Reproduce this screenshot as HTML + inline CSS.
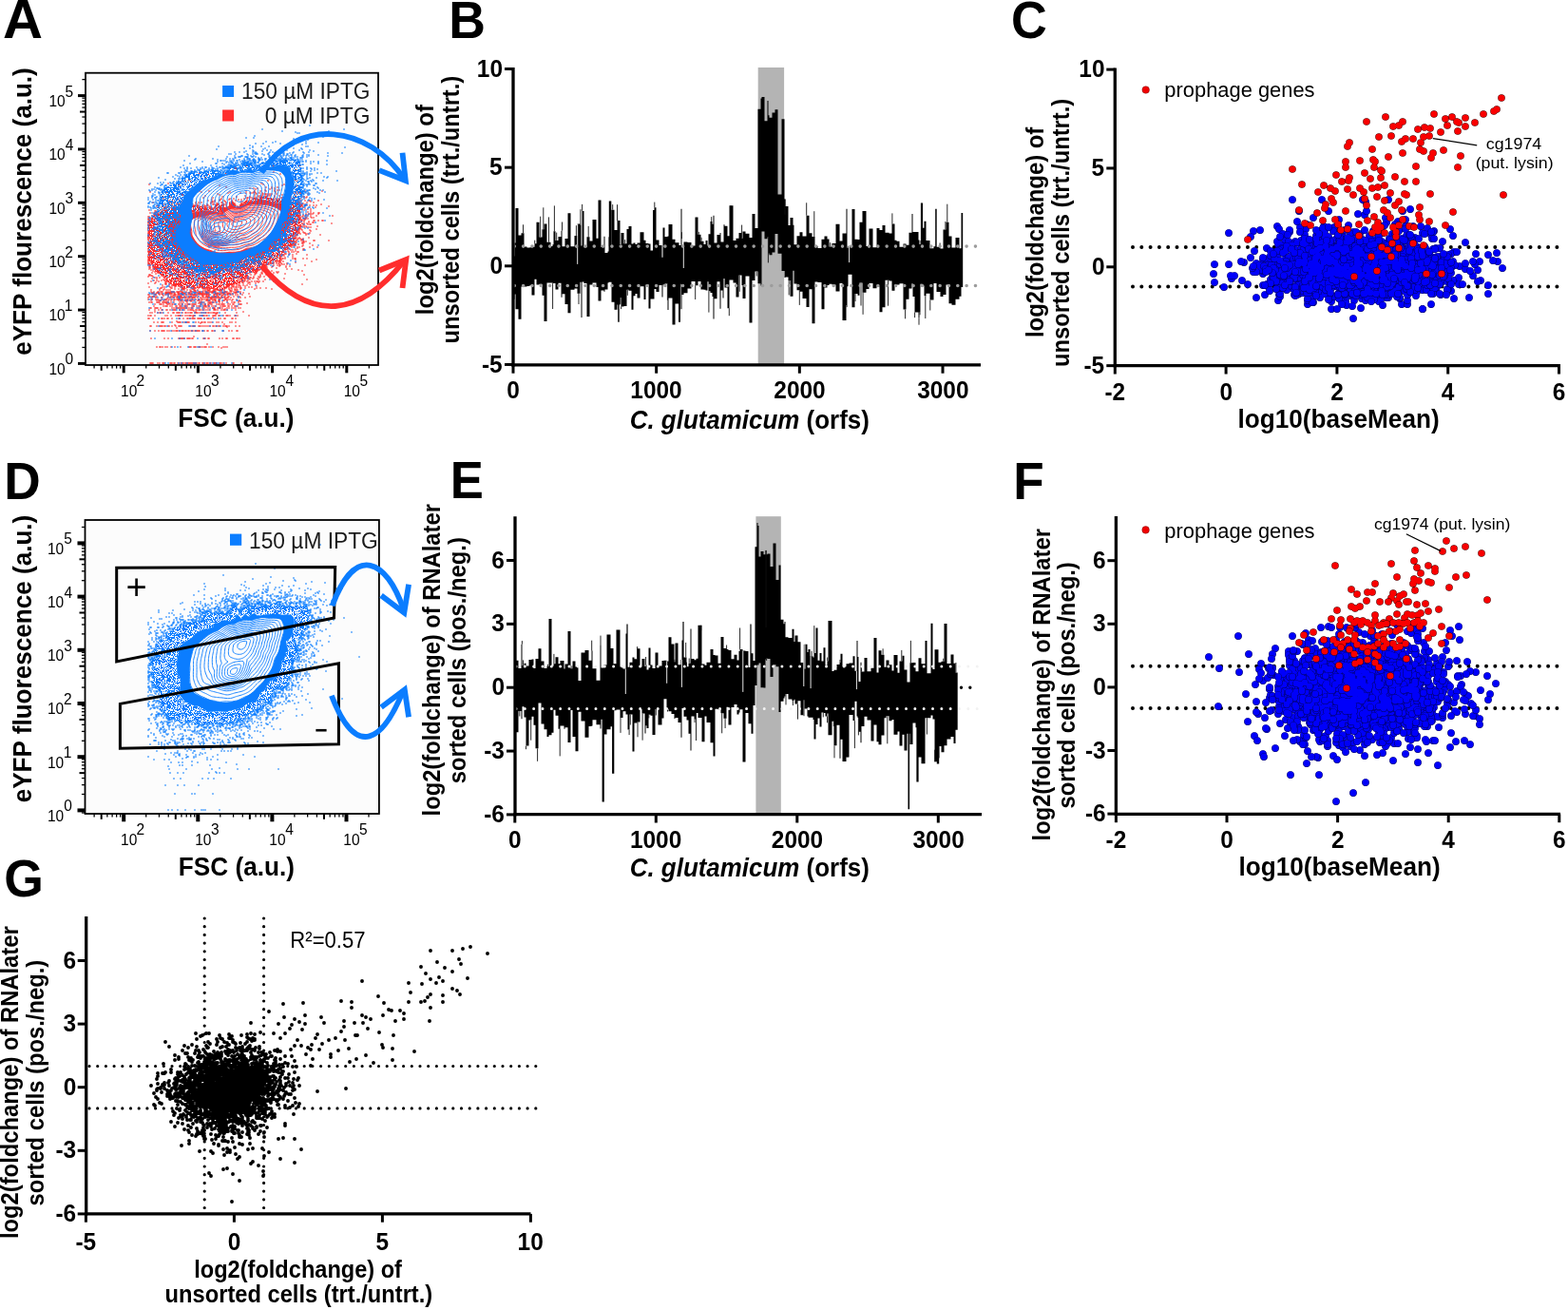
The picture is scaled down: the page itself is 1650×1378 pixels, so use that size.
<!DOCTYPE html>
<html><head><meta charset="utf-8"><style>html,body{margin:0;padding:0;background:#fff;}svg{display:block;}</style></head>
<body><svg width="1650" height="1378" viewBox="0 0 1650 1378" font-family="'Liberation Sans', Arial, sans-serif">
<rect width="1650" height="1378" fill="#fff"/>
<text transform="translate(3.11,40.37) scale(1.0230,1)" font-size="56.8" font-weight="bold" fill="#000">A</text>
<text transform="translate(472.25,39.80) scale(0.9573,1)" font-size="56" font-weight="bold" fill="#000">B</text>
<text transform="translate(1063.91,40.00) scale(0.9341,1)" font-size="56" font-weight="bold" fill="#000">C</text>
<text transform="translate(4.27,524.60) scale(0.9514,1)" font-size="56" font-weight="bold" fill="#000">D</text>
<text transform="translate(473.81,524.40) scale(0.9407,1)" font-size="56" font-weight="bold" fill="#000">E</text>
<text transform="translate(1066.28,524.60) scale(0.9500,1)" font-size="56" font-weight="bold" fill="#000">F</text>
<text transform="translate(4.16,943.30) scale(0.9559,1)" font-size="56" font-weight="bold" fill="#000">G</text>
<rect x="90" y="76.7" width="308" height="307.3" fill="#fcfcfc" stroke="#000" stroke-width="1.8"/>
<line x1="82.00" y1="382.40" x2="90.00" y2="382.40" stroke="#000" stroke-width="3.0"/>
<line x1="86.40" y1="365.43" x2="90.00" y2="365.43" stroke="#000" stroke-width="1.3"/>
<line x1="86.40" y1="355.51" x2="90.00" y2="355.51" stroke="#000" stroke-width="1.3"/>
<line x1="86.40" y1="348.47" x2="90.00" y2="348.47" stroke="#000" stroke-width="1.3"/>
<line x1="84.00" y1="343.01" x2="90.00" y2="343.01" stroke="#000" stroke-width="2.0"/>
<line x1="86.40" y1="338.54" x2="90.00" y2="338.54" stroke="#000" stroke-width="1.3"/>
<line x1="86.40" y1="334.77" x2="90.00" y2="334.77" stroke="#000" stroke-width="1.3"/>
<line x1="86.40" y1="331.50" x2="90.00" y2="331.50" stroke="#000" stroke-width="1.3"/>
<line x1="86.40" y1="328.62" x2="90.00" y2="328.62" stroke="#000" stroke-width="1.3"/>
<line x1="82.00" y1="326.04" x2="90.00" y2="326.04" stroke="#000" stroke-width="3.0"/>
<line x1="86.40" y1="309.07" x2="90.00" y2="309.07" stroke="#000" stroke-width="1.3"/>
<line x1="86.40" y1="299.15" x2="90.00" y2="299.15" stroke="#000" stroke-width="1.3"/>
<line x1="86.40" y1="292.11" x2="90.00" y2="292.11" stroke="#000" stroke-width="1.3"/>
<line x1="84.00" y1="286.65" x2="90.00" y2="286.65" stroke="#000" stroke-width="2.0"/>
<line x1="86.40" y1="282.18" x2="90.00" y2="282.18" stroke="#000" stroke-width="1.3"/>
<line x1="86.40" y1="278.41" x2="90.00" y2="278.41" stroke="#000" stroke-width="1.3"/>
<line x1="86.40" y1="275.14" x2="90.00" y2="275.14" stroke="#000" stroke-width="1.3"/>
<line x1="86.40" y1="272.26" x2="90.00" y2="272.26" stroke="#000" stroke-width="1.3"/>
<line x1="82.00" y1="269.68" x2="90.00" y2="269.68" stroke="#000" stroke-width="3.0"/>
<line x1="86.40" y1="252.71" x2="90.00" y2="252.71" stroke="#000" stroke-width="1.3"/>
<line x1="86.40" y1="242.79" x2="90.00" y2="242.79" stroke="#000" stroke-width="1.3"/>
<line x1="86.40" y1="235.75" x2="90.00" y2="235.75" stroke="#000" stroke-width="1.3"/>
<line x1="84.00" y1="230.29" x2="90.00" y2="230.29" stroke="#000" stroke-width="2.0"/>
<line x1="86.40" y1="225.82" x2="90.00" y2="225.82" stroke="#000" stroke-width="1.3"/>
<line x1="86.40" y1="222.05" x2="90.00" y2="222.05" stroke="#000" stroke-width="1.3"/>
<line x1="86.40" y1="218.78" x2="90.00" y2="218.78" stroke="#000" stroke-width="1.3"/>
<line x1="86.40" y1="215.90" x2="90.00" y2="215.90" stroke="#000" stroke-width="1.3"/>
<line x1="82.00" y1="213.32" x2="90.00" y2="213.32" stroke="#000" stroke-width="3.0"/>
<line x1="86.40" y1="196.35" x2="90.00" y2="196.35" stroke="#000" stroke-width="1.3"/>
<line x1="86.40" y1="186.43" x2="90.00" y2="186.43" stroke="#000" stroke-width="1.3"/>
<line x1="86.40" y1="179.39" x2="90.00" y2="179.39" stroke="#000" stroke-width="1.3"/>
<line x1="84.00" y1="173.93" x2="90.00" y2="173.93" stroke="#000" stroke-width="2.0"/>
<line x1="86.40" y1="169.46" x2="90.00" y2="169.46" stroke="#000" stroke-width="1.3"/>
<line x1="86.40" y1="165.69" x2="90.00" y2="165.69" stroke="#000" stroke-width="1.3"/>
<line x1="86.40" y1="162.42" x2="90.00" y2="162.42" stroke="#000" stroke-width="1.3"/>
<line x1="86.40" y1="159.54" x2="90.00" y2="159.54" stroke="#000" stroke-width="1.3"/>
<line x1="82.00" y1="156.96" x2="90.00" y2="156.96" stroke="#000" stroke-width="3.0"/>
<line x1="86.40" y1="139.99" x2="90.00" y2="139.99" stroke="#000" stroke-width="1.3"/>
<line x1="86.40" y1="130.07" x2="90.00" y2="130.07" stroke="#000" stroke-width="1.3"/>
<line x1="86.40" y1="123.03" x2="90.00" y2="123.03" stroke="#000" stroke-width="1.3"/>
<line x1="84.00" y1="117.57" x2="90.00" y2="117.57" stroke="#000" stroke-width="2.0"/>
<line x1="86.40" y1="113.10" x2="90.00" y2="113.10" stroke="#000" stroke-width="1.3"/>
<line x1="86.40" y1="109.33" x2="90.00" y2="109.33" stroke="#000" stroke-width="1.3"/>
<line x1="86.40" y1="106.06" x2="90.00" y2="106.06" stroke="#000" stroke-width="1.3"/>
<line x1="86.40" y1="103.18" x2="90.00" y2="103.18" stroke="#000" stroke-width="1.3"/>
<line x1="82.00" y1="100.60" x2="90.00" y2="100.60" stroke="#000" stroke-width="3.0"/>
<line x1="86.40" y1="83.63" x2="90.00" y2="83.63" stroke="#000" stroke-width="1.3"/>
<line x1="99.08" y1="384.00" x2="99.08" y2="387.60" stroke="#000" stroke-width="1.3"/>
<line x1="106.66" y1="384.00" x2="106.66" y2="389.80" stroke="#000" stroke-width="2.0"/>
<line x1="112.85" y1="384.00" x2="112.85" y2="387.60" stroke="#000" stroke-width="1.3"/>
<line x1="118.09" y1="384.00" x2="118.09" y2="387.60" stroke="#000" stroke-width="1.3"/>
<line x1="122.62" y1="384.00" x2="122.62" y2="387.60" stroke="#000" stroke-width="1.3"/>
<line x1="126.62" y1="384.00" x2="126.62" y2="387.60" stroke="#000" stroke-width="1.3"/>
<line x1="130.20" y1="384.00" x2="130.20" y2="392.30" stroke="#000" stroke-width="3.0"/>
<line x1="153.74" y1="384.00" x2="153.74" y2="387.60" stroke="#000" stroke-width="1.3"/>
<line x1="167.51" y1="384.00" x2="167.51" y2="387.60" stroke="#000" stroke-width="1.3"/>
<line x1="177.28" y1="384.00" x2="177.28" y2="387.60" stroke="#000" stroke-width="1.3"/>
<line x1="184.86" y1="384.00" x2="184.86" y2="389.80" stroke="#000" stroke-width="2.0"/>
<line x1="191.05" y1="384.00" x2="191.05" y2="387.60" stroke="#000" stroke-width="1.3"/>
<line x1="196.29" y1="384.00" x2="196.29" y2="387.60" stroke="#000" stroke-width="1.3"/>
<line x1="200.82" y1="384.00" x2="200.82" y2="387.60" stroke="#000" stroke-width="1.3"/>
<line x1="204.82" y1="384.00" x2="204.82" y2="387.60" stroke="#000" stroke-width="1.3"/>
<line x1="208.40" y1="384.00" x2="208.40" y2="392.30" stroke="#000" stroke-width="3.0"/>
<line x1="231.94" y1="384.00" x2="231.94" y2="387.60" stroke="#000" stroke-width="1.3"/>
<line x1="245.71" y1="384.00" x2="245.71" y2="387.60" stroke="#000" stroke-width="1.3"/>
<line x1="255.48" y1="384.00" x2="255.48" y2="387.60" stroke="#000" stroke-width="1.3"/>
<line x1="263.06" y1="384.00" x2="263.06" y2="389.80" stroke="#000" stroke-width="2.0"/>
<line x1="269.25" y1="384.00" x2="269.25" y2="387.60" stroke="#000" stroke-width="1.3"/>
<line x1="274.49" y1="384.00" x2="274.49" y2="387.60" stroke="#000" stroke-width="1.3"/>
<line x1="279.02" y1="384.00" x2="279.02" y2="387.60" stroke="#000" stroke-width="1.3"/>
<line x1="283.02" y1="384.00" x2="283.02" y2="387.60" stroke="#000" stroke-width="1.3"/>
<line x1="286.60" y1="384.00" x2="286.60" y2="392.30" stroke="#000" stroke-width="3.0"/>
<line x1="310.14" y1="384.00" x2="310.14" y2="387.60" stroke="#000" stroke-width="1.3"/>
<line x1="323.91" y1="384.00" x2="323.91" y2="387.60" stroke="#000" stroke-width="1.3"/>
<line x1="333.68" y1="384.00" x2="333.68" y2="387.60" stroke="#000" stroke-width="1.3"/>
<line x1="341.26" y1="384.00" x2="341.26" y2="389.80" stroke="#000" stroke-width="2.0"/>
<line x1="347.45" y1="384.00" x2="347.45" y2="387.60" stroke="#000" stroke-width="1.3"/>
<line x1="352.69" y1="384.00" x2="352.69" y2="387.60" stroke="#000" stroke-width="1.3"/>
<line x1="357.22" y1="384.00" x2="357.22" y2="387.60" stroke="#000" stroke-width="1.3"/>
<line x1="361.22" y1="384.00" x2="361.22" y2="387.60" stroke="#000" stroke-width="1.3"/>
<line x1="364.80" y1="384.00" x2="364.80" y2="392.30" stroke="#000" stroke-width="3.0"/>
<line x1="388.34" y1="384.00" x2="388.34" y2="387.60" stroke="#000" stroke-width="1.3"/>
<text transform="translate(51.39,393.80) scale(0.9700,1)" font-size="16" fill="#000">10</text>
<text transform="translate(68.38,383.40) scale(0.9700,1)" font-size="16" fill="#000">0</text>
<text transform="translate(51.39,337.44) scale(0.9700,1)" font-size="16" fill="#000">10</text>
<text transform="translate(67.76,327.04) scale(0.9700,1)" font-size="16" fill="#000">1</text>
<text transform="translate(51.39,281.08) scale(0.9700,1)" font-size="16" fill="#000">10</text>
<text transform="translate(68.22,270.68) scale(0.9700,1)" font-size="16" fill="#000">2</text>
<text transform="translate(51.39,224.72) scale(0.9700,1)" font-size="16" fill="#000">10</text>
<text transform="translate(68.38,214.32) scale(0.9700,1)" font-size="16" fill="#000">3</text>
<text transform="translate(51.39,168.36) scale(0.9700,1)" font-size="16" fill="#000">10</text>
<text transform="translate(68.69,157.96) scale(0.9700,1)" font-size="16" fill="#000">4</text>
<text transform="translate(51.39,112.00) scale(0.9700,1)" font-size="16" fill="#000">10</text>
<text transform="translate(68.38,101.60) scale(0.9700,1)" font-size="16" fill="#000">5</text>
<text transform="translate(127.06,417.30) scale(0.9700,1)" font-size="16" fill="#000">10</text>
<text transform="translate(143.62,406.40) scale(0.9700,1)" font-size="16" fill="#000">2</text>
<text transform="translate(205.26,417.30) scale(0.9700,1)" font-size="16" fill="#000">10</text>
<text transform="translate(221.98,406.40) scale(0.9700,1)" font-size="16" fill="#000">3</text>
<text transform="translate(283.46,417.30) scale(0.9700,1)" font-size="16" fill="#000">10</text>
<text transform="translate(300.49,406.40) scale(0.9700,1)" font-size="16" fill="#000">4</text>
<text transform="translate(361.66,417.30) scale(0.9700,1)" font-size="16" fill="#000">10</text>
<text transform="translate(378.38,406.40) scale(0.9700,1)" font-size="16" fill="#000">5</text>
<clipPath id="cA"><rect x="155.5" y="77" width="242" height="306"/></clipPath>
<pattern id="pR" width="28" height="28" patternUnits="userSpaceOnUse"><path d="M0 0h1v1h-1zM3 0h1v1h-1zM4 0h1v1h-1zM6 0h1v1h-1zM9 0h1v1h-1zM10 0h1v1h-1zM11 0h1v1h-1zM12 0h1v1h-1zM13 0h1v1h-1zM14 0h1v1h-1zM15 0h1v1h-1zM18 0h1v1h-1zM20 0h1v1h-1zM21 0h1v1h-1zM22 0h1v1h-1zM23 0h1v1h-1zM24 0h1v1h-1zM25 0h1v1h-1zM26 0h1v1h-1zM0 1h1v1h-1zM1 1h1v1h-1zM2 1h1v1h-1zM3 1h1v1h-1zM4 1h1v1h-1zM5 1h1v1h-1zM7 1h1v1h-1zM8 1h1v1h-1zM9 1h1v1h-1zM11 1h1v1h-1zM12 1h1v1h-1zM14 1h1v1h-1zM16 1h1v1h-1zM18 1h1v1h-1zM19 1h1v1h-1zM20 1h1v1h-1zM22 1h1v1h-1zM23 1h1v1h-1zM24 1h1v1h-1zM25 1h1v1h-1zM26 1h1v1h-1zM27 1h1v1h-1zM1 2h1v1h-1zM3 2h1v1h-1zM4 2h1v1h-1zM5 2h1v1h-1zM6 2h1v1h-1zM7 2h1v1h-1zM8 2h1v1h-1zM9 2h1v1h-1zM10 2h1v1h-1zM11 2h1v1h-1zM13 2h1v1h-1zM14 2h1v1h-1zM15 2h1v1h-1zM17 2h1v1h-1zM18 2h1v1h-1zM22 2h1v1h-1zM23 2h1v1h-1zM24 2h1v1h-1zM26 2h1v1h-1zM27 2h1v1h-1zM1 3h1v1h-1zM2 3h1v1h-1zM3 3h1v1h-1zM4 3h1v1h-1zM5 3h1v1h-1zM6 3h1v1h-1zM8 3h1v1h-1zM9 3h1v1h-1zM10 3h1v1h-1zM12 3h1v1h-1zM13 3h1v1h-1zM14 3h1v1h-1zM15 3h1v1h-1zM17 3h1v1h-1zM18 3h1v1h-1zM19 3h1v1h-1zM21 3h1v1h-1zM22 3h1v1h-1zM24 3h1v1h-1zM25 3h1v1h-1zM0 4h1v1h-1zM2 4h1v1h-1zM5 4h1v1h-1zM6 4h1v1h-1zM8 4h1v1h-1zM9 4h1v1h-1zM11 4h1v1h-1zM13 4h1v1h-1zM14 4h1v1h-1zM15 4h1v1h-1zM16 4h1v1h-1zM17 4h1v1h-1zM19 4h1v1h-1zM20 4h1v1h-1zM21 4h1v1h-1zM23 4h1v1h-1zM25 4h1v1h-1zM26 4h1v1h-1zM1 5h1v1h-1zM2 5h1v1h-1zM4 5h1v1h-1zM6 5h1v1h-1zM7 5h1v1h-1zM8 5h1v1h-1zM10 5h1v1h-1zM12 5h1v1h-1zM14 5h1v1h-1zM16 5h1v1h-1zM17 5h1v1h-1zM18 5h1v1h-1zM19 5h1v1h-1zM20 5h1v1h-1zM23 5h1v1h-1zM24 5h1v1h-1zM25 5h1v1h-1zM26 5h1v1h-1zM27 5h1v1h-1zM0 6h1v1h-1zM2 6h1v1h-1zM3 6h1v1h-1zM4 6h1v1h-1zM5 6h1v1h-1zM6 6h1v1h-1zM7 6h1v1h-1zM11 6h1v1h-1zM15 6h1v1h-1zM17 6h1v1h-1zM18 6h1v1h-1zM19 6h1v1h-1zM20 6h1v1h-1zM21 6h1v1h-1zM22 6h1v1h-1zM23 6h1v1h-1zM24 6h1v1h-1zM25 6h1v1h-1zM26 6h1v1h-1zM27 6h1v1h-1zM0 7h1v1h-1zM1 7h1v1h-1zM3 7h1v1h-1zM5 7h1v1h-1zM6 7h1v1h-1zM7 7h1v1h-1zM8 7h1v1h-1zM9 7h1v1h-1zM13 7h1v1h-1zM14 7h1v1h-1zM15 7h1v1h-1zM16 7h1v1h-1zM17 7h1v1h-1zM19 7h1v1h-1zM22 7h1v1h-1zM25 7h1v1h-1zM26 7h1v1h-1zM27 7h1v1h-1zM0 8h1v1h-1zM1 8h1v1h-1zM2 8h1v1h-1zM3 8h1v1h-1zM6 8h1v1h-1zM10 8h1v1h-1zM11 8h1v1h-1zM12 8h1v1h-1zM13 8h1v1h-1zM14 8h1v1h-1zM16 8h1v1h-1zM17 8h1v1h-1zM18 8h1v1h-1zM19 8h1v1h-1zM20 8h1v1h-1zM21 8h1v1h-1zM22 8h1v1h-1zM23 8h1v1h-1zM25 8h1v1h-1zM26 8h1v1h-1zM27 8h1v1h-1zM0 9h1v1h-1zM1 9h1v1h-1zM2 9h1v1h-1zM3 9h1v1h-1zM4 9h1v1h-1zM6 9h1v1h-1zM7 9h1v1h-1zM8 9h1v1h-1zM10 9h1v1h-1zM11 9h1v1h-1zM12 9h1v1h-1zM13 9h1v1h-1zM15 9h1v1h-1zM16 9h1v1h-1zM18 9h1v1h-1zM19 9h1v1h-1zM20 9h1v1h-1zM22 9h1v1h-1zM24 9h1v1h-1zM0 10h1v1h-1zM1 10h1v1h-1zM2 10h1v1h-1zM3 10h1v1h-1zM5 10h1v1h-1zM6 10h1v1h-1zM7 10h1v1h-1zM10 10h1v1h-1zM11 10h1v1h-1zM13 10h1v1h-1zM19 10h1v1h-1zM20 10h1v1h-1zM21 10h1v1h-1zM25 10h1v1h-1zM26 10h1v1h-1zM27 10h1v1h-1zM0 11h1v1h-1zM2 11h1v1h-1zM3 11h1v1h-1zM4 11h1v1h-1zM6 11h1v1h-1zM9 11h1v1h-1zM10 11h1v1h-1zM13 11h1v1h-1zM17 11h1v1h-1zM18 11h1v1h-1zM20 11h1v1h-1zM21 11h1v1h-1zM22 11h1v1h-1zM23 11h1v1h-1zM25 11h1v1h-1zM27 11h1v1h-1zM1 12h1v1h-1zM2 12h1v1h-1zM3 12h1v1h-1zM4 12h1v1h-1zM5 12h1v1h-1zM7 12h1v1h-1zM8 12h1v1h-1zM12 12h1v1h-1zM13 12h1v1h-1zM14 12h1v1h-1zM15 12h1v1h-1zM16 12h1v1h-1zM17 12h1v1h-1zM18 12h1v1h-1zM19 12h1v1h-1zM21 12h1v1h-1zM22 12h1v1h-1zM23 12h1v1h-1zM24 12h1v1h-1zM25 12h1v1h-1zM26 12h1v1h-1zM27 12h1v1h-1zM0 13h1v1h-1zM1 13h1v1h-1zM2 13h1v1h-1zM5 13h1v1h-1zM6 13h1v1h-1zM7 13h1v1h-1zM10 13h1v1h-1zM12 13h1v1h-1zM13 13h1v1h-1zM14 13h1v1h-1zM16 13h1v1h-1zM17 13h1v1h-1zM18 13h1v1h-1zM19 13h1v1h-1zM20 13h1v1h-1zM21 13h1v1h-1zM2 14h1v1h-1zM3 14h1v1h-1zM5 14h1v1h-1zM7 14h1v1h-1zM8 14h1v1h-1zM10 14h1v1h-1zM11 14h1v1h-1zM12 14h1v1h-1zM14 14h1v1h-1zM16 14h1v1h-1zM19 14h1v1h-1zM21 14h1v1h-1zM22 14h1v1h-1zM25 14h1v1h-1zM26 14h1v1h-1zM27 14h1v1h-1zM0 15h1v1h-1zM2 15h1v1h-1zM4 15h1v1h-1zM6 15h1v1h-1zM7 15h1v1h-1zM9 15h1v1h-1zM11 15h1v1h-1zM12 15h1v1h-1zM13 15h1v1h-1zM15 15h1v1h-1zM16 15h1v1h-1zM17 15h1v1h-1zM18 15h1v1h-1zM19 15h1v1h-1zM20 15h1v1h-1zM21 15h1v1h-1zM22 15h1v1h-1zM24 15h1v1h-1zM25 15h1v1h-1zM0 16h1v1h-1zM2 16h1v1h-1zM3 16h1v1h-1zM5 16h1v1h-1zM6 16h1v1h-1zM7 16h1v1h-1zM8 16h1v1h-1zM9 16h1v1h-1zM11 16h1v1h-1zM12 16h1v1h-1zM14 16h1v1h-1zM15 16h1v1h-1zM17 16h1v1h-1zM20 16h1v1h-1zM22 16h1v1h-1zM23 16h1v1h-1zM25 16h1v1h-1zM26 16h1v1h-1zM27 16h1v1h-1zM0 17h1v1h-1zM1 17h1v1h-1zM2 17h1v1h-1zM3 17h1v1h-1zM4 17h1v1h-1zM5 17h1v1h-1zM6 17h1v1h-1zM8 17h1v1h-1zM9 17h1v1h-1zM10 17h1v1h-1zM11 17h1v1h-1zM14 17h1v1h-1zM15 17h1v1h-1zM17 17h1v1h-1zM19 17h1v1h-1zM21 17h1v1h-1zM22 17h1v1h-1zM23 17h1v1h-1zM24 17h1v1h-1zM27 17h1v1h-1zM1 18h1v1h-1zM2 18h1v1h-1zM3 18h1v1h-1zM4 18h1v1h-1zM5 18h1v1h-1zM8 18h1v1h-1zM11 18h1v1h-1zM12 18h1v1h-1zM14 18h1v1h-1zM15 18h1v1h-1zM16 18h1v1h-1zM17 18h1v1h-1zM18 18h1v1h-1zM19 18h1v1h-1zM20 18h1v1h-1zM21 18h1v1h-1zM22 18h1v1h-1zM24 18h1v1h-1zM25 18h1v1h-1zM26 18h1v1h-1zM27 18h1v1h-1zM0 19h1v1h-1zM3 19h1v1h-1zM4 19h1v1h-1zM5 19h1v1h-1zM7 19h1v1h-1zM9 19h1v1h-1zM10 19h1v1h-1zM13 19h1v1h-1zM14 19h1v1h-1zM15 19h1v1h-1zM16 19h1v1h-1zM17 19h1v1h-1zM18 19h1v1h-1zM19 19h1v1h-1zM20 19h1v1h-1zM21 19h1v1h-1zM22 19h1v1h-1zM23 19h1v1h-1zM25 19h1v1h-1zM26 19h1v1h-1zM27 19h1v1h-1zM0 20h1v1h-1zM1 20h1v1h-1zM2 20h1v1h-1zM3 20h1v1h-1zM4 20h1v1h-1zM6 20h1v1h-1zM7 20h1v1h-1zM8 20h1v1h-1zM9 20h1v1h-1zM11 20h1v1h-1zM14 20h1v1h-1zM15 20h1v1h-1zM16 20h1v1h-1zM17 20h1v1h-1zM19 20h1v1h-1zM22 20h1v1h-1zM23 20h1v1h-1zM24 20h1v1h-1zM0 21h1v1h-1zM1 21h1v1h-1zM2 21h1v1h-1zM3 21h1v1h-1zM5 21h1v1h-1zM6 21h1v1h-1zM7 21h1v1h-1zM8 21h1v1h-1zM11 21h1v1h-1zM14 21h1v1h-1zM15 21h1v1h-1zM16 21h1v1h-1zM17 21h1v1h-1zM18 21h1v1h-1zM19 21h1v1h-1zM21 21h1v1h-1zM25 21h1v1h-1zM26 21h1v1h-1zM0 22h1v1h-1zM1 22h1v1h-1zM4 22h1v1h-1zM5 22h1v1h-1zM7 22h1v1h-1zM9 22h1v1h-1zM11 22h1v1h-1zM12 22h1v1h-1zM13 22h1v1h-1zM14 22h1v1h-1zM16 22h1v1h-1zM17 22h1v1h-1zM19 22h1v1h-1zM20 22h1v1h-1zM21 22h1v1h-1zM22 22h1v1h-1zM24 22h1v1h-1zM26 22h1v1h-1zM0 23h1v1h-1zM3 23h1v1h-1zM4 23h1v1h-1zM7 23h1v1h-1zM9 23h1v1h-1zM10 23h1v1h-1zM12 23h1v1h-1zM13 23h1v1h-1zM14 23h1v1h-1zM15 23h1v1h-1zM16 23h1v1h-1zM17 23h1v1h-1zM18 23h1v1h-1zM19 23h1v1h-1zM20 23h1v1h-1zM21 23h1v1h-1zM24 23h1v1h-1zM25 23h1v1h-1zM26 23h1v1h-1zM27 23h1v1h-1zM0 24h1v1h-1zM2 24h1v1h-1zM4 24h1v1h-1zM5 24h1v1h-1zM8 24h1v1h-1zM9 24h1v1h-1zM10 24h1v1h-1zM12 24h1v1h-1zM13 24h1v1h-1zM15 24h1v1h-1zM16 24h1v1h-1zM18 24h1v1h-1zM19 24h1v1h-1zM20 24h1v1h-1zM21 24h1v1h-1zM22 24h1v1h-1zM23 24h1v1h-1zM25 24h1v1h-1zM26 24h1v1h-1zM27 24h1v1h-1zM0 25h1v1h-1zM2 25h1v1h-1zM4 25h1v1h-1zM5 25h1v1h-1zM6 25h1v1h-1zM7 25h1v1h-1zM8 25h1v1h-1zM9 25h1v1h-1zM11 25h1v1h-1zM12 25h1v1h-1zM14 25h1v1h-1zM15 25h1v1h-1zM16 25h1v1h-1zM17 25h1v1h-1zM19 25h1v1h-1zM20 25h1v1h-1zM23 25h1v1h-1zM24 25h1v1h-1zM25 25h1v1h-1zM0 26h1v1h-1zM1 26h1v1h-1zM2 26h1v1h-1zM3 26h1v1h-1zM5 26h1v1h-1zM6 26h1v1h-1zM7 26h1v1h-1zM8 26h1v1h-1zM10 26h1v1h-1zM11 26h1v1h-1zM12 26h1v1h-1zM15 26h1v1h-1zM17 26h1v1h-1zM19 26h1v1h-1zM21 26h1v1h-1zM22 26h1v1h-1zM23 26h1v1h-1zM24 26h1v1h-1zM25 26h1v1h-1zM26 26h1v1h-1zM27 26h1v1h-1zM0 27h1v1h-1zM1 27h1v1h-1zM2 27h1v1h-1zM3 27h1v1h-1zM4 27h1v1h-1zM5 27h1v1h-1zM6 27h1v1h-1zM7 27h1v1h-1zM8 27h1v1h-1zM10 27h1v1h-1zM11 27h1v1h-1zM13 27h1v1h-1zM16 27h1v1h-1zM18 27h1v1h-1zM19 27h1v1h-1zM20 27h1v1h-1zM21 27h1v1h-1zM23 27h1v1h-1zM25 27h1v1h-1zM26 27h1v1h-1z" fill="#ff2d2d"/><path d="M7 0h1v1h-1zM0 2h1v1h-1zM19 2h1v1h-1zM25 2h1v1h-1zM16 3h1v1h-1zM10 4h1v1h-1zM27 4h1v1h-1zM11 5h1v1h-1zM1 6h1v1h-1zM10 6h1v1h-1zM12 6h1v1h-1zM4 8h1v1h-1zM17 10h1v1h-1zM22 10h1v1h-1zM24 11h1v1h-1zM3 15h1v1h-1zM16 16h1v1h-1zM21 16h1v1h-1zM11 19h1v1h-1zM7 24h1v1h-1zM14 24h1v1h-1z" fill="#0b7dff"/></pattern>
<pattern id="pB" width="28" height="28" patternUnits="userSpaceOnUse"><path d="M0 0h1v1h-1zM1 0h1v1h-1zM2 0h1v1h-1zM3 0h1v1h-1zM6 0h1v1h-1zM7 0h1v1h-1zM8 0h1v1h-1zM9 0h1v1h-1zM15 0h1v1h-1zM16 0h1v1h-1zM17 0h1v1h-1zM19 0h1v1h-1zM20 0h1v1h-1zM21 0h1v1h-1zM22 0h1v1h-1zM24 0h1v1h-1zM25 0h1v1h-1zM1 1h1v1h-1zM2 1h1v1h-1zM5 1h1v1h-1zM6 1h1v1h-1zM7 1h1v1h-1zM8 1h1v1h-1zM9 1h1v1h-1zM10 1h1v1h-1zM11 1h1v1h-1zM12 1h1v1h-1zM13 1h1v1h-1zM14 1h1v1h-1zM15 1h1v1h-1zM16 1h1v1h-1zM17 1h1v1h-1zM18 1h1v1h-1zM19 1h1v1h-1zM21 1h1v1h-1zM22 1h1v1h-1zM1 2h1v1h-1zM3 2h1v1h-1zM4 2h1v1h-1zM5 2h1v1h-1zM6 2h1v1h-1zM7 2h1v1h-1zM11 2h1v1h-1zM14 2h1v1h-1zM15 2h1v1h-1zM16 2h1v1h-1zM17 2h1v1h-1zM18 2h1v1h-1zM19 2h1v1h-1zM20 2h1v1h-1zM22 2h1v1h-1zM24 2h1v1h-1zM0 3h1v1h-1zM2 3h1v1h-1zM3 3h1v1h-1zM4 3h1v1h-1zM5 3h1v1h-1zM6 3h1v1h-1zM7 3h1v1h-1zM8 3h1v1h-1zM9 3h1v1h-1zM11 3h1v1h-1zM12 3h1v1h-1zM13 3h1v1h-1zM14 3h1v1h-1zM15 3h1v1h-1zM17 3h1v1h-1zM18 3h1v1h-1zM19 3h1v1h-1zM20 3h1v1h-1zM23 3h1v1h-1zM24 3h1v1h-1zM25 3h1v1h-1zM26 3h1v1h-1zM3 4h1v1h-1zM4 4h1v1h-1zM5 4h1v1h-1zM7 4h1v1h-1zM8 4h1v1h-1zM10 4h1v1h-1zM11 4h1v1h-1zM12 4h1v1h-1zM14 4h1v1h-1zM15 4h1v1h-1zM16 4h1v1h-1zM18 4h1v1h-1zM20 4h1v1h-1zM22 4h1v1h-1zM24 4h1v1h-1zM27 4h1v1h-1zM0 5h1v1h-1zM1 5h1v1h-1zM2 5h1v1h-1zM3 5h1v1h-1zM5 5h1v1h-1zM6 5h1v1h-1zM7 5h1v1h-1zM8 5h1v1h-1zM9 5h1v1h-1zM10 5h1v1h-1zM11 5h1v1h-1zM12 5h1v1h-1zM13 5h1v1h-1zM15 5h1v1h-1zM16 5h1v1h-1zM17 5h1v1h-1zM18 5h1v1h-1zM19 5h1v1h-1zM20 5h1v1h-1zM21 5h1v1h-1zM25 5h1v1h-1zM26 5h1v1h-1zM27 5h1v1h-1zM0 6h1v1h-1zM2 6h1v1h-1zM3 6h1v1h-1zM5 6h1v1h-1zM6 6h1v1h-1zM8 6h1v1h-1zM9 6h1v1h-1zM10 6h1v1h-1zM12 6h1v1h-1zM13 6h1v1h-1zM18 6h1v1h-1zM19 6h1v1h-1zM20 6h1v1h-1zM21 6h1v1h-1zM23 6h1v1h-1zM24 6h1v1h-1zM25 6h1v1h-1zM26 6h1v1h-1zM27 6h1v1h-1zM0 7h1v1h-1zM3 7h1v1h-1zM6 7h1v1h-1zM9 7h1v1h-1zM10 7h1v1h-1zM13 7h1v1h-1zM14 7h1v1h-1zM17 7h1v1h-1zM18 7h1v1h-1zM19 7h1v1h-1zM21 7h1v1h-1zM22 7h1v1h-1zM23 7h1v1h-1zM24 7h1v1h-1zM26 7h1v1h-1zM27 7h1v1h-1zM1 8h1v1h-1zM2 8h1v1h-1zM4 8h1v1h-1zM7 8h1v1h-1zM8 8h1v1h-1zM9 8h1v1h-1zM11 8h1v1h-1zM12 8h1v1h-1zM13 8h1v1h-1zM14 8h1v1h-1zM15 8h1v1h-1zM18 8h1v1h-1zM20 8h1v1h-1zM21 8h1v1h-1zM22 8h1v1h-1zM24 8h1v1h-1zM25 8h1v1h-1zM27 8h1v1h-1zM1 9h1v1h-1zM8 9h1v1h-1zM9 9h1v1h-1zM10 9h1v1h-1zM11 9h1v1h-1zM12 9h1v1h-1zM15 9h1v1h-1zM17 9h1v1h-1zM18 9h1v1h-1zM22 9h1v1h-1zM23 9h1v1h-1zM25 9h1v1h-1zM0 10h1v1h-1zM2 10h1v1h-1zM5 10h1v1h-1zM6 10h1v1h-1zM7 10h1v1h-1zM8 10h1v1h-1zM9 10h1v1h-1zM12 10h1v1h-1zM14 10h1v1h-1zM15 10h1v1h-1zM17 10h1v1h-1zM20 10h1v1h-1zM21 10h1v1h-1zM25 10h1v1h-1zM0 11h1v1h-1zM1 11h1v1h-1zM2 11h1v1h-1zM3 11h1v1h-1zM4 11h1v1h-1zM5 11h1v1h-1zM6 11h1v1h-1zM8 11h1v1h-1zM9 11h1v1h-1zM10 11h1v1h-1zM11 11h1v1h-1zM13 11h1v1h-1zM14 11h1v1h-1zM15 11h1v1h-1zM16 11h1v1h-1zM18 11h1v1h-1zM19 11h1v1h-1zM21 11h1v1h-1zM23 11h1v1h-1zM24 11h1v1h-1zM1 12h1v1h-1zM2 12h1v1h-1zM6 12h1v1h-1zM7 12h1v1h-1zM8 12h1v1h-1zM9 12h1v1h-1zM14 12h1v1h-1zM16 12h1v1h-1zM18 12h1v1h-1zM19 12h1v1h-1zM21 12h1v1h-1zM22 12h1v1h-1zM23 12h1v1h-1zM25 12h1v1h-1zM27 12h1v1h-1zM0 13h1v1h-1zM1 13h1v1h-1zM5 13h1v1h-1zM8 13h1v1h-1zM11 13h1v1h-1zM13 13h1v1h-1zM14 13h1v1h-1zM16 13h1v1h-1zM17 13h1v1h-1zM18 13h1v1h-1zM19 13h1v1h-1zM22 13h1v1h-1zM23 13h1v1h-1zM27 13h1v1h-1zM0 14h1v1h-1zM1 14h1v1h-1zM2 14h1v1h-1zM3 14h1v1h-1zM4 14h1v1h-1zM5 14h1v1h-1zM6 14h1v1h-1zM7 14h1v1h-1zM8 14h1v1h-1zM15 14h1v1h-1zM17 14h1v1h-1zM18 14h1v1h-1zM20 14h1v1h-1zM21 14h1v1h-1zM23 14h1v1h-1zM25 14h1v1h-1zM26 14h1v1h-1zM27 14h1v1h-1zM0 15h1v1h-1zM2 15h1v1h-1zM3 15h1v1h-1zM4 15h1v1h-1zM7 15h1v1h-1zM8 15h1v1h-1zM10 15h1v1h-1zM11 15h1v1h-1zM12 15h1v1h-1zM13 15h1v1h-1zM16 15h1v1h-1zM17 15h1v1h-1zM20 15h1v1h-1zM21 15h1v1h-1zM22 15h1v1h-1zM26 15h1v1h-1zM0 16h1v1h-1zM2 16h1v1h-1zM3 16h1v1h-1zM7 16h1v1h-1zM8 16h1v1h-1zM9 16h1v1h-1zM10 16h1v1h-1zM11 16h1v1h-1zM12 16h1v1h-1zM13 16h1v1h-1zM15 16h1v1h-1zM16 16h1v1h-1zM18 16h1v1h-1zM19 16h1v1h-1zM20 16h1v1h-1zM21 16h1v1h-1zM22 16h1v1h-1zM24 16h1v1h-1zM27 16h1v1h-1zM0 17h1v1h-1zM1 17h1v1h-1zM2 17h1v1h-1zM3 17h1v1h-1zM5 17h1v1h-1zM8 17h1v1h-1zM9 17h1v1h-1zM12 17h1v1h-1zM14 17h1v1h-1zM15 17h1v1h-1zM16 17h1v1h-1zM18 17h1v1h-1zM19 17h1v1h-1zM21 17h1v1h-1zM24 17h1v1h-1zM25 17h1v1h-1zM27 17h1v1h-1zM0 18h1v1h-1zM1 18h1v1h-1zM2 18h1v1h-1zM3 18h1v1h-1zM6 18h1v1h-1zM7 18h1v1h-1zM8 18h1v1h-1zM9 18h1v1h-1zM10 18h1v1h-1zM12 18h1v1h-1zM15 18h1v1h-1zM19 18h1v1h-1zM22 18h1v1h-1zM23 18h1v1h-1zM24 18h1v1h-1zM27 18h1v1h-1zM2 19h1v1h-1zM3 19h1v1h-1zM5 19h1v1h-1zM6 19h1v1h-1zM9 19h1v1h-1zM10 19h1v1h-1zM11 19h1v1h-1zM15 19h1v1h-1zM16 19h1v1h-1zM17 19h1v1h-1zM19 19h1v1h-1zM20 19h1v1h-1zM21 19h1v1h-1zM23 19h1v1h-1zM24 19h1v1h-1zM25 19h1v1h-1zM26 19h1v1h-1zM2 20h1v1h-1zM3 20h1v1h-1zM4 20h1v1h-1zM6 20h1v1h-1zM8 20h1v1h-1zM9 20h1v1h-1zM11 20h1v1h-1zM12 20h1v1h-1zM13 20h1v1h-1zM15 20h1v1h-1zM16 20h1v1h-1zM17 20h1v1h-1zM19 20h1v1h-1zM20 20h1v1h-1zM24 20h1v1h-1zM26 20h1v1h-1zM3 21h1v1h-1zM5 21h1v1h-1zM8 21h1v1h-1zM9 21h1v1h-1zM10 21h1v1h-1zM12 21h1v1h-1zM14 21h1v1h-1zM17 21h1v1h-1zM18 21h1v1h-1zM19 21h1v1h-1zM20 21h1v1h-1zM24 21h1v1h-1zM26 21h1v1h-1zM1 22h1v1h-1zM6 22h1v1h-1zM7 22h1v1h-1zM8 22h1v1h-1zM11 22h1v1h-1zM13 22h1v1h-1zM14 22h1v1h-1zM15 22h1v1h-1zM16 22h1v1h-1zM17 22h1v1h-1zM18 22h1v1h-1zM19 22h1v1h-1zM20 22h1v1h-1zM22 22h1v1h-1zM23 22h1v1h-1zM24 22h1v1h-1zM25 22h1v1h-1zM26 22h1v1h-1zM2 23h1v1h-1zM4 23h1v1h-1zM5 23h1v1h-1zM6 23h1v1h-1zM9 23h1v1h-1zM10 23h1v1h-1zM13 23h1v1h-1zM14 23h1v1h-1zM15 23h1v1h-1zM17 23h1v1h-1zM18 23h1v1h-1zM19 23h1v1h-1zM20 23h1v1h-1zM21 23h1v1h-1zM22 23h1v1h-1zM24 23h1v1h-1zM27 23h1v1h-1zM0 24h1v1h-1zM1 24h1v1h-1zM5 24h1v1h-1zM8 24h1v1h-1zM10 24h1v1h-1zM14 24h1v1h-1zM16 24h1v1h-1zM17 24h1v1h-1zM18 24h1v1h-1zM19 24h1v1h-1zM21 24h1v1h-1zM22 24h1v1h-1zM23 24h1v1h-1zM25 24h1v1h-1zM26 24h1v1h-1zM3 25h1v1h-1zM8 25h1v1h-1zM9 25h1v1h-1zM11 25h1v1h-1zM12 25h1v1h-1zM13 25h1v1h-1zM14 25h1v1h-1zM15 25h1v1h-1zM17 25h1v1h-1zM19 25h1v1h-1zM20 25h1v1h-1zM21 25h1v1h-1zM23 25h1v1h-1zM24 25h1v1h-1zM27 25h1v1h-1zM1 26h1v1h-1zM3 26h1v1h-1zM5 26h1v1h-1zM7 26h1v1h-1zM8 26h1v1h-1zM10 26h1v1h-1zM11 26h1v1h-1zM12 26h1v1h-1zM14 26h1v1h-1zM15 26h1v1h-1zM16 26h1v1h-1zM17 26h1v1h-1zM19 26h1v1h-1zM23 26h1v1h-1zM24 26h1v1h-1zM25 26h1v1h-1zM26 26h1v1h-1zM27 26h1v1h-1zM2 27h1v1h-1zM3 27h1v1h-1zM5 27h1v1h-1zM6 27h1v1h-1zM11 27h1v1h-1zM12 27h1v1h-1zM14 27h1v1h-1zM15 27h1v1h-1zM16 27h1v1h-1zM17 27h1v1h-1zM19 27h1v1h-1zM23 27h1v1h-1z" fill="#0b7dff"/><path d="M7 6h1v1h-1zM23 8h1v1h-1zM24 9h1v1h-1zM3 10h1v1h-1zM10 10h1v1h-1zM12 11h1v1h-1zM13 14h1v1h-1zM23 15h1v1h-1zM20 18h1v1h-1zM2 21h1v1h-1zM4 22h1v1h-1zM27 22h1v1h-1zM20 26h1v1h-1zM4 27h1v1h-1zM21 27h1v1h-1z" fill="#ff2d2d"/></pattern>
<path d="M156 228h0m0 2h0m0 1h0m0 3h0m0 1h0m0 2h0m0 3h0m0 6h0m0 2h0m0 1h0m0 1h0m0 1h0m0 1h0m0 5h0m0 2h0m0 3h0m0 2h0m0 1h0m0 5h0m0 4h0m0 1h0m0 1h0m0 1h0m0 1h0m0 13h0m0 7h0m0 12h0m0 3h0m0 2h0m0 17h0m0 3h0m1-141h0m0 27h0m0 7h0m0 2h0m0 3h0m0 1h0m0 15h0m0 15h0m0 1h0m0 6h0m0 2h0m0 4h0m0 1h0m0 2h0m0 1h0m0 2h0m0 6h0m0 1h0m0 12h0m0 8h0m0 2h0m0 6h0m0 8h0m0 9h0m1-133h0m0 22h0m0 9h0m0 6h0m0 12h0m0 6h0m0 3h0m0 6h0m0 3h0m0 9h0m0 1h0m0 2h0m0 1h0m0 7h0m0 23h0m0 12h0m0 5h0m0 3h0m0 11h0m0 5h0m0 34h0m1-134h0m0 27h0m0 9h0m0 6h0m0 6h0m0 9h0m0 2h0m0 8h0m0 1h0m0 2h0m0 6h0m0 8h0m0 11h0m0 13h0m0 26h0m1-155h0m0 2h0m0 1h0m0 2h0m0 45h0m0 1h0m0 9h0m0 3h0m0 3h0m0 15h0m0 1h0m0 3h0m0 1h0m0 2h0m0 3h0m0 11h0m0 53h0m1-169h0m0 53h0m0 14h0m0 1h0m0 2h0m0 2h0m0 6h0m0 17h0m0 4h0m0 23h0m0 47h0m1-158h0m0 2h0m0 1h0m0 11h0m0 15h0m0 26h0m0 3h0m0 13h0m0 12h0m0 2h0m0 3h0m0 10h0m0 17h0m1-117h0m0 2h0m0 1h0m0 1h0m0 55h0m0 2h0m0 3h0m0 6h0m0 6h0m0 12h0m0 2h0m0 8h0m0 4h0m0 2h0m0 2h0m0 4h0m0 16h0m1-126h0m0 2h0m0 2h0m0 1h0m0 56h0m0 2h0m0 3h0m0 9h0m0 12h0m0 1h0m0 3h0m0 2h0m0 9h0m1-107h0m0 6h0m0 69h0m0 1h0m0 2h0m0 13h0m0 4h0m0 4h0m0 2h0m0 6h0m0 19h0m0 22h0m1-149h0m0 71h0m0 20h0m0 1h0m0 7h0m0 3h0m0 6h0m0 5h0m0 10h0m0 43h0m1-159h0m0 73h0m0 11h0m0 1h0m0 1h0m0 7h0m0 2h0m0 8h0m0 22h0m1-62h0m0 6h0m0 12h0m0 1h0m0 4h0m0 1h0m0 6h0m0 2h0m0 2h0m0 9h0m0 14h0m0 22h0m0 17h0m1-161h0m0 67h0m0 15h0m0 4h0m0 9h0m0 4h0m0 4h0m0 5h0m0 14h0m0 22h0m1-142h0m0 1h0m0 65h0m0 1h0m0 5h0m0 8h0m0 4h0m0 2h0m0 4h0m0 2h0m0 5h0m0 6h0m0 9h0m0 4h0m0 4h0m0 5h0m1-127h0m0 3h0m0 76h0m0 2h0m0 5h0m0 2h0m0 1h0m0 3h0m0 5h0m0 8h0m0 3h0m0 6h0m0 4h0m0 4h0m0 5h0m0 17h0m0 17h0m1-173h0m0 11h0m0 4h0m0 67h0m0 3h0m0 11h0m0 6h0m0 5h0m0 2h0m0 2h0m0 2h0m0 17h0m0 9h0m0 34h0m1-167h0m0 3h0m0 74h0m0 3h0m0 7h0m0 2h0m0 12h0m0 2h0m0 17h0m0 8h0m0 5h0m0 8h0m0 26h0m1-172h0m0 8h0m0 1h0m0 72h0m0 4h0m0 2h0m0 1h0m0 1h0m0 9h0m0 1h0m0 1h0m0 5h0m0 3h0m0 4h0m0 10h0m0 11h0m0 22h0m1-148h0m0 2h0m0 2h0m0 75h0m0 2h0m0 1h0m0 6h0m0 2h0m0 1h0m0 1h0m0 6h0m0 1h0m0 2h0m0 1h0m0 3h0m0 4h0m1-105h0m0 75h0m0 12h0m0 1h0m0 5h0m0 4h0m0 2h0m0 2h0m0 4h0m0 6h0m0 3h0m0 13h0m0 17h0m1-172h0m0 21h0m0 1h0m0 81h0m0 9h0m0 2h0m0 1h0m0 1h0m0 1h0m0 1h0m0 2h0m0 3h0m0 2h0m0 2h0m0 9h0m0 6h0m0 8h0m0 13h0m1-145h0m0 3h0m0 4h0m0 81h0m0 2h0m0 7h0m0 1h0m0 6h0m0 4h0m0 24h0m0 5h0m1-135h0m0 83h0m0 6h0m0 3h0m0 2h0m0 1h0m0 1h0m0 4h0m0 7h0m0 2h0m0 4h0m0 56h0m1-166h0m0 82h0m0 5h0m0 4h0m0 2h0m0 2h0m0 1h0m0 3h0m0 1h0m0 2h0m0 14h0m0 33h0m0 17h0m1-168h0m0 1h0m0 85h0m0 1h0m0 2h0m0 4h0m0 1h0m0 1h0m0 4h0m0 7h0m0 2h0m0 2h0m0 11h0m0 4h0m0 4h0m0 5h0m0 34h0m1-179h0m0 15h0m0 89h0m0 4h0m0 1h0m0 8h0m0 6h0m0 3h0m1-116h0m0 4h0m0 82h0m0 8h0m0 1h0m0 2h0m0 3h0m0 2h0m0 1h0m0 2h0m0 6h0m0 2h0m0 3h0m0 19h0m0 34h0m1-170h0m0 1h0m0 5h0m0 84h0m0 2h0m0 4h0m0 1h0m0 1h0m0 1h0m0 1h0m0 3h0m0 5h0m0 6h0m0 16h0m0 23h0m0 17h0m1-173h0m0 92h0m0 9h0m0 12h0m0 2h0m0 2h0m0 6h0m0 11h0m0 5h0m1-134h0m0 93h0m0 5h0m0 1h0m0 2h0m0 7h0m0 2h0m0 5h0m0 9h0m0 7h0m0 3h0m1-133h0m0 92h0m0 1h0m0 2h0m0 2h0m0 1h0m0 2h0m0 9h0m0 5h0m0 3h0m0 7h0m0 9h0m0 34h0m1-172h0m0 6h0m0 85h0m0 3h0m0 3h0m0 1h0m0 1h0m0 1h0m0 2h0m0 2h0m0 1h0m0 1h0m0 4h0m0 4h0m0 5h0m0 3h0m0 3h0m0 4h0m0 4h0m0 13h0m1-58h0m0 3h0m0 6h0m0 2h0m0 1h0m0 2h0m0 1h0m0 1h0m0 1h0m0 3h0m0 2h0m0 2h0m0 2h0m0 2h0m0 3h0m0 3h0m0 3h0m0 4h0m0 4h0m0 5h0m0 8h0m0 26h0m1-167h0m0 2h0m0 82h0m0 1h0m0 2h0m0 4h0m0 5h0m0 1h0m0 1h0m0 2h0m0 1h0m0 6h0m0 2h0m0 2h0m0 6h0m0 7h0m0 4h0m0 13h0m0 9h0m1-152h0m0 87h0m0 1h0m0 1h0m0 2h0m0 3h0m0 1h0m0 1h0m0 1h0m0 2h0m0 1h0m0 2h0m0 1h0m0 2h0m0 2h0m0 2h0m0 2h0m0 19h0m0 5h0m0 8h0m0 26h0m1-80h0m0 1h0m0 1h0m0 1h0m0 2h0m0 1h0m0 1h0m0 1h0m0 3h0m0 3h0m0 4h0m0 4h0m0 2h0m0 3h0m0 3h0m0 16h0m0 8h0m0 26h0m1-79h0m0 1h0m0 4h0m0 1h0m0 4h0m0 5h0m0 6h0m0 11h0m0 4h0m0 9h0m0 8h0m0 26h0m1-79h0m0 1h0m0 1h0m0 4h0m0 2h0m0 1h0m0 10h0m0 2h0m0 2h0m0 30h0m1-147h0m0 99h0m0 1h0m0 4h0m0 2h0m0 1h0m0 4h0m0 2h0m0 2h0m0 5h0m0 3h0m0 7h0m0 9h0m0 34h0m1-75h0m0 3h0m0 2h0m0 1h0m0 3h0m0 1h0m0 5h0m0 2h0m0 5h0m0 10h0m0 9h0m0 34h0m1-77h0m0 10h0m0 1h0m0 2h0m0 2h0m0 2h0m0 2h0m0 8h0m0 3h0m0 4h0m0 17h0m0 26h0m1-169h0m0 1h0m0 94h0m0 2h0m0 3h0m0 2h0m0 1h0m0 4h0m0 6h0m0 3h0m0 6h0m0 4h0m0 9h0m0 8h0m0 26h0m1-166h0m0 1h0m0 84h0m0 1h0m0 6h0m0 1h0m0 3h0m0 1h0m0 7h0m0 4h0m0 8h0m0 7h0m0 9h0m0 8h0m0 9h0m0 17h0m1-167h0m0 90h0m0 2h0m0 2h0m0 1h0m0 2h0m0 1h0m0 2h0m0 1h0m0 4h0m0 6h0m0 3h0m0 3h0m0 3h0m0 21h0m0 9h0m0 17h0m1-169h0m0 3h0m0 90h0m0 1h0m0 2h0m0 1h0m0 2h0m0 4h0m0 1h0m0 7h0m0 2h0m0 3h0m0 3h0m0 11h0m0 5h0m0 17h0m0 17h0m1-175h0m0 96h0m0 1h0m0 3h0m0 2h0m0 1h0m0 2h0m0 1h0m0 1h0m0 2h0m0 4h0m0 2h0m0 2h0m0 2h0m0 3h0m0 6h0m0 13h0m0 8h0m0 26h0m1-167h0m0 89h0m0 6h0m0 3h0m0 2h0m0 5h0m0 2h0m0 2h0m0 2h0m0 6h0m0 1h0m0 2h0m0 8h0m0 5h0m0 8h0m0 26h0m1-81h0m0 1h0m0 1h0m0 1h0m0 1h0m0 2h0m0 3h0m0 1h0m0 1h0m0 1h0m0 3h0m0 4h0m0 2h0m0 5h0m0 5h0m0 3h0m0 8h0m0 11h0m0 11h0m0 17h0m1-166h0m0 87h0m0 2h0m0 1h0m0 2h0m0 1h0m0 1h0m0 3h0m0 7h0m0 9h0m0 3h0m0 3h0m0 8h0m0 5h0m0 17h0m0 17h0m1-169h0m0 1h0m0 89h0m0 3h0m0 1h0m0 3h0m0 2h0m0 3h0m0 3h0m0 2h0m0 6h0m0 2h0m0 1h0m0 10h0m0 9h0m0 17h0m0 17h0m1-165h0m0 91h0m0 2h0m0 12h0m0 4h0m0 3h0m0 19h0m0 34h0m1-167h0m0 1h0m0 1h0m0 88h0m0 3h0m0 2h0m0 2h0m0 1h0m0 3h0m0 8h0m0 5h0m0 6h0m0 13h0m1-135h0m0 4h0m0 84h0m0 2h0m0 4h0m0 2h0m0 6h0m0 1h0m0 3h0m0 3h0m0 4h0m0 9h0m0 4h0m0 4h0m0 5h0m0 17h0m0 17h0m1-181h0m0 101h0m0 5h0m0 1h0m0 1h0m0 1h0m0 5h0m0 1h0m0 2h0m0 4h0m0 2h0m0 2h0m0 3h0m0 6h0m0 8h0m0 5h0m0 17h0m0 17h0m1-80h0m0 5h0m0 1h0m0 1h0m0 4h0m0 5h0m0 1h0m0 1h0m0 2h0m0 4h0m0 6h0m0 3h0m0 5h0m0 3h0m0 22h0m1-163h0m0 11h0m0 96h0m0 1h0m0 4h0m0 2h0m0 2h0m0 11h0m0 6h0m0 4h0m1-123h0m0 86h0m0 1h0m0 4h0m0 1h0m0 1h0m0 1h0m0 1h0m0 1h0m0 3h0m0 3h0m0 2h0m0 6h0m0 6h0m0 7h0m0 4h0m0 5h0m0 17h0m0 17h0m1-174h0m0 95h0m0 1h0m0 2h0m0 2h0m0 2h0m0 2h0m0 1h0m0 9h0m0 2h0m0 2h0m0 3h0m0 3h0m0 24h0m0 26h0m1-166h0m0 2h0m0 84h0m0 1h0m0 6h0m0 1h0m0 5h0m0 3h0m0 2h0m0 2h0m0 2h0m0 8h0m0 3h0m0 4h0m0 4h0m0 5h0m0 8h0m0 9h0m0 17h0m1-176h0m0 11h0m0 2h0m0 85h0m0 1h0m0 1h0m0 1h0m0 2h0m0 4h0m0 7h0m0 1h0m0 1h0m0 4h0m0 3h0m0 10h0m0 17h0m0 9h0m1-148h0m0 90h0m0 1h0m0 1h0m0 1h0m0 1h0m0 1h0m0 3h0m0 1h0m0 6h0m0 1h0m0 6h0m0 3h0m0 11h0m0 22h0m0 17h0m1-167h0m0 1h0m0 86h0m0 1h0m0 1h0m0 1h0m0 2h0m0 1h0m0 1h0m0 1h0m0 2h0m0 1h0m0 2h0m0 1h0m0 10h0m0 6h0m0 3h0m0 13h0m0 14h0m0 20h0m1-171h0m0 5h0m0 86h0m0 1h0m0 2h0m0 1h0m0 2h0m0 2h0m0 2h0m0 1h0m0 2h0m0 1h0m0 2h0m0 2h0m0 1h0m0 1h0m0 2h0m0 5h0m0 6h0m0 4h0m0 4h0m0 5h0m0 8h0m0 26h0m1-181h0m0 17h0m0 84h0m0 1h0m0 2h0m0 1h0m0 2h0m0 1h0m0 1h0m0 1h0m0 1h0m0 4h0m0 2h0m0 2h0m0 2h0m0 4h0m0 3h0m0 6h0m0 21h0m0 9h0m1-148h0m0 2h0m0 84h0m0 1h0m0 1h0m0 2h0m0 6h0m0 2h0m0 1h0m0 2h0m0 1h0m0 5h0m0 15h0m0 4h0m0 39h0m1-169h0m0 1h0m0 4h0m0 1h0m0 88h0m0 6h0m0 1h0m0 4h0m0 2h0m0 9h0m0 6h0m0 47h0m1-172h0m0 2h0m0 7h0m0 1h0m0 87h0m0 1h0m0 4h0m0 1h0m0 1h0m0 1h0m0 3h0m0 2h0m0 2h0m0 17h0m0 9h0m1-140h0m0 4h0m0 1h0m0 2h0m0 5h0m0 83h0m0 3h0m0 1h0m0 1h0m0 5h0m0 3h0m0 2h0m0 6h0m0 5h0m0 3h0m0 2h0m0 9h0m0 5h0m0 17h0m1-150h0m0 4h0m0 85h0m0 1h0m0 1h0m0 1h0m0 3h0m0 1h0m0 1h0m0 1h0m0 2h0m0 3h0m0 4h0m0 2h0m0 1h0m0 1h0m0 3h0m0 3h0m0 11h0m0 39h0m1-171h0m0 1h0m0 6h0m0 1h0m0 85h0m0 2h0m0 1h0m0 2h0m0 1h0m0 2h0m0 1h0m0 2h0m0 1h0m0 8h0m0 1h0m0 1h0m0 3h0m0 3h0m0 16h0m0 34h0m1-166h0m0 2h0m0 3h0m0 83h0m0 1h0m0 2h0m0 1h0m0 1h0m0 3h0m0 1h0m0 2h0m0 1h0m0 1h0m0 1h0m0 4h0m0 4h0m0 4h0m0 2h0m0 3h0m0 8h0m0 39h0m1-168h0m0 2h0m0 88h0m0 5h0m0 1h0m0 1h0m0 2h0m0 7h0m0 9h0m0 1h0m0 9h0m0 4h0m0 39h0m1-178h0m0 10h0m0 1h0m0 88h0m0 2h0m0 3h0m0 1h0m0 2h0m0 2h0m0 11h0m0 2h0m0 3h0m1-114h0m0 94h0m0 3h0m0 1h0m0 2h0m0 1h0m0 1h0m0 3h0m0 4h0m0 8h0m0 7h0m0 4h0m0 22h0m1-170h0m0 10h0m0 6h0m0 94h0m0 4h0m0 1h0m0 3h0m0 2h0m0 1h0m0 1h0m0 1h0m0 2h0m0 4h0m0 8h0m0 11h0m0 13h0m0 26h0m1-172h0m0 95h0m0 2h0m0 2h0m0 5h0m0 8h0m0 2h0m0 11h0m0 47h0m1-173h0m0 4h0m0 3h0m0 89h0m0 2h0m0 2h0m0 2h0m0 1h0m0 1h0m0 7h0m0 6h0m0 40h0m0 16h0m1-175h0m0 6h0m0 2h0m0 1h0m0 92h0m0 3h0m0 2h0m0 5h0m0 2h0m0 2h0m0 2h0m0 15h0m0 17h0m1-141h0m0 1h0m0 92h0m0 1h0m0 1h0m0 6h0m0 4h0m0 2h0m0 4h0m0 6h0m0 11h0m0 5h0m0 17h0m0 17h0m1-171h0m0 4h0m0 89h0m0 1h0m0 1h0m0 1h0m0 1h0m0 1h0m0 3h0m0 1h0m0 3h0m0 4h0m0 2h0m0 4h0m0 9h0m0 6h0m1-129h0m0 90h0m0 5h0m0 1h0m0 2h0m0 2h0m0 2h0m0 1h0m0 7h0m0 3h0m0 1h0m0 3h0m0 6h0m0 8h0m0 22h0m1-168h0m0 16h0m0 1h0m0 1h0m0 1h0m0 86h0m0 1h0m0 4h0m0 7h0m0 1h0m0 17h0m0 11h0m0 13h0m0 26h0m1-164h0m0 84h0m0 5h0m0 1h0m0 1h0m0 1h0m0 3h0m0 3h0m0 1h0m0 7h0m0 2h0m0 6h0m0 11h0m0 1h0m0 12h0m0 9h0m1-162h0m0 98h0m0 8h0m0 1h0m0 2h0m0 1h0m0 2h0m0 4h0m0 1h0m0 2h0m0 10h0m1-122h0m0 8h0m0 84h0m0 1h0m0 1h0m0 4h0m0 1h0m0 3h0m0 10h0m0 2h0m0 19h0m0 5h0m1-146h0m0 7h0m0 96h0m0 1h0m0 3h0m0 6h0m0 5h0m0 12h0m0 7h0m1-126h0m0 1h0m0 89h0m0 3h0m0 1h0m0 2h0m0 1h0m0 3h0m1-102h0m0 3h0m0 86h0m0 2h0m0 2h0m0 2h0m0 10h0m0 2h0m0 4h0m0 2h0m0 11h0m0 4h0m0 9h0m1-47h0m0 8h0m0 1h0m0 5h0m0 5h0m0 15h0m0 21h0m0 26h0m1-173h0m0 90h0m0 2h0m0 1h0m0 5h0m0 5h0m0 6h0m0 2h0m0 4h0m0 32h0m0 26h0m1-168h0m0 1h0m0 89h0m0 1h0m0 3h0m0 10h0m0 4h0m0 10h0m1-121h0m0 5h0m0 82h0m0 4h0m0 3h0m0 2h0m0 1h0m0 2h0m0 12h0m0 2h0m0 2h0m0 6h0m0 3h0m0 4h0m0 4h0m1-136h0m0 91h0m0 1h0m0 2h0m0 2h0m0 2h0m0 2h0m0 1h0m0 7h0m0 14h0m0 19h0m0 8h0m1-139h0m0 1h0m0 87h0m0 2h0m0 3h0m0 2h0m0 10h0m0 10h0m0 16h0m0 8h0m1-146h0m0 87h0m0 3h0m0 2h0m0 5h0m0 10h0m0 1h0m0 6h0m1-27h0m0 1h0m0 2h0m0 12h0m0 4h0m0 4h0m0 23h0m0 13h0m1-153h0m0 14h0m0 84h0m0 1h0m0 1h0m0 1h0m0 3h0m0 1h0m0 1h0m0 4h0m0 4h0m0 3h0m0 4h0m1-114h0m0 2h0m0 2h0m0 1h0m0 80h0m0 1h0m0 7h0m0 17h0m0 62h0m1-167h0m0 1h0m0 78h0m0 1h0m0 2h0m0 13h0m1-97h0m0 83h0m0 2h0m0 2h0m0 8h0m0 20h0m1-119h0m0 83h0m0 2h0m0 2h0m1-90h0m0 87h0m0 2h0m0 6h0m0 2h0m0 10h0m1-112h0m0 2h0m0 89h0m1-84h0m0 1h0m0 3h0m0 77h0m0 1h0m0 1h0m0 2h0m0 3h0m0 4h0m0 19h0m1-111h0m0 83h0m0 1h0m0 1h0m0 2h0m0 3h0m1-85h0m0 80h0m0 4h0m0 5h0m0 7h0m0 23h0m1-134h0m0 5h0m0 4h0m0 1h0m0 3h0m0 76h0m0 5h0m0 2h0m0 3h0m0 2h0m0 13h0m1-109h0m0 86h0m0 3h0m1-84h0m0 88h0m0 6h0m1-99h0m0 82h0m0 1h0m0 7h0m1-95h0m0 4h0m0 7h0m0 77h0m0 5h0m0 1h0m1-91h0m0 1h0m0 3h0m0 2h0m0 2h0m0 78h0m0 2h0m0 7h0m0 8h0m1-105h0m0 4h0m0 6h0m0 77h0m0 2h0m0 10h0m1-94h0m0 4h0m0 77h0m0 2h0m0 9h0m0 5h0m0 2h0m1-105h0m0 85h0m0 1h0m0 1h0m0 8h0m0 3h0m1-90h0m0 1h0m0 76h0m0 8h0m0 3h0m0 3h0m1-94h0m0 74h0m0 7h0m0 8h0m0 4h0m1-95h0m0 5h0m0 2h0m0 69h0m0 1h0m0 11h0m0 1h0m0 1h0m0 12h0m1-110h0m0 14h0m0 71h0m0 3h0m0 6h0m1-84h0m0 2h0m0 1h0m0 73h0m0 1h0m0 5h0m0 2h0m0 1h0m1-94h0m0 10h0m0 80h0m0 12h0m1-12h0m0 7h0m1-91h0m0 4h0m0 3h0m0 71h0m0 1h0m0 1h0m0 1h0m0 1h0m0 4h0m0 8h0m1-97h0m0 4h0m0 3h0m0 1h0m0 2h0m0 73h0m0 9h0m0 14h0m1-96h0m0 70h0m0 4h0m1-91h0m0 14h0m0 1h0m0 1h0m0 3h0m1 69h0m0 8h0m1-87h0m0 5h0m0 1h0m0 1h0m0 71h0m1-67h0m0 64h0m0 2h0m0 1h0m0 12h0m1-92h0m0 1h0m0 6h0m0 6h0m0 67h0m0 4h0m0 4h0m0 4h0m0 2h0m0 13h0m1-94h0m0 1h0m0 66h0m0 3h0m0 9h0m1-108h0m0 28h0m0 67h0m0 1h0m0 2h0m0 8h0m0 9h0m1-98h0m0 2h0m0 1h0m0 5h0m0 1h0m1-5h0m0 7h0m0 65h0m0 23h0m1-93h0m0 71h0m0 1h0m0 1h0m0 5h0m0 4h0m1-89h0m0 3h0m0 9h0m0 2h0m0 68h0m0 8h0m1-76h0m0 66h0m0 9h0m1-86h0m0 6h0m0 3h0m0 59h0m0 6h0m0 1h0m0 1h0m0 2h0m0 1h0m0 1h0m1-97h0m0 86h0m0 3h0m0 3h0m0 1h0m0 3h0m1-71h0m0 62h0m0 3h0m0 1h0m0 3h0m1-82h0m0 10h0m0 3h0m0 61h0m0 3h0m0 6h0m1-15h0m0 5h0m0 4h0m0 3h0m1-81h0m0 75h0m0 9h0m0 15h0m1-83h0m0 53h0m0 4h0m0 4h0m0 1h0m0 16h0m1-80h0m0 59h0m0 13h0m0 1h0m1-74h0m0 52h0m0 3h0m0 15h0m0 1h0m0 5h0m1-99h0m0 23h0m0 1h0m0 50h0m0 3h0m0 3h0m1-2h0m0 3h0m0 1h0m0 2h0m1-59h0m0 1h0m0 49h0m0 21h0m1-74h0m0 1h0m0 1h0m0 2h0m0 1h0m0 48h0m0 4h0m1-3h0m0 5h0m0 18h0m1-87h0m0 13h0m0 46h0m0 8h0m0 5h0m0 2h0m0 2h0m1-74h0m0 11h0m0 42h0m0 2h0m0 4h0m0 1h0m0 7h0m1-62h0m0 8h0m0 1h0m0 36h0m0 2h0m0 4h0m0 2h0m0 2h0m0 14h0m1-66h0m0 40h0m0 5h0m0 3h0m0 2h0m0 2h0m0 4h0m0 2h0m0 8h0m0 1h0m0 3h0m1-74h0m0 45h0m0 1h0m0 2h0m0 3h0m0 2h0m0 12h0m1-63h0m0 6h0m0 2h0m0 3h0m0 31h0m0 1h0m0 5h0m0 8h0m0 1h0m0 4h0m1-56h0m0 3h0m0 1h0m0 1h0m0 1h0m0 5h0m0 1h0m0 6h0m0 15h0m0 2h0m0 1h0m0 6h0m0 6h0m0 8h0m0 19h0m1-72h0m0 2h0m0 6h0m0 1h0m0 1h0m0 3h0m0 3h0m0 2h0m0 11h0m0 1h0m0 2h0m0 1h0m0 5h0m0 10h0m1-60h0m0 4h0m0 5h0m0 4h0m0 2h0m0 9h0m0 3h0m0 2h0m0 8h0m0 2h0m0 1h0m0 6h0m0 5h0m1-48h0m0 8h0m0 4h0m0 1h0m0 4h0m0 11h0m0 2h0m0 5h0m0 3h0m0 11h0m0 1h0m1-38h0m0 1h0m0 1h0m0 3h0m0 8h0m0 4h0m0 3h0m0 3h0m0 4h0m0 10h0m0 3h0m0 1h0m0 3h0m0 26h0m0 14h0m1-92h0m0 7h0m0 4h0m0 8h0m0 1h0m0 3h0m0 6h0m0 8h0m0 7h0m0 1h0m0 1h0m0 1h0m0 2h0m0 2h0m0 4h0m0 1h0m0 9h0m1-65h0m0 14h0m0 9h0m0 2h0m0 1h0m0 2h0m0 2h0m0 1h0m0 1h0m0 6h0m0 9h0m0 1h0m0 7h0m0 27h0m1-88h0m0 10h0m0 4h0m0 1h0m0 3h0m0 9h0m0 2h0m0 1h0m0 14h0m0 34h0m1-71h0m0 17h0m0 1h0m0 3h0m0 1h0m0 8h0m0 8h0m0 1h0m0 7h0m1-47h0m0 6h0m0 3h0m0 12h0m0 7h0m0 4h0m0 29h0m0 4h0m0 22h0m1-90h0m0 16h0m0 3h0m0 3h0m0 4h0m0 6h0m0 10h0m1-35h0m0 14h0m0 8h0m0 1h0m0 5h0m0 11h0m1-39h0m0 5h0m0 20h0m0 6h0m0 3h0m0 11h0m0 4h0m1-48h0m0 8h0m0 2h0m0 2h0m0 1h0m0 1h0m0 2h0m0 8h0m0 3h0m0 4h0m1-14h0m0 46h0m1-50h0m0 9h0m0 24h0m1-45h0m0 3h0m0 8h0m0 5h0m0 3h0m0 2h0m0 19h0m1-21h0m0 21h0m1-35h0m1-2h0m0 11h0m0 14h0m0 32h0m1-35h0m0 22h0m1-49h0m0 13h0m0 1h0m0 7h0m1-8h0m1 23h0m1-32h0m1-14h0m0 31h0m1 0h0m6-15h0m0 36h0m3-18h0m1-8h0" stroke="#ff2d2d" stroke-width="1.3" stroke-linecap="square" fill="none"/>
<path d="M150 234.8l8.9-4.7 3.8-4.4 7.6-3.4 5.7-3.1 8.3-1.8 5.6-1.9 10.1 0.3 6.8 0 9.5 2.1 6 1.3 4 0.6-0.9-2.5 1-1.1 0.7-1.5 2.7 0.5 3.1 1.3 0.7-1.3 2.1 0.8 1.2-0.4 2.7 2.2 0.8-0.7 0.6-1.1 0-3 0.9-1.2 1.4 0.1 1.1-0.8 1.4 1.1 1.5 2.2 1.2 3.2 0.9-0.6 0.9 0.2 1.1-1.3 1.2-1 1.3-1.3 1.1 0.5 1.3-0.6 2.6-3.6 1.3 0.7 2.1-1.1 0.5 2.1 4.3-4 1.4 1 1.8 0.4 3.9-1.7 3.5-0.8 3.3-0.1 1.5 1.6 3.6 0.1 2.4 1.3 4.8 0.1 6.4-0.3 7 0.1 4.8 1.6 2.5 2.9 4 2.6-2 4.3-0.1 3.6-0.2 3.5 2.6 3.4-0.4 3.6-0.9 3.5-1.9 3.4-0.5 3.4-3.1 2.9-0.7 3.2-1.1 3.2 1 3.9-6.6 0.9-0.6 3.1-4.2 1.3 0.4 3.8-4.5 0.7 0.6 4.2-1.5 2.9-4.1 0.4-4.3-0.3-1.9 2.2-2.4 1.6-2.5 1.4-4.7-2.3 0 5.6-2.8 0.9-1.9 3-3.6-1.4-2.6 1.1-2.4 2.3-2.5 3.5-2.8 2.6-3.1 1.6-3.3 1.7-3.4 0.2-3.5 1.4-3.8 1.8-4.4 3.3-4 0.3-3.6-1.5-3.9-0.6-4-0.5-4.5 0.2-4-1.2-5.6 1.1-4.7-0.9-6.6 1.2-3.5-3-6.9 0.3-4.2-2.8-4.1-3.1-2.7-4.2-4.4-3.2-5-3-2-4.9-2.7-4.5-5.1-3.6-3.1-4.7-1.7-5.2 2.2-6.1-0.3-5.3-2.7-5.1 1.7-5.4zM177.7 234.8l4.2-3.5 3.1-3.3 5.5-2.5 8.6-1.4 6.3-1.1 4.9-0.9 5.2-0.3 3.6-0.5 5.8 1 4 0.7 4 1.1-1.7-2.5-0.4-1.8-1.1-2.7 1.7-0.3 2.6 0.9 1.6 0 1.7 0.5 0.5-1.2 2.1 1.4 1.1-0.1 1-0.2 0-2.7 0.8-0.8 0.7-1.9 1-1.1 1.4 1.1 1.4 2.2 1.2 3.7 0.9-1.1 0.9 0.5 0.9-0.7 1.1-1 1.3-1.2 1.2-0.5 1.2-0.1 1.2-0.1 1.6-0.7 1.9-1.1 1.8-0.5 2.3-1 1.1 0.9 2.8-1 3.2-1.2 3.5-1 1 1.7 3 0 3.1 0.2 2.3 1.1 2.2 1.3 4.2 0.4 6.5-0.2 4.6 1.2 3.1 2.1 2.8 2.5-2.2 3.7-1.6 3.3 0 2.9 2.5 2.8-0.4 3-1.8 2.9-1.3 2.8-2.2 2.5-2.6 2.2-2.2 2.2 0.3 2.8-0.5 2.6-3.8 1.2-2.1 1.6-2.8 1.2 0.2 2.8-2.4 1.3-0.8 2.3-2.1 1.3-2.4 0.9-1.8 1.3-1.9 1.4-1.7 1.4-2 1.1-3.2-1.1-1.7 1.3-2.4-0.2-2.1 0.3-2.1-0.1-2 0.4-1.7 1.4-1.8 1.1-1.9 2.4-2.1 0.9-2.2 0.7-2.2-1.7-2.2 1.1-2.5 1.5-3 2.6-2.7 0.6-2.4-1-2.3-1-2.7-0.1-2.6-0.5-2.9-0.2-3.6 0.6-3.3-0.2-5 1.6-1.7-2.8-4.2-0.1-1.2-3.3-4.4-0.4-2.1-2.6-4.1-1.2-2.8-2.4-3-2.4-2.4-2.8-3.4-2.6-1.6-3.4-1.8-3.4 0.4-4-1.1-3.6-1.7-3.6 0.1-3.8z" fill="url(#pR)" fill-rule="evenodd" clip-path="url(#cA)"/>
<path d="M177.7 234.8l4.2-3.5 3.1-3.3 5.5-2.5 8.6-1.4 6.3-1.1 4.9-0.9 5.2-0.3 3.6-0.5 5.8 1 4 0.7 4 1.1-1.7-2.5-0.4-1.8-1.1-2.7 1.7-0.3 2.6 0.9 1.6 0 1.7 0.5 0.5-1.2 2.1 1.4 1.1-0.1 1-0.2 0-2.7 0.8-0.8 0.7-1.9 1-1.1 1.4 1.1 1.4 2.2 1.2 3.7 0.9-1.1 0.9 0.5 0.9-0.7 1.1-1 1.3-1.2 1.2-0.5 1.2-0.1 1.2-0.1 1.6-0.7 1.9-1.1 1.8-0.5 2.3-1 1.1 0.9 2.8-1 3.2-1.2 3.5-1 1 1.7 3 0 3.1 0.2 2.3 1.1 2.2 1.3 4.2 0.4 6.5-0.2 4.6 1.2 3.1 2.1 2.8 2.5-2.2 3.7-1.6 3.3 0 2.9 2.5 2.8-0.4 3-1.8 2.9-1.3 2.8-2.2 2.5-2.6 2.2-2.2 2.2 0.3 2.8-0.5 2.6-3.8 1.2-2.1 1.6-2.8 1.2 0.2 2.8-2.4 1.3-0.8 2.3-2.1 1.3-2.4 0.9-1.8 1.3-1.9 1.4-1.7 1.4-2 1.1-3.2-1.1-1.7 1.3-2.4-0.2-2.1 0.3-2.1-0.1-2 0.4-1.7 1.4-1.8 1.1-1.9 2.4-2.1 0.9-2.2 0.7-2.2-1.7-2.2 1.1-2.5 1.5-3 2.6-2.7 0.6-2.4-1-2.3-1-2.7-0.1-2.6-0.5-2.9-0.2-3.6 0.6-3.3-0.2-5 1.6-1.7-2.8-4.2-0.1-1.2-3.3-4.4-0.4-2.1-2.6-4.1-1.2-2.8-2.4-3-2.4-2.4-2.8-3.4-2.6-1.6-3.4-1.8-3.4 0.4-4-1.1-3.6-1.7-3.6 0.1-3.8zM200.8 234.8l0.2-2.5 2.3-2.3 4.7-1.8 7.6-0.6 3.4-1 2.6-0.8 2.7-0.6 2.6-0.4 2.6-0.1 2.6 0.1 2.4 0.3 0.8-0.5 0.7-0.7 0.6-0.6 0.7-0.6 0.8-0.5 0.7-0.5 0.8-0.4 0.7-0.4 0.8-0.4 0.9-0.3 0.8-0.3 0.8-0.2 0.8-0.2 0.9-0.1 0.8-0.1 0.8-0.1 0.9 0 0.8 0.1 0.8 0.1 0.8 0.1 0.8 0.2 0.8 0.2 0.7 0.2 0.9-0.2 1.1-0.9 1.3-0.9 1.4-0.7 1.4-0.7 1.6-0.5 1.6-0.5 1.7-0.3 1.8-0.2 1.8-0.1 1.9 0.1 1.9 0.2 2.6-0.1 2.9-0.1 2.9 0.2 3 0.4 3 0.7 3 1 2.8 1.3 2.5 1.6 2.6 1.9 0.4 2.5-0.2 2.6-0.4 2.5-0.5 2.5-0.8 2.4-1 2.3-1.1 2.2-1.2 2.2-1.3 2-1.4 1.8-1.6 1.8-1.6 1.6-1.7 1.4-1.8 1.3-1.8 1.2-1.8 1-1.7 1.1-1.4 1.1-1.5 1-1.5 0.9-1.6 0.8-1.5 0.7-1.6 0.6-1.6 0.6-1.6 0.4-1.6 0.3-1.6 0.2-1.6 0.2-1.4 0.4-1.4 0.7-1.4 0.6-1.4 0.5-1.5 0.5-1.5 0.3-1.6 0.3-1.6 0.2-1.6 0.2-1.6 0-1.7 0-1.6-0.2-1.8 0.3-1.9 0.3-2 0.2-2 0-2.1 0-2.1-0.2-2.1-0.4-2.1-0.5-2.2-0.6-2.2-0.7-2.3-0.8-2.3-0.9-2.3-1.1-2.2-1.3-2.2-1.5-2-1.7-1.4-2-1.4-2.1-1.3-2.2-1.2-2.4-0.6-2.4-0.4-2.6-0.3-2.5-0.1-2.6z" fill="#ff2d2d" fill-rule="evenodd" clip-path="url(#cA)"/>
<path d="M236.1 266l1.4-0.2 1.5-0.2 1-0.2 1.5-0.2 1.5 0.1 1.5 0 1.5-0.1 1.5 0 1.5-0.1 1-0.1 1.5-0.3 1-0.2 1.4-0.5 1.1-0.4 1-0.5 1-0.6 0.9-0.5 1.1-0.5 1-0.3 1.5-0.2 1-0.1 1.5-0.2 1.3-0.2 1.2-0.3 1-0.3 1.2-0.4 1.2-0.5 1-0.5 1-0.5 0.9-0.5 0.9-0.5 0.9-0.5 0.9-0.6 1-0.6 1-0.7 1-0.6 0.9-0.5 0.9-0.5 0.7-0.5 1-0.7 1-0.8 0.6-0.5 0.9-0.7 1-0.8 0.6-0.5 0.9-0.9 0.6-0.6 0.9-1 0.5-0.6 0.6-0.9 0.7-1 0.7-1 0.5-0.9 0.5-0.8 0.5-0.9 0.5-0.9 0.5-1 0.5-1 0.5-1.1 0.5-1 0.5-1.1 0.5-1.1 0.4-1.2 0.2-1 0.2-1.5 0.1-1.5 0-1.5-0.1-1.5-0.3-1-0.5-1.3-0.8-0.7-0.7-0.5-1-0.7-1-0.7-1-0.6-1-0.5-1-0.4-1-0.4-1-0.3-1.4-0.4-1.1-0.3-1.1-0.2-1.4-0.3-1.4-0.2-1.1-0.2-1.5-0.2-1.2-0.1-1.3-0.2-1.5-0.1-1.5 0-1.5 0-1.5-0.1-1.5-0.1-1.5 0-1.5 0.1-1.5 0.1-1.5 0.2-1 0.2-1.5 0.4-1 0.3-1 0.5-1 0.5-1 0.6-0.9 0.6-0.6 0.5-1 0.8-1 0.3-1-0.3-1.5-0.3-1-0.1-1.5-0.1-1.5 0-1.4 0.2-1.1 0.2-1 0.4-1.1 0.4-1.1 0.5-1 0.5-0.8 0.5-1 0.6-1 0.7-0.8 0.7-0.7 0.6-1.5 0.3-1.5-0.2-1.5-0.1-1.5 0-1.5 0.1-1.5 0.1-1.2 0.2-1.3 0.3-1.1 0.2-1.4 0.4-1 0.3-1 0.4-1.2 0.4-1.3 0.5-1 0.2-1.5 0.1-1.5 0.1-1.5 0.1-1 0-1.5 0.2-1.5 0.2-1 0.3-1 0.4-1 0.4-1 0.5-1 1-0.5 0.6-0.6 0.9-0.2 1.5-0.2 1.5 0.1 1.5 0.2 1.5 0.3 1 0.3 1.5 0.2 1 0.2 1.5 0 1.5 0.1 1.5 0.1 1 0.5 1.3 0.5 1.1 0.5 0.9 0.5 0.8 0.6 0.9 0.7 1 0.7 0.9 0.5 0.6 0.8 1 0.7 0.7 0.9 0.8 0.6 0.6 1 0.7 1 0.6 0.9 0.6 0.9 0.5 1 0.5 1.1 0.5 1.1 0.4 1 0.3 1 0.3 1.5 0.5 1 0.3 1 0.4 1 0.3 1.1 0.5 1.3 0.5 1.1 0.4 1 0.2 1.5 0.4 1 0.1 1.5 0.1 1.5 0 1.5 0 1.5-0.2zM235.6 263.5l1.4-0.1 1.5-0.2 1.5-0.2 1-0.1 1.5-0.1 1.5 0.1 1.5 0 1.5-0.1 1.5-0.1 1.4-0.2 1.1-0.2 1.1-0.3 1.4-0.5 1-0.3 1-0.5 1-0.5 1-0.5 1-0.3 1.5-0.3 1-0.1 1.5-0.3 1.1-0.2 1.4-0.3 1-0.3 1-0.4 1.2-0.5 0.9-0.5 0.9-0.5 1-0.6 1-0.6 1-0.7 0.9-0.6 0.7-0.5 0.9-0.5 1-0.5 1-0.5 1-0.6 1-0.6 1-0.8 0.7-0.5 0.8-0.7 0.9-0.8 0.6-0.5 1-0.9 0.6-0.6 0.9-0.9 0.5-0.6 0.8-1 0.6-1 0.6-1 0.5-1 0.4-1 0.4-1 0.3-1 0.4-1.1 0.5-1.4 0.4-1 0.3-1 0.3-1.1 0.3-1.4 0.2-1.2 0.2-1.3 0.2-1.5-0.2-1.5-0.2-1.1-0.9-0.9-0.7-0.5-0.9-0.7-1-0.6-1-0.5-1-0.5-1-0.4-1-0.4-1.5-0.4-1-0.2-1.1-0.3-1.4-0.3-1.1-0.2-1.4-0.2-1.5-0.3-1-0.1-1.5-0.2-1.5 0-1.5 0.1-1.5 0.1-1.5-0.1-1.5-0.1-1.5 0-1.5 0.1-1.5 0.2-1 0.2-1.2 0.3-1.3 0.5-1 0.4-1 0.6-0.8 0.5-0.7 0.5-1 0.8-1 0.5-1.5-0.3-1-0.2-1.5-0.2-1.5 0-1.5 0.1-1.5 0.3-1 0.3-1 0.4-1 0.4-1 0.6-1 0.6-1 0.7-0.7 0.5-0.8 0.7-1 0.5-1.5-0.1-1-0.1-1.5-0.1-1.5 0.1-1 0-1.5 0.2-1.5 0.3-1 0.2-1.2 0.3-1.3 0.4-1 0.3-1 0.3-1.5 0.5-1 0.2-1.5 0.1-1.5 0.2-1 0.1-1.5 0.2-1.5 0.2-1 0.2-1 0.3-1.5 0.5-1 0.4-0.7 0.6-0.8 0.9-0.5 0.6-0.2 1.5 0 1.5 0.1 1.5 0.3 1 0.3 1.2 0.3 1.3 0.3 1 0.2 1.5 0.1 1.5 0.1 1.5 0.2 1 0.3 1 0.5 1 0.6 1 0.6 1 0.7 1 0.6 0.8 0.6 0.7 0.8 1 0.6 0.6 1 0.8 0.8 0.6 0.7 0.5 1 0.6 1 0.6 1 0.5 1 0.5 1 0.4 1 0.4 1.3 0.5 1.2 0.4 1 0.4 1 0.3 1.2 0.4 1.3 0.5 1 0.3 1 0.3 1.5 0.3 1 0.1 1.5 0.1 1.5 0 1.1-0.1zM240.6 260.5l1.4-0.2 1.5 0 1.5 0 1.5 0 1.5-0.2 1-0.1 1.5-0.3 1-0.2 1.5-0.4 1-0.4 1-0.3 1-0.4 1.1-0.5 1.4-0.3 1.3-0.2 1.2-0.2 1.2-0.3 1.3-0.3 1-0.4 1-0.3 1-0.5 1-0.5 1-0.6 1-0.7 1-0.7 0.7-0.5 0.8-0.6 1-0.6 1-0.5 1-0.5 1-0.6 1-0.6 0.9-0.6 0.7-0.5 0.9-0.8 0.8-0.7 0.7-0.7 0.7-0.8 0.8-0.9 0.5-0.6 0.8-1 0.7-1 0.5-0.8 0.5-0.8 0.5-1 0.5-1.1 0.5-1.3 0.4-1 0.3-1 0.3-1.1 0.2-1.4 0.2-1.5 0.2-1 0.2-1.5 0.2-1.5-0.2-1.5-0.8-1-0.7-0.5-0.8-0.6-1-0.6-1-0.5-1-0.5-1-0.3-1.5-0.5-1-0.3-1-0.2-1.5-0.3-1-0.2-1.5-0.3-1.2-0.2-1.3-0.1-1.5-0.1-1.5 0.1-1 0.1-1.5 0.1-1-0.1-1.5-0.1-1.5 0-1.5 0-1 0.2-1.5 0.3-1 0.3-1 0.4-1 0.5-1 0.6-1 0.7-0.7 0.6-0.8 0.5-1 0-1.5-0.4-1-0.1-1.5-0.1-1.5 0.1-1 0.1-1.4 0.4-1.1 0.4-1 0.5-1 0.6-0.8 0.5-0.7 0.5-1 0.9-0.8 0.6-1.2 0-1-0.1-1.5-0.1-1.5 0-1.5 0.1-1 0.1-1.5 0.3-1 0.2-1.5 0.5-1 0.3-1 0.3-1.5 0.4-1 0.2-1.5 0.2-1.5 0.1-1 0.1-1.5 0.2-1 0.2-1.4 0.5-1.1 0.4-1 0.3-1 0.7-0.7 0.6-0.7 1-0.1 1 0 1.2 0.2 1.3 0.3 1.4 0.3 1.1 0.3 1 0.4 1.5 0.1 1 0.1 1.5 0.2 1.5 0.4 1 0.3 1 0.4 1 0.5 1.5 0.4 1 0.5 1 0.6 0.9 0.5 0.7 0.9 0.9 0.6 0.8 0.5 0.7 1 1 0.7 0.5 0.8 0.5 1.3 0.5 1.2 0.3 1.5 0 1.1 0.2 0.9 0.6 1 0.5 1.4 0.4 1.1 0.1 1.5 0.1 1-0.2 1 0.1 1.5 0.1 1.5 0.1 1.5 0 1.5 0 1.5-0.1 1.5-0.2zM230.3 259.5l1.2-0.4 1-0.4 1.5 0 1.5-0.1 1-0.1 1.5-0.3 1.5-0.2 1-0.1 1.5-0.2 1.5-0.1 1.5 0.1 1.5-0.1 1.2-0.1 1.3-0.2 1.5-0.3 1-0.2 1-0.3 1.5-0.5 1-0.4 1-0.4 1-0.3 1.5-0.1 1.5-0.2 1-0.2 1.2-0.4 1.3-0.5 1-0.4 1-0.5 0.9-0.6 0.8-0.5 0.8-0.6 1-0.8 0.9-0.6 0.9-0.5 1-0.5 0.9-0.5 0.9-0.5 0.9-0.6 1-0.8 0.8-0.6 0.7-0.7 0.8-0.8 0.7-0.8 0.6-0.7 0.7-1 0.6-1 0.6-0.9 0.5-0.8 0.5-0.9 0.5-0.9 0.6-1 0.4-1 0.5-1.2 0.4-1.3 0.1-1 0.2-1.5 0.1-1.5 0.2-1.1 0-1.3-0.4-1.1-0.6-0.5-1-0.8-1-0.6-1-0.5-1-0.4-1-0.4-1.1-0.3-1.4-0.4-1-0.2-1.5-0.4-1-0.2-1.5-0.2-1.5-0.1-1.5 0.1-1.5 0-1.5 0.1-1.5-0.1-1.4-0.1-1.1 0-1 0.1-1.5 0.2-1 0.3-1.3 0.4-1.1 0.5-0.9 0.5-0.8 0.5-0.9 0.7-1 0.6-1.5-0.3-1-0.2-1.5-0.1-1.5 0-1.5 0.3-1 0.3-1 0.4-1 0.5-1 0.6-0.9 0.7-0.6 0.5-1 0.8-1.5 0-1.5-0.2-1.5 0-1.5 0.1-1.5 0.2-1 0.2-1.5 0.4-1 0.3-1 0.4-1.2 0.3-1.3 0.3-1.5 0.2-1 0-1.5 0.2-1.5 0.2-1 0.2-1 0.4-1.3 0.5-0.8 0.5-0.9 0.9-0.6 0.6-0.1 1.5 0.1 1.5 0.2 1 0.4 1.2 0.3 1.3 0.2 1-0.4 1-0.6 0.6-0.5 1.2-0.2 1.2 0 1.5 0.1 1.5 0.3 1 0.3 1 0.5 1.4 0.5 1 0.5 0.8 0.6 0.8 0.9 1 0.5 0.7 0.7 0.8 0.8 0.7 1 0.7 1 0.4 1 0.3 1.5 0 1.4 0.4 0.9 0.5 1.2 0.5 1 0.2 1.5 0.1 1.5-0.2zM230 258.5l1.2-0.5 1.3-0.1 1.5 0 1.5-0.2 1-0.3 1.3-0.4 1.2-0.5 1-0.4 1-0.2 1.4-0.4 1.1-0.3 1.5-0.1 1.5 0 1-0.1 1.5-0.2 1.2-0.3 1.3-0.4 1-0.3 1-0.4 1-0.4 1.4-0.5 1.1-0.1 1.5-0.1 1.4-0.3 1.1-0.3 1-0.4 1-0.4 1-0.5 1-0.7 1-0.7 0.7-0.5 0.8-0.6 1-0.6 1-0.5 1-0.6 1-0.6 0.8-0.6 0.7-0.5 1-1 0.5-0.5 0.9-1 0.6-0.9 0.5-0.7 0.6-0.9 0.6-1 0.6-1 0.5-1 0.5-1 0.4-1 0.3-1 0.3-1.5 0.1-1.5 0.1-1.3 0.1-1.2-0.1-1-0.7-1-0.8-0.6-1-0.7-1-0.5-1-0.6-1-0.4-1-0.4-1-0.3-1.5-0.4-1-0.2-1.5-0.1-1.5-0.1-1.5 0-1.5 0.1-1.5 0-1.5-0.1-1.5 0-1.5 0.2-1 0.2-1.3 0.4-1.2 0.5-0.9 0.5-0.8 0.5-0.8 0.6-1 0.5-1-0.3-1.5-0.3-1-0.1-1.2 0.1-1.3 0.2-1 0.3-1.1 0.5-0.9 0.5-1 0.7-0.9 0.8-0.6 0.5-1.5 0.2-1.5-0.2-1 0-1.1 0-1.4 0.1-1.5 0.3-1 0.3-1 0.3-1.4 0.5-1.1 0.3-1 0.2-1.5 0.1-1.5 0.1-1.5 0.2-1 0.2-1 0.4-1.3 0.5-0.7 0.7-0.7 0.8-0.2 1.5 0.1 1.5 0.1 1.5 0.2 1.5 0.1 1-0.1 1.2-1 0.4-1.1 0.4-0.9 0.8-0.5 0.7-0.4 1.5 0 1.5 0.2 1.5 0.2 1 0.5 1.5 0.4 1 0.6 1 0.5 0.7 0.8 0.8 0.7 1 0.5 0.6 1 0.8 1 0.6 1 0.3 1.5 0.2 1.1 0 0.9 0.6 1 0.5 1.5 0.3 1.5-0.1 1.5-0.3zM229.6 257.5l1.4-0.4 1.5 0 1.2-0.1 1.3-0.3 1-0.3 1-0.5 1.3-0.4 1.2-0.3 1-0.3 1-0.4 1.2-0.5 1-0.5 0.9-0.5 1.4-0.4 1.1-0.1 1.4-0.2 1.5-0.3 1-0.3 1-0.3 1-0.4 1.1-0.5 1.4-0.4 1.3-0.1 1.2-0.2 1.4-0.3 1.1-0.4 1-0.4 1-0.5 1-0.7 0.7-0.5 0.8-0.6 1-0.6 1-0.6 1-0.6 0.9-0.6 0.7-0.5 0.9-0.7 0.8-0.8 0.7-0.8 0.6-0.7 0.7-1 0.6-1 0.5-1 0.5-1 0.5-1 0.4-1 0.3-1 0.2-1.5 0.1-1.5 0-1.5-0.4-1.5-0.6-0.5-0.9-0.8-1-0.7-0.8-0.5-1-0.5-1.2-0.4-1-0.2-1.5-0.3-1-0.1-1.5-0.1-1.5 0-1.5 0.1-1 0-1-0.1-1.5 0-1.3 0.1-1.2 0.2-1 0.4-1.1 0.4-1 0.5-0.9 0.6-1 0.7-1.3-0.3-1.2-0.2-1.5 0-1.5 0.2-1 0.3-1 0.5-1 0.6-0.8 0.6-0.7 0.6-1 0.6-1.1-0.2-1.4-0.1-1.5 0-1 0.1-1.5 0.3-1 0.3-1.2 0.4-1.3 0.4-1 0.2-1.5 0.2-1.5 0.1-1.1 0.1-1.4 0.4-1 0.4-1 0.7-0.5 0.5-0.4 1.5 0 1.5 0.1 1.5 0.1 1.5 0.2 1.3 0.3 1.2-0.7 1-1 0-0.6 0-1.5 0.2-1 0.3-1 0.7-0.7 0.8-0.3 1-0.1 1.5 0.1 1 0.4 1.5 0.3 1 0.4 1 0.5 1 0.9 1 0.5 0.6 0.7 0.9 0.8 0.7 1 0.6 1 0.3 1.5 0.1 1 0.4 1 0.5 1.5 0.4 1.5-0.1 1.5-0.4zM227.5 257l1.5-0.4 1-0.3 1.5 0 1.5-0.2 1-0.3 1-0.4 1.1-0.4 1.4-0.4 1-0.3 1-0.5 1-0.4 1-0.6 1-0.6 1-0.7 0.6-0.5 0.9-0.8 1-0.3 1.5-0.1 1.5-0.2 1-0.2 1.4-0.4 1.1-0.4 1-0.5 1-0.3 1.5-0.1 1.1-0.2 1.4-0.4 1-0.4 1-0.5 1-0.6 0.8-0.6 0.7-0.6 1-0.6 1-0.6 1-0.6 0.7-0.6 0.8-0.7 0.8-0.8 0.7-0.8 0.5-0.7 0.6-1 0.5-1 0.5-1 0.4-1.1 0.4-1.4 0.2-1 0.2-1.5 0.1-1.5-0.4-1.1-1-0.8-0.8-0.6-0.9-0.5-1.3-0.5-1-0.3-1-0.2-1.5-0.2-1.5-0.1-1.5 0-1.5 0-1.5-0.1-1.5 0.1-1.5 0.2-1 0.3-1 0.4-1 0.6-1 0.7-0.7 0.1-1.3-0.3-1.5-0.1-1.5 0.2-1 0.3-1 0.5-1 0.7-0.8 0.7-0.7 0.5-1-0.1-1.5-0.1-1.5 0.1-1 0.1-1.5 0.3-1 0.4-1.1 0.3-1.4 0.3-1.5 0.1-1 0.1-1.5 0.4-1 0.4-0.9 0.7-0.6 0.9-0.1 1.1 0 1.5 0.1 1.4 0.2 1.1 0.3 1.4 0.4 1.1 0.6 1 0 0.6-1.5-0.1-1.5 0.2-1.2 0.3-1.3 0.5-1.5 0-1 0.1-1.3 0.4-0.7 0.6-0.6 0.9-0.1 1.5 0.1 1.5 0.3 1 0.3 1 0.5 1 0.7 1 0.8 0.9 0.5 0.7 1 0.8 1 0.4 1 0.2 1 0 0.8 0.5 1.2 0.4 1 0.2 1-0.1zM227.3 256l1.2-0.4 1.5-0.1 1-0.1 1.5-0.4 1-0.4 1-0.3 1-0.3 1.2-0.5 1-0.5 0.8-0.5 1-0.6 1-0.8 0.7-0.6 0.8-1 0.5-1 0.5-1 1-0.2 1.5-0.2 1.5 0 1.5-0.1 1-0.1 1.3-0.4 1.2-0.4 1-0.5 1-0.2 1.5-0.2 1-0.2 1.3-0.5 0.9-0.5 0.8-0.5 1-0.7 1-0.7 1-0.6 0.6-0.5 0.9-0.8 0.8-0.7 0.7-0.9 0.5-0.8 0.5-0.9 0.5-1.1 0.5-1.3 0.2-1 0.3-1.5 0.1-1-0.1-1.1-1-0.9-0.8-0.5-0.9-0.5-1.3-0.5-1-0.2-1.5-0.3-1-0.1-1.5 0-1.5 0-1.5 0-1 0.1-1.5 0.4-1 0.4-1 0.6-1 0.4-1.3-0.3-1.2 0-1 0.1-1 0.4-1 0.5-1 0.9-1 0.4-1.5-0.1-1.5 0.1-1.2 0.2-1.3 0.3-1 0.3-1.5 0.3-1.1 0.1-1.4 0.3-1 0.3-1 0.6-0.6 0.8 0 1.5 0 1.5 0.1 1 0.3 1.5 0.4 1 0.6 1 0.6 1 0.1 0.6-1 0.4-1.5 0.3-1 0.3-1 0.4-1.5 0.2-1.5 0-1.2 0.3-1.3 0.5-1.5 0-1 0.2-1 0.4-0.6 0.9-0.2 1.5 0.2 1.5 0.3 1 0.5 1 0.7 1 0.6 0.7 0.8 0.8 0.8 0.5 1.4 0.3 1 0.2 1.1 0.5 1.4 0.1zM250 244l1.5-0.5 1-0.4 1-0.1 1.5-0.4 1-0.4 1-0.5 0.9-0.7 0.8-0.5 0.8-0.5 1-0.8 0.7-0.7 0.8-1 0.5-0.9 0.5-1 0.4-1.1 0.2-1 0.2-1.5-0.3-1.2-1-0.7-1-0.6-1-0.4-1-0.2-1.5-0.2-1.5 0.1-1.5-0.1-1.5 0.1-1 0.3-1 0.4-1 0.7-1-0.2-1.5-0.1-1 0.3-1 0.5-0.9 0.8-1.1 0.2-1.5 0-1.5 0.2-1 0.3-1 0.3-1.5 0.2-1.5 0.2-1 0.5-0.7 0.6 0 1.5 0.1 1.5 0.2 1 0.4 1.2 0.5 0.9 0.6 0.9 0.9 1 0.8 0.5 1 0.5 1.2 0.5 1 0.3 1 0.3 1.5 0.3 1.5 0.1 1.5-0.2 1.5 0 1.5-0.2zM226.8 255l1.2-0.3 1.5-0.1 1-0.3 1-0.4 1.5-0.4 1-0.4 1-0.6 0.8-0.5 0.7-0.5 1-1 0.5-0.7 0.5-1 0.4-1.3 0.2-1-0.6-1-0.8-0.5-1.2-0.4-1-0.1-1.5-0.1-1 0.1-1.5 0.4-1 0.3-1.4 0.3-1.1 0.2-1 0.4-1.5 0.3-1.5 0.1-1 0.3-1.5 0.2-1 0.1-1 0.7-0.3 1.2 0.1 1.5 0.4 1 0.5 1 0.8 0.9 0.6 0.6 1.2 0.5 1.2 0.2 1 0.4 1.5 0zM246.7 241.5l1.3-0.1 1.5-0.1 1.1-0.3 1.4-0.5 1-0.2 1-0.4 1-0.6 1-0.6 0.9-0.7 0.6-0.5 0.8-1 0.5-1 0.4-1 0.3-1.5-0.5-1.2-1-0.6-1-0.4-1.5-0.2-1.5 0-1.5 0-1.4 0.4-1 0.5-0.6-0.1-1.4 0.1-1.1 0.5-0.6 0.5-1.4 0.1-1.5 0.2-1 0.3-1.5 0.2-1 0.2-1 0.8-0.1 1.2 0.1 1 0.5 1.5 0.5 0.8 0.5 0.7 1 0.7 1 0.5 1 0.4 1.5 0.3 1 0.1zM226.2 254l1.3-0.1 1.3-0.4 1.2-0.4 1-0.4 1-0.6 0.8-0.6 0.7-0.7 0.5-0.9 0.4-1.4 0.1-0.5-1-0.9-1-0.2-1.5-0.1-1.5 0.2-1 0.3-1 0.2-1.5 0.4-1 0.2-1.5 0.2-1 0.2-1.5 0.4-0.4 1.1 0.3 1.5 0.6 1 0.5 0.6 1 0.6 1.3 0.3 1.2 0.2zM250.3 238l1.2-0.3 1-0.5 1-0.7 0.5-0.6 0.5-0.9 0.3-1.5-0.8-0.6-1.5-0.4-1.5 0-1.4 0.5-0.6 0-1 0.4-1 0.2-1.5 0.3-1 0.2-0.7 0.9 0.2 1.3 0.5 0.8 1 0.8 1 0.3 1.5 0.2 1.5-0.1zM225.8 253l1.2-0.3 1-0.5 1-0.7 0.5-1 0-0.7-1-0.5-1.5 0-1 0.3-1.5 0.3-1 0.2-1.2 0.4 0.2 1.5 0.5 0.6 1 0.4 1.5 0z" fill="none" stroke="#ff2d2d" stroke-width="0.9"/>
<path d="M156 208h0m0 2h0m0 4h0m0 3h0m0 1h0m0 15h0m0 4h0m0 2h0m0 3h0m0 5h0m0 1h0m0 7h0m0 4h0m0 20h0m1-79h0m0 13h0m0 1h0m0 15h0m0 27h0m0 7h0m0 45h0m0 7h0m0 9h0m1-131h0m0 8h0m0 11h0m0 6h0m0 11h0m0 1h0m0 2h0m0 3h0m0 18h0m0 14h0m0 12h0m0 30h0m0 39h0m1-129h0m0 2h0m0 45h0m0 47h0m1-114h0m0 1h0m0 6h0m0 1h0m0 1h0m0 5h0m0 11h0m0 3h0m0 14h0m0 19h0m0 49h0m0 6h0m1-111h0m0 2h0m0 4h0m0 7h0m0 2h0m0 9h0m0 20h0m0 5h0m0 1h0m0 3h0m0 12h0m0 10h0m0 16h0m0 25h0m1-121h0m0 14h0m0 3h0m0 1h0m0 2h0m0 6h0m0 3h0m0 6h0m0 5h0m0 2h0m0 1h0m0 4h0m0 4h0m0 4h0m0 5h0m0 13h0m0 11h0m0 9h0m0 16h0m0 2h0m0 2h0m1-115h0m0 5h0m0 3h0m0 3h0m0 7h0m0 3h0m0 6h0m0 1h0m0 4h0m0 5h0m0 5h0m0 1h0m0 4h0m0 1h0m0 2h0m0 4h0m0 1h0m0 2h0m0 3h0m0 99h0m1-156h0m0 8h0m0 2h0m0 2h0m0 1h0m0 6h0m0 4h0m0 3h0m0 4h0m0 6h0m0 3h0m0 1h0m0 4h0m0 8h0m0 2h0m0 2h0m0 10h0m0 44h0m1-112h0m0 9h0m0 7h0m0 2h0m0 8h0m0 1h0m0 2h0m0 1h0m0 4h0m0 8h0m0 14h0m0 3h0m0 5h0m0 8h0m0 1h0m1-78h0m0 5h0m0 13h0m0 3h0m0 7h0m0 1h0m0 1h0m0 6h0m0 8h0m0 4h0m0 3h0m0 3h0m0 11h0m0 5h0m0 40h0m0 10h0m0 16h0m1-142h0m0 12h0m0 3h0m0 1h0m0 8h0m0 5h0m0 16h0m0 1h0m0 2h0m0 10h0m0 1h0m0 9h0m0 1h0m0 13h0m0 4h0m0 10h0m0 7h0m0 18h0m0 27h0m0 8h0m1-145h0m0 1h0m0 4h0m0 2h0m0 4h0m0 7h0m0 1h0m0 8h0m0 9h0m0 27h0m0 9h0m0 13h0m1-91h0m0 3h0m0 5h0m0 11h0m0 22h0m0 1h0m0 1h0m0 24h0m0 4h0m0 19h0m0 5h0m0 12h0m0 17h0m0 13h0m1-135h0m0 5h0m0 3h0m0 6h0m0 2h0m0 1h0m0 1h0m0 20h0m0 1h0m0 2h0m0 24h0m0 1h0m0 4h0m0 3h0m0 13h0m0 33h0m1-119h0m0 6h0m0 1h0m0 2h0m0 66h0m0 15h0m0 31h0m0 11h0m1-134h0m0 9h0m0 2h0m0 59h0m0 3h0m0 1h0m0 3h0m0 2h0m0 38h0m0 20h0m1-133h0m0 1h0m0 1h0m0 66h0m0 6h0m0 3h0m0 42h0m1-126h0m0 6h0m0 4h0m0 64h0m0 1h0m0 2h0m0 1h0m0 2h0m0 1h0m0 6h0m0 106h0m1-187h0m0 3h0m0 66h0m0 5h0m0 11h0m0 22h0m0 8h0m1-128h0m0 61h0m0 22h0m0 3h0m0 1h0m0 1h0m0 3h0m0 12h0m0 6h0m0 10h0m0 42h0m1-161h0m0 84h0m0 9h0m0 1h0m0 2h0m0 23h0m0 8h0m0 1h0m0 2h0m0 6h0m0 64h0m1-115h0m0 3h0m0 8h0m0 5h0m0 5h0m0 11h0m1-107h0m0 3h0m0 72h0m0 1h0m0 1h0m0 5h0m0 5h0m0 5h0m0 29h0m0 26h0m1-146h0m0 75h0m0 15h0m0 5h0m0 60h0m1-79h0m0 1h0m0 3h0m0 5h0m0 1h0m0 1h0m0 8h0m0 19h0m0 8h0m0 11h0m0 30h0m0 9h0m1-179h0m0 6h0m0 1h0m0 77h0m0 2h0m0 1h0m0 2h0m0 43h0m1-127h0m0 3h0m0 1h0m0 73h0m0 5h0m0 1h0m0 15h0m0 18h0m0 6h0m1-125h0m0 79h0m0 9h0m0 7h0m0 11h0m0 26h0m1-136h0m0 57h0m0 25h0m0 6h0m0 16h0m0 32h0m1-129h0m0 2h0m0 78h0m0 1h0m0 1h0m0 51h0m0 2h0m0 9h0m1-150h0m0 8h0m0 77h0m0 3h0m0 1h0m0 2h0m0 2h0m0 4h0m0 3h0m0 4h0m0 2h0m0 74h0m1-183h0m0 6h0m0 2h0m0 1h0m0 1h0m0 1h0m0 81h0m0 2h0m0 1h0m0 35h0m0 1h0m0 69h0m1-200h0m0 4h0m0 2h0m0 83h0m0 4h0m0 1h0m0 2h0m0 6h0m0 28h0m0 2h0m0 12h0m0 9h0m0 13h0m0 8h0m1-180h0m0 8h0m0 86h0m0 1h0m0 5h0m0 4h0m0 29h0m0 7h0m0 16h0m1-151h0m0 7h0m0 50h0m0 16h0m0 8h0m0 15h0m0 1h0m0 4h0m0 20h0m0 3h0m0 4h0m0 20h0m0 53h0m1-196h0m0 1h0m0 1h0m0 1h0m0 87h0m0 1h0m0 1h0m0 2h0m0 2h0m0 28h0m0 5h0m0 5h0m0 2h0m0 4h0m0 13h0m1-165h0m0 14h0m0 90h0m0 10h0m0 22h0m0 16h0m1-157h0m0 8h0m0 4h0m0 3h0m0 3h0m0 120h0m0 6h0m0 3h0m0 40h0m1-177h0m0 3h0m0 2h0m0 2h0m0 2h0m0 80h0m0 8h0m0 1h0m0 3h0m0 2h0m0 40h0m0 17h0m1-159h0m0 4h0m0 92h0m0 3h0m0 6h0m0 7h0m0 3h0m0 13h0m0 2h0m0 14h0m0 15h0m1-163h0m0 1h0m0 1h0m0 2h0m0 4h0m0 91h0m0 2h0m0 3h0m0 4h0m0 5h0m0 5h0m0 6h0m0 16h0m0 66h0m1-103h0m0 1h0m0 3h0m0 3h0m0 26h0m0 53h0m1-201h0m0 17h0m0 74h0m0 23h0m0 1h0m0 1h0m0 2h0m0 4h0m0 3h0m0 13h0m0 6h0m0 12h0m0 23h0m1-171h0m0 10h0m0 73h0m0 15h0m0 13h0m0 3h0m0 2h0m0 5h0m0 7h0m0 16h0m0 19h0m0 8h0m1-166h0m0 3h0m0 1h0m0 1h0m0 99h0m0 1h0m0 1h0m0 6h0m0 14h0m0 9h0m1-132h0m0 1h0m0 72h0m0 21h0m0 1h0m0 34h0m0 6h0m0 9h0m0 24h0m1-167h0m0 85h0m0 15h0m0 1h0m0 4h0m0 2h0m0 5h0m0 10h0m0 4h0m0 11h0m0 21h0m0 4h0m1-162h0m0 91h0m0 3h0m0 2h0m0 6h0m0 25h0m0 14h0m0 17h0m0 43h0m1-214h0m0 11h0m0 1h0m0 1h0m0 91h0m0 5h0m0 7h0m0 1h0m0 2h0m0 2h0m0 1h0m0 2h0m0 16h0m0 7h0m0 1h0m0 2h0m0 11h0m0 3h0m0 11h0m1-176h0m0 14h0m0 103h0m0 1h0m0 9h0m0 1h0m0 13h0m0 3h0m0 37h0m0 34h0m1-206h0m0 4h0m0 88h0m0 16h0m0 2h0m0 7h0m0 5h0m0 1h0m0 1h0m0 24h0m1-146h0m0 91h0m0 14h0m0 2h0m0 1h0m0 4h0m0 1h0m0 4h0m0 11h0m0 50h0m0 9h0m1-186h0m0 105h0m0 3h0m0 2h0m0 9h0m0 11h0m0 3h0m0 3h0m0 9h0m1-145h0m0 1h0m0 2h0m0 90h0m0 12h0m0 1h0m0 3h0m0 2h0m0 1h0m0 41h0m0 33h0m1-188h0m0 1h0m0 3h0m0 1h0m0 99h0m0 1h0m0 3h0m0 1h0m0 1h0m0 7h0m0 26h0m0 2h0m1-141h0m0 119h0m0 7h0m0 11h0m0 2h0m0 9h0m0 3h0m1-162h0m0 6h0m0 1h0m0 72h0m0 19h0m0 17h0m0 3h0m0 34h0m0 2h0m0 8h0m0 16h0m1-70h0m0 4h0m0 12h0m0 3h0m0 21h0m0 8h0m0 3h0m0 19h0m1-170h0m0 2h0m0 1h0m0 1h0m0 87h0m0 17h0m0 1h0m0 15h0m0 33h0m0 21h0m0 26h0m1-206h0m0 4h0m0 1h0m0 109h0m0 30h0m0 9h0m1-153h0m0 4h0m0 1h0m0 94h0m0 12h0m0 1h0m0 4h0m0 7h0m0 8h0m0 1h0m1-129h0m0 89h0m0 24h0m1-9h0m0 1h0m0 24h0m1-131h0m0 1h0m0 1h0m0 81h0m0 7h0m0 13h0m0 4h0m0 1h0m0 4h0m0 1h0m0 1h0m0 22h0m0 3h0m0 6h0m0 10h0m1-50h0m0 3h0m0 2h0m0 2h0m0 1h0m0 20h0m0 16h0m0 17h0m0 39h0m1-208h0m0 5h0m0 79h0m0 11h0m0 19h0m0 77h0m1-189h0m0 2h0m0 1h0m0 1h0m0 107h0m1-120h0m0 10h0m0 2h0m0 1h0m0 85h0m0 19h0m0 2h0m0 1h0m0 2h0m0 23h0m0 6h0m0 6h0m0 15h0m0 43h0m1-205h0m0 3h0m0 93h0m0 15h0m0 4h0m0 6h0m0 1h0m0 9h0m0 27h0m1-71h0m0 1h0m0 16h0m0 5h0m0 1h0m0 3h0m0 17h0m0 41h0m1-176h0m0 6h0m0 131h0m0 3h0m0 10h0m1-165h0m0 15h0m0 3h0m0 5h0m0 105h0m0 6h0m0 8h0m0 19h0m0 25h0m0 39h0m1-214h0m0 2h0m0 7h0m0 1h0m0 1h0m0 1h0m0 106h0m0 3h0m1-135h0m0 26h0m0 83h0m0 8h0m0 64h0m0 47h0m1-206h0m0 5h0m0 103h0m0 4h0m0 1h0m0 3h0m0 15h0m0 3h0m0 5h0m0 9h0m0 5h0m1-160h0m0 7h0m0 3h0m0 2h0m0 100h0m0 2h0m0 8h0m0 3h0m0 38h0m0 11h0m1-174h0m0 10h0m0 111h0m0 3h0m1-121h0m0 3h0m0 2h0m0 3h0m0 2h0m0 93h0m0 1h0m0 12h0m0 4h0m0 13h0m0 2h0m0 6h0m0 3h0m0 16h0m0 16h0m1-179h0m0 7h0m0 2h0m0 3h0m0 1h0m0 1h0m0 97h0m0 4h0m0 2h0m0 22h0m0 40h0m1-175h0m0 4h0m0 3h0m0 105h0m0 1h0m0 12h0m0 84h0m1-213h0m0 7h0m0 1h0m0 2h0m0 1h0m0 2h0m0 98h0m0 2h0m0 25h0m0 3h0m1-143h0m0 4h0m0 4h0m0 1h0m0 6h0m0 98h0m1-115h0m0 5h0m0 6h0m0 1h0m0 2h0m0 1h0m0 1h0m0 1h0m0 99h0m0 1h0m0 1h0m0 2h0m0 6h0m0 27h0m0 8h0m1-152h0m0 1h0m0 1h0m0 1h0m0 3h0m0 1h0m0 91h0m0 10h0m0 3h0m1-123h0m0 9h0m0 2h0m0 3h0m0 1h0m0 1h0m0 1h0m0 1h0m0 98h0m0 3h0m1-114h0m0 2h0m0 5h0m0 1h0m0 2h0m0 3h0m0 73h0m0 27h0m0 1h0m0 3h0m0 1h0m0 25h0m1-148h0m0 8h0m0 1h0m0 2h0m0 1h0m0 1h0m0 1h0m0 104h0m0 7h0m1-118h0m0 2h0m0 3h0m0 1h0m0 1h0m0 105h0m0 1h0m0 44h0m0 56h0m1-215h0m0 4h0m0 1h0m0 3h0m0 106h0m0 2h0m0 2h0m0 1h0m0 1h0m0 2h0m0 20h0m1-141h0m0 1h0m0 4h0m0 1h0m0 1h0m0 1h0m0 1h0m0 103h0m0 4h0m0 9h0m1-133h0m0 4h0m0 2h0m0 7h0m0 2h0m0 1h0m0 105h0m0 2h0m0 5h0m1-126h0m0 4h0m0 5h0m0 1h0m0 2h0m0 1h0m0 1h0m0 105h0m0 3h0m0 48h0m1-163h0m0 3h0m0 2h0m0 3h0m0 2h0m0 112h0m0 25h0m0 6h0m1-153h0m0 2h0m0 3h0m0 3h0m0 1h0m0 1h0m0 102h0m0 1h0m0 2h0m0 1h0m0 22h0m0 9h0m1-151h0m0 8h0m0 4h0m0 104h0m0 10h0m0 16h0m0 5h0m0 1h0m0 7h0m1-160h0m0 5h0m0 3h0m0 6h0m0 2h0m0 1h0m0 102h0m0 2h0m0 1h0m0 2h0m1-119h0m0 5h0m0 5h0m0 1h0m0 2h0m0 1h0m0 130h0m1-145h0m0 8h0m0 1h0m0 3h0m0 1h0m0 102h0m0 1h0m0 4h0m0 2h0m0 6h0m1-128h0m0 5h0m0 1h0m0 2h0m0 5h0m0 103h0m1-110h0m0 1h0m0 2h0m0 105h0m0 2h0m0 6h0m1-130h0m0 4h0m0 7h0m0 1h0m0 1h0m0 2h0m0 1h0m0 1h0m0 1h0m0 104h0m0 1h0m0 1h0m0 1h0m0 24h0m1-140h0m0 4h0m0 1h0m0 1h0m0 1h0m0 2h0m1-29h0m0 14h0m0 6h0m0 6h0m0 1h0m0 108h0m0 8h0m1-126h0m0 3h0m0 1h0m0 2h0m0 2h0m0 1h0m0 1h0m0 1h0m0 100h0m0 2h0m0 5h0m0 3h0m0 4h0m1-124h0m0 2h0m0 2h0m0 3h0m0 1h0m0 2h0m0 100h0m0 2h0m0 3h0m0 13h0m0 2h0m1-126h0m0 2h0m0 1h0m0 2h0m0 1h0m0 100h0m0 1h0m0 2h0m0 5h0m1-128h0m0 3h0m0 11h0m0 1h0m0 4h0m0 106h0m1-114h0m0 5h0m0 1h0m0 1h0m0 1h0m0 1h0m0 100h0m0 1h0m0 3h0m0 6h0m1-118h0m0 7h0m0 102h0m0 8h0m1-128h0m0 1h0m0 3h0m0 2h0m0 2h0m0 3h0m0 3h0m0 1h0m0 1h0m0 4h0m0 99h0m0 1h0m0 1h0m0 1h0m0 1h0m1-132h0m0 14h0m0 5h0m0 3h0m0 1h0m0 1h0m0 1h0m0 2h0m0 103h0m1-132h0m0 18h0m0 7h0m0 2h0m0 1h0m0 1h0m0 2h0m0 1h0m0 4h0m0 96h0m0 2h0m0 1h0m1-127h0m0 9h0m0 2h0m0 3h0m0 4h0m0 1h0m0 1h0m0 1h0m0 2h0m0 2h0m0 2h0m0 122h0m1-139h0m0 1h0m0 12h0m0 2h0m1-14h0m0 9h0m0 3h0m0 1h0m0 1h0m0 98h0m0 2h0m1-110h0m0 1h0m0 1h0m0 2h0m0 1h0m0 3h0m0 1h0m0 1h0m0 101h0m0 3h0m1-113h0m0 1h0m0 1h0m0 4h0m0 2h0m0 98h0m0 5h0m0 1h0m1-111h0m0 5h0m0 102h0m0 1h0m0 1h0m0 6h0m1-129h0m0 12h0m0 6h0m0 101h0m0 5h0m1-142h0m0 23h0m0 3h0m0 6h0m0 3h0m0 1h0m0 100h0m0 1h0m1-122h0m0 6h0m0 14h0m0 1h0m0 98h0m1-107h0m0 109h0m1-116h0m0 11h0m0 1h0m0 114h0m1-133h0m0 18h0m0 3h0m0 1h0m0 102h0m1-115h0m0 114h0m0 6h0m1-116h0m0 8h0m0 97h0m0 2h0m0 1h0m0 3h0m0 3h0m1-122h0m0 7h0m0 2h0m0 2h0m0 4h0m0 98h0m0 3h0m1-110h0m0 4h0m0 2h0m0 1h0m0 98h0m0 2h0m0 27h0m1-136h0m0 8h0m0 1h0m0 2h0m0 1h0m0 95h0m0 2h0m0 2h0m0 1h0m0 9h0m1-112h0m0 2h0m0 1h0m0 2h0m0 97h0m0 21h0m1-140h0m0 10h0m0 4h0m0 1h0m0 1h0m0 2h0m0 96h0m0 7h0m0 4h0m0 2h0m0 3h0m1-114h0m0 3h0m0 94h0m0 1h0m1-103h0m0 3h0m0 2h0m0 3h0m0 100h0m0 4h0m1-124h0m0 20h0m0 1h0m1-4h0m0 2h0m0 2h0m0 93h0m1-99h0m0 3h0m0 97h0m1-102h0m0 6h0m0 97h0m0 4h0m1-107h0m0 4h0m0 1h0m0 1h0m0 96h0m0 1h0m0 2h0m1-116h0m0 8h0m0 1h0m0 1h0m0 3h0m0 4h0m0 1h0m0 89h0m0 1h0m0 1h0m0 1h0m1-97h0m0 1h0m0 1h0m0 1h0m0 1h0m0 93h0m0 8h0m1-131h0m0 21h0m0 7h0m0 89h0m0 3h0m0 3h0m0 7h0m1-107h0m0 1h0m0 2h0m0 3h0m0 1h0m0 87h0m0 9h0m1-103h0m0 2h0m0 5h0m0 1h0m0 85h0m0 1h0m0 6h0m1-94h0m0 2h0m0 80h0m0 5h0m0 11h0m1-101h0m0 2h0m0 1h0m0 1h0m0 2h0m0 70h0m0 7h0m0 13h0m0 5h0m1-107h0m0 4h0m0 1h0m0 74h0m0 1h0m0 1h0m0 12h0m0 4h0m1-93h0m0 5h0m0 70h0m0 5h0m0 6h0m0 8h0m0 3h0m0 11h0m0 7h0m1-113h0m0 4h0m0 66h0m0 1h0m0 1h0m0 6h0m0 2h0m0 3h0m0 5h0m0 9h0m0 7h0m1-107h0m0 5h0m0 68h0m0 3h0m0 2h0m0 1h0m0 1h0m0 2h0m0 1h0m0 2h0m0 6h0m0 10h0m0 5h0m0 11h0m1-115h0m0 3h0m0 1h0m0 2h0m0 64h0m0 18h0m0 23h0m1-111h0m0 2h0m0 1h0m0 1h0m0 1h0m0 62h0m0 3h0m0 1h0m0 1h0m0 11h0m0 1h0m0 4h0m0 4h0m1-102h0m0 8h0m0 7h0m0 59h0m0 1h0m0 3h0m0 3h0m0 8h0m0 7h0m1-103h0m0 10h0m0 4h0m0 6h0m0 2h0m0 62h0m0 1h0m0 8h0m0 13h0m0 3h0m0 5h0m1-96h0m0 61h0m0 2h0m0 6h0m0 8h0m0 7h0m0 12h0m1-121h0m0 24h0m0 2h0m0 3h0m0 43h0m0 1h0m0 1h0m0 15h0m0 17h0m0 1h0m0 11h0m0 18h0m1-105h0m0 42h0m0 5h0m0 1h0m0 1h0m0 1h0m0 5h0m0 8h0m0 2h0m1-95h0m0 25h0m0 2h0m0 1h0m0 45h0m0 6h0m0 5h0m0 1h0m0 4h0m0 2h0m0 2h0m0 7h0m0 1h0m0 1h0m0 5h0m1-79h0m0 1h0m0 12h0m0 2h0m0 24h0m0 1h0m0 1h0m0 2h0m0 1h0m0 3h0m0 2h0m0 1h0m0 2h0m0 4h0m0 7h0m0 8h0m0 15h0m1-114h0m0 18h0m0 12h0m0 13h0m0 13h0m0 13h0m0 1h0m0 3h0m0 1h0m0 2h0m0 1h0m0 2h0m1-53h0m0 2h0m0 2h0m0 4h0m0 3h0m0 3h0m0 8h0m0 1h0m0 22h0m0 5h0m0 3h0m0 1h0m0 6h0m1-70h0m0 10h0m0 11h0m0 3h0m0 2h0m0 3h0m0 4h0m0 4h0m0 1h0m0 5h0m0 1h0m0 1h0m0 5h0m0 2h0m0 4h0m0 2h0m0 6h0m0 3h0m0 10h0m1-81h0m0 5h0m0 7h0m0 2h0m0 2h0m0 2h0m0 3h0m0 10h0m0 2h0m0 2h0m0 1h0m0 2h0m0 1h0m0 1h0m0 2h0m0 3h0m0 10h0m0 3h0m0 4h0m0 5h0m0 2h0m0 18h0m1-79h0m0 3h0m0 2h0m0 5h0m0 3h0m0 4h0m0 3h0m0 1h0m0 1h0m0 3h0m0 3h0m0 3h0m0 3h0m0 1h0m0 1h0m0 1h0m0 1h0m0 4h0m0 1h0m0 1h0m0 1h0m0 18h0m0 2h0m0 4h0m0 23h0m1-91h0m0 22h0m0 1h0m0 5h0m0 4h0m0 2h0m0 5h0m0 1h0m0 3h0m0 3h0m0 1h0m0 1h0m0 7h0m0 2h0m0 12h0m0 6h0m0 27h0m1-81h0m0 1h0m0 16h0m0 3h0m0 14h0m0 1h0m0 10h0m0 13h0m0 23h0m1-114h0m0 2h0m0 3h0m0 15h0m0 1h0m0 20h0m0 4h0m0 8h0m0 1h0m0 12h0m0 1h0m0 5h0m0 2h0m0 3h0m0 1h0m0 2h0m1-66h0m0 2h0m0 11h0m0 1h0m0 1h0m0 3h0m0 1h0m0 1h0m0 1h0m0 2h0m0 2h0m0 7h0m0 1h0m0 4h0m0 1h0m0 14h0m1-68h0m0 7h0m0 34h0m0 3h0m0 3h0m0 7h0m0 2h0m0 2h0m0 6h0m0 8h0m0 8h0m0 13h0m1-80h0m0 3h0m0 1h0m0 27h0m0 1h0m0 1h0m0 7h0m0 3h0m0 2h0m0 5h0m0 8h0m0 7h0m0 21h0m1-114h0m0 26h0m0 25h0m0 1h0m0 3h0m0 7h0m0 6h0m0 4h0m0 4h0m0 10h0m1-73h0m0 25h0m0 2h0m0 5h0m0 3h0m0 10h0m1-12h0m0 5h0m0 8h0m0 18h0m0 2h0m1-22h0m0 29h0m1-59h0m0 11h0m0 20h0m0 5h0m0 3h0m0 21h0m0 43h0m1-85h0m0 2h0m0 16h0m0 14h0m1-16h0m0 6h0m0 35h0m1-47h0m0 6h0m1-15h0m0 4h0m0 15h0m0 5h0m1-52h0m0 13h0m0 7h0m0 1h0m0 1h0m0 26h0m0 60h0m1-55h0m1-3h0m1-18h0m2-38h0m0 46h0m0 10h0m0 24h0m1-38h0m0 24h0m1-8h0m0 30h0m2-63h0m0 4h0m0 14h0m0 32h0m1-58h0m0 3h0m0 22h0m1-48h0m1 89h0m7-47h0m1 10h0m5-29h0m2-25h0m1 19h0" stroke="#0b7dff" stroke-width="1.3" stroke-linecap="square" fill="none"/>
<path d="M167 205.8l3.5-4.4 2.9-4.1 8-3 5.1-2.9 4-2.7 2.9-2.6 2.5-2.7 3.9-1.8 4.9-1 5.6-0.1 5.2 0.2 2.8-1 3.4-0.3 1.8-1.2 4 0.9 3.5 0.9 3.6 1.6 1.6-0.6 1.7-0.3 0.9-1.6 1.5-0.5 0.7-2.6 1.4-0.9 1.3-1.7 2.3 1.8 1.6-0.4 2 1.8 1.5 0 1.6 0.1 1.5-1.7 1.8-3.7 1.7 1.3 2-1.5 1.8 0.4 2-0.5 2.2-0.6 1 2.9 1.7 0.7 0.6 2.8 3-1.8 5-4.3 3.5-1.1 3.9-1.1 2.1 1.4 4.6-1 4.9-0.7 5-0.3 4.5 0.6 6.7-0.4 3.5 2.2 0.9 3.7 0.8 3.6-1.5 4.5 2.8 2.7-1 4 0.4 3.4-0.7 3.6 1.2 3.2 2.1 3.3-3 3.5-2.3 3.2-2.7 2.9 2.6 3.6-2 2.9 0.2 3.3-1.8 2.8-2 2.6-0.9 3-2.4 2.3-2.3 2.2-0.7 3.1-1.5 2.8 1.5 5.1-1.5 3.1 0.6 5.4-3.6 1.3-1.6 3.6-2.8 2.2-2.1 3.4-4 0.5-3.1 1.7-2.8 2.5-3.7 0.5-2.9 2.7-3.3 1.8-3.7 0.6-3.8-0.4-3.7-0.4-3.3 5.2-3.9 1.5-4 2.1-4-1.3-3.8-1.1-4.4 1.3-5 3.3-5.1 1.8-5.1 0.7-4.2-1.9-5.5 0.7-5-0.8-4.5-1.8-4-2.9-3.6-3.3-5.6-1-4.6-2.4-4.6-2.6-3.2-4.1-4.3-3.2-4.5-3.3-3.4-4.2-3.6-4.1 4.1-7.7-2.7-4.4 4.9-6.9-4.2-3.8 1.6-5.3-1.4-4.6 1.7-5 2.4-4.7zM193.5 205.8l2.9-3 3.4-2.7 3.2-2.4 1.9-2.4 2.2-2.1 3.2-1.7 2.6-1.6 3.2-1 3.4-0.8 2.3-1 2.8-0.5 1.4-1.3 2.1-0.6 1-1.5 2-0.5 2.3 0 3.2 1.3 1.2-0.8 1.4-0.5 0.8-1.4 1.5-0.5 1-1.2 1.4-0.6 1.5-0.4 1.7 0.5 1.5 0.3 1.5 0.4 1.4 0.7 1.4-0.1 1.3-1.5 1.4-0.6 1.3 1.5 1.5-0.3 1.5-0.5 2.2-2.7 1.5 0.5 1.4 0.9 0.9 1.8 1.7 0 1.8 0 4.2-3.5 2.7-0.6 4-1.8 0.8 2.3 3.4-0.4 4.1-0.7 6-1.7 3.5 0.8 4.6 0.4 1.9 2.4 1.2 2.8 1.6 2.6 0.2 3.2 2.2 2.4-0.4 3.3 0.4 3-1 3.2 0 2.9-0.9 2.9-1.1 2.8-0.5 2.7-0.5 2.7 2.2 3.1-2.8 2.3-0.3 2.8-2.1 2.2-0.1 2.8 0.5 3.2-1 2.6-1.9 2.2-1.7 2.2-2.3 1.8 0.2 3.7-1.5 2.4 1.3 5.4-2.2 2.2-2.1 2.4-3.7 0.2-2.2 2.3-1.9 2.8-1.6 3.8-2 3.5-4-0.9-2.9 1.6-3.2 0.9-2.7 2.9-3.5-0.2-3.5-0.7-3.2 2.8-3.4 1.6-3.7 3.3-3.7-0.5-3.7-0.2-3.9 0.8-4.4 1.6-4.3 0.8-4.1-0.8-4.2-0.4-5.2 1.1-4.7-0.5-3.9-1.9-2.8-3.6-4.1-1.9-3.7-2.5-3.7-2.5-2.9-3.4-2.3-3.8-2.7-3.5-1.7-4.1-0.2-4.9 1.2-5.4 4.8-6.5-1.6-3.3 1.7-4.5-3.4-2.7 1.2-4 0.4-3.6 2.6-3.8 1.4-3.4z" fill="url(#pB)" fill-rule="evenodd" clip-path="url(#cA)"/>
<path d="M193.5 205.8l2.9-3 3.4-2.7 3.2-2.4 1.9-2.4 2.2-2.1 3.2-1.7 2.6-1.6 3.2-1 3.4-0.8 2.3-1 2.8-0.5 1.4-1.3 2.1-0.6 1-1.5 2-0.5 2.3 0 3.2 1.3 1.2-0.8 1.4-0.5 0.8-1.4 1.5-0.5 1-1.2 1.4-0.6 1.5-0.4 1.7 0.5 1.5 0.3 1.5 0.4 1.4 0.7 1.4-0.1 1.3-1.5 1.4-0.6 1.3 1.5 1.5-0.3 1.5-0.5 2.2-2.7 1.5 0.5 1.4 0.9 0.9 1.8 1.7 0 1.8 0 4.2-3.5 2.7-0.6 4-1.8 0.8 2.3 3.4-0.4 4.1-0.7 6-1.7 3.5 0.8 4.6 0.4 1.9 2.4 1.2 2.8 1.6 2.6 0.2 3.2 2.2 2.4-0.4 3.3 0.4 3-1 3.2 0 2.9-0.9 2.9-1.1 2.8-0.5 2.7-0.5 2.7 2.2 3.1-2.8 2.3-0.3 2.8-2.1 2.2-0.1 2.8 0.5 3.2-1 2.6-1.9 2.2-1.7 2.2-2.3 1.8 0.2 3.7-1.5 2.4 1.3 5.4-2.2 2.2-2.1 2.4-3.7 0.2-2.2 2.3-1.9 2.8-1.6 3.8-2 3.5-4-0.9-2.9 1.6-3.2 0.9-2.7 2.9-3.5-0.2-3.5-0.7-3.2 2.8-3.4 1.6-3.7 3.3-3.7-0.5-3.7-0.2-3.9 0.8-4.4 1.6-4.3 0.8-4.1-0.8-4.2-0.4-5.2 1.1-4.7-0.5-3.9-1.9-2.8-3.6-4.1-1.9-3.7-2.5-3.7-2.5-2.9-3.4-2.3-3.8-2.7-3.5-1.7-4.1-0.2-4.9 1.2-5.4 4.8-6.5-1.6-3.3 1.7-4.5-3.4-2.7 1.2-4 0.4-3.6 2.6-3.8 1.4-3.4zM205.2 205.8l2.2-2.5 2.3-2.2 2.4-2 2.1-1.8 1.9-1.7 1.9-1.6 2-1.3 2-1.2 2.1-1 2.1-0.9 2.1-0.7 1.5-0.8 1.5-0.9 1.4-0.8 1.5-0.6 1.5-0.6 1.4-0.5 1.5-0.3 1.5-0.3 1.4-0.2 1.5-0.1 1.4 0 1.4 0.1 1.3 0 1.1-0.5 1.1-0.5 1.2-0.4 1.2-0.4 1.2-0.3 1.3-0.3 1.3-0.2 1.3-0.1 1.3-0.1 1.3 0.1 1.4 0.1 1.3 0.1 1.4 0.3 1.3 0.3 1.8-0.6 2.2-0.8 2.2-0.7 2.4-0.6 2.5-0.3 2.6-0.1 2.6 0 2.8 0.2 3.3 0 3.4 0.3 3.4 0.6 2.5 1.4 1.6 2 1.6 2.1 0.8 2.5 0.2 2.7 0 2.6-0.1 2.6-0.3 2.6-0.4 2.5-0.6 2.4-0.7 2.4-0.8 2.3-1 2.2-0.1 2.2 0 2.3-0.2 2.3-0.3 2.3-0.5 2.3-0.5 2.3-0.7 2.3-0.8 2.3-0.9 2.3-1 2.2-1.2 2.2-1.3 2.1-1.2 2.3-1.3 2.3-1.5 2.2-1.7 2.1-1.7 2.1-1.9 2-2.1 2-2.1 1.9-2.3 1.7-2.4 1.7-2.6 1.6-2.6 1.4-2.8 1.3-2.9 1.1-2.9 1-3.1 0.8-3.1 0.7-3.2 0.5-3.3 0.3-3.3 0.2-3.4 0-3.4-0.2-3.5-0.1-3.6-0.4-3.6-0.5-3.6-0.8-3.4-1.1-3.3-1.7-3.1-1.9-3.1-2.1-2.6-2.5-2-3.1-1.9-3.2-1.1-3.6 0.3-4.4 0.5-4.2 1-4.1 1.4-4.1-0.4-3-0.9-2.7-0.6-2.8 1.1-3.2 0.3-2.9 0.3-2.8 0.5-2.7z" fill="#0b7dff" fill-rule="evenodd" clip-path="url(#cA)"/>
<path d="M245.7 266.5l1.3-0.3 1-0.2 1.5-0.4 1-0.1 1.5-0.2 1.5-0.3 1-0.1 1.5-0.4 1-0.3 1-0.3 1-0.4 1-0.5 1-0.5 1-0.6 1-0.4 1-0.5 1.3-0.5 1.2-0.4 1-0.4 1-0.4 1-0.4 1-0.5 1-0.6 1-0.7 0.7-0.6 0.8-0.7 0.9-0.8 0.6-0.6 1-0.8 0.7-0.6 0.8-0.7 1-0.8 0.5-0.5 1-0.9 0.5-0.6 1-1 0.5-0.5 0.9-1 0.6-0.7 0.6-0.8 0.8-1 0.6-0.9 0.5-0.8 0.5-0.8 0.6-1 0.6-1 0.6-1 0.5-1 0.6-1 0.6-1 0.5-1 0.4-1 0.4-1 0.4-1 0.3-1 0.5-1.3 0.4-1.2 0.4-1 0.4-1 0.5-1 0.4-1 0.4-1 0.4-1.5 0.3-1 0.2-1.5 0.1-1 0.1-1.5-0.1-1.5 0-1.5 0-1 0-1.5 0-1.1 0.4-1.4 0.3-1 0.4-1 0.4-1.2 0.5-1.3 0.3-1 0.3-1 0.4-1.5 0.2-1 0.3-1.5 0.2-1 0.2-1.5 0.1-1 0.1-1.5 0.1-1.5-0.1-1.5 0-1.5-0.1-1.3-0.3-1.2-0.3-1-0.6-1-0.8-0.9-0.5-0.6-0.9-1-0.6-0.6-1-0.6-1-0.5-1-0.4-1.5-0.3-1-0.2-1.5-0.2-1.5-0.1-1.5 0-1.5 0-1.5-0.1-1-0.1-1.5-0.1-1.5-0.1-1.5 0.1-1.5 0.1-1 0.1-1.5 0.2-1.5 0.3-1 0.2-1.2 0.3-1.3 0.4-1 0.4-1 0.5-1 0.3-1.2 0.4-0.8-0.1-1.5-0.3-1.1-0.1-1.4-0.1-1.5-0.1-1.5 0-1.5 0.1-1.1 0.1-1.4 0.3-1 0.2-1.5 0.5-1 0.3-1 0.5-1 0.4-1.5 0.2-1.5-0.1-1.5 0-1.5 0-1.5 0.2-1 0.2-1.3 0.3-1.2 0.4-1 0.4-1 0.4-1 0.5-1 0.5-1 0.5-1 0.6-1 0.6-1 0.5-1 0.3-1.2 0.3-1.3 0.4-1 0.5-1 0.4-1 0.6-1 0.5-1 0.6-0.8 0.5-0.8 0.5-0.9 0.7-1 0.7-0.7 0.6-0.8 0.7-0.9 0.8-0.6 0.5-1 0.9-0.6 0.6-0.9 0.8-0.9 0.7-0.6 0.5-1 0.9-0.7 0.6-0.8 0.8-0.8 0.7-0.7 0.8-0.6 0.7-0.7 1-0.6 1-0.6 1-0.1 1-0.1 1.5-0.1 1.5-0.1 1.5-0.1 1.2-0.1 1.3-0.4 1.2-0.5 1.2-0.4 1.1 0.1 1.5 0.3 1.5 0.2 1 0.3 1 0.3 1.5 0.2 1.5 0 1-0.3 1-0.3 1-0.4 1.5-0.2 1-0.3 1.1-0.3 1.4-0.2 1.4-0.1 1.1-0.1 1.5-0.1 1.5-0.1 1.5-0.1 1.5 0.2 1.5 0.3 1.5 0.2 1 0.4 1 0.6 1 0.7 1 0.6 0.7 0.6 0.8 0.7 1 0.7 1 0.5 0.5 0.9 1 0.6 0.7 0.8 0.8 0.7 0.6 1 0.8 0.7 0.6 0.8 0.6 1 0.8 1 0.6 0.9 0.5 1 0.5 1.1 0.5 1 0.3 1 0.3 1 0.4 1.5 0.5 1 0.2 1 0.3 1.5 0.3 1.1 0.2 1.4 0.2 1.5 0.1 1.5 0.1 1.5-0.1 1.5-0.1 1.5-0.1 1.5 0 1.5 0.1 1.5 0.2 1.1 0.1 1.4 0.2 1.5 0.1 1.5 0 1.5-0.3zM247.4 262l1.1-0.2 1.5-0.3 1-0.2 1.5-0.3 1-0.2 1-0.4 1.1-0.4 1.2-0.5 1.2-0.5 1-0.4 1-0.4 1-0.3 1.5-0.4 1-0.3 1-0.3 1-0.4 1-0.5 1-0.5 1-0.6 1-0.7 0.9-0.7 0.7-0.5 0.9-0.7 1-0.8 0.6-0.5 0.9-0.7 1-0.8 0.6-0.5 0.9-0.9 0.7-0.6 0.8-0.8 0.8-0.7 0.7-0.7 0.7-0.8 0.8-0.9 0.5-0.6 0.7-1 0.7-1 0.6-0.9 0.5-0.8 0.5-0.9 0.5-0.9 0.6-1 0.4-1 0.5-1 0.5-1 0.5-1 0.5-1 0.5-1 0.5-1 0.5-1 0.5-1.2 0.5-1.2 0.4-1.1 0.4-1 0.3-1 0.4-1.3 0.2-1.2 0.3-1.5 0.1-1 0.1-1.5 0.2-1.5 0.1-1.5 0.1-1 0.1-1.5 0.2-1.5 0.4-1 0.2-1 0.4-1.5 0.3-1 0.3-1.3 0.3-1.2 0.2-1 0.4-1.5 0.2-1 0.3-1.5 0.1-1 0.2-1.5 0-1.5-0.1-1.5-0.1-1-0.2-1.5-0.3-1.3-0.4-1.2-0.6-0.9-0.5-0.7-0.7-0.9-0.8-1-0.6-0.5-0.9-0.5-1-0.6-1.5-0.3-1-0.2-1.5-0.1-1.5-0.2-1.5-0.1-1.5 0-1 0-1.5-0.1-1.5 0-1.5 0-1.5 0.1-1 0.1-1.5 0.1-1.5 0.3-1 0.1-1.4 0.4-1.1 0.4-1 0.3-1 0.4-1 0.4-1.5 0.3-1.5-0.3-1-0.1-1.5-0.2-1.5 0-1.5 0-1.5 0.1-1.4 0.2-1.1 0.2-1 0.3-1.5 0.5-1 0.4-1 0.5-1 0.2-1-0.1-1.5 0-1.5 0-1 0.1-1.5 0.2-1.2 0.2-1.3 0.4-1 0.3-1 0.4-1 0.5-1 0.6-1 0.6-1 0.6-1 0.5-1 0.5-1 0.3-1 0.3-1.4 0.5-1.1 0.5-1 0.5-1 0.5-0.9 0.5-0.8 0.5-0.8 0.6-1 0.7-0.9 0.7-0.6 0.5-1 0.8-0.7 0.7-0.8 0.6-1 0.9-0.6 0.5-0.9 0.7-0.9 0.8-0.6 0.5-1 1-0.5 0.5-0.9 1-0.6 0.6-0.7 0.9-0.7 1-0.6 0.9-0.3 1.1-0.1 1.5-0.1 1.5 0 1-0.1 1.5-0.1 1.5-0.5 1-0.4 1-0.3 1.5 0.1 1.5 0.2 1.5 0.2 1 0.3 1.5 0.1 1 0.1 1.5-0.4 1-0.3 1-0.4 1.5-0.1 1-0.2 1.5-0.2 1.5-0.1 1-0.2 1.5-0.2 1.5-0.1 1-0.1 1.5 0 1.5 0.3 1 0.4 1.4 0.5 0.9 0.5 0.7 0.8 1 0.7 0.8 0.5 0.7 0.7 1 0.7 1 0.6 0.8 0.6 0.7 0.9 0.9 0.9 0.6 1 0.5 0.9 0.5 1 0.5 1 0.5 0.9 0.5 0.9 0.5 0.9 0.5 1 0.6 1 0.4 1.4 0.5 1.1 0.4 1 0.2 1.5 0.4 1 0.2 1.5 0.3 1 0.2 1.5 0.2 1 0.1 1.5 0.2 1.5 0.1 1.5 0 1.5 0.2 1 0 1.5 0.2 1.5 0.2 1.5 0.1 1.5-0.1 1.5-0.2 1.4-0.2zM239.4 258l1.1-0.2 1-0.3 1.5 0 1.5-0.1 1.5-0.1 1.5-0.2 1-0.1 1.5-0.1 1.5-0.2 1.3-0.2 1.2-0.3 1-0.2 1.5-0.5 1-0.3 1-0.3 1.4-0.4 1.1-0.3 1-0.3 1-0.4 1-0.5 1-0.6 1-0.8 0.8-0.6 0.7-0.6 1-0.8 0.8-0.6 0.8-0.5 0.9-0.6 1-0.7 0.9-0.7 0.6-0.5 1-0.9 0.7-0.6 0.8-0.8 0.8-0.7 0.7-0.8 0.7-0.7 0.8-1 0.5-0.6 0.6-0.9 0.8-1 0.6-1 0.5-0.7 0.5-0.8 0.5-1 0.5-1 0.5-1.1 0.5-0.9 0.5-1 0.5-1 0.5-1 0.5-1.1 0.5-1 0.5-1.2 0.5-1.2 0.3-1 0.4-1 0.3-1.1 0.4-1.4 0.2-1 0.2-1.5 0.2-1.5 0.1-1 0.2-1.5 0.2-1.5 0.1-1 0.4-1.4 0.5-1.1 0.3-1 0.2-1 0.3-1.5 0.2-1.1 0.2-1.4 0.3-1.5 0.2-1 0.2-1.5 0.1-1.4 0-1.1 0-1.1-0.1-1.4-0.2-1.5-0.2-1-0.4-1.5-0.5-1-0.6-1-0.5-0.8-0.5-0.8-1-0.8-0.9-0.6-1.1-0.4-1-0.1-1.5-0.2-1.5-0.2-1.5-0.1-1.5 0-1.5 0.1-1.5 0-1.5 0-1.5 0-1.5 0-1.5 0.2-1.5 0.2-1 0.2-1.3 0.3-1.2 0.4-1 0.4-1 0.4-1 0.3-1.3 0-1.2-0.2-1.5-0.2-1.5 0-1.5 0-1.5 0.1-1.5 0.2-1 0.2-1.4 0.4-1.1 0.4-1 0.4-1 0.4-1.5 0-1.5-0.1-1.5 0.1-1.5 0.2-1 0.2-1.5 0.3-1 0.4-1 0.4-1 0.5-1 0.6-1 0.6-1 0.6-0.9 0.5-1.1 0.4-1 0.3-1 0.4-1 0.4-1.1 0.5-1 0.5-0.9 0.5-1 0.6-1 0.7-1 0.7-0.6 0.5-0.9 0.8-0.8 0.7-0.7 0.6-1 0.8-0.7 0.6-0.8 0.6-1 0.9-0.6 0.5-0.9 0.9-0.6 0.6-0.9 0.9-0.5 0.6-0.7 1-0.7 1-0.4 1-0.2 1.5 0 1-0.1 1.5-0.1 1.5-0.2 1.5-0.4 1-0.4 1 0 1.5 0.2 1 0.4 1.5 0.4 1 0.1 1.5 0.2 1-0.4 1-0.4 1-0.4 1-0.4 1.3-0.3 1.2-0.2 1.2-0.1 1.3-0.1 1.5-0.1 1.5-0.2 1.5-0.1 1 0 1.5 0.2 1 0.4 1.5 0.5 0.9 0.3 1.1 0.2 1 0.5 1.2 0.5 1 0.5 0.9 0.6 0.9 0.7 1 0.7 0.8 0.7 0.7 0.8 0.8 0.9 0.7 0.7 0.5 0.9 0.5 1 0.6 1 0.4 1.4 0.5 1.1 0.5 1 0.4 1 0.4 1 0.3 1.5 0.3 1 0.1 1.5 0.1 1.2-0.1 1.3-0.2 1.5 0.2 1 0.2 1.5 0.2 1.5 0 1.5-0.2 1.4-0.2zM235.4 257l1.1-0.1 1.5-0.2 1-0.2 1.5-0.5 1-0.3 1-0.2 1.5-0.3 1-0.3 1-0.4 1.3-0.5 1.1-0.5 1-0.5 1.1-0.5 1-0.1 1.5-0.3 1-0.2 1.3-0.4 1.2-0.4 1-0.3 1-0.3 1.2-0.5 1.1-0.5 0.8-0.5 0.9-0.5 1-0.7 1-0.6 1-0.7 0.9-0.5 0.8-0.5 0.9-0.5 0.9-0.6 1-0.6 1-0.8 0.6-0.5 0.9-0.9 0.6-0.6 0.9-0.9 0.6-0.6 0.9-1 0.5-0.6 0.8-0.9 0.7-0.8 0.5-0.7 0.8-1 0.7-0.9 0.5-0.8 0.5-0.8 0.5-1 0.5-1 0.5-1 0.5-1.1 0.5-1.2 0.5-1.2 0.4-1 0.4-1 0.3-1 0.4-1 0.5-1.4 0.4-1.1 0.3-1 0.3-1.5 0.2-1 0.1-1.5 0.2-1.5 0.1-1 0.2-1.5 0.3-1 0.5-1 0.5-1 0.4-1.5 0.2-1 0.2-1.5 0.1-1 0.2-1.5 0.1-1.5 0-1.5-0.1-1.5-0.1-1.5-0.1-1.5 0-1-0.3-1.5-0.5-1-0.5-1-0.6-1-0.6-0.7-1-0.6-1-0.5-1-0.2-1.5-0.2-1.5-0.1-1.5 0-1.5 0-1.5 0.1-1.5-0.1-1.5-0.1-1.5 0-1.5 0.1-1.5 0.1-1 0.2-1.5 0.4-1 0.4-1 0.4-1 0.4-1.5 0.3-1.5-0.2-1.5-0.2-1-0.1-1.5 0-1.2 0.1-1.3 0.2-1.5 0.3-1 0.2-1 0.4-1 0.4-1.5 0.4-1.5-0.1-1.5 0.1-1.3 0.1-1.2 0.2-1.4 0.3-1.1 0.4-1 0.4-1 0.5-1 0.5-1 0.7-0.8 0.5-1 0.5-1.2 0.4-1 0.3-1 0.4-1 0.5-1 0.5-1 0.5-1 0.6-1 0.7-0.7 0.6-0.8 0.6-1 0.9-0.5 0.5-1 0.9-0.8 0.6-0.7 0.6-1 0.9-0.6 0.5-0.9 0.9-0.6 0.6-0.9 1-0.5 0.6-0.6 0.9-0.6 1-0.3 1.5-0.1 1-0.1 1.5 0 1.5-0.3 1.5-0.4 1-0.2 1 0.3 1 0.3 1.3 0.4 1.2 0.1 0.9-0.5 0.6-0.8 1-0.3 1-0.3 1.5-0.2 1-0.1 1.5-0.3 1.2-0.3 1.3 0.3 1.1 0.2 1.4-0.1 1.5-0.1 1.5-0.2 1-0.3 1.5-0.3 1-0.2 1-0.2 1.5 0 1.5 0.1 1.5 0.3 1 0.5 1 0.6 1 0.6 1 0.6 0.8 0.6 0.7 0.9 0.9 0.7 0.6 0.8 0.7 1 0.6 1 0.6 1 0.5 1 0.3 1 0.4 1 0.5 1.1 0.4 1.4 0.4 1 0.2 1.5 0.1 1.5 0 1.5-0.2 0.7 0 1.3 0.3 1.5 0.2 1 0zM235.8 255.5l1.2-0.2 1.2-0.3 1.3-0.4 1-0.3 1.4-0.3 1.1-0.3 1-0.3 1-0.4 1-0.5 1-0.5 1-0.6 1-0.5 1-0.7 1-0.7 0.6-0.5 0.9-0.8 0.8-0.7 1.2-0.5 1-0.2 1-0.3 1.1-0.5 1.1-0.5 1-0.5 0.9-0.5 1-0.5 1-0.5 1-0.5 1-0.5 0.9-0.5 1-0.6 1-0.7 0.9-0.7 0.6-0.5 1-1 0.6-0.5 0.9-1 0.5-0.5 1-1 0.5-0.5 0.9-1 0.6-0.7 0.7-0.8 0.8-1 0.5-0.7 0.6-0.8 0.5-1 0.6-1 0.5-1 0.5-1 0.4-1 0.4-1.1 0.5-1.3 0.4-1.1 0.4-1 0.4-1 0.3-1 0.5-1.5 0.3-1 0.2-1.4 0.1-1.1 0.1-1.5 0.1-1.5 0.2-1.5 0.5-1 0.5-1 0.4-1 0.3-1 0.3-1.5 0.1-1 0.2-1.5 0-1.5 0-1.5-0.1-1.5-0.1-1.5 0-1.5-0.2-1-0.4-1.1-0.6-0.9-0.7-1-0.7-0.8-1-0.5-1-0.4-1.5-0.2-1.4-0.1-1.1-0.1-1.5 0-1.5-0.1-1.5-0.2-1.5-0.1-1.5 0-1.5 0.2-1.5 0.2-1 0.3-1 0.3-1.2 0.5-1.3 0.5-1 0.3-1.5-0.3-1-0.1-1.5-0.1-1.5 0-1.5 0.1-1 0.2-1.5 0.4-1 0.3-1 0.5-1 0.3-1.5-0.1-1.5 0.1-1.5 0.1-1.4 0.3-1.1 0.3-1 0.4-1 0.4-1 0.5-1 0.6-1 0.6-1 0.5-1 0.3-1 0.4-1.1 0.5-1.1 0.5-0.9 0.5-0.9 0.5-1 0.7-1 0.7-0.7 0.6-0.8 0.8-0.8 0.7-0.7 0.6-1 0.8-0.6 0.6-0.9 0.8-0.7 0.7-0.8 0.8-0.6 0.7-0.8 1-0.6 0.8-0.4 1.2-0.2 1-0.2 1.5 0 1.5-0.2 1.5-0.2 1 0.1 1.5 0.3 1 0.3 1 0.3 1.5-0.3 1-1 0.8-0.8 0.7-0.7 0.7-0.7 0.8-0.8 1-0.3 1-0.3 1-0.2 1.5-0.2 1.5-0.3 1 0.2 1.5 0.3 1 0.3 1.1 0 1-0.5 1.3-0.3 1.1-0.3 1-0.4 1.5-0.1 1-0.1 1.5 0.1 1.5 0.2 1 0.5 1 0.5 1 0.7 1 0.7 0.9 0.5 0.6 1 0.9 0.7 0.6 0.8 0.6 1 0.6 1 0.5 1 0.4 1.2 0.4 1 0.5 1.3 0.4 1 0.3 1.5 0.1 1.5 0 1.5-0.1 1.5 0.1 1.1 0.2 1.4 0.1 1.5-0.1zM235.4 254l1.1-0.2 1-0.3 1.5-0.5 1-0.2 1.1-0.3 1.4-0.5 1-0.4 1-0.6 0.9-0.5 0.9-0.5 0.8-0.5 0.9-0.6 1-0.9 0.6-0.5 0.9-0.9 0.6-0.6 0.9-1 0.5-0.6 0.7-0.9 0.7-1 1.1-0.3 1-0.4 1-0.4 1-0.4 1.2-0.5 1.2-0.5 1.1-0.5 1-0.5 0.9-0.5 0.7-0.5 0.9-0.6 1-0.7 0.8-0.7 0.7-0.5 1-0.9 0.6-0.6 0.9-0.9 0.6-0.6 0.9-0.9 0.5-0.6 0.9-1 0.6-0.8 0.5-0.7 0.7-1 0.6-1 0.5-1 0.6-1 0.5-1 0.4-1 0.5-1 0.4-1 0.3-1 0.5-1.3 0.4-1.2 0.3-1 0.3-1.5 0.1-1 0.2-1.5 0-1.5 0.1-1.5 0.2-1 0.5-1 0.4-1 0.5-1.5 0.2-1 0.3-1.5 0.1-1 0.1-1.5 0-1.5-0.1-1.5-0.1-1.5-0.2-1-0.5-1-0.8-1-0.5-0.6-1-0.9-1-0.5-1-0.2-1.5-0.3-1-0.1-1.5-0.1-1.5-0.1-1.5-0.2-1 0-1 0-1.5 0.2-1.3 0.3-1.2 0.3-1 0.4-1 0.3-1.2 0.5-1.3 0-1-0.2-1.5-0.2-1.5 0-1.5 0.1-1.3 0.3-1.2 0.4-1 0.4-1 0.5-1.5 0-1.5 0-1.5 0.1-1 0.2-1.3 0.4-1.2 0.4-1 0.5-1 0.6-0.9 0.5-1 0.5-1.1 0.4-1 0.4-1 0.5-1 0.5-1 0.6-0.9 0.6-0.7 0.5-0.9 0.7-0.9 0.8-0.6 0.5-1 0.8-0.8 0.7-0.7 0.6-0.9 0.9-0.6 0.6-0.7 0.9-0.8 0.9-0.5 0.7-0.5 1.4-0.2 1-0.1 1.5 0 1.5-0.3 1-0.1 1.5 0.4 1 0.3 1 0.4 1.5 0 1.5-0.5 1-0.9 0.7-1 0.7-0.7 0.6-0.8 0.6-1 0.9-0.5 0.5-0.9 1-0.6 0.7-0.5 1.1-0.2 1.2-0.2 1.5-0.1 1-0.4 1.5 0.4 1.4 0.3 1.1-0.2 1.5-0.3 1-0.3 1.1-0.4 1.4-0.2 1-0.1 1.5 0.1 1.5 0.3 1 0.5 1 0.6 1 0.7 1 0.5 0.5 1 1 0.6 0.5 0.9 0.7 1 0.5 1 0.5 1 0.3 1.1 0.5 1.2 0.5 1.2 0.3 1.5 0.2 1.5-0.1 1.5-0.2 1.3 0.3 1.2 0.1 1.5 0.1 1.4-0.2zM234.6 252.5l1.4-0.4 1-0.3 1.5-0.3 1-0.3 1-0.4 1-0.4 1-0.6 1-0.6 1-0.6 0.8-0.6 0.7-0.6 1-0.9 0.5-0.6 0.8-0.9 0.7-0.9 0.5-0.7 0.6-0.9 0.6-1 0.6-1 0.5-1 0.5-1 0.7-0.9 1-0.3 1.1-0.3 1.4-0.4 1-0.4 1-0.3 1-0.4 1-0.5 1-0.5 1-0.6 1-0.7 1-0.7 0.7-0.5 0.8-0.6 1-0.8 0.7-0.6 0.8-0.7 0.8-0.8 0.7-0.8 0.6-0.7 0.7-1 0.6-1 0.5-1 0.5-1 0.6-1 0.5-0.9 0.5-1.1 0.4-1 0.4-1 0.4-1 0.3-1.1 0.3-1.4 0.3-1 0.2-1.5 0.1-1.5 0.1-1.5 0.1-1 0.4-1 0.5-1.3 0.4-1.2 0.2-1 0.3-1.5 0.2-1 0.1-1.5-0.1-1.5-0.1-1.5-0.3-1-0.5-1-0.7-0.9-0.5-0.6-1-0.8-1-0.4-1.5-0.3-1-0.2-1.5-0.1-1.5-0.1-1.5 0-1.5 0.1-1.5 0.3-1 0.2-1.1 0.3-1.4 0.5-1 0.3-1.5 0-1.5-0.2-1.5-0.1-1.5 0.1-1.5 0.4-1 0.3-1 0.5-1 0.3-1.5-0.1-1.5 0.1-1.5 0.3-1 0.3-1 0.4-1 0.4-1 0.6-1 0.5-1 0.4-1.3 0.5-1 0.5-0.9 0.5-0.8 0.5-1 0.7-1 0.8-0.5 0.5-1 0.9-0.8 0.6-0.7 0.6-1 0.9-0.6 0.5-0.9 1-0.5 0.7-0.5 0.8-0.4 1.5-0.1 1-0.1 1.5-0.3 1.5-0.3 1 0.2 1 0.5 1.5 0.2 1 0 1.5-0.3 1-0.4 1.3-0.3 1.2-0.7 0.5-1 0.5-1 0.6-1 0.7-0.8 0.7-0.7 0.5-1 0.9-0.6 0.6-0.9 0.9-0.5 0.6-0.6 1-0.3 1.5-0.1 1.5-0.2 1 0 1.5 0.3 1 0 1.5-0.3 1-0.3 1.1-0.4 1.4-0.1 1-0.1 1.5 0.1 1.1 0.5 1.3 0.5 0.8 0.5 0.8 0.9 1 0.6 0.6 1 0.8 1 0.6 1 0.4 1 0.4 1 0.4 1 0.4 1.5 0.4 1 0.1 1.4-0.1 1.1-0.1 1 0.2 1.5 0.1 1.5 0 1.1-0.2zM233.5 251l1.5-0.4 1-0.2 1.4-0.4 1.1-0.4 1-0.5 1-0.6 0.8-0.5 0.8-0.5 0.9-0.8 0.8-0.7 0.7-0.8 0.6-0.7 0.7-1 0.7-1 0.5-0.9 0.5-0.9 0.5-1 0.5-1 0.5-1.2 0.3-1 0.2-1.2 0.1-1.3 0.9-0.8 1-0.2 1.5-0.4 1-0.2 1.5-0.4 1-0.3 1-0.3 1.1-0.4 1.1-0.5 0.9-0.5 0.9-0.6 1-0.6 1-0.8 0.7-0.5 0.8-0.6 1-0.9 0.5-0.5 1-1 0.5-0.6 0.6-0.9 0.6-1 0.6-1 0.5-1 0.6-1 0.5-1 0.4-1 0.4-1 0.4-1 0.4-1.4 0.3-1.1 0.2-1.5 0.1-1 0-1.5 0.3-1.5 0.4-1 0.3-1 0.4-1.5 0.2-1 0.2-1.5 0-1.5-0.1-1.5-0.3-1.2-0.5-0.8-0.7-1-0.8-0.7-1-0.5-1.4-0.3-1.1-0.1-1.5 0-1.5 0-1.5 0-1 0.2-1.5 0.2-1 0.3-1.2 0.4-1.3 0.4-1.5-0.3-1.5-0.1-1.5 0.1-1.5 0.4-1 0.4-1 0.5-1.5-0.1-1.5 0.1-1 0.2-1.4 0.4-1.1 0.5-1 0.5-0.9 0.5-1.1 0.4-1 0.4-1 0.5-1 0.6-0.9 0.6-0.6 0.5-1 0.9-0.7 0.6-0.8 0.7-1 0.8-0.5 0.5-0.9 1-0.6 0.7-0.6 0.8-0.2 1.5-0.2 1.5-0.1 1-0.4 1.3 0.1 0.7 0.4 1.5 0.2 1-0.1 1.5-0.2 1-0.3 1.5-0.2 1-0.2 1.5-0.2 1.5-0.6 0.5-1.4 0.5-1 0.4-1 0.4-1 0.5-1 0.6-0.8 0.6-0.7 0.6-1 0.9-0.6 0.5-0.9 0.9-0.5 0.6-0.7 1-0.3 1.5-0.1 1-0.3 1.5 0.4 1.5 0.2 1-0.4 1-0.3 1.2-0.3 1.3-0.2 1.3 0 0.9 0.3 1.3 0.5 1 0.7 1 0.5 0.5 1 1 0.7 0.5 0.9 0.5 1.3 0.5 1.1 0.5 1 0.3 1 0.2 1.5 0.1 1-0.1 1 0 1.5 0.2 1.5 0 1-0.2zM232.3 249.5l1.2-0.4 1-0.2 1.3-0.4 1.1-0.5 0.9-0.5 0.8-0.5 0.9-0.6 1-0.9 0.5-0.5 0.8-1 0.7-0.9 0.5-0.8 0.5-0.9 0.5-1 0.5-1.1 0.5-1.3 0.2-1 0.2-1.5 0.1-1.2 0.4-1.3 0.3-1 0.3-1.5 0.1-1 0.4-1.1 1.5 0 1.5-0.2 1.5-0.1 1-0.2 1.5-0.3 1-0.2 1.2-0.4 1.3-0.5 1-0.4 1-0.6 0.8-0.5 0.7-0.5 1-0.7 1-0.8 0.5-0.5 1-0.9 0.5-0.6 0.8-1 0.7-1 0.5-0.9 0.5-0.9 0.5-0.9 0.5-1 0.5-1.2 0.4-1.1 0.2-1 0.3-1.5 0.1-1.5 0-1.5 0.4-1 0.3-1 0.3-1.2 0.3-1.3 0.1-1.5 0.1-1 0-1-0.4-1.5-0.6-0.9-0.5-0.6-1-0.6-1.5-0.2-1.5 0-1.5 0-1.5 0-1.5 0.2-1 0.2-1.2 0.4-1.3 0.3-1.5-0.2-1.5 0-1.5 0.3-1 0.3-1 0.5-1.5-0.1-1.5 0.2-1 0.3-1.1 0.4-0.9 0.5-1 0.5-1.3 0.5-1 0.5-0.9 0.5-0.8 0.6-1 0.8-0.6 0.6-0.9 0.8-0.8 0.7-0.7 0.7-0.7 0.8-0.6 1-0.2 1.4-0.1 1.1-0.4 1.3 0 1 0.3 1.2 0.2 1.5-0.5 1.5-0.2 1-0.1 1.5-0.1 1.5 0.3 1.5 0.5 1 0.6 1 0.5 0.7 0.7 0.8 0.8 0.8-0.5 0.4-1.5 0.1-1.5 0.1-1 0.1-1.5 0.3-1.5 0.1-1 0.2-1.2 0.4-1.2 0.5-1.1 0.5-0.9 0.5-0.7 0.5-0.9 0.7-0.9 0.8-0.6 0.5-1 1-0.5 0.6-0.5 1.4-0.1 1-0.2 1.5 0.3 1.2 0 1.1-0.4 1.2-0.3 1-0.2 1.5 0.2 1.5 0.5 1 0.7 0.9 0.6 0.6 0.9 0.8 1 0.6 1 0.3 1 0.4 1.2 0.4 1.3 0.1 1.3-0.1 0.7 0.1 1.5 0.1 1.5-0.1zM252 223l1-0.2 1.5-0.3 1-0.3 1-0.3 1-0.5 1-0.5 1-0.6 1-0.7 0.7-0.6 0.8-0.7 0.7-0.8 0.7-1 0.6-0.9 0.5-0.9 0.5-0.9 0.5-1.1 0.4-1.2 0.3-1 0.2-1.5 0-1.5 0.3-1 0.3-1.1 0.3-1.4 0.2-1.5 0-1 0-1-0.5-1.1-0.8-0.9-1.2-0.4-1.5-0.1-1.5 0-0.6 0-1.4 0.1-1.5 0.4-1 0.4-1.5-0.2-1.5 0.1-1.1 0.2-1.4 0.5-0.5 0-1 0-1.5 0.4-1 0.4-1 0.5-1 0.4-1 0.5-1 0.6-0.9 0.7-0.6 0.5-1 0.9-0.6 0.6-0.9 1-0.5 1-0.1 1-0.3 1.5-0.1 0.5 0.4 1.5-0.1 1.5-0.3 1-0.3 1.5-0.1 1.5 0.4 1.2 0.5 0.9 0.7 0.9 0.8 0.8 1 0.7 0.9 0.5 1.1 0.5 1 0.3 1.5 0.2 1 0.1 1.5 0 1.5 0 1.5-0.1zM230.9 248l1.1-0.3 1-0.3 1.1-0.4 0.9-0.5 1-0.7 1-0.8 0.5-0.5 0.9-1 0.6-0.9 0.5-0.8 0.5-1 0.5-1.2 0.3-1.1 0.2-1.3 0.2-1.2 0.3-1.2 0.3-1.3 0.1-1.5-0.3-1.5-0.6-0.8-1-0.2-1.5-0.1-1.5 0.1-1 0.1-1.5 0.4-1 0-1.5 0.1-1.5 0.2-1.1 0.2-1.4 0.3-1 0.4-1 0.4-1 0.6-1 0.7-0.7 0.6-0.8 0.6-0.8 0.9-0.6 1-0.2 1-0.1 1.5 0.3 1-0.2 1-0.4 1.3-0.2 1.2 0.2 1.2 0.5 0.9 0.7 0.9 0.8 0.7 1 0.5 1 0.4 1.3 0.4 1.2 0.1 1.5 0 1.5 0.1zM254.6 217.5l1.4-0.5 1-0.5 0.8-0.5 0.7-0.5 1-0.9 0.5-0.6 0.7-1 0.6-1 0.6-1 0.4-1 0.2-1 0.2-1.5 0.3-1.5 0.3-1 0.2-1.5-0.1-1.5-0.7-1-1.2-0.5-1-0.1-1.5 0-1 0.1-1.5 0.5-1.5-0.1-1 0.1-1.5 0.4-1.3 0.1-1.2 0.4-1 0.5-1 0.4-1 0.6-0.7 0.6-0.8 0.7-0.9 0.8-0.6 0.9-0.2 1.1-0.2 1.5 0.3 1.5-0.4 1.5-0.1 1 0.1 1 0.5 1 0.8 1 0.7 0.5 1 0.6 1 0.4 1.5 0.3 1.5 0.2 1.5 0 1.5-0.2 1.1-0.3zM229.2 246.5l1.3-0.3 1-0.4 1-0.6 1-0.7 0.5-0.5 0.8-1 0.6-1 0.5-1 0.4-1 0.2-1.5 0.2-1 0.3-1 0.1-1.5-0.5-1-1.1-0.4-1-0.1-1 0.1-1.5 0.3-1.5 0.1-1 0.1-1.5 0.3-1 0.3-1 0.5-1 0.5-1 0.8-0.6 0.5-0.7 1-0.2 1 0 1.3 0 0.8-0.4 1.4 0.2 1.5 0.7 1 0.5 0.5 1 0.5 1.5 0.5 0.9 0 0.7 0 1.4 0zM254.6 212l1.1-0.5 0.8-0.5 0.9-1 0.6-0.9 0.5-1.1 0.2-1 0.3-1.4 0.2-1.1-0.2-1-1-0.5-1.5-0.1-1 0.3-1.5 0-1.4 0.3-1.1 0.5-1 0.4-0.7 0.6-0.8 0.8-0.4 1.2 0 1.5-0.2 1 0.1 1 0.9 1 0.9 0.5 1.2 0.3 1.5 0 1.5-0.3zM228.9 244.5l0.9-0.5 0.7-0.7 0.5-0.8 0.5-1.3 0.2-1.2 0.1-1.5-0.8-0.5-1.1 0-1.4 0.2-1.5 0.3-1 0.3-1 0.7-0.6 0.5-0.3 1.5-0.1 1 0 1 1 1 1 0.4 1.5 0 1.4-0.4z" fill="none" stroke="#0b7dff" stroke-width="0.9"/>
<path d="M275.2 181.5C314.3 121.4 388.3 132.0 425.5 188.5" fill="none" stroke="#0b7dff" stroke-width="5.8"/>
<path d="M423.5 160.7L426.8 190.0L399 179.1" fill="none" stroke="#0b7dff" stroke-width="5.8" stroke-linejoin="miter" stroke-miterlimit="10"/>
<path d="M275.2 279.7C328.1 341.3 379.2 332.8 425.5 274.0" fill="none" stroke="#ff2d2d" stroke-width="5.8"/>
<path d="M423.5 303L427.3 273.0L399 284.5" fill="none" stroke="#ff2d2d" stroke-width="5.8" stroke-linejoin="miter" stroke-miterlimit="10"/>
<text transform="translate(187.37,449.30) scale(0.9510,1)" font-size="27.5" font-weight="bold" fill="#000">FSC (a.u.)</text>
<text transform="translate(33.10,373.84) rotate(-90) scale(0.9497,1)" font-size="27.5" font-weight="bold" fill="#000">eYFP flourescence (a.u.)</text>
<rect x="234.1" y="90" width="12" height="12" fill="#0b7dff"/>
<rect x="234.1" y="115.5" width="12" height="12" fill="#ff2d2d"/>
<text transform="translate(254.08,103.90) scale(0.9661,1)" font-size="23.5" fill="#1a1a1a">150 µM IPTG</text>
<text transform="translate(278.69,130.00) scale(0.9714,1)" font-size="23.5" fill="#1a1a1a">0 µM IPTG</text>
<rect x="89.5" y="547" width="309.4" height="309" fill="#fcfcfc" stroke="#000" stroke-width="1.8"/>
<line x1="85.90" y1="854.97" x2="89.50" y2="854.97" stroke="#000" stroke-width="1.3"/>
<line x1="81.50" y1="852.40" x2="89.50" y2="852.40" stroke="#000" stroke-width="4"/>
<line x1="85.90" y1="835.48" x2="89.50" y2="835.48" stroke="#000" stroke-width="1.3"/>
<line x1="85.90" y1="825.59" x2="89.50" y2="825.59" stroke="#000" stroke-width="1.3"/>
<line x1="85.90" y1="818.56" x2="89.50" y2="818.56" stroke="#000" stroke-width="1.3"/>
<line x1="83.50" y1="813.12" x2="89.50" y2="813.12" stroke="#000" stroke-width="2.0"/>
<line x1="85.90" y1="808.67" x2="89.50" y2="808.67" stroke="#000" stroke-width="1.3"/>
<line x1="85.90" y1="804.91" x2="89.50" y2="804.91" stroke="#000" stroke-width="1.3"/>
<line x1="85.90" y1="801.65" x2="89.50" y2="801.65" stroke="#000" stroke-width="1.3"/>
<line x1="85.90" y1="798.77" x2="89.50" y2="798.77" stroke="#000" stroke-width="1.3"/>
<line x1="81.50" y1="796.20" x2="89.50" y2="796.20" stroke="#000" stroke-width="4"/>
<line x1="85.90" y1="779.28" x2="89.50" y2="779.28" stroke="#000" stroke-width="1.3"/>
<line x1="85.90" y1="769.39" x2="89.50" y2="769.39" stroke="#000" stroke-width="1.3"/>
<line x1="85.90" y1="762.36" x2="89.50" y2="762.36" stroke="#000" stroke-width="1.3"/>
<line x1="83.50" y1="756.92" x2="89.50" y2="756.92" stroke="#000" stroke-width="2.0"/>
<line x1="85.90" y1="752.47" x2="89.50" y2="752.47" stroke="#000" stroke-width="1.3"/>
<line x1="85.90" y1="748.71" x2="89.50" y2="748.71" stroke="#000" stroke-width="1.3"/>
<line x1="85.90" y1="745.45" x2="89.50" y2="745.45" stroke="#000" stroke-width="1.3"/>
<line x1="85.90" y1="742.57" x2="89.50" y2="742.57" stroke="#000" stroke-width="1.3"/>
<line x1="81.50" y1="740.00" x2="89.50" y2="740.00" stroke="#000" stroke-width="4"/>
<line x1="85.90" y1="723.08" x2="89.50" y2="723.08" stroke="#000" stroke-width="1.3"/>
<line x1="85.90" y1="713.19" x2="89.50" y2="713.19" stroke="#000" stroke-width="1.3"/>
<line x1="85.90" y1="706.16" x2="89.50" y2="706.16" stroke="#000" stroke-width="1.3"/>
<line x1="83.50" y1="700.72" x2="89.50" y2="700.72" stroke="#000" stroke-width="2.0"/>
<line x1="85.90" y1="696.27" x2="89.50" y2="696.27" stroke="#000" stroke-width="1.3"/>
<line x1="85.90" y1="692.51" x2="89.50" y2="692.51" stroke="#000" stroke-width="1.3"/>
<line x1="85.90" y1="689.25" x2="89.50" y2="689.25" stroke="#000" stroke-width="1.3"/>
<line x1="85.90" y1="686.37" x2="89.50" y2="686.37" stroke="#000" stroke-width="1.3"/>
<line x1="81.50" y1="683.80" x2="89.50" y2="683.80" stroke="#000" stroke-width="4"/>
<line x1="85.90" y1="666.88" x2="89.50" y2="666.88" stroke="#000" stroke-width="1.3"/>
<line x1="85.90" y1="656.99" x2="89.50" y2="656.99" stroke="#000" stroke-width="1.3"/>
<line x1="85.90" y1="649.96" x2="89.50" y2="649.96" stroke="#000" stroke-width="1.3"/>
<line x1="83.50" y1="644.52" x2="89.50" y2="644.52" stroke="#000" stroke-width="2.0"/>
<line x1="85.90" y1="640.07" x2="89.50" y2="640.07" stroke="#000" stroke-width="1.3"/>
<line x1="85.90" y1="636.31" x2="89.50" y2="636.31" stroke="#000" stroke-width="1.3"/>
<line x1="85.90" y1="633.05" x2="89.50" y2="633.05" stroke="#000" stroke-width="1.3"/>
<line x1="85.90" y1="630.17" x2="89.50" y2="630.17" stroke="#000" stroke-width="1.3"/>
<line x1="81.50" y1="627.60" x2="89.50" y2="627.60" stroke="#000" stroke-width="4"/>
<line x1="85.90" y1="610.68" x2="89.50" y2="610.68" stroke="#000" stroke-width="1.3"/>
<line x1="85.90" y1="600.79" x2="89.50" y2="600.79" stroke="#000" stroke-width="1.3"/>
<line x1="85.90" y1="593.76" x2="89.50" y2="593.76" stroke="#000" stroke-width="1.3"/>
<line x1="83.50" y1="588.32" x2="89.50" y2="588.32" stroke="#000" stroke-width="2.0"/>
<line x1="85.90" y1="583.87" x2="89.50" y2="583.87" stroke="#000" stroke-width="1.3"/>
<line x1="85.90" y1="580.11" x2="89.50" y2="580.11" stroke="#000" stroke-width="1.3"/>
<line x1="85.90" y1="576.85" x2="89.50" y2="576.85" stroke="#000" stroke-width="1.3"/>
<line x1="85.90" y1="573.97" x2="89.50" y2="573.97" stroke="#000" stroke-width="1.3"/>
<line x1="81.50" y1="571.40" x2="89.50" y2="571.40" stroke="#000" stroke-width="4"/>
<line x1="85.90" y1="554.48" x2="89.50" y2="554.48" stroke="#000" stroke-width="1.3"/>
<line x1="99.12" y1="856.00" x2="99.12" y2="859.60" stroke="#000" stroke-width="1.3"/>
<line x1="106.69" y1="856.00" x2="106.69" y2="861.80" stroke="#000" stroke-width="2.0"/>
<line x1="112.87" y1="856.00" x2="112.87" y2="859.60" stroke="#000" stroke-width="1.3"/>
<line x1="118.10" y1="856.00" x2="118.10" y2="859.60" stroke="#000" stroke-width="1.3"/>
<line x1="122.63" y1="856.00" x2="122.63" y2="859.60" stroke="#000" stroke-width="1.3"/>
<line x1="126.63" y1="856.00" x2="126.63" y2="859.60" stroke="#000" stroke-width="1.3"/>
<line x1="130.20" y1="856.00" x2="130.20" y2="864.30" stroke="#000" stroke-width="4"/>
<line x1="153.71" y1="856.00" x2="153.71" y2="859.60" stroke="#000" stroke-width="1.3"/>
<line x1="167.46" y1="856.00" x2="167.46" y2="859.60" stroke="#000" stroke-width="1.3"/>
<line x1="177.22" y1="856.00" x2="177.22" y2="859.60" stroke="#000" stroke-width="1.3"/>
<line x1="184.79" y1="856.00" x2="184.79" y2="861.80" stroke="#000" stroke-width="2.0"/>
<line x1="190.97" y1="856.00" x2="190.97" y2="859.60" stroke="#000" stroke-width="1.3"/>
<line x1="196.20" y1="856.00" x2="196.20" y2="859.60" stroke="#000" stroke-width="1.3"/>
<line x1="200.73" y1="856.00" x2="200.73" y2="859.60" stroke="#000" stroke-width="1.3"/>
<line x1="204.73" y1="856.00" x2="204.73" y2="859.60" stroke="#000" stroke-width="1.3"/>
<line x1="208.30" y1="856.00" x2="208.30" y2="864.30" stroke="#000" stroke-width="4"/>
<line x1="231.81" y1="856.00" x2="231.81" y2="859.60" stroke="#000" stroke-width="1.3"/>
<line x1="245.56" y1="856.00" x2="245.56" y2="859.60" stroke="#000" stroke-width="1.3"/>
<line x1="255.32" y1="856.00" x2="255.32" y2="859.60" stroke="#000" stroke-width="1.3"/>
<line x1="262.89" y1="856.00" x2="262.89" y2="861.80" stroke="#000" stroke-width="2.0"/>
<line x1="269.07" y1="856.00" x2="269.07" y2="859.60" stroke="#000" stroke-width="1.3"/>
<line x1="274.30" y1="856.00" x2="274.30" y2="859.60" stroke="#000" stroke-width="1.3"/>
<line x1="278.83" y1="856.00" x2="278.83" y2="859.60" stroke="#000" stroke-width="1.3"/>
<line x1="282.83" y1="856.00" x2="282.83" y2="859.60" stroke="#000" stroke-width="1.3"/>
<line x1="286.40" y1="856.00" x2="286.40" y2="864.30" stroke="#000" stroke-width="4"/>
<line x1="309.91" y1="856.00" x2="309.91" y2="859.60" stroke="#000" stroke-width="1.3"/>
<line x1="323.66" y1="856.00" x2="323.66" y2="859.60" stroke="#000" stroke-width="1.3"/>
<line x1="333.42" y1="856.00" x2="333.42" y2="859.60" stroke="#000" stroke-width="1.3"/>
<line x1="340.99" y1="856.00" x2="340.99" y2="861.80" stroke="#000" stroke-width="2.0"/>
<line x1="347.17" y1="856.00" x2="347.17" y2="859.60" stroke="#000" stroke-width="1.3"/>
<line x1="352.40" y1="856.00" x2="352.40" y2="859.60" stroke="#000" stroke-width="1.3"/>
<line x1="356.93" y1="856.00" x2="356.93" y2="859.60" stroke="#000" stroke-width="1.3"/>
<line x1="360.93" y1="856.00" x2="360.93" y2="859.60" stroke="#000" stroke-width="1.3"/>
<line x1="364.50" y1="856.00" x2="364.50" y2="864.30" stroke="#000" stroke-width="4"/>
<line x1="388.01" y1="856.00" x2="388.01" y2="859.60" stroke="#000" stroke-width="1.3"/>
<text transform="translate(49.99,863.80) scale(0.9700,1)" font-size="16" fill="#000">10</text>
<text transform="translate(67.28,853.30) scale(0.9700,1)" font-size="16" fill="#000">0</text>
<text transform="translate(49.99,807.60) scale(0.9700,1)" font-size="16" fill="#000">10</text>
<text transform="translate(66.66,797.10) scale(0.9700,1)" font-size="16" fill="#000">1</text>
<text transform="translate(49.99,751.40) scale(0.9700,1)" font-size="16" fill="#000">10</text>
<text transform="translate(67.12,740.90) scale(0.9700,1)" font-size="16" fill="#000">2</text>
<text transform="translate(49.99,695.20) scale(0.9700,1)" font-size="16" fill="#000">10</text>
<text transform="translate(67.28,684.70) scale(0.9700,1)" font-size="16" fill="#000">3</text>
<text transform="translate(49.99,639.00) scale(0.9700,1)" font-size="16" fill="#000">10</text>
<text transform="translate(67.59,628.50) scale(0.9700,1)" font-size="16" fill="#000">4</text>
<text transform="translate(49.99,582.80) scale(0.9700,1)" font-size="16" fill="#000">10</text>
<text transform="translate(67.28,572.30) scale(0.9700,1)" font-size="16" fill="#000">5</text>
<text transform="translate(127.06,888.70) scale(0.9700,1)" font-size="16" fill="#000">10</text>
<text transform="translate(143.62,878.10) scale(0.9700,1)" font-size="16" fill="#000">2</text>
<text transform="translate(205.16,888.70) scale(0.9700,1)" font-size="16" fill="#000">10</text>
<text transform="translate(221.88,878.10) scale(0.9700,1)" font-size="16" fill="#000">3</text>
<text transform="translate(283.26,888.70) scale(0.9700,1)" font-size="16" fill="#000">10</text>
<text transform="translate(300.29,878.10) scale(0.9700,1)" font-size="16" fill="#000">4</text>
<text transform="translate(361.36,888.70) scale(0.9700,1)" font-size="16" fill="#000">10</text>
<text transform="translate(378.08,878.10) scale(0.9700,1)" font-size="16" fill="#000">5</text>
<clipPath id="cD"><rect x="155.5" y="548" width="242" height="307"/></clipPath>
<pattern id="pB2" width="28" height="28" patternUnits="userSpaceOnUse"><path d="M1 0h1v1h-1zM8 0h1v1h-1zM9 0h1v1h-1zM10 0h1v1h-1zM11 0h1v1h-1zM12 0h1v1h-1zM16 0h1v1h-1zM18 0h1v1h-1zM20 0h1v1h-1zM1 1h1v1h-1zM2 1h1v1h-1zM4 1h1v1h-1zM6 1h1v1h-1zM7 1h1v1h-1zM8 1h1v1h-1zM10 1h1v1h-1zM11 1h1v1h-1zM12 1h1v1h-1zM15 1h1v1h-1zM18 1h1v1h-1zM19 1h1v1h-1zM22 1h1v1h-1zM23 1h1v1h-1zM27 1h1v1h-1zM1 2h1v1h-1zM2 2h1v1h-1zM3 2h1v1h-1zM5 2h1v1h-1zM9 2h1v1h-1zM11 2h1v1h-1zM12 2h1v1h-1zM13 2h1v1h-1zM14 2h1v1h-1zM22 2h1v1h-1zM25 2h1v1h-1zM27 2h1v1h-1zM1 3h1v1h-1zM4 3h1v1h-1zM7 3h1v1h-1zM10 3h1v1h-1zM11 3h1v1h-1zM14 3h1v1h-1zM15 3h1v1h-1zM17 3h1v1h-1zM18 3h1v1h-1zM19 3h1v1h-1zM20 3h1v1h-1zM23 3h1v1h-1zM24 3h1v1h-1zM25 3h1v1h-1zM26 3h1v1h-1zM4 4h1v1h-1zM6 4h1v1h-1zM8 4h1v1h-1zM9 4h1v1h-1zM13 4h1v1h-1zM16 4h1v1h-1zM18 4h1v1h-1zM19 4h1v1h-1zM20 4h1v1h-1zM22 4h1v1h-1zM23 4h1v1h-1zM24 4h1v1h-1zM26 4h1v1h-1zM27 4h1v1h-1zM0 5h1v1h-1zM2 5h1v1h-1zM3 5h1v1h-1zM4 5h1v1h-1zM6 5h1v1h-1zM7 5h1v1h-1zM8 5h1v1h-1zM9 5h1v1h-1zM11 5h1v1h-1zM12 5h1v1h-1zM14 5h1v1h-1zM16 5h1v1h-1zM18 5h1v1h-1zM19 5h1v1h-1zM21 5h1v1h-1zM24 5h1v1h-1zM25 5h1v1h-1zM0 6h1v1h-1zM2 6h1v1h-1zM3 6h1v1h-1zM4 6h1v1h-1zM6 6h1v1h-1zM7 6h1v1h-1zM10 6h1v1h-1zM11 6h1v1h-1zM12 6h1v1h-1zM15 6h1v1h-1zM17 6h1v1h-1zM18 6h1v1h-1zM22 6h1v1h-1zM26 6h1v1h-1zM0 7h1v1h-1zM1 7h1v1h-1zM2 7h1v1h-1zM5 7h1v1h-1zM7 7h1v1h-1zM9 7h1v1h-1zM10 7h1v1h-1zM15 7h1v1h-1zM16 7h1v1h-1zM18 7h1v1h-1zM20 7h1v1h-1zM21 7h1v1h-1zM22 7h1v1h-1zM23 7h1v1h-1zM24 7h1v1h-1zM25 7h1v1h-1zM26 7h1v1h-1zM1 8h1v1h-1zM2 8h1v1h-1zM4 8h1v1h-1zM7 8h1v1h-1zM9 8h1v1h-1zM12 8h1v1h-1zM14 8h1v1h-1zM15 8h1v1h-1zM17 8h1v1h-1zM19 8h1v1h-1zM21 8h1v1h-1zM23 8h1v1h-1zM25 8h1v1h-1zM26 8h1v1h-1zM27 8h1v1h-1zM2 9h1v1h-1zM3 9h1v1h-1zM5 9h1v1h-1zM6 9h1v1h-1zM8 9h1v1h-1zM9 9h1v1h-1zM11 9h1v1h-1zM12 9h1v1h-1zM15 9h1v1h-1zM16 9h1v1h-1zM17 9h1v1h-1zM18 9h1v1h-1zM19 9h1v1h-1zM20 9h1v1h-1zM21 9h1v1h-1zM22 9h1v1h-1zM24 9h1v1h-1zM27 9h1v1h-1zM0 10h1v1h-1zM1 10h1v1h-1zM2 10h1v1h-1zM3 10h1v1h-1zM4 10h1v1h-1zM7 10h1v1h-1zM8 10h1v1h-1zM9 10h1v1h-1zM10 10h1v1h-1zM13 10h1v1h-1zM15 10h1v1h-1zM16 10h1v1h-1zM19 10h1v1h-1zM21 10h1v1h-1zM25 10h1v1h-1zM26 10h1v1h-1zM27 10h1v1h-1zM2 11h1v1h-1zM3 11h1v1h-1zM4 11h1v1h-1zM5 11h1v1h-1zM7 11h1v1h-1zM8 11h1v1h-1zM10 11h1v1h-1zM11 11h1v1h-1zM13 11h1v1h-1zM14 11h1v1h-1zM18 11h1v1h-1zM19 11h1v1h-1zM21 11h1v1h-1zM22 11h1v1h-1zM24 11h1v1h-1zM1 12h1v1h-1zM2 12h1v1h-1zM3 12h1v1h-1zM4 12h1v1h-1zM5 12h1v1h-1zM6 12h1v1h-1zM7 12h1v1h-1zM8 12h1v1h-1zM10 12h1v1h-1zM11 12h1v1h-1zM12 12h1v1h-1zM14 12h1v1h-1zM15 12h1v1h-1zM19 12h1v1h-1zM20 12h1v1h-1zM23 12h1v1h-1zM25 12h1v1h-1zM0 13h1v1h-1zM3 13h1v1h-1zM4 13h1v1h-1zM8 13h1v1h-1zM9 13h1v1h-1zM10 13h1v1h-1zM12 13h1v1h-1zM14 13h1v1h-1zM15 13h1v1h-1zM16 13h1v1h-1zM18 13h1v1h-1zM19 13h1v1h-1zM20 13h1v1h-1zM21 13h1v1h-1zM22 13h1v1h-1zM24 13h1v1h-1zM27 13h1v1h-1zM0 14h1v1h-1zM2 14h1v1h-1zM3 14h1v1h-1zM4 14h1v1h-1zM8 14h1v1h-1zM9 14h1v1h-1zM10 14h1v1h-1zM11 14h1v1h-1zM13 14h1v1h-1zM14 14h1v1h-1zM16 14h1v1h-1zM18 14h1v1h-1zM22 14h1v1h-1zM24 14h1v1h-1zM25 14h1v1h-1zM26 14h1v1h-1zM27 14h1v1h-1zM0 15h1v1h-1zM1 15h1v1h-1zM2 15h1v1h-1zM5 15h1v1h-1zM7 15h1v1h-1zM8 15h1v1h-1zM9 15h1v1h-1zM10 15h1v1h-1zM11 15h1v1h-1zM14 15h1v1h-1zM15 15h1v1h-1zM19 15h1v1h-1zM21 15h1v1h-1zM22 15h1v1h-1zM24 15h1v1h-1zM25 15h1v1h-1zM27 15h1v1h-1zM1 16h1v1h-1zM2 16h1v1h-1zM5 16h1v1h-1zM7 16h1v1h-1zM8 16h1v1h-1zM9 16h1v1h-1zM10 16h1v1h-1zM11 16h1v1h-1zM13 16h1v1h-1zM15 16h1v1h-1zM16 16h1v1h-1zM18 16h1v1h-1zM22 16h1v1h-1zM24 16h1v1h-1zM25 16h1v1h-1zM26 16h1v1h-1zM0 17h1v1h-1zM3 17h1v1h-1zM5 17h1v1h-1zM7 17h1v1h-1zM10 17h1v1h-1zM12 17h1v1h-1zM13 17h1v1h-1zM15 17h1v1h-1zM18 17h1v1h-1zM20 17h1v1h-1zM21 17h1v1h-1zM23 17h1v1h-1zM24 17h1v1h-1zM25 17h1v1h-1zM26 17h1v1h-1zM27 17h1v1h-1zM0 18h1v1h-1zM1 18h1v1h-1zM3 18h1v1h-1zM5 18h1v1h-1zM7 18h1v1h-1zM8 18h1v1h-1zM14 18h1v1h-1zM16 18h1v1h-1zM17 18h1v1h-1zM18 18h1v1h-1zM19 18h1v1h-1zM20 18h1v1h-1zM21 18h1v1h-1zM24 18h1v1h-1zM25 18h1v1h-1zM26 18h1v1h-1zM27 18h1v1h-1zM2 19h1v1h-1zM4 19h1v1h-1zM5 19h1v1h-1zM6 19h1v1h-1zM9 19h1v1h-1zM10 19h1v1h-1zM14 19h1v1h-1zM18 19h1v1h-1zM19 19h1v1h-1zM22 19h1v1h-1zM24 19h1v1h-1zM25 19h1v1h-1zM27 19h1v1h-1zM1 20h1v1h-1zM2 20h1v1h-1zM4 20h1v1h-1zM9 20h1v1h-1zM11 20h1v1h-1zM12 20h1v1h-1zM13 20h1v1h-1zM14 20h1v1h-1zM15 20h1v1h-1zM21 20h1v1h-1zM22 20h1v1h-1zM26 20h1v1h-1zM27 20h1v1h-1zM2 21h1v1h-1zM3 21h1v1h-1zM4 21h1v1h-1zM5 21h1v1h-1zM8 21h1v1h-1zM11 21h1v1h-1zM13 21h1v1h-1zM16 21h1v1h-1zM17 21h1v1h-1zM19 21h1v1h-1zM23 21h1v1h-1zM25 21h1v1h-1zM26 21h1v1h-1zM0 22h1v1h-1zM3 22h1v1h-1zM4 22h1v1h-1zM6 22h1v1h-1zM8 22h1v1h-1zM9 22h1v1h-1zM10 22h1v1h-1zM11 22h1v1h-1zM12 22h1v1h-1zM13 22h1v1h-1zM14 22h1v1h-1zM15 22h1v1h-1zM16 22h1v1h-1zM18 22h1v1h-1zM20 22h1v1h-1zM21 22h1v1h-1zM22 22h1v1h-1zM23 22h1v1h-1zM24 22h1v1h-1zM25 22h1v1h-1zM26 22h1v1h-1zM27 22h1v1h-1zM0 23h1v1h-1zM1 23h1v1h-1zM2 23h1v1h-1zM4 23h1v1h-1zM5 23h1v1h-1zM6 23h1v1h-1zM7 23h1v1h-1zM9 23h1v1h-1zM11 23h1v1h-1zM12 23h1v1h-1zM15 23h1v1h-1zM17 23h1v1h-1zM18 23h1v1h-1zM19 23h1v1h-1zM20 23h1v1h-1zM21 23h1v1h-1zM22 23h1v1h-1zM24 23h1v1h-1zM26 23h1v1h-1zM27 23h1v1h-1zM0 24h1v1h-1zM2 24h1v1h-1zM3 24h1v1h-1zM4 24h1v1h-1zM5 24h1v1h-1zM7 24h1v1h-1zM10 24h1v1h-1zM11 24h1v1h-1zM13 24h1v1h-1zM14 24h1v1h-1zM15 24h1v1h-1zM16 24h1v1h-1zM17 24h1v1h-1zM18 24h1v1h-1zM19 24h1v1h-1zM20 24h1v1h-1zM23 24h1v1h-1zM24 24h1v1h-1zM25 24h1v1h-1zM27 24h1v1h-1zM0 25h1v1h-1zM3 25h1v1h-1zM8 25h1v1h-1zM9 25h1v1h-1zM15 25h1v1h-1zM19 25h1v1h-1zM20 25h1v1h-1zM21 25h1v1h-1zM23 25h1v1h-1zM24 25h1v1h-1zM26 25h1v1h-1zM27 25h1v1h-1zM0 26h1v1h-1zM6 26h1v1h-1zM7 26h1v1h-1zM9 26h1v1h-1zM10 26h1v1h-1zM11 26h1v1h-1zM12 26h1v1h-1zM13 26h1v1h-1zM14 26h1v1h-1zM15 26h1v1h-1zM17 26h1v1h-1zM18 26h1v1h-1zM20 26h1v1h-1zM21 26h1v1h-1zM24 26h1v1h-1zM27 26h1v1h-1zM1 27h1v1h-1zM2 27h1v1h-1zM4 27h1v1h-1zM6 27h1v1h-1zM8 27h1v1h-1zM9 27h1v1h-1zM10 27h1v1h-1zM12 27h1v1h-1zM13 27h1v1h-1zM14 27h1v1h-1zM15 27h1v1h-1zM18 27h1v1h-1zM19 27h1v1h-1zM23 27h1v1h-1zM24 27h1v1h-1zM27 27h1v1h-1z" fill="#0b7dff"/></pattern>
<path d="M156 655h0m0 2h0m0 18h0m0 4h0m0 4h0m0 4h0m0 4h0m0 1h0m0 8h0m0 2h0m0 4h0m0 1h0m0 1h0m0 3h0m0 1h0m0 1h0m0 2h0m0 4h0m0 3h0m0 1h0m0 5h0m0 4h0m0 8h0m0 1h0m0 2h0m0 13h0m0 12h0m0 6h0m0 1h0m0 21h0m1-134h0m0 5h0m0 10h0m0 1h0m0 5h0m0 3h0m0 3h0m0 2h0m0 2h0m0 5h0m0 2h0m0 3h0m0 1h0m0 3h0m0 3h0m0 2h0m0 1h0m0 2h0m0 2h0m0 5h0m0 2h0m0 2h0m0 12h0m0 4h0m0 14h0m0 2h0m0 9h0m1-107h0m0 5h0m0 15h0m0 7h0m0 2h0m0 5h0m0 1h0m0 3h0m0 2h0m0 7h0m0 3h0m0 1h0m0 13h0m0 2h0m0 5h0m0 15h0m0 37h0m1-133h0m0 10h0m0 6h0m0 14h0m0 2h0m0 7h0m0 2h0m0 2h0m0 1h0m0 4h0m0 10h0m0 1h0m0 8h0m0 10h0m0 1h0m0 17h0m0 7h0m0 9h0m0 10h0m1-100h0m0 2h0m0 9h0m0 4h0m0 1h0m0 5h0m0 1h0m0 10h0m0 4h0m0 1h0m0 1h0m0 1h0m0 2h0m0 5h0m0 1h0m0 2h0m0 1h0m0 2h0m0 2h0m0 6h0m0 11h0m0 9h0m1-66h0m0 6h0m0 2h0m0 1h0m0 5h0m0 1h0m0 2h0m0 10h0m0 1h0m0 5h0m0 3h0m0 2h0m0 11h0m0 4h0m0 4h0m0 2h0m1-90h0m0 21h0m0 7h0m0 2h0m0 9h0m0 9h0m0 2h0m0 8h0m0 8h0m0 1h0m0 2h0m0 4h0m0 5h0m0 3h0m0 2h0m0 4h0m0 1h0m0 3h0m0 10h0m0 17h0m0 1h0m0 6h0m0 20h0m1-135h0m0 19h0m0 6h0m0 1h0m0 1h0m0 1h0m0 12h0m0 17h0m0 2h0m0 6h0m0 8h0m0 7h0m0 1h0m0 12h0m0 22h0m0 7h0m1-120h0m0 2h0m0 3h0m0 2h0m0 5h0m0 1h0m0 2h0m0 2h0m0 1h0m0 37h0m0 2h0m0 1h0m0 3h0m0 3h0m0 3h0m0 6h0m0 13h0m0 2h0m0 2h0m0 4h0m0 16h0m0 3h0m1-116h0m0 3h0m0 3h0m0 3h0m0 3h0m0 4h0m0 14h0m0 27h0m0 3h0m0 4h0m0 1h0m0 9h0m0 1h0m0 5h0m0 1h0m0 5h0m0 3h0m0 1h0m0 1h0m0 8h0m0 4h0m0 24h0m1-134h0m0 4h0m0 6h0m0 61h0m0 7h0m0 3h0m0 8h0m0 6h0m0 10h0m0 2h0m0 1h0m1-122h0m0 2h0m0 16h0m0 10h0m0 1h0m0 1h0m0 53h0m0 5h0m0 8h0m0 2h0m0 3h0m0 7h0m0 1h0m0 1h0m0 1h0m0 28h0m0 2h0m1-132h0m0 20h0m0 3h0m0 51h0m0 1h0m0 2h0m0 5h0m0 5h0m0 8h0m0 5h0m0 17h0m0 1h0m0 17h0m1-123h0m0 7h0m0 3h0m0 2h0m0 50h0m0 2h0m0 12h0m0 7h0m0 1h0m0 4h0m0 9h0m0 6h0m0 1h0m0 4h0m1-120h0m0 14h0m0 4h0m0 2h0m0 58h0m0 13h0m0 6h0m0 4h0m0 1h0m0 6h0m0 8h0m0 14h0m0 1h0m0 2h0m1-127h0m0 3h0m0 5h0m0 8h0m0 67h0m0 7h0m0 4h0m0 9h0m0 2h0m0 3h0m0 9h0m1-115h0m0 7h0m0 1h0m0 2h0m0 80h0m0 1h0m0 1h0m0 4h0m0 6h0m0 3h0m0 1h0m0 3h0m0 2h0m0 17h0m1-131h0m0 8h0m0 5h0m0 80h0m0 4h0m0 6h0m0 8h0m0 3h0m0 5h0m0 8h0m0 2h0m0 3h0m0 11h0m1-136h0m0 3h0m0 85h0m0 1h0m0 17h0m0 1h0m0 9h0m0 14h0m0 33h0m1-177h0m0 17h0m0 1h0m0 1h0m0 1h0m0 1h0m0 1h0m0 82h0m0 2h0m0 4h0m0 9h0m0 4h0m1-114h0m0 7h0m0 4h0m0 1h0m0 81h0m0 2h0m0 1h0m0 1h0m0 1h0m0 4h0m0 2h0m0 11h0m0 9h0m0 4h0m1-127h0m0 3h0m0 90h0m0 5h0m0 1h0m0 2h0m0 1h0m0 2h0m0 9h0m0 11h0m0 23h0m0 46h0m1-207h0m0 4h0m0 5h0m0 5h0m0 2h0m0 95h0m0 1h0m0 3h0m0 4h0m0 1h0m0 2h0m0 14h0m0 18h0m0 10h0m1-148h0m0 1h0m0 2h0m0 92h0m0 1h0m0 1h0m0 2h0m0 3h0m0 18h0m0 32h0m1-155h0m0 120h0m0 14h0m0 10h0m1-157h0m0 12h0m0 1h0m0 3h0m0 2h0m0 94h0m0 2h0m0 8h0m0 8h0m0 77h0m1-210h0m0 13h0m0 1h0m0 6h0m0 94h0m0 7h0m0 5h0m0 3h0m0 8h0m1-132h0m0 5h0m0 2h0m0 1h0m0 6h0m0 95h0m0 5h0m0 6h0m0 6h0m0 21h0m0 25h0m1-159h0m0 96h0m0 3h0m0 20h0m0 1h0m0 1h0m0 1h0m0 10h0m0 43h0m1-185h0m0 8h0m0 100h0m0 6h0m0 1h0m0 16h0m0 2h0m0 13h0m1-146h0m0 2h0m0 5h0m0 101h0m0 25h0m0 2h0m0 7h0m1-138h0m0 1h0m0 5h0m0 103h0m0 14h0m0 4h0m0 1h0m0 3h0m0 5h0m0 2h0m0 21h0m0 13h0m0 26h0m1-197h0m0 103h0m0 15h0m0 13h0m0 8h0m0 8h0m1-151h0m0 7h0m0 2h0m0 96h0m0 2h0m0 1h0m0 4h0m0 2h0m0 16h0m0 12h0m0 1h0m0 1h0m0 10h0m1-170h0m0 11h0m0 3h0m0 3h0m0 2h0m0 3h0m0 1h0m0 102h0m0 7h0m0 5h0m0 6h0m0 41h0m1-167h0m0 4h0m0 1h0m0 103h0m0 1h0m0 3h0m0 13h0m0 8h0m1-151h0m0 14h0m0 1h0m0 3h0m0 108h0m0 3h0m0 2h0m0 7h0m0 3h0m0 2h0m0 1h0m0 2h0m0 18h0m0 4h0m0 3h0m1-153h0m0 2h0m0 1h0m0 1h0m0 2h0m0 104h0m0 12h0m0 3h0m0 6h0m0 30h0m1-172h0m0 13h0m0 2h0m0 1h0m0 105h0m0 6h0m0 58h0m1-173h0m0 1h0m0 1h0m0 102h0m0 2h0m0 2h0m0 7h0m0 1h0m0 19h0m0 64h0m1-196h0m0 103h0m0 1h0m0 14h0m0 20h0m0 3h0m0 12h0m1-154h0m0 1h0m0 103h0m0 1h0m0 5h0m0 12h0m0 8h0m0 5h0m0 6h0m1-148h0m0 4h0m0 109h0m0 1h0m0 6h0m0 14h0m0 14h0m1-144h0m0 107h0m0 1h0m0 3h0m0 1h0m0 12h0m0 1h0m0 1h0m0 10h0m1-144h0m0 3h0m0 111h0m0 1h0m0 6h0m0 3h0m0 10h0m1-129h0m0 3h0m0 121h0m0 4h0m0 1h0m0 4h0m0 7h0m1-150h0m0 13h0m0 1h0m0 106h0m0 2h0m0 1h0m0 7h0m0 4h0m0 10h0m0 18h0m0 4h0m0 30h0m1-195h0m0 2h0m0 9h0m0 2h0m0 1h0m0 1h0m0 115h0m0 10h0m0 1h0m0 11h0m1-166h0m0 26h0m0 3h0m0 114h0m0 8h0m0 13h0m0 6h0m0 1h0m1-164h0m0 3h0m0 8h0m0 5h0m0 4h0m0 2h0m0 106h0m0 1h0m0 3h0m0 2h0m0 1h0m0 1h0m0 2h0m0 19h0m0 45h0m0 17h0m1-210h0m0 7h0m0 3h0m0 2h0m0 108h0m0 23h0m0 9h0m0 2h0m1-157h0m0 5h0m0 4h0m0 2h0m0 1h0m0 2h0m0 108h0m0 4h0m0 5h0m0 2h0m1-139h0m0 12h0m0 3h0m0 112h0m0 1h0m0 3h0m0 1h0m0 4h0m0 33h0m1-180h0m0 18h0m0 10h0m0 3h0m0 1h0m0 106h0m0 2h0m0 1h0m0 1h0m0 7h0m0 4h0m0 5h0m0 6h0m0 40h0m1-186h0m0 1h0m0 1h0m0 1h0m0 2h0m0 4h0m0 2h0m0 1h0m0 2h0m0 108h0m0 1h0m0 6h0m0 3h0m0 10h0m0 12h0m1-161h0m0 2h0m0 7h0m0 1h0m0 3h0m0 2h0m0 1h0m0 5h0m0 114h0m0 4h0m0 11h0m0 3h0m0 6h0m1-148h0m0 3h0m0 3h0m0 2h0m0 1h0m0 110h0m0 1h0m0 3h0m0 5h0m0 3h0m0 6h0m0 71h0m1-215h0m0 4h0m0 3h0m0 1h0m0 1h0m0 5h0m0 2h0m0 110h0m0 5h0m0 6h0m0 3h0m0 11h0m0 5h0m0 26h0m1-180h0m0 2h0m0 3h0m0 1h0m0 5h0m0 2h0m0 1h0m0 1h0m0 108h0m0 1h0m0 2h0m0 3h0m0 2h0m0 4h0m0 4h0m0 2h0m0 1h0m0 2h0m0 69h0m1-238h0m0 6h0m0 6h0m0 4h0m0 12h0m0 2h0m0 6h0m0 3h0m0 109h0m0 3h0m0 1h0m0 2h0m0 5h0m0 2h0m0 7h0m0 4h0m0 2h0m1-171h0m0 18h0m0 1h0m0 2h0m0 5h0m0 2h0m0 1h0m0 7h0m0 112h0m0 8h0m0 19h0m0 60h0m1-215h0m0 6h0m0 1h0m0 3h0m0 115h0m0 3h0m0 1h0m0 11h0m0 1h0m1-136h0m0 1h0m0 1h0m0 1h0m0 115h0m0 1h0m0 1h0m0 2h0m0 5h0m0 10h0m0 18h0m0 2h0m1-163h0m0 3h0m0 1h0m0 3h0m0 120h0m0 5h0m0 51h0m1-177h0m0 1h0m0 119h0m0 3h0m0 1h0m0 3h0m0 7h0m0 37h0m1-176h0m0 4h0m0 3h0m0 121h0m0 1h0m0 5h0m0 6h0m0 28h0m1-176h0m0 13h0m0 1h0m0 1h0m0 1h0m0 120h0m0 3h0m0 2h0m0 1h0m0 2h0m0 1h0m0 14h0m0 11h0m1-169h0m0 4h0m0 1h0m0 5h0m0 5h0m0 1h0m0 116h0m0 7h0m0 17h0m0 23h0m1-48h0m0 2h0m0 1h0m0 6h0m0 1h0m0 10h0m0 15h0m0 39h0m1-195h0m0 5h0m0 118h0m0 3h0m0 11h0m0 5h0m0 37h0m1-179h0m0 1h0m0 2h0m0 3h0m0 114h0m0 7h0m0 6h0m0 9h0m1-155h0m0 5h0m0 3h0m0 4h0m0 1h0m0 4h0m0 1h0m0 116h0m0 8h0m0 43h0m1-174h0m0 5h0m0 1h0m0 116h0m0 4h0m0 21h0m0 28h0m1-177h0m0 2h0m0 3h0m0 4h0m0 116h0m0 1h0m0 2h0m0 1h0m0 2h0m0 1h0m0 2h0m0 3h0m0 5h0m0 3h0m0 13h0m0 5h0m1-173h0m0 13h0m0 1h0m0 2h0m0 2h0m0 1h0m0 1h0m0 1h0m1-13h0m0 5h0m0 2h0m0 2h0m0 3h0m0 116h0m0 1h0m0 1h0m0 5h0m0 9h0m0 30h0m0 5h0m0 39h0m1-217h0m0 2h0m0 5h0m0 2h0m0 1h0m0 116h0m0 3h0m0 1h0m0 3h0m0 13h0m0 2h0m0 3h0m1-153h0m0 7h0m0 4h0m0 1h0m0 117h0m0 1h0m0 6h0m0 21h0m1-160h0m0 1h0m0 1h0m0 11h0m0 2h0m0 1h0m0 115h0m0 1h0m0 1h0m0 8h0m0 8h0m0 1h0m0 8h0m1-183h0m0 24h0m0 11h0m0 4h0m0 118h0m0 2h0m0 17h0m1-149h0m0 3h0m0 4h0m0 134h0m0 10h0m0 7h0m0 23h0m1-194h0m0 2h0m0 4h0m0 6h0m0 2h0m0 1h0m0 3h0m0 1h0m0 1h0m0 1h0m0 2h0m0 4h0m0 120h0m1-138h0m0 2h0m0 3h0m0 12h0m0 1h0m0 2h0m0 113h0m0 4h0m0 1h0m0 2h0m0 6h0m0 10h0m0 1h0m0 17h0m1-175h0m0 3h0m0 3h0m0 2h0m0 1h0m0 2h0m0 2h0m0 1h0m0 2h0m0 1h0m0 1h0m0 1h0m0 1h0m0 115h0m0 1h0m0 22h0m1-162h0m0 1h0m0 7h0m0 1h0m0 6h0m0 2h0m0 3h0m0 1h0m0 117h0m0 5h0m0 7h0m0 5h0m0 3h0m0 9h0m1-160h0m0 2h0m0 5h0m0 5h0m0 1h0m0 2h0m0 1h0m0 115h0m0 5h0m0 13h0m0 2h0m1-153h0m0 4h0m0 8h0m0 2h0m0 1h0m0 2h0m0 1h0m0 113h0m0 1h0m0 2h0m0 1h0m0 3h0m0 1h0m0 9h0m0 5h0m1-155h0m0 6h0m0 1h0m0 4h0m0 3h0m0 1h0m0 4h0m0 113h0m0 2h0m0 9h0m0 21h0m0 29h0m1-190h0m0 5h0m0 2h0m0 1h0m0 1h0m0 3h0m0 1h0m0 119h0m0 4h0m0 23h0m1-161h0m0 2h0m0 3h0m0 3h0m0 2h0m0 122h0m0 1h0m0 2h0m0 2h0m0 1h0m0 3h0m0 8h0m0 1h0m1-151h0m0 8h0m0 2h0m0 1h0m0 1h0m0 122h0m0 1h0m0 1h0m1-127h0m0 1h0m0 1h0m0 120h0m0 7h0m0 5h0m0 9h0m1-151h0m0 7h0m0 1h0m0 2h0m0 1h0m0 119h0m0 3h0m0 2h0m0 1h0m0 4h0m0 6h0m0 6h0m1-154h0m0 4h0m0 1h0m0 5h0m0 2h0m0 2h0m0 1h0m0 119h0m0 1h0m0 2h0m0 9h0m0 3h0m0 1h0m0 29h0m1-179h0m0 11h0m0 5h0m0 115h0m0 1h0m0 1h0m0 1h0m0 1h0m0 3h0m0 5h0m0 7h0m0 12h0m0 1h0m0 21h0m1-182h0m0 1h0m0 7h0m0 6h0m0 1h0m0 115h0m0 1h0m1-131h0m0 14h0m0 2h0m0 1h0m0 1h0m0 112h0m0 2h0m0 4h0m0 1h0m0 1h0m0 1h0m0 6h0m0 1h0m0 2h0m1-154h0m0 6h0m0 6h0m0 6h0m0 2h0m0 1h0m0 1h0m0 1h0m0 112h0m0 1h0m0 2h0m0 1h0m0 2h0m0 1h0m0 12h0m1-160h0m0 15h0m0 6h0m0 2h0m0 2h0m0 2h0m0 1h0m0 1h0m0 118h0m0 3h0m0 3h0m0 9h0m1-142h0m0 5h0m0 1h0m0 1h0m0 116h0m0 1h0m0 2h0m0 1h0m1-137h0m0 4h0m0 1h0m0 2h0m0 2h0m0 3h0m0 2h0m0 2h0m0 115h0m0 1h0m0 2h0m0 5h0m0 8h0m0 5h0m0 17h0m1-178h0m0 16h0m0 2h0m0 3h0m0 2h0m0 117h0m0 4h0m0 1h0m0 10h0m0 2h0m0 8h0m1-169h0m0 9h0m0 6h0m0 1h0m0 2h0m0 1h0m0 2h0m0 1h0m0 3h0m0 2h0m0 115h0m0 2h0m0 2h0m0 4h0m0 2h0m0 18h0m0 2h0m1-166h0m0 8h0m0 3h0m0 1h0m0 3h0m0 1h0m0 1h0m0 4h0m0 113h0m0 1h0m0 3h0m0 8h0m1-134h0m0 1h0m0 1h0m0 3h0m0 1h0m0 1h0m0 1h0m0 114h0m0 7h0m0 1h0m0 4h0m0 1h0m1-137h0m0 4h0m0 2h0m0 3h0m0 1h0m0 2h0m0 112h0m0 2h0m0 1h0m0 1h0m0 2h0m0 1h0m0 7h0m0 3h0m0 13h0m1-163h0m0 6h0m0 2h0m0 2h0m0 4h0m0 1h0m0 1h0m0 1h0m0 1h0m0 2h0m0 1h0m0 1h0m0 114h0m0 1h0m0 6h0m0 2h0m0 9h0m0 3h0m0 33h0m1-183h0m0 3h0m0 7h0m0 1h0m0 5h0m0 107h0m0 7h0m0 2h0m0 6h0m0 1h0m0 2h0m0 7h0m1-147h0m0 5h0m0 2h0m0 4h0m0 3h0m0 110h0m0 3h0m1-127h0m0 4h0m0 4h0m0 1h0m0 1h0m0 1h0m0 1h0m0 1h0m0 109h0m0 3h0m0 1h0m0 3h0m0 1h0m0 2h0m0 17h0m1-167h0m0 26h0m0 3h0m0 2h0m0 107h0m0 5h0m0 9h0m1-136h0m0 2h0m0 6h0m0 5h0m0 1h0m0 108h0m0 1h0m0 3h0m0 1h0m1-128h0m0 4h0m0 4h0m0 3h0m0 1h0m0 1h0m0 112h0m0 1h0m0 1h0m0 1h0m0 7h0m0 10h0m0 27h0m1-203h0m0 35h0m0 8h0m0 1h0m0 110h0m0 4h0m0 1h0m1-129h0m0 4h0m0 1h0m0 5h0m0 2h0m0 112h0m0 1h0m0 1h0m0 3h0m0 1h0m0 2h0m0 10h0m1-134h0m0 3h0m0 1h0m0 113h0m0 1h0m0 1h0m0 10h0m0 9h0m0 11h0m1-159h0m0 5h0m0 1h0m0 4h0m0 2h0m0 2h0m0 1h0m0 109h0m0 1h0m0 2h0m0 1h0m0 4h0m0 3h0m0 7h0m1-130h0m0 1h0m0 1h0m0 110h0m0 1h0m1-117h0m0 4h0m0 1h0m0 112h0m0 2h0m0 3h0m0 1h0m0 3h0m0 2h0m0 13h0m1-141h0m0 6h0m0 2h0m0 2h0m0 107h0m0 1h0m0 13h0m0 3h0m1-140h0m0 1h0m0 3h0m0 2h0m0 2h0m0 1h0m0 1h0m0 2h0m0 1h0m0 2h0m0 105h0m0 1h0m0 1h0m0 2h0m0 3h0m0 2h0m1-136h0m0 4h0m0 4h0m0 8h0m0 4h0m0 2h0m0 105h0m0 2h0m0 3h0m0 26h0m0 7h0m1-144h0m0 1h0m0 104h0m0 8h0m0 16h0m1-144h0m0 11h0m0 2h0m0 1h0m0 1h0m0 1h0m0 1h0m0 101h0m1-126h0m0 6h0m0 3h0m0 10h0m0 3h0m0 1h0m0 1h0m0 102h0m0 4h0m0 1h0m0 3h0m0 7h0m0 2h0m0 4h0m1-140h0m0 2h0m0 3h0m0 4h0m0 2h0m0 5h0m0 2h0m0 107h0m0 1h0m0 2h0m0 1h0m0 1h0m0 4h0m0 1h0m0 6h0m1-145h0m0 2h0m0 2h0m0 5h0m0 7h0m0 1h0m0 4h0m0 102h0m0 3h0m0 3h0m0 1h0m0 3h0m0 2h0m0 2h0m0 8h0m1-128h0m0 113h0m0 3h0m0 1h0m1-138h0m0 14h0m0 5h0m0 1h0m0 2h0m0 105h0m0 1h0m0 4h0m0 6h0m0 1h0m0 8h0m1-153h0m0 19h0m0 1h0m0 2h0m0 5h0m0 3h0m0 98h0m0 1h0m0 1h0m0 1h0m0 1h0m0 1h0m0 2h0m0 7h0m1-119h0m0 6h0m0 91h0m0 3h0m0 2h0m0 1h0m0 1h0m0 2h0m0 2h0m0 2h0m0 2h0m0 10h0m0 12h0m1-139h0m0 7h0m0 94h0m0 5h0m0 1h0m0 5h0m0 6h0m0 1h0m0 4h0m0 1h0m0 7h0m0 1h0m1-126h0m0 94h0m0 2h0m0 2h0m0 4h0m0 1h0m0 14h0m0 7h0m0 12h0m1-169h0m0 22h0m0 7h0m0 4h0m0 4h0m0 90h0m0 3h0m0 2h0m0 1h0m0 2h0m0 3h0m0 7h0m0 5h0m1-130h0m0 14h0m0 3h0m0 94h0m0 1h0m0 1h0m0 1h0m0 1h0m0 7h0m0 1h0m0 1h0m1-115h0m0 1h0m0 6h0m0 1h0m0 88h0m0 1h0m0 1h0m0 2h0m0 2h0m0 3h0m0 20h0m0 4h0m1-129h0m0 6h0m0 1h0m0 1h0m0 89h0m0 10h0m0 5h0m0 1h0m0 15h0m1-128h0m0 3h0m0 3h0m0 90h0m0 1h0m0 1h0m0 3h0m0 1h0m0 3h0m0 2h0m0 75h0m1-191h0m0 5h0m0 6h0m0 4h0m0 1h0m0 1h0m0 1h0m0 86h0m0 6h0m0 12h0m1-117h0m0 7h0m0 3h0m0 1h0m0 2h0m0 1h0m0 87h0m0 1h0m0 3h0m0 1h0m0 10h0m0 11h0m0 17h0m1-146h0m0 3h0m0 3h0m0 1h0m0 1h0m0 4h0m0 92h0m0 1h0m0 6h0m0 1h0m1-117h0m0 19h0m0 2h0m0 87h0m0 2h0m0 4h0m0 2h0m0 9h0m1-130h0m0 18h0m0 6h0m0 2h0m0 86h0m0 2h0m0 1h0m0 1h0m0 2h0m0 4h0m0 15h0m1-120h0m0 3h0m0 6h0m0 1h0m0 1h0m0 84h0m0 15h0m1-115h0m0 1h0m0 2h0m0 3h0m0 2h0m0 3h0m0 4h0m0 81h0m0 3h0m0 8h0m1-104h0m0 2h0m0 5h0m0 1h0m0 1h0m0 87h0m0 2h0m0 1h0m0 7h0m0 2h0m0 1h0m0 1h0m0 4h0m1-115h0m0 3h0m0 4h0m0 4h0m0 1h0m0 1h0m0 81h0m0 1h0m0 1h0m0 1h0m0 2h0m0 2h0m0 8h0m1-108h0m0 1h0m0 92h0m0 2h0m0 17h0m1-121h0m0 6h0m0 11h0m0 3h0m0 75h0m0 1h0m0 1h0m0 1h0m0 3h0m0 1h0m0 1h0m0 3h0m0 3h0m0 4h0m0 2h0m0 5h0m1-112h0m0 2h0m0 4h0m0 4h0m0 1h0m0 1h0m0 76h0m0 12h0m0 7h0m0 6h0m1-118h0m0 2h0m0 8h0m0 3h0m0 1h0m0 1h0m0 66h0m0 5h0m0 1h0m0 7h0m0 2h0m1-95h0m0 6h0m0 7h0m0 61h0m0 2h0m0 1h0m0 1h0m0 2h0m0 1h0m0 1h0m0 4h0m0 3h0m0 1h0m0 7h0m0 3h0m0 2h0m0 2h0m0 1h0m0 4h0m1-104h0m0 8h0m0 39h0m0 20h0m0 1h0m0 1h0m0 1h0m0 3h0m0 2h0m0 1h0m0 2h0m0 2h0m0 2h0m0 2h0m0 1h0m0 1h0m0 7h0m0 1h0m0 1h0m0 16h0m1-129h0m0 8h0m0 19h0m0 38h0m0 1h0m0 1h0m0 19h0m0 2h0m0 7h0m0 2h0m0 11h0m0 5h0m1-111h0m0 23h0m0 6h0m0 38h0m0 18h0m0 7h0m0 3h0m0 4h0m0 22h0m0 9h0m1-129h0m0 15h0m0 9h0m0 40h0m0 1h0m0 1h0m0 3h0m0 25h0m0 2h0m0 3h0m0 1h0m0 10h0m0 1h0m1-93h0m0 1h0m0 4h0m0 1h0m0 1h0m0 2h0m0 42h0m0 1h0m0 13h0m0 2h0m0 10h0m0 3h0m0 3h0m0 1h0m0 1h0m0 1h0m0 18h0m0 13h0m0 7h0m1-126h0m0 1h0m0 2h0m0 4h0m0 45h0m0 1h0m0 1h0m0 4h0m0 3h0m0 1h0m0 3h0m0 2h0m0 6h0m0 1h0m0 5h0m0 4h0m0 1h0m0 7h0m1-121h0m0 76h0m0 3h0m0 2h0m0 1h0m0 3h0m0 5h0m0 3h0m0 1h0m0 4h0m0 1h0m0 6h0m0 3h0m0 4h0m0 9h0m0 5h0m0 2h0m0 14h0m1-120h0m0 13h0m0 1h0m0 1h0m0 1h0m0 37h0m0 3h0m0 1h0m0 3h0m0 4h0m0 1h0m0 1h0m0 3h0m0 3h0m0 1h0m0 1h0m0 1h0m0 5h0m0 4h0m0 2h0m0 7h0m0 9h0m1-94h0m0 3h0m0 2h0m0 1h0m0 3h0m0 2h0m0 32h0m0 1h0m0 3h0m0 3h0m0 6h0m0 1h0m0 4h0m0 8h0m0 12h0m0 2h0m1-77h0m0 1h0m0 5h0m0 27h0m0 2h0m0 1h0m0 1h0m0 2h0m0 8h0m0 2h0m0 2h0m0 3h0m0 1h0m0 3h0m0 5h0m0 19h0m0 12h0m1-99h0m0 37h0m0 1h0m0 2h0m0 3h0m0 1h0m0 1h0m0 6h0m0 15h0m0 6h0m0 3h0m0 11h0m0 9h0m0 9h0m0 20h0m1-119h0m0 2h0m0 32h0m0 1h0m0 3h0m0 4h0m0 3h0m0 3h0m0 1h0m0 4h0m0 3h0m0 22h0m1-77h0m0 2h0m0 1h0m0 25h0m0 6h0m0 1h0m0 3h0m0 7h0m0 2h0m0 4h0m0 2h0m0 2h0m0 5h0m0 2h0m1-75h0m0 3h0m0 4h0m0 4h0m0 2h0m0 2h0m0 26h0m0 1h0m0 5h0m0 5h0m0 35h0m0 1h0m1-95h0m0 16h0m0 1h0m0 5h0m0 1h0m0 1h0m0 1h0m0 27h0m0 11h0m0 7h0m0 1h0m0 3h0m0 7h0m0 4h0m0 1h0m0 2h0m0 9h0m0 25h0m1-107h0m0 7h0m0 1h0m0 22h0m0 2h0m0 1h0m0 5h0m0 2h0m0 7h0m0 3h0m0 6h0m0 6h0m0 16h0m0 2h0m1-90h0m0 12h0m0 1h0m0 10h0m0 1h0m0 1h0m0 5h0m0 2h0m0 5h0m0 1h0m0 2h0m0 1h0m0 5h0m0 4h0m0 1h0m0 2h0m0 6h0m0 36h0m0 16h0m1-101h0m0 5h0m0 2h0m0 1h0m0 5h0m0 3h0m0 3h0m0 6h0m0 1h0m0 4h0m0 1h0m0 4h0m0 2h0m0 2h0m0 1h0m0 2h0m0 4h0m0 8h0m0 10h0m0 3h0m0 13h0m0 7h0m1-86h0m0 3h0m0 9h0m0 1h0m0 2h0m0 2h0m0 6h0m0 2h0m0 10h0m0 10h0m0 6h0m0 16h0m0 14h0m0 28h0m1-119h0m0 8h0m0 8h0m0 5h0m0 1h0m0 2h0m0 3h0m0 5h0m0 2h0m0 15h0m0 9h0m0 14h0m0 9h0m1-89h0m0 18h0m0 3h0m0 15h0m0 1h0m0 2h0m0 2h0m0 3h0m0 3h0m0 20h0m0 9h0m0 2h0m0 55h0m1-108h0m0 10h0m0 1h0m0 2h0m0 4h0m0 6h0m0 8h0m0 12h0m0 6h0m0 13h0m1-73h0m0 9h0m0 15h0m0 8h0m0 1h0m0 11h0m0 17h0m0 3h0m1-58h0m0 4h0m0 4h0m0 11h0m0 8h0m0 2h0m0 3h0m0 3h0m0 15h0m0 7h0m0 1h0m0 6h0m0 1h0m1-73h0m0 3h0m0 6h0m0 2h0m0 10h0m0 12h0m1-25h0m0 2h0m0 2h0m0 4h0m0 12h0m0 4h0m0 2h0m0 18h0m0 1h0m0 1h0m0 5h0m0 14h0m0 7h0m1-81h0m0 16h0m0 12h0m0 23h0m0 29h0m1-79h0m0 15h0m0 10h0m0 9h0m0 1h0m0 1h0m0 25h0m1-63h0m0 8h0m0 20h0m0 1h0m0 1h0m0 4h0m1-83h0m0 58h0m0 10h0m0 2h0m0 2h0m0 18h0m0 11h0m1-42h0m0 12h0m0 6h0m0 2h0m1 0h0m0 12h0m0 15h0m0 22h0m1-65h0m0 58h0m0 31h0m1-100h0m0 8h0m0 16h0m0 1h0m1-37h0m1 18h0m0 31h0m0 44h0m1-69h0m0 59h0m1-53h0m1 10h0m0 22h0m1-39h0m0 33h0m1-25h0m0 12h0m1-24h0m2 20h0m1-24h0m0 13h0m2-22h0m2 91h0m4-91h0m0 116h0m2-85h0m8 15h0m8 26h0" stroke="#0b7dff" stroke-width="1.3" stroke-linecap="square" fill="none"/>
<path d="M164.1 677l5.3-4.5 5-4 4-3.7 3.8-3.4 5.4-2.6 4.4-2.4 4.6-2 6.9-0.5 5.9-0.4 4.1-0.8-0.2-3.1 0-3.3 2.4-1.5 2-1.8 4.7 0.9 3.3 0.1 4 1.1 2-0.8 2.6 0 3.1 1.4 1.4-1.4 2.1-0.2 1.7-0.7 1-3.1 1.2-3.1 2.1-0.6 2.7 3.1 2.3 3.1 1.8-1 1.8-1.6 2-2.3 2.1 0.4 2 0.1 1.7 2 2.5-1.9 2.8-1.7 3.4-2.8 2.4 0.5 1.1 3.3 2.8-0.3 3.1-0.3 4.8-2.5 4.3-0.9 3.1 0.9 2.9 1.3 3 1.4 4.9 0 6.6-0.7 6.5 0 6 1.1 0.7 4.2 1.6 3.7-0.1 4.3-0.5 4.3-3.2 4.9 0.1 3.6-3.8 4.2-1.5 3.6-6.5 3.5 1.5 2.9 1 3 2 3.2-0.1 3.2-1.7 2.8 0.4 3.3-3.8 2.1-0.2 3.1-2.1 2.4 0.8 3.7-0.8 3.1 0.3 4-3.1 1.7-0.2 3.9-2.7 2-0.2 4.4-3 1.8-4.3 0-3.4 0.7-2.6 1.7-1.2 4.3-1.6 4.2-1.7 4.5-3.2 1.7-3 2.5-3.4 1.6-3.3 2.5-3.9-0.1-3.5 2.5-3.8 2.9-4 4.2-4.3 0.2-4.3 1.1-4.6 1.2-4.8 1.4-4.8 0.4-4.6-0.7-5.2 0.4-5.4 0.4-5.8 0.6-4.8-1.6-5.3-1.3-5.7-1-6.1-0.9-6.9-0.4-6.4-1.7-2.8-5.3-5.2-3.2-0.2-7.1-1.4-5.9 1.2-7.1-4.2-3.7-3.9-4.2 0.7-6.1-2-4.9 2.1-6.1-3.9-4.4 5.5-6.3-1.7-4.7 2.4-5.2zM192.3 677l4.6-3.1 4.3-2.6 2.4-2.5 2.1-2.4 3.4-1.8 3-1.7 3.5-1.2 4.5-0.4 2.8-0.9 1.9-1.1-0.7-2.7 2.1-0.9 2.7-0.2 1.5-1.1 2-0.5 0.9-1.5 2.4 0.2 1.9-0.2 2.4 0.7 2.2 0.8 0.7-1.6 1.3-0.7 1.8 0.6 1-1.4 1-1.8 0.8-3.4 2.1 2.2 1.7 1.5 1.5 1.6 1.4-2.6 1.6-1 1.6-1.2 1.5 1.4 1.3 1.3 1.7-0.7 2.4-2.3 2.2-0.9 1.5 1 1.1 1.8 2.2-0.3 2.2-0.1 2.7-0.6 2.9-0.4 2.8 0 3.5-0.5 3.2 0.2 3.9 0 3.4 0.7 5.5-0.4 4.3 1 2.1 2.4 0.7 3.1-0.1 3.4-0.7 3.4-0.8 3.3 0.3 2.8-2 3.2-1.1 2.9-4.4 2.8 0.5 2.4 0.4 2.4 0.8 2.6 0.6 2.6-2.8 2 1.2 2.8-2.7 1.7 0.4 2.7-2.8 1.5 0.2 2.7-1 2.3 0.4 3.1-1.5 2.1-0.8 2.6-2.3 1.4-1.1 2.5-2 1.7-1.6 2.1-2.8 0.6-1.5 2.3-1.8 2.2-1.2 3.3-1.9 2.7-2.6 1.1-2 3.1-1.9 4.4-2.5 3.8-3.4-0.6-3.3 0.5-3.1 1.7-3.4 3.4-3.6 0.7-3.7 1.2-3.8 0.9-4 1-4.1 0.5-4.1 0-4.1-0.3-4.5 0.3-4.9 0.5-3.3-2.6-3.6-2.1-3.9-1.9-4.9-0.6-4.2-2-4.2-2-2.8-3.5-2.9-3.5 0.3-5.7 0.5-5.5 0.2-4.8-1.5-3.7-2.2-3.3 0.2-4.4-1.1-3.7 1-4.3 0.2-3.8 1.4-4-0.1-3.6 0.8-3.6z" fill="url(#pB2)" fill-rule="evenodd" clip-path="url(#cD)"/>
<path d="M192.3 677l4.6-3.1 4.3-2.6 2.4-2.5 2.1-2.4 3.4-1.8 3-1.7 3.5-1.2 4.5-0.4 2.8-0.9 1.9-1.1-0.7-2.7 2.1-0.9 2.7-0.2 1.5-1.1 2-0.5 0.9-1.5 2.4 0.2 1.9-0.2 2.4 0.7 2.2 0.8 0.7-1.6 1.3-0.7 1.8 0.6 1-1.4 1-1.8 0.8-3.4 2.1 2.2 1.7 1.5 1.5 1.6 1.4-2.6 1.6-1 1.6-1.2 1.5 1.4 1.3 1.3 1.7-0.7 2.4-2.3 2.2-0.9 1.5 1 1.1 1.8 2.2-0.3 2.2-0.1 2.7-0.6 2.9-0.4 2.8 0 3.5-0.5 3.2 0.2 3.9 0 3.4 0.7 5.5-0.4 4.3 1 2.1 2.4 0.7 3.1-0.1 3.4-0.7 3.4-0.8 3.3 0.3 2.8-2 3.2-1.1 2.9-4.4 2.8 0.5 2.4 0.4 2.4 0.8 2.6 0.6 2.6-2.8 2 1.2 2.8-2.7 1.7 0.4 2.7-2.8 1.5 0.2 2.7-1 2.3 0.4 3.1-1.5 2.1-0.8 2.6-2.3 1.4-1.1 2.5-2 1.7-1.6 2.1-2.8 0.6-1.5 2.3-1.8 2.2-1.2 3.3-1.9 2.7-2.6 1.1-2 3.1-1.9 4.4-2.5 3.8-3.4-0.6-3.3 0.5-3.1 1.7-3.4 3.4-3.6 0.7-3.7 1.2-3.8 0.9-4 1-4.1 0.5-4.1 0-4.1-0.3-4.5 0.3-4.9 0.5-3.3-2.6-3.6-2.1-3.9-1.9-4.9-0.6-4.2-2-4.2-2-2.8-3.5-2.9-3.5 0.3-5.7 0.5-5.5 0.2-4.8-1.5-3.7-2.2-3.3 0.2-4.4-1.1-3.7 1-4.3 0.2-3.8 1.4-4-0.1-3.6 0.8-3.6zM208.6 677l2.6-2.3 2.5-2.1 2-1.9 2.1-1.7 2.2-1.5 2.2-1.3 2.3-1.1 2.3-0.9 2.1-0.7 1.3-1.1 1.2-1 1.3-0.9 1.4-0.9 1.3-0.7 1.4-0.6 1.4-0.6 1.3-0.4 1.4-0.4 1.4-0.2 1.4-0.2 1.3-0.1 1.3 0 1.2-0.3 1-0.7 1.1-0.6 1.1-0.5 1.1-0.5 1.2-0.4 1.2-0.4 1.3-0.3 1.3-0.2 1.3-0.1 1.3-0.1 1.4-0.1 1.3 0.1 1.4 0.1 1.4 0.2 1.7-0.5 2-0.8 2.1-0.6 2.2-0.4 2.2-0.3 2.4-0.1 2.4 0 2.4 0.3 2.9 0 3.2 0.1 3.3 0.4 3.3 0.7 1.5 1.9 1.2 2.2 1 2.3 0.3 2.5-0.2 2.6-0.4 2.6-0.6 2.5-0.7 2.4-0.8 2.3-0.8 2.2-0.3 2.1-0.3 2.1-0.5 2-0.5 2-0.7 1.9-0.7 1.9-0.8 1.8-1 1.8-1 1.7-0.6 1.9-0.5 2-0.6 2-0.7 2-0.8 2-1 1.9-1.1 1.9-1.2 1.9-1.3 1.8-1.3 1.9-1.3 2.1-1.4 2.1-1.6 2.1-1.8 2-1.8 1.9-2.1 1.9-2 2.1-2.3 2-2.5 1.9-2.6 1.8-2.8 1.7-2.9 1.4-3.1 1.3-3.2 1.1-3.3 0.9-3.4 0.5-3.5 0.4-3.6 0.1-3.5-0.3-3.5-0.5-3.6-0.8-3.5-0.9-3.6-1.2-3.5-1.2-3.5-1.6-3.5-1.7-3.1-2.2-1.9-3.4-1.6-3.5-1.1-3.8-0.2-4.2 0-4.1 0.3-3.9 0.1-3.7 0.3-3.5 0.5-3.4 0.6-3.3 0.6-3.2 0.8-3 1.2-3 2.4-2.8z" fill="#0b7dff" fill-rule="evenodd" clip-path="url(#cD)"/>
<path d="M243.3 738l1.2-0.1 1.5-0.3 1-0.2 1.5-0.3 1-0.3 1-0.3 1.3-0.5 1-0.5 1-0.5 0.9-0.5 1-0.5 1-0.5 1.2-0.5 1.1-0.4 1-0.4 1-0.4 1-0.5 1-0.5 1-0.6 0.9-0.7 0.6-0.5 1-1 0.5-0.5 0.9-1 0.6-0.6 0.8-0.9 0.7-0.9 0.5-0.6 0.9-1 0.6-0.6 1-0.9 0.6-0.5 0.9-0.8 0.8-0.7 0.7-0.7 0.8-0.8 0.7-0.8 0.6-0.7 0.7-1 0.6-1 0.5-1 0.6-1 0.5-0.9 0.5-0.8 0.5-0.8 0.7-1 0.7-1 0.6-0.8 0.5-0.7 0.6-1 0.6-1 0.5-1 0.4-1 0.4-1.2 0.3-1.3 0.3-1 0.4-1.5 0.3-1 0.3-1 0.4-1.5 0.3-1 0.6-1 0.6-1 0.5-0.7 0.5-0.8 0.6-1 0.5-1 0.5-1 0.4-1.3 0.3-1.2 0.3-1 0.3-1.5 0.2-1 0.3-1.5 0.2-1 0.2-1.5 0.2-1.3 0.4-1.2 0.2-1 0.4-1.2 0.4-1.3 0.3-1 0.3-1 0.5-1.5 0.3-1 0.3-1 0.2-1.5 0.1-1.5-0.1-1.5-0.2-1.5-0.2-1-0.4-1.4-0.3-1.1-0.3-1-0.4-1-0.6-1-0.7-1-1.2-0.3-1.2-0.2-1.3-0.1-1.5-0.1-1.5-0.1-1.5 0-1.5 0-1.5 0.1-1.5 0-1.5-0.1-1.5-0.2-1-0.2-1.5-0.1-1.5-0.1-1.5 0.1-1.4 0.3-1.1 0.3-1 0.2-1.5 0.4-1 0.3-1 0.4-1 0.4-1.4 0.5-1.1 0.1-1.5-0.1-1.5 0.1-1.5 0.1-1.5 0.1-1.5 0.2-1 0.1-1.5 0.2-1 0.3-1.5 0.4-1 0.4-1 0.5-1 0.5-0.9 0.6-1.1 0.3-1.5-0.1-1.5 0.1-1.5 0.2-1 0.2-1 0.3-1.4 0.5-1.1 0.5-1 0.5-1 0.5-0.9 0.5-0.8 0.5-0.8 0.5-1 0.7-1 0.7-0.8 0.6-0.7 0.6-1 0.6-1 0.3-1.3 0.5-1.2 0.5-1 0.4-1 0.6-1 0.5-0.8 0.5-0.9 0.5-0.8 0.5-1 0.7-1 0.8-0.7 0.5-0.8 0.7-1 0.8-0.5 0.5-1 0.8-1 0.7-0.6 0.5-0.9 0.7-0.9 0.8-0.6 0.6-0.9 0.9-0.6 0.6-0.9 0.9-0.6 0.6-0.9 0.9-0.6 0.7-0.6 0.8-0.8 1-0.4 1-0.3 1-0.4 1.1-0.3 1.4-0.2 1-0.4 1.5-0.2 1-0.4 1.3-0.4 1.2-0.3 1-0.3 1.4-0.2 1.1-0.2 1.5 0.1 1.5 0.1 1.5 0.1 1.5 0 1.5-0.1 1.5-0.2 1.5-0.1 1.5 0 1.5 0.1 1.5 0 1.5 0.1 1.5 0.1 1.5 0.1 1.5 0.3 1 0.3 1.5 0.2 1 0.4 1 0.5 1 0.6 1 0.6 1 0.7 1 0.5 0.7 0.5 0.8 1 0.8 1 0.7 0.6 0.5 0.9 0.6 1 0.7 1 0.6 1 0.6 1 0.5 1 0.4 1 0.4 1 0.4 1 0.5 1 0.5 1 0.5 1 0.5 1 0.4 1.3 0.4 1.2 0.2 1.5 0.3 1 0.1 1.5 0.3 1 0.3 1.1 0.3 1.4 0.3 1.5 0.1 1.5-0.1 1.5-0.2 1.5-0.1 1-0.1 1.5 0 1.5 0 1.2 0.1 1.3 0zM242.7 734.5l1.3-0.3 1-0.3 1.1-0.4 1.4-0.5 1-0.3 1-0.3 1.3-0.4 1.2-0.3 1-0.3 1.3-0.4 1.2-0.4 1-0.4 1-0.4 1-0.4 1-0.5 1-0.5 1-0.6 1-0.7 0.8-0.6 0.7-0.6 1-0.9 0.5-0.5 1-1 0.5-0.6 0.8-0.9 0.7-0.8 0.6-0.7 0.9-0.9 0.6-0.6 0.9-0.8 0.9-0.7 0.6-0.5 1-0.9 0.7-0.6 0.8-0.9 0.5-0.7 0.6-0.9 0.6-1 0.5-1 0.6-1 0.5-1 0.7-1 0.5-0.8 0.5-0.7 0.8-1 0.6-1 0.6-1 0.5-0.9 0.5-1 0.5-1.1 0.3-1 0.4-1 0.3-1 0.5-1.3 0.4-1.2 0.3-1 0.3-1.3 0.3-1.2 0.5-1 0.5-1 0.6-1 0.6-1 0.5-1 0.5-1 0.4-1 0.3-1 0.3-1.1 0.3-1.4 0.3-1 0.4-1.5 0.2-1 0.3-1.2 0.2-1.3 0.5-1 0.3-1.1 0.4-1.4 0.3-1 0.3-1.4 0.3-1.1 0.3-1 0.3-1.5 0.2-1 0.2-1.5 0.1-1.5-0.2-1.5-0.2-1.1-0.5-1.4-0.4-1-0.4-1-0.5-1-0.7-1-0.5-0.6-1.5-0.3-1-0.1-1.5-0.2-1.5 0-1.5-0.1-1.5 0-1.5 0-1.5-0.1-1.2-0.1-1.3-0.2-1.5-0.3-1 0-1.5 0-1 0.1-1.5 0.2-1 0.2-1.5 0.4-1 0.3-1 0.3-1.2 0.5-1.3 0.5-1 0.4-1.5-0.1-1.5 0-1.5 0.1-1.3 0.1-1.2 0.1-1.5 0.2-1.5 0.2-1 0.2-1 0.3-1.1 0.5-1.1 0.5-0.8 0.5-1 0.6-1.5 0.2-1.5-0.1-1.5 0.1-1 0.2-1.5 0.4-1 0.3-1 0.5-1 0.5-1 0.5-1 0.6-1 0.7-0.8 0.5-0.7 0.5-1 0.7-1 0.8-0.6 0.5-1.4 0.4-1 0.4-1 0.4-1 0.4-1 0.5-1 0.6-1 0.6-1 0.6-0.9 0.6-0.8 0.5-0.8 0.6-1 0.7-0.8 0.7-0.7 0.6-1 0.9-0.6 0.5-0.9 0.7-1 0.8-0.7 0.5-0.8 0.7-0.9 0.8-0.6 0.5-0.9 1-0.6 0.6-0.8 0.9-0.7 0.8-0.6 0.7-0.6 1-0.4 1-0.4 1.1-0.3 1.4-0.3 1-0.3 1.5-0.3 1-0.3 1.3-0.3 1.2-0.3 1-0.3 1.5-0.1 1.1 0 1.4 0 1.5 0 1 0.1 1.5 0 1.5-0.1 1.5 0 1-0.1 1.5 0 1.5 0 1.5 0 1.5 0.1 1.5 0 1 0.3 1.5 0.3 1 0.4 1.3 0.4 1.2 0.4 1 0.4 1 0.5 1 0.5 1 0.7 1 0.6 1 0.7 0.5 0.8 0.6 1 0.8 0.9 0.6 0.8 0.5 1 0.5 1 0.5 1.1 0.5 1.1 0.5 1.1 0.5 0.9 0.5 1 0.5 0.9 0.5 1 0.5 1.2 0.5 1 0.3 1.1 0.2 1.4 0.2 1.5 0.2 1 0.2 1.5 0.1 1.5 0.1 1.5 0.1 1 0.1 1.5 0.2 1.5 0.2 1 0.1 1.5 0.2 1.5 0 1.5-0.2zM242.2 730.5l1.3-0.5 1-0.3 1-0.3 1.3-0.4 1.2-0.3 1-0.2 1.5-0.3 1-0.3 1.5-0.3 1-0.3 1.1-0.3 1.3-0.5 1.1-0.5 0.9-0.5 0.8-0.5 0.8-0.6 1-0.9 0.6-0.5 0.9-0.7 1-0.8 0.6-0.5 0.9-0.8 0.7-0.7 0.8-0.8 0.7-0.7 0.8-0.8 0.7-0.7 0.8-0.7 1-0.8 0.6-0.5 0.9-0.8 0.7-0.7 0.8-0.9 0.5-0.7 0.6-0.9 0.7-1 0.6-1 0.6-1 0.5-0.9 0.5-0.6 0.7-1 0.7-1 0.6-0.9 0.5-0.9 0.5-1 0.5-1.1 0.5-1.1 0.4-1 0.4-1 0.4-1 0.4-1 0.4-1.1 0.4-1.4 0.3-1 0.3-1.1 0.5-1.1 0.5-0.9 0.5-0.9 0.5-1.1 0.5-1.2 0.4-1.2 0.4-1 0.3-1 0.4-1.5 0.3-1 0.2-1 0.5-1.5 0.2-1 0.3-1 0.5-1 0.5-1.3 0.4-1.2 0.2-1 0.3-1.5 0.2-1 0.4-1.5 0.1-1 0.3-1.5 0.1-1.4 0-0.6-0.2-1.5-0.4-1-0.4-1-0.5-1-0.5-1-0.8-1-0.7-0.6-1.5-0.3-1-0.1-1.5-0.2-1.5-0.1-1.5-0.1-1.5-0.1-1 0-1.5-0.2-1.5-0.2-1-0.2-1.5 0-1.5 0-1 0.1-1.5 0.3-1.1 0.2-1.4 0.4-1 0.3-1 0.4-1 0.4-1.3 0.5-1.2 0-1.5 0-1.5 0.1-1.5 0.1-1.5 0.1-1.5 0.1-1 0.2-1.4 0.4-1.1 0.4-1 0.5-1 0.6-0.8 0.5-1.2 0.3-1.5 0-1.5 0-1.3 0.2-1.2 0.3-1 0.3-1 0.5-1 0.5-1 0.6-1 0.6-1 0.7-0.6 0.5-0.9 0.6-1 0.8-0.7 0.6-1.3 0.4-1 0.3-1 0.4-1 0.5-1 0.5-1 0.5-1 0.7-1 0.7-0.8 0.5-0.7 0.5-1 0.7-1 0.8-0.7 0.5-0.8 0.7-1 0.8-0.6 0.5-0.9 0.8-0.8 0.7-0.7 0.6-1 0.8-0.6 0.6-0.9 0.8-0.7 0.7-0.8 0.9-0.5 0.6-0.7 1-0.4 1-0.4 1.5-0.1 1-0.2 1.5-0.2 1-0.4 1.5-0.2 1-0.4 1.2-0.3 1.3-0.2 1-0.3 1.5-0.1 1.5-0.1 1.5 0 1.5 0.1 1.5 0 1.5 0 1.5 0 1.5 0 1.5-0.1 1.5 0 1.5 0 1.5 0.3 1.5 0.3 1 0.4 1.3 0.5 1.2 0.5 1 0.5 1 0.5 0.9 0.5 0.8 0.6 0.8 0.9 0.6 1 0.6 1 0.6 1 0.4 1 0.4 1 0.4 1.2 0.5 1 0.5 1 0.5 1.1 0.5 1.2 0.5 1 0.2 1 0.3 1.5 0.3 1 0.3 1.5 0.4 1 0.2 1 0.3 1.5 0.4 1 0.3 1.3 0.3 1.2 0.3 1 0.3 1.5 0.3 1.5 0 1.5-0.1 1.2-0.3zM242.1 726.5l1.4-0.3 1.1-0.2 1.4-0.4 1-0.2 1.5-0.4 1-0.3 1-0.4 1-0.4 1-0.5 1.4-0.4 1.1-0.4 1-0.4 1-0.6 1-0.6 0.7-0.5 0.8-0.6 1-0.6 1-0.7 0.9-0.6 0.7-0.5 0.9-0.7 0.9-0.8 0.6-0.6 0.9-0.9 0.6-0.6 1-0.9 0.6-0.5 0.9-0.7 0.9-0.8 0.6-0.7 0.7-0.8 0.8-1 0.5-0.7 0.5-0.8 0.7-1 0.6-1 0.6-1 0.6-0.9 0.5-0.7 0.6-0.9 0.7-1 0.5-1 0.5-1 0.5-1 0.4-1 0.5-1 0.3-1 0.5-1.3 0.4-1.2 0.3-1 0.3-1 0.5-1.3 0.5-0.8 0.5-0.9 0.5-1 0.5-1.1 0.5-1.4 0.3-1 0.2-1 0.4-1.5 0.2-1 0.4-1.5 0.2-1 0.3-1.1 0.5-1 0.5-1.1 0.5-1.2 0.3-1.1 0.3-1 0.3-1.5 0.1-1 0.2-1.5 0.2-1.5 0-1.5-0.2-1.5-0.5-1-0.5-1-0.6-1-0.6-0.8-0.6-0.7-1.4-0.4-1-0.2-1.5-0.2-1.4-0.2-1.1-0.1-1.5-0.1-1.5-0.1-1.5-0.2-1-0.1-1.5-0.1-1.5 0.1-1.3 0.1-1.2 0.2-1.5 0.3-1 0.2-1 0.4-1.1 0.4-1.2 0.5-1.2 0.3-1.5-0.1-1.5 0-1.5 0.1-1.5 0.1-1 0.1-1.5 0.3-1 0.3-1.2 0.4-1 0.5-0.8 0.5-1 0.6-1.5 0.2-1.5 0-1.5 0.2-1 0.1-1.3 0.4-1.2 0.5-1 0.5-0.9 0.5-0.7 0.5-0.9 0.6-1 0.8-0.7 0.6-0.8 0.7-1 0.5-1 0.3-1.3 0.5-1.1 0.5-1 0.5-0.9 0.5-0.7 0.5-1 0.7-1 0.7-0.7 0.6-0.8 0.6-1 0.8-0.8 0.6-0.7 0.5-1 0.8-0.9 0.7-0.6 0.5-1 1-0.5 0.5-1 1-0.5 0.5-0.9 1-0.6 0.7-0.6 0.8-0.5 1-0.4 1.3-0.2 1.2-0.3 1.5-0.2 1-0.3 1.5-0.2 1-0.3 1.1-0.3 1.4-0.2 1-0.3 1.5-0.1 1.5-0.1 1-0.1 1.5-0.1 1.5 0 1.5 0.1 1.5 0.1 1 0.2 1.5 0.1 1.5 0.1 1.5 0.3 1 0.3 1.5 0.2 1 0.3 1.1 0.5 1.4 0.4 1 0.5 1 0.6 1 0.9 0.5 1 0.5 1.1 0.5 1 0.3 1 0.3 1 0.4 1 0.5 1 0.6 1 0.5 1 0.5 1 0.5 1.2 0.4 1.3 0.4 1 0.3 1 0.4 1 0.4 1.3 0.5 1.2 0.4 1 0.3 1.5 0.3 1 0.2 1.5 0.1 1.5-0.1 1.5-0.1zM243.5 724.5l1.5-0.3 1-0.3 1.5-0.4 1-0.2 1-0.4 1.1-0.4 1-0.5 0.9-0.5 1-0.5 1-0.5 1-0.6 1-0.7 0.8-0.7 0.7-0.6 0.8-0.9 0.7-0.8 0.9-0.7 0.7-0.5 0.9-0.6 1-0.8 0.6-0.6 0.9-0.8 0.7-0.7 0.8-0.8 0.8-0.7 0.7-0.7 0.9-0.8 0.6-0.6 0.8-0.9 0.7-0.9 0.5-0.6 0.7-1 0.6-1 0.6-1 0.6-1 0.5-0.6 0.6-0.9 0.8-1 0.6-0.9 0.5-0.8 0.5-0.9 0.5-1.1 0.5-1.2 0.4-1.1 0.4-1 0.3-1 0.3-1.5 0.3-1 0.4-1 0.7-1 0.6-1 0.5-1 0.5-1 0.3-1 0.3-1 0.3-1.5 0.2-1.1 0.2-1.4 0.3-1.5 0.3-1 0.5-1 0.4-1 0.5-1 0.3-1.1 0.3-1.4 0.2-1 0.2-1.5 0.1-1.5-0.1-1.5-0.2-1.1-0.5-1.1-0.5-1-0.5-0.8-0.8-1-0.8-0.5-1.4-0.3-1.1-0.2-1.4-0.2-1.5-0.1-1.5-0.1-1.5 0-1-0.1-1.5-0.1-1.5 0-1.5 0.1-1 0.1-1.5 0.3-1 0.2-1.1 0.4-1.2 0.5-1.2 0.5-1 0-1 0-1.5 0-1.5 0-1 0.1-1.5 0.2-1.1 0.2-1.4 0.5-1 0.4-1 0.6-0.9 0.5-1.1 0.2-1.5 0.1-1.5 0.2-1 0.1-1.3 0.4-1.2 0.4-1 0.5-0.9 0.6-0.8 0.5-0.8 0.6-1 0.9-0.6 0.5-0.9 0.5-1.3 0.5-1.2 0.5-1 0.5-1 0.5-0.8 0.5-0.7 0.5-1 0.7-1 0.8-0.5 0.5-1 0.9-0.8 0.6-0.7 0.5-1 0.8-1 0.7-0.6 0.5-0.9 0.9-0.6 0.6-0.8 1-0.6 0.7-0.6 0.8-0.6 1-0.4 1-0.4 1.3-0.3 1.2-0.3 1-0.3 1.5-0.2 1-0.3 1.5-0.2 1-0.3 1.5-0.1 1-0.2 1.5-0.1 1.5-0.1 1.5-0.1 1.5 0 1 0 1 0.2 1.5 0.2 1.5 0.2 1 0.4 1.5 0.3 1 0.3 1 0.5 1 0.4 1 0.5 1.2 0.5 1 0.6 0.8 0.9 0.6 1 0.7 0.5 0.8 0.5 1.2 0.5 0.9 0.5 0.8 1 0.9 0.9 0.6 0.9 0.5 1 0.5 1.2 0.5 1 0.3 1 0.3 1.1 0.4 1.2 0.5 1.2 0.4 1 0.3 1 0.3 1.5 0.3 1.5 0.1 1.5-0.1 1.5 0 1.5-0.2zM240.6 723l1.4-0.1 1.5-0.1 1.4-0.3 1.1-0.3 1-0.2 1.5-0.5 1-0.3 1-0.5 1-0.5 1-0.6 1-0.4 1-0.6 0.9-0.6 0.6-0.5 1-0.9 0.6-0.6 0.8-1 0.6-0.5 1-0.8 0.7-0.7 0.8-0.9 0.5-0.7 0.6-0.9 0.5-1 0.8-1 0.6-0.7 0.8-0.8 0.7-0.8 0.7-0.7 0.8-0.8 0.6-0.7 0.8-1 0.6-0.8 0.5-0.7 0.7-1 0.6-1 0.7-1 0.5-0.7 0.7-0.8 0.7-1 0.6-0.9 0.5-0.8 0.5-1 0.5-1.2 0.4-1.1 0.3-1 0.3-1.5 0.2-1 0.3-1 0.6-1 0.6-1 0.5-1 0.5-1 0.4-1 0.4-1.3 0.3-1.2 0.2-1.5 0.1-1 0.4-1.5 0.4-1 0.4-1 0.4-1 0.3-1 0.3-1.5 0.2-1.2 0.1-1.3 0-1.5-0.1-1-0.5-1.2-0.5-1.1-0.5-0.8-0.7-0.9-1.3-0.4-1-0.2-1.5-0.2-1.5-0.1-1.5-0.1-1.5 0-1-0.1-1.5 0-1.5 0-1.1 0.1-1.4 0.2-1.3 0.3-1.2 0.4-1 0.4-1 0.4-1.5 0.1-1.5-0.1-1.5 0-1.5 0.1-1.1 0.2-1.4 0.4-1 0.4-1 0.4-1 0.6-1 0.4-1.5 0-1.5 0.2-1 0.2-1.3 0.4-1.2 0.5-1 0.5-0.9 0.5-0.7 0.5-0.9 0.7-0.9 0.8-1 0.5-1.1 0.4-1 0.5-1 0.5-1 0.5-0.9 0.6-0.7 0.5-0.9 0.7-0.9 0.8-0.6 0.6-1 0.9-0.7 0.5-0.8 0.7-1 0.8-0.6 0.5-0.9 0.8-0.7 0.7-0.8 1-0.5 0.6-0.5 1-0.5 1.4-0.2 1-0.3 1.1-0.3 1.4-0.2 1-0.4 1.5-0.2 1-0.2 1.5-0.2 1.5-0.1 1 0 1.5-0.1 1.5-0.1 1.5 0 1.5 0 1.5 0.1 1.5 0.2 1.3 0.4 1.2 0.4 1 0.5 1 0.6 1 0.6 1 0.5 0.9 0.4 1.1 0.1 1 0.3 1.5 0.3 1 0.4 1 0.5 1.1 0.5 1 0.8 0.9 0.8 0.5 0.9 0.5 1 0.5 1.3 0.5 1.2 0.4 1 0.3 1 0.4 1 0.4 1.4 0.5 1.1 0.3 1.5 0.2 1 0 1.5 0zM243.8 721l1.2-0.2 1.1-0.3 1.4-0.4 1-0.3 1-0.4 1-0.4 1-0.6 1-0.5 1-0.6 1-0.7 0.8-0.6 0.7-0.7 0.7-0.8 0.8-0.8 0.8-0.7 0.7-0.6 0.8-0.9 0.7-1 0.5-0.8 0.5-0.9 0.5-0.8 0.7-1 0.6-1 0.4-1 0.4-1 0.5-1 0.9-0.9 0.5-0.6 0.9-1 0.6-0.8 0.5-0.7 0.7-1 0.7-1 0.6-0.9 0.5-0.6 0.8-1 0.7-1 0.5-0.7 0.5-0.9 0.5-1 0.5-1.2 0.3-1.2 0.2-1 0.3-1.5 0.5-1 0.5-1 0.6-1 0.4-1 0.5-1 0.3-1 0.4-1.4 0.2-1.1 0.2-1.5 0.3-1 0.4-1 0.4-1.2 0.4-1.3 0.2-1 0.3-1.5 0.1-1 0-1-0.3-1.5-0.4-1-0.5-1-0.7-1-1.1-0.5-1-0.2-1.5-0.2-1.5-0.1-1.5 0-1.4 0-1.1-0.1-1.5 0-1.4 0.1-1.1 0.2-1.5 0.3-1 0.3-1 0.4-1 0.4-1.5-0.1-1 0-1.5 0-1 0.1-1.5 0.3-1 0.3-1 0.4-1 0.5-1 0.5-1.5 0.1-1.5 0.2-1 0.3-1.2 0.3-1.2 0.5-1 0.5-0.8 0.5-0.8 0.6-1 0.8-1 0.5-1 0.4-1 0.5-1 0.5-1 0.6-0.9 0.6-0.7 0.5-0.9 0.8-0.8 0.7-0.7 0.7-1 0.8-0.6 0.5-0.9 0.8-0.8 0.7-0.7 0.7-0.7 0.8-0.8 0.9-0.5 1-0.4 1.1-0.2 1-0.2 1.5-0.2 1.1-0.3 1.4-0.2 1.1-0.3 1.4-0.2 1.3-0.1 1.2-0.1 1.5 0 1.5 0 1.5 0.1 1.5 0.1 1.5 0.1 1 0.4 1.5 0.4 1 0.5 1 0.6 1 0.2 1-0.1 1.5-0.1 1.1 0 1.4 0 1 0.1 1.5 0.4 1.1 0.5 1.2 0.5 1.1 0.5 0.7 1 0.9 1 0.5 1 0.5 1 0.4 1 0.3 1 0.3 1 0.5 1.2 0.5 1.3 0.4 1 0.2 1.5 0.1 1.5 0 1.5-0.1 1.3-0.1zM245.2 719l1.3-0.3 1-0.3 1.2-0.4 1.1-0.5 0.9-0.5 1-0.5 0.9-0.5 0.9-0.7 1-0.8 0.5-0.6 0.9-0.9 0.6-0.5 1-1 0.5-0.6 0.7-0.9 0.6-1 0.6-1 0.6-0.8 0.5-0.8 0.5-1 0.5-1.3 0.3-1.1 0.2-1 0.5-1.3 0.5-1.2 0.5-0.5 0.9-1 0.6-0.7 0.7-0.8 0.7-1 0.6-0.8 0.5-0.8 0.7-0.9 0.8-1 0.5-0.8 0.5-0.8 0.5-1 0.5-1.2 0.4-1.2 0.2-1 0.4-1.5 0.5-0.9 0.5-0.9 0.5-1 0.5-1.2 0.4-1 0.2-1 0.4-1.5 0.1-1 0.4-1.2 0.5-1.3 0.2-1 0.3-1.2 0.2-1.3 0.2-1.5-0.3-1.5-0.4-1-0.5-1-0.7-0.8-1-0.4-1.5-0.2-1.5-0.1-1.5 0-1.5 0-1 0-1.5 0-1 0.1-1.5 0.3-1 0.2-1 0.4-1.5 0.5-1.5-0.2-1.5 0-1.5 0.2-1 0.2-1 0.3-1 0.5-1 0.6-1.5 0.2-1.5 0.1-1 0.3-1 0.3-1.2 0.5-0.9 0.5-0.9 0.6-1 0.8-1 0.5-1 0.4-1 0.5-1 0.5-1 0.6-0.8 0.6-0.7 0.6-1 0.9-0.5 0.5-1 0.8-0.7 0.7-0.8 0.7-0.8 0.8-0.7 0.8-0.6 0.7-0.5 1-0.4 1.1-0.3 1.4-0.2 1.3-0.2 1.2-0.2 1.5-0.2 1-0.2 1.5-0.2 1.5-0.1 1 0 1.5 0.1 1.5 0.1 1 0.1 1.5 0.3 1.1 0.5 1.4 0.2 1-0.2 1.5-0.1 1-0.1 1.5 0 1.5-0.1 1.5-0.1 1.5 0 1.5 0.3 1.5 0.4 1 0.5 1 0.7 0.9 0.8 0.6 0.9 0.5 1.1 0.5 1.2 0.5 1 0.3 1 0.5 1 0.5 1 0.3 1.5 0.2 1.5 0.1 1.5-0.1 1.5-0.1 1.2-0.2zM246.1 717l1.4-0.4 1-0.3 1-0.5 1-0.6 1-0.5 1-0.7 0.6-0.5 0.9-1 0.5-0.5 1-0.9 0.5-0.6 0.8-1 0.6-1 0.6-0.9 0.5-0.7 0.5-0.9 0.5-1 0.5-1.5 0.2-1 0.4-1 0.4-1 0.5-1.5 0.2-1 0.3-1.5 0.5-0.7 0.8-0.8 0.7-0.7 0.7-0.8 0.8-1 0.5-0.8 0.5-0.7 0.8-1 0.6-1 0.6-1 0.4-1 0.4-1 0.3-1 0.4-1.5 0.5-0.9 0.5-1 0.5-1.1 0.3-1 0.3-1 0.3-1.5 0.2-1 0.4-1.1 0.5-1.4 0.2-1 0.3-1.5 0.1-1-0.1-1-0.5-1.3-0.5-0.9-0.7-0.8-1.3-0.2-1.5-0.2-1.5 0-1.5 0-1.5-0.1-1.5 0.2-1.5 0.3-1 0.3-1 0.3-1.5 0.1-1.5-0.1-1.5 0.2-1 0.2-1.2 0.5-0.9 0.5-1.4 0.3-1.5 0.2-1 0.2-1 0.4-1 0.5-1 0.6-1 0.8-1 0.5-1 0.4-1 0.5-1 0.5-0.8 0.6-0.7 0.5-1 0.9-0.6 0.6-0.9 0.8-0.8 0.7-0.7 0.7-0.7 0.8-0.7 1-0.4 1-0.2 1-0.3 1.5-0.2 1.4-0.2 1.1-0.1 1.5-0.1 1.5-0.1 1-0.1 1.5 0 1.5 0.1 1 0.4 1.5 0.3 1 0.5 1-0.2 1.4-0.6 0.6-0.5 1-0.4 1.5-0.2 1-0.2 1.5-0.1 1.5 0 1.1-0.1 1.4-0.1 1.5 0.1 1.5 0.4 1 0.5 1 0.6 1 0.6 0.5 1 0.6 1 0.5 1.1 0.4 1.2 0.5 1.1 0.5 1.1 0.3 1.5 0.2 1.5 0 1.5-0.1 1.5-0.2zM244.2 715.5l1.3-0.2 1.3-0.3 1.2-0.4 1-0.5 1-0.5 1-0.6 0.6-0.5 0.9-0.9 0.6-0.6 0.9-0.9 0.5-0.6 0.7-1 0.6-1 0.7-1 0.5-1 0.4-1 0.2-1 0.4-1 0.5-1.2 0.4-1.3 0.1-1 0.4-1.5 0.2-1 0.3-1.5 0.1-1.3 0.7-0.7 0.8-0.8 0.7-0.7 0.8-0.9 0.5-0.6 0.7-1 0.7-1 0.6-0.8 0.5-0.9 0.5-1.1 0.4-1.2 0.3-1 0.4-1 0.6-1 0.4-1 0.4-1.2 0.3-1.3 0.2-1.4 0.4-1.1 0.3-1 0.3-1.4 0.2-1.1-0.2-1.4-0.5-1.1-0.5-0.7-1-0.4-1.5-0.2-1.5 0-1.5 0-1.5 0-1.5 0.2-1 0.3-1 0.3-1.2 0-1.3 0-1 0.1-1.3 0.4-1 0.5-1.2 0.4-1.2 0.1-1.3 0.3-1 0.5-1 0.6-0.8 0.6-0.9 0.5-1.3 0.5-0.9 0.5-0.8 0.5-0.8 0.6-1 0.9-0.6 0.5-0.9 0.8-0.7 0.7-0.8 0.9-0.5 0.8-0.4 1.3-0.2 1-0.2 1.5-0.2 1.2-0.1 1.3-0.1 1.5-0.2 1.5 0 1.5 0.3 1.5 0.3 1 0.5 1 0.5 1 0.8 0.6 1 0.6 0.5 0.3-1 0.8-1 0.7-0.6 0.5-0.9 0.8-0.8 0.7-0.7 0.8-0.5 1-0.3 1.2-0.2 1-0.2 1.5-0.1 1.5-0.1 1.5 0 1.5 0.4 1.5 0.5 1 0.5 0.8 1 0.7 0.9 0.5 1.1 0.4 1 0.4 1 0.4 1.5 0.3 1 0 1.5 0zM253.3 693l1.2-0.4 1-0.4 1-0.5 1-0.7 0.7-0.5 0.8-0.7 0.9-0.8 0.6-0.6 0.8-0.9 0.7-1 0.5-0.8 0.5-0.7 0.6-1 0.5-1 0.4-1.3 0.5-1.1 0.5-1 0.4-1.1 0.2-1 0.3-1.5 0.3-1 0.3-1.2 0.1-1.3-0.2-1-0.6-1-1.2-0.5-1.1-0.1-1.5 0-1.5-0.1-1.3 0.2-1.2 0.3-0.6 0.2-1.4-0.1-1 0.1-1.4 0.5-1.1 0.5-1 0.1-1.5 0.4-0.9 0.5-0.7 0.5-0.9 0.5-1.1 0.5-0.9 0.5-1 0.8-0.8 0.7-0.7 0.6-1 0.9-0.5 0.6-0.5 0.9-0.4 1.5-0.2 1-0.3 1.5-0.1 1.5-0.1 1 0 1.5 0.1 1.2 0.5 1.3 0.5 0.9 0.6 0.6 1 0.5 1.2 0.5 1.2 0.4 1 0.4 1 0.2 1.5 0.3 1.5 0.1 1.5-0.1 1.3-0.3zM245.1 713.5l1.4-0.3 1-0.3 1-0.5 1-0.5 1-0.8 0.6-0.6 0.9-0.9 0.6-0.6 0.6-1 0.7-1 0.5-1 0.4-1 0.2-1 0.5-1 0.5-1.5 0.2-1 0.3-1.1 0.3-1.4-0.3-1.5-0.5-0.8-1.2-0.2-1.3-0.1-1.5 0.1-1 0.1-1.5 0.3-1.1 0.1-1.4 0.3-1 0.4-1.2 0.3-1.2 0.5-0.9 0.5-1.1 0.5-0.9 0.5-0.7 0.5-1 0.8-0.8 0.7-0.7 0.7-0.5 1.1-0.3 1.2-0.2 1.2-0.1 1.3-0.1 1.5 0.2 1.5 0.4 1 0.6 1 0.7 0.5 1 0.5 1.3 0.5 1 0.3 1 0.2 1.5 0.1 1.1-0.1zM254.2 688l1.3-0.5 1-0.5 0.7-0.5 0.8-0.7 0.8-0.8 0.7-0.8 0.5-0.7 0.7-1 0.6-1 0.3-1 0.4-1 0.5-1.1 0.3-1.4 0.3-1 0.4-1.5 0-0.8-0.5-1.1-1-0.5-1.5 0-1-0.1-1 0.1-1.5 0.3-1.5 0.1-1 0.3-1 0.4-1.4 0.3-0.9 0.5-0.7 0.5-1.2 0.5-0.8 0.5-1 0.9-0.7 0.6-0.8 0.9-0.4 1.1-0.2 1-0.3 1.5-0.1 1.5 0 1 0.1 1 0.4 1 1 1 1 0.5 1 0.3 1 0.3 1.5 0.2 1.5 0 1.5-0.2zM245.5 711.5l1-0.2 1-0.4 1-0.6 0.9-0.8 0.6-0.5 0.8-1 0.7-1 0.5-1 0.3-1 0.4-1 0.3-1 0.4-1.5 0.2-1-0.3-1-0.8-0.5-1.5-0.1-1.2 0.1-1.3 0.2-1.5 0.3-1 0.3-1 0.3-1 0.4-1 0.5-1 0.6-1 0.8-0.7 0.6-0.6 1-0.2 1-0.2 1.5 0 1.5 0.2 1.1 0.5 1 1 0.6 1 0.3 1.5 0.5 1 0zM254.6 683l1.2-0.5 0.8-0.5 0.9-0.9 0.5-0.7 0.5-0.9 0.5-1.3 0.4-1.2 0.3-1-0.2-1.4-1-0.2-1.5 0-1 0.1-1.5 0.4-1 0.3-1 0.6-1 0.6-0.7 0.6-0.6 1-0.2 1-0.1 1.5 0.2 1 0.9 1 1 0.4 1 0.2 1.5-0.1zM246.9 709l0.8-0.5 0.8-0.9 0.5-0.8 0.5-1.2 0.3-1.1 0.3-1-0.6-0.8-1.5 0-1.5 0.2-1 0.3-1 0.5-1 0.7-0.7 0.6-0.3 1-0.1 1.5 0.3 1 0.8 0.5 1.5 0.4 1.5-0.2z" fill="none" stroke="#0b7dff" stroke-width="0.9"/>
<path d="M122.7 597.3L352.7 596.4L351.5 650L122.7 696Z" fill="none" stroke="#000" stroke-width="3" stroke-linejoin="miter"/>
<path d="M126.4 740.4L356.4 697.8L356.4 782.7L126.4 787.3Z" fill="none" stroke="#000" stroke-width="3" stroke-linejoin="miter"/>
<path d="M134.4 617.6h18.4M143.6 608.5v18.4" stroke="#000" stroke-width="2.6"/>
<path d="M332.4 768.2h11.2" stroke="#000" stroke-width="2.6"/>
<path d="M349.6 637.3C373.8 571.2 407.0 588.8 424.5 641.0" fill="none" stroke="#0b7dff" stroke-width="5.8"/>
<path d="M430.1 614.8L425.3 644.5L401.1 626.4" fill="none" stroke="#0b7dff" stroke-width="5.8" stroke-linejoin="miter" stroke-miterlimit="10"/>
<path d="M348.9 731.7C375.6 800.9 403.5 778.2 424.5 726.0" fill="none" stroke="#0b7dff" stroke-width="5.8"/>
<path d="M430.1 754.2L425.8 725.5L401.1 744" fill="none" stroke="#0b7dff" stroke-width="5.8" stroke-linejoin="miter" stroke-miterlimit="10"/>
<text transform="translate(187.87,920.80) scale(0.9510,1)" font-size="27.5" font-weight="bold" fill="#000">FSC (a.u.)</text>
<text transform="translate(33.10,844.34) rotate(-90) scale(0.9497,1)" font-size="27.5" font-weight="bold" fill="#000">eYFP fluorescence (a.u.)</text>
<rect x="242" y="561.6" width="12.2" height="12.2" fill="#0b7dff"/>
<text transform="translate(261.98,576.60) scale(0.9697,1)" font-size="23.5" fill="#1a1a1a">150 µM IPTG</text>
<rect x="797.70" y="71.00" width="27.40" height="312.90" fill="#b4b4b4"/>
<path d="M540.5 269.5h1.0V314.8h-1.0zM541.5 255.6h1.0V309.6h-1.0zM542.5 219.0h3.0V325.3h-3.0zM545.5 247.6h3.0V335.7h-3.0zM548.5 245.2h3.0V301.4h-3.0zM551.5 259.6h3.0V301.4h-3.0zM554.5 260.4h3.0V301.1h-3.0zM557.5 260.3h2.0V299.9h-2.0zM559.5 259.7h3.0V310.5h-3.0zM562.5 256.3h2.0V293.7h-2.0zM564.5 233.7h3.0V299.6h-3.0zM567.5 249.5h3.0V298.7h-3.0zM570.5 241.3h2.0V310.7h-2.0zM572.5 235.5h3.0V337.9h-3.0zM575.5 254.8h4.0V297.5h-4.0zM579.5 259.1h2.0V297.6h-2.0zM581.5 257.3h1.0V298.1h-1.0zM582.5 243.3h2.0V298.0h-2.0zM584.5 253.1h3.0V304.5h-3.0zM587.5 249.0h3.0V297.8h-3.0zM590.5 242.7h1.0V312.7h-1.0zM591.5 259.3h3.0V309.3h-3.0zM594.5 251.0h3.0V320.0h-3.0zM597.5 224.3h3.0V329.3h-3.0zM600.5 259.2h4.0V304.8h-4.0zM604.5 248.1h3.0V303.4h-3.0zM607.5 235.6h3.0V308.7h-3.0zM610.5 236.4h1.0V296.7h-1.0zM611.5 258.6h1.0V334.0h-1.0zM612.5 221.9h2.0V296.6h-2.0zM614.5 260.2h3.0V298.0h-3.0zM617.5 249.3h3.0V332.9h-3.0zM620.5 253.6h3.0V299.6h-3.0zM623.5 231.1h4.0V297.5h-4.0zM627.5 250.8h2.0V302.1h-2.0zM629.5 210.4h3.0V316.5h-3.0zM632.5 260.1h3.0V305.5h-3.0zM635.5 248.8h1.0V306.7h-1.0zM636.5 266.0h3.0V304.5h-3.0zM639.5 264.6h1.0V297.5h-1.0zM640.5 259.7h3.0V296.8h-3.0zM643.5 220.7h3.0V317.7h-3.0zM646.5 242.1h3.0V325.7h-3.0zM649.5 232.1h3.0V320.6h-3.0zM652.5 257.1h1.0V312.9h-1.0zM653.5 245.1h3.0V322.4h-3.0zM656.5 256.3h3.0V322.1h-3.0zM659.5 241.1h2.0V304.7h-2.0zM661.5 238.1h3.0V305.7h-3.0zM664.5 256.6h2.0V325.7h-2.0zM666.5 255.4h2.0V311.3h-2.0zM668.5 257.1h2.0V309.1h-2.0zM670.5 255.5h3.0V313.4h-3.0zM673.5 244.3h4.0V301.2h-4.0zM677.5 252.8h2.0V314.9h-2.0zM679.5 256.0h3.0V299.4h-3.0zM682.5 256.5h2.0V324.4h-2.0zM684.5 263.6h4.0V314.6h-4.0zM688.5 218.3h2.0V303.9h-2.0zM690.5 252.4h3.0V307.0h-3.0zM693.5 258.0h3.0V300.0h-3.0zM696.5 270.7h1.0V312.5h-1.0zM697.5 239.5h2.0V299.4h-2.0zM699.5 249.0h3.0V298.4h-3.0zM702.5 248.5h1.0V326.1h-1.0zM703.5 236.1h4.0V313.6h-4.0zM707.5 251.7h3.0V341.6h-3.0zM710.5 255.2h4.0V319.5h-4.0zM714.5 258.0h2.0V298.7h-2.0zM716.5 251.1h1.0V325.2h-1.0zM717.5 259.2h2.0V309.9h-2.0zM719.5 254.4h4.0V308.3h-4.0zM723.5 255.1h4.0V303.6h-4.0zM727.5 258.5h4.0V296.0h-4.0zM731.5 228.4h3.0V300.2h-3.0zM734.5 246.8h3.0V296.1h-3.0zM737.5 253.7h3.0V304.6h-3.0zM740.5 256.9h2.0V304.8h-2.0zM742.5 252.9h2.0V305.6h-2.0zM744.5 258.5h1.0V296.2h-1.0zM745.5 246.2h2.0V306.3h-2.0zM747.5 233.0h2.0V307.9h-2.0zM749.5 235.7h1.0V312.1h-1.0zM750.5 226.8h1.0V335.5h-1.0zM751.5 255.4h3.0V314.3h-3.0zM754.5 247.0h3.0V296.2h-3.0zM757.5 245.1h1.0V324.7h-1.0zM758.5 254.6h2.0V305.6h-2.0zM760.5 254.6h1.0V313.6h-1.0zM761.5 236.2h1.0V293.0h-1.0zM762.5 237.8h3.0V302.4h-3.0zM765.5 248.2h2.0V324.2h-2.0zM767.5 216.2h4.0V294.6h-4.0zM771.5 252.9h3.0V297.6h-3.0zM774.5 250.8h3.0V312.6h-3.0zM777.5 244.9h3.0V289.4h-3.0zM780.5 250.7h1.0V299.9h-1.0zM781.5 243.4h3.0V314.0h-3.0zM784.5 245.8h4.0V290.6h-4.0zM788.5 249.9h3.0V339.4h-3.0zM791.5 224.9h3.0V295.0h-3.0zM794.5 239.9h3.0V285.6h-3.0zM797.5 114.7h3.0V298.3h-3.0zM800.5 103.4h1.0V300.6h-1.0zM801.5 101.9h3.0V243.5h-3.0zM804.5 127.3h3.0V251.2h-3.0zM807.5 106.1h1.0V249.5h-1.0zM808.5 121.3h1.0V266.4h-1.0zM809.5 123.8h3.0V268.3h-3.0zM812.5 118.5h3.0V265.6h-3.0zM815.5 115.3h3.0V246.1h-3.0zM818.5 204.5h4.0V266.7h-4.0zM822.5 125.2h3.0V284.9h-3.0zM825.5 209.5h1.0V292.0h-1.0zM826.5 216.9h3.0V291.5h-3.0zM829.5 236.9h2.0V294.9h-2.0zM831.5 229.0h3.0V311.7h-3.0zM834.5 236.8h1.0V284.7h-1.0zM835.5 257.3h3.0V298.5h-3.0zM838.5 248.3h3.0V305.2h-3.0zM841.5 244.3h3.0V306.7h-3.0zM844.5 248.5h4.0V314.1h-4.0zM848.5 226.7h3.0V322.9h-3.0zM851.5 245.3h3.0V304.2h-3.0zM854.5 249.1h3.0V340.2h-3.0zM857.5 258.8h3.0V296.5h-3.0zM860.5 261.1h4.0V297.0h-4.0zM864.5 251.7h3.0V325.2h-3.0zM867.5 248.5h3.0V302.4h-3.0zM870.5 251.5h2.0V300.0h-2.0zM872.5 259.6h3.0V298.8h-3.0zM875.5 256.1h4.0V299.5h-4.0zM879.5 235.8h4.0V306.5h-4.0zM883.5 253.5h3.0V298.1h-3.0zM886.5 245.6h4.0V336.9h-4.0zM890.5 219.7h1.0V321.0h-1.0zM891.5 260.7h1.0V301.3h-1.0zM892.5 258.8h4.0V288.8h-4.0zM896.5 219.9h3.0V323.3h-3.0zM899.5 251.7h3.0V308.9h-3.0zM902.5 252.1h2.0V310.7h-2.0zM904.5 233.7h3.0V297.6h-3.0zM907.5 221.9h4.0V307.7h-4.0zM911.5 259.0h3.0V304.0h-3.0zM914.5 240.5h4.0V298.1h-4.0zM918.5 260.2h4.0V303.2h-4.0zM922.5 240.0h3.0V301.5h-3.0zM925.5 242.0h3.0V328.3h-3.0zM928.5 237.0h3.0V323.2h-3.0zM931.5 244.8h4.0V294.8h-4.0zM935.5 245.5h3.0V295.6h-3.0zM938.5 235.6h3.0V305.7h-3.0zM941.5 252.8h2.0V301.7h-2.0zM943.5 253.8h3.0V299.5h-3.0zM946.5 259.7h4.0V298.3h-4.0zM950.5 256.5h3.0V325.6h-3.0zM953.5 257.7h3.0V314.7h-3.0zM956.5 244.8h3.0V303.4h-3.0zM959.5 225.0h1.0V298.2h-1.0zM960.5 244.0h2.0V312.1h-2.0zM962.5 244.0h4.0V328.5h-4.0zM966.5 252.4h1.0V334.6h-1.0zM967.5 257.0h1.0V328.5h-1.0zM968.5 253.1h2.0V298.7h-2.0zM970.5 239.7h2.0V300.5h-2.0zM972.5 232.8h2.0V311.3h-2.0zM974.5 253.1h4.0V308.8h-4.0zM978.5 261.2h4.0V315.6h-4.0zM982.5 259.3h3.0V298.0h-3.0zM985.5 259.7h4.0V306.9h-4.0zM989.5 261.4h3.0V312.0h-3.0zM992.5 241.5h3.0V310.0h-3.0zM995.5 233.7h3.0V299.4h-3.0zM998.5 248.4h3.0V319.3h-3.0zM1001.5 260.4h4.0V320.8h-4.0zM1005.5 250.1h4.0V314.8h-4.0zM1009.5 261.3h2.0V311.7h-2.0zM1011.5 224.0h1.7V301.9h-1.7zM640.8 211.4h2.5V279.8h-2.5zM687.0 221.1h2.0V279.8h-2.0zM650.2 279.8h1.5V338.7h-1.5zM714.0 279.8h2.0V338.7h-2.0zM716.5 219.7h1.0V279.8h-1.0zM968.9 213.5h2.2V279.8h-2.2zM984.2 219.7h1.5V279.8h-1.5z" fill="#000"/>
<path d="M540.6 314.8V330.0M550.5 245.2V236.3M562.7 256.3V252.7M568.7 249.5V227.7M571.8 241.3V218.3M577.5 254.8V228.4M581.6 298.1V325.0M583.4 243.3V216.4M585.7 253.1V244.6M591.5 242.7V233.5M606.4 248.1V237.2M609.0 308.7V320.0M610.9 236.4V220.2M612.6 221.9V214.9M619.2 249.3V237.9M640.9 259.7V249.3M644.7 220.7V215.1M649.5 232.1V215.2M652.7 312.9V319.8M653.6 322.4V325.1M657.7 256.3V252.1M660.3 304.7V310.8M688.8 218.3V212.6M702.4 298.4V315.8M717.4 251.1V244.2M731.7 300.2V315.0M735.3 246.8V243.9M738.1 253.7V249.8M745.9 306.3V328.6M748.7 233.0V228.1M767.3 324.2V332.2M769.0 216.2V222.5M778.2 289.4V306.8M780.6 250.7V236.6M796.2 285.6V290.5M808.4 249.5V276.4M826.0 209.5V225.8M830.2 294.9V310.4M841.3 305.2V320.9M848.7 226.7V213.3M856.8 249.1V222.2M873.7 259.6V255.2M891.1 321.0V323.1M900.0 308.9V317.0M906.0 297.6V321.5M908.1 307.7V330.8M934.5 294.8V321.7M938.9 235.6V224.4M952.6 325.6V335.3M962.6 328.5V334.1M967.0 334.6V341.7M968.0 328.5V331.3M973.8 311.3V335.0M978.8 315.6V326.5M989.1 259.7V255.5M994.9 241.5V233.0M996.8 233.7V214.7" stroke="#111" stroke-width="0.9" fill="none"/>
<path d="M607.7 235.6V277.9M719.3 259.2V282.0M893.6 258.8V276.1" stroke="#fff" stroke-width="0.9" fill="none"/>
<path d="M541.3 259.1h485.46" stroke="#9c9c9c" stroke-width="3.6" stroke-linecap="round" stroke-dasharray="0 9.33" fill="none"/>
<path d="M541.3 300.5h485.46" stroke="#9c9c9c" stroke-width="3.6" stroke-linecap="round" stroke-dasharray="0 9.33" fill="none"/>
<line x1="540.00" y1="71.10" x2="540.00" y2="385.50" stroke="#000" stroke-width="3.3"/>
<line x1="538.40" y1="383.90" x2="1032.00" y2="383.90" stroke="#000" stroke-width="3.3"/>
<line x1="531.00" y1="72.50" x2="540.00" y2="72.50" stroke="#000" stroke-width="3"/>
<text transform="translate(501.85,80.60) scale(0.9400,1)" font-size="26" font-weight="bold" fill="#000">10</text>
<line x1="531.00" y1="176.15" x2="540.00" y2="176.15" stroke="#000" stroke-width="3"/>
<text transform="translate(515.05,184.25) scale(0.9400,1)" font-size="26" font-weight="bold" fill="#000">5</text>
<line x1="531.00" y1="279.80" x2="540.00" y2="279.80" stroke="#000" stroke-width="3"/>
<text transform="translate(515.54,287.90) scale(0.9400,1)" font-size="26" font-weight="bold" fill="#000">0</text>
<line x1="531.00" y1="383.45" x2="540.00" y2="383.45" stroke="#000" stroke-width="3"/>
<text transform="translate(506.98,391.55) scale(0.9400,1)" font-size="26" font-weight="bold" fill="#000">-5</text>
<line x1="540.00" y1="383.90" x2="540.00" y2="392.70" stroke="#000" stroke-width="3"/>
<text transform="translate(533.28,419.40) scale(0.9400,1)" font-size="26" font-weight="bold" fill="#000">0</text>
<line x1="690.67" y1="383.90" x2="690.67" y2="392.70" stroke="#000" stroke-width="3"/>
<text transform="translate(663.30,419.40) scale(0.9400,1)" font-size="26" font-weight="bold" fill="#000">1000</text>
<line x1="841.34" y1="383.90" x2="841.34" y2="392.70" stroke="#000" stroke-width="3"/>
<text transform="translate(814.33,419.40) scale(0.9400,1)" font-size="26" font-weight="bold" fill="#000">2000</text>
<line x1="992.01" y1="383.90" x2="992.01" y2="392.70" stroke="#000" stroke-width="3"/>
<text transform="translate(965.13,419.40) scale(0.9400,1)" font-size="26" font-weight="bold" fill="#000">3000</text>
<text transform="translate(662.70,450.80) scale(0.9435,1)" font-size="27.5" font-weight="bold" fill="#000"><tspan font-style="italic">C. glutamicum</tspan> (orfs)</text>
<text transform="translate(455.80,331.17) rotate(-90) scale(0.9346,1)" font-size="25.5" font-weight="bold" fill="#000">log2(foldchange) of</text>
<text transform="translate(482.70,361.42) rotate(-90) scale(0.9291,1)" font-size="25.5" font-weight="bold" fill="#000">unsorted cells (trt./untrt.)</text>
<path d="M1192.0 260.0h446.70" stroke="#000" stroke-width="4.0" stroke-linecap="round" stroke-dasharray="0 9.3" fill="none"/>
<path d="M1192.0 301.6h446.70" stroke="#000" stroke-width="4.0" stroke-linecap="round" stroke-dasharray="0 9.3" fill="none"/>
<path d="M1410 288h0m-11-13h0m-59 14h0m135 31h0m7-67h0m11 48h0m23 9h0m-125-25h0m-15-7h0m26-1h0m28 8h0m-39 21h0m49-11h0m-90-3h0m-28 21h0m116-45h0m-12 8h0m-61-1h0m42-25h0m99 20h0m-78 7h0m54-14h0m-114 25h0m29 18h0m23-48h0m4 11h0m36 40h0m-22-24h0m18-8h0m25 22h0m6-8h0m-34 13h0m-2-67h0m51 41h0m0-7h0m-71-11h0m11-8h0m-26 27h0m-11 7h0m67 16h0m-40-24h0m14-7h0m-104-6h0m137-34h0m-70 48h0m-1 30h0m48-31h0m-20 9h0m-5-1h0m80 21h0m-164-32h0m83 3h0m28-1h0m-35-10h0m-1 9h0m-7 21h0m24-15h0m-65 9h0m92-2h0m-70-16h0m-2 5h0m61 10h0m-83 1h0m72 0h0m-61-15h0m172 10h0m-49-37h0m-85 14h0m-6 26h0m48 16h0m-36-23h0m-23 7h0m47-8h0m27 0h0m-27 10h0m-31-28h0m7 2h0m11 15h0m0-4h0m25 1h0m-35 14h0m-35-7h0m173-14h0m-126 13h0m-57-27h0m132 16h0m-48 25h0m-46-25h0m18 25h0m-95-31h0m67 30h0m10-9h0m58-23h0m-83-2h0m30 24h0m29-15h0m6 5h0m-2-18h0m69 21h0m-109 14h0m66-6h0m-37-3h0m11-1h0m-31 3h0m14 15h0m44-22h0m-85 20h0m-70 13h0m75-39h0m-15 1h0m69-3h0m10 17h0m-17 1h0m-51-4h0m56 8h0m-42-15h0m-13-4h0m-18-4h0m11-2h0m14 31h0m5-25h0m32 14h0m33 10h0m-59 15h0m14-5h0m-36-13h0m41 0h0m-20 1h0m49-17h0m-25 28h0m30-23h0m-52 17h0m-47-11h0m45-18h0m59 10h0m-85-9h0m49 1h0m-13-20h0m12 36h0m116 7h0m-83-28h0m24 4h0m-60 2h0m-16 2h0m34-7h0m18-17h0m-39 35h0m-42 14h0m102-17h0m-60-5h0m-32 3h0m83 14h0m-31-28h0m-62 10h0m91-2h0m-49-15h0m-42 29h0m79 0h0m-13-12h0m-60 0h0m43 4h0m14 12h0m-44-44h0m10 27h0m-46-9h0m81 17h0m-12 0h0m21 18h0m-22-31h0m91 9h0m-157 38h0m79-35h0m-16-4h0m18 9h0m8-8h0m-22-13h0m-49 19h0m22 13h0m-59 3h0m15-66h0m37 54h0m10 2h0m-20 8h0m29-54h0m30 14h0m-152 16h0m79 20h0m38 5h0m38-9h0m-80-13h0m68 9h0m-38-12h0m-85 12h0m52 7h0m71-14h0m19-5h0m-29 12h0m-56 10h0m-12-21h0m73-18h0m-25 52h0m0-24h0m49-10h0m-62-8h0m52 29h0m-108 2h0m108 13h0m-61-42h0m72-20h0m-26 53h0m63-61h0m-19 34h0m-92-1h0m84-15h0m-3-23h0" stroke="#000060" stroke-width="7.75" stroke-linecap="round" fill="none"/>
<path d="M1410 288h0m-11-13h0m-59 14h0m135 31h0m7-67h0m11 48h0m23 9h0m-125-25h0m-15-7h0m26-1h0m28 8h0m-39 21h0m49-11h0m-90-3h0m-28 21h0m116-45h0m-12 8h0m-61-1h0m42-25h0m99 20h0m-78 7h0m54-14h0m-114 25h0m29 18h0m23-48h0m4 11h0m36 40h0m-22-24h0m18-8h0m25 22h0m6-8h0m-34 13h0m-2-67h0m51 41h0m0-7h0m-71-11h0m11-8h0m-26 27h0m-11 7h0m67 16h0m-40-24h0m14-7h0m-104-6h0m137-34h0m-70 48h0m-1 30h0m48-31h0m-20 9h0m-5-1h0m80 21h0m-164-32h0m83 3h0m28-1h0m-35-10h0m-1 9h0m-7 21h0m24-15h0m-65 9h0m92-2h0m-70-16h0m-2 5h0m61 10h0m-83 1h0m72 0h0m-61-15h0m172 10h0m-49-37h0m-85 14h0m-6 26h0m48 16h0m-36-23h0m-23 7h0m47-8h0m27 0h0m-27 10h0m-31-28h0m7 2h0m11 15h0m0-4h0m25 1h0m-35 14h0m-35-7h0m173-14h0m-126 13h0m-57-27h0m132 16h0m-48 25h0m-46-25h0m18 25h0m-95-31h0m67 30h0m10-9h0m58-23h0m-83-2h0m30 24h0m29-15h0m6 5h0m-2-18h0m69 21h0m-109 14h0m66-6h0m-37-3h0m11-1h0m-31 3h0m14 15h0m44-22h0m-85 20h0m-70 13h0m75-39h0m-15 1h0m69-3h0m10 17h0m-17 1h0m-51-4h0m56 8h0m-42-15h0m-13-4h0m-18-4h0m11-2h0m14 31h0m5-25h0m32 14h0m33 10h0m-59 15h0m14-5h0m-36-13h0m41 0h0m-20 1h0m49-17h0m-25 28h0m30-23h0m-52 17h0m-47-11h0m45-18h0m59 10h0m-85-9h0m49 1h0m-13-20h0m12 36h0m116 7h0m-83-28h0m24 4h0m-60 2h0m-16 2h0m34-7h0m18-17h0m-39 35h0m-42 14h0m102-17h0m-60-5h0m-32 3h0m83 14h0m-31-28h0m-62 10h0m91-2h0m-49-15h0m-42 29h0m79 0h0m-13-12h0m-60 0h0m43 4h0m14 12h0m-44-44h0m10 27h0m-46-9h0m81 17h0m-12 0h0m21 18h0m-22-31h0m91 9h0m-157 38h0m79-35h0m-16-4h0m18 9h0m8-8h0m-22-13h0m-49 19h0m22 13h0m-59 3h0m15-66h0m37 54h0m10 2h0m-20 8h0m29-54h0m30 14h0m-152 16h0m79 20h0m38 5h0m38-9h0m-80-13h0m68 9h0m-38-12h0m-85 12h0m52 7h0m71-14h0m19-5h0m-29 12h0m-56 10h0m-12-21h0m73-18h0m-25 52h0m0-24h0m49-10h0m-62-8h0m52 29h0m-108 2h0m108 13h0m-61-42h0m72-20h0m-26 53h0m63-61h0m-19 34h0m-92-1h0m84-15h0m-3-23h0" stroke="#0000fa" stroke-width="6.85" stroke-linecap="round" fill="none"/>
<path d="M1484 286h0m-64 15h0m23-14h0m-32-5h0m5 34h0m49-40h0m1 9h0m-113-13h0m88 21h0m32-3h0m-43 4h0m12-28h0m69-5h0m-14 1h0m-116 8h0m31 15h0m71-32h0m-66 11h0m29 30h0m-13 20h0m42-20h0m-47 2h0m23 4h0m-71 0h0m44-1h0m4-27h0m23 24h0m-14-84h0m47 78h0m-14-12h0m-10 18h0m-82-9h0m188 22h0m-69-4h0m-60-24h0m9 26h0m-72-22h0m24-5h0m120-6h0m-91-25h0m-22 28h0m137 6h0m-144 6h0m-17 12h0m8-24h0m16 12h0m6-26h0m-27 2h0m59 14h0m-108-3h0m61 7h0m-54-4h0m78-2h0m-30 28h0m64-21h0m-50-6h0m-50 3h0m12 9h0m75-7h0m-50 13h0m8-31h0m-70 20h0m50-14h0m96 16h0m-93-20h0m38 17h0m104-5h0m-89-9h0m-25 5h0m-21-6h0m40 36h0m-25-38h0m15 17h0m65-13h0m-65 14h0m-7 8h0m-54-10h0m66 22h0m23-34h0m-47 15h0m-27 1h0m75 4h0m-72 29h0m-7-18h0m104-8h0m-65-19h0m29 21h0m-20-12h0m10 5h0m34 11h0m-45-14h0m-52-6h0m102-8h0m-46 26h0m-22-10h0m28-19h0m-20 11h0m-5 37h0m-48-34h0m43 9h0m27-17h0m19 27h0m-5-17h0m-22-6h0m-57-19h0m51 10h0m9 13h0m-20 17h0m20-15h0m1-15h0m-21 25h0m30-34h0m37-9h0m25 48h0m-104-11h0m44-26h0m-94 9h0m84-6h0m-69 27h0m31-1h0m54 8h0m0-19h0m13 12h0m35-15h0m-162-1h0m96-1h0m8-7h0m-50 5h0m45-8h0m19 18h0m-45-10h0m57 14h0m-13-33h0m-10-30h0m42 53h0m-23 25h0m-18-11h0m-101-19h0m90 5h0m49 4h0m-32 10h0m-27-5h0m-52-43h0m72 66h0m-3-30h0m-51 7h0m40 6h0m70-25h0m-63-12h0m-4 39h0m65-20h0m-83 23h0m15-41h0m-1 39h0m29-31h0m-47 4h0m-18 24h0m19-4h0m89-2h0m-63 4h0m39-27h0m14 6h0m-33 3h0m-69 3h0m20 7h0m-25-8h0m29-9h0m73 20h0m-87-19h0m87 3h0m-3 3h0m-13 11h0m-37-23h0m28 31h0m-33-17h0m26 10h0m57 5h0m-24-10h0m13 3h0m44-8h0m-155 28h0m-11-25h0m73 29h0m18-20h0m-18 18h0m-78-4h0m21-40h0m34 28h0m39 9h0m25-19h0m-35-5h0m-10 50h0m28-45h0m4 19h0m-43-19h0m9-6h0m-19 22h0m-58-3h0m94-18h0m18 13h0m-94-35h0m22 18h0m44 5h0m69 14h0m-100 1h0m169-24h0m-63 36h0m-83 5h0m-25-41h0m-21 5h0m101 27h0m-19-16h0m-37-1h0m129-6h0m-124 21h0" stroke="#000060" stroke-width="7.75" stroke-linecap="round" fill="none"/>
<path d="M1484 286h0m-64 15h0m23-14h0m-32-5h0m5 34h0m49-40h0m1 9h0m-113-13h0m88 21h0m32-3h0m-43 4h0m12-28h0m69-5h0m-14 1h0m-116 8h0m31 15h0m71-32h0m-66 11h0m29 30h0m-13 20h0m42-20h0m-47 2h0m23 4h0m-71 0h0m44-1h0m4-27h0m23 24h0m-14-84h0m47 78h0m-14-12h0m-10 18h0m-82-9h0m188 22h0m-69-4h0m-60-24h0m9 26h0m-72-22h0m24-5h0m120-6h0m-91-25h0m-22 28h0m137 6h0m-144 6h0m-17 12h0m8-24h0m16 12h0m6-26h0m-27 2h0m59 14h0m-108-3h0m61 7h0m-54-4h0m78-2h0m-30 28h0m64-21h0m-50-6h0m-50 3h0m12 9h0m75-7h0m-50 13h0m8-31h0m-70 20h0m50-14h0m96 16h0m-93-20h0m38 17h0m104-5h0m-89-9h0m-25 5h0m-21-6h0m40 36h0m-25-38h0m15 17h0m65-13h0m-65 14h0m-7 8h0m-54-10h0m66 22h0m23-34h0m-47 15h0m-27 1h0m75 4h0m-72 29h0m-7-18h0m104-8h0m-65-19h0m29 21h0m-20-12h0m10 5h0m34 11h0m-45-14h0m-52-6h0m102-8h0m-46 26h0m-22-10h0m28-19h0m-20 11h0m-5 37h0m-48-34h0m43 9h0m27-17h0m19 27h0m-5-17h0m-22-6h0m-57-19h0m51 10h0m9 13h0m-20 17h0m20-15h0m1-15h0m-21 25h0m30-34h0m37-9h0m25 48h0m-104-11h0m44-26h0m-94 9h0m84-6h0m-69 27h0m31-1h0m54 8h0m0-19h0m13 12h0m35-15h0m-162-1h0m96-1h0m8-7h0m-50 5h0m45-8h0m19 18h0m-45-10h0m57 14h0m-13-33h0m-10-30h0m42 53h0m-23 25h0m-18-11h0m-101-19h0m90 5h0m49 4h0m-32 10h0m-27-5h0m-52-43h0m72 66h0m-3-30h0m-51 7h0m40 6h0m70-25h0m-63-12h0m-4 39h0m65-20h0m-83 23h0m15-41h0m-1 39h0m29-31h0m-47 4h0m-18 24h0m19-4h0m89-2h0m-63 4h0m39-27h0m14 6h0m-33 3h0m-69 3h0m20 7h0m-25-8h0m29-9h0m73 20h0m-87-19h0m87 3h0m-3 3h0m-13 11h0m-37-23h0m28 31h0m-33-17h0m26 10h0m57 5h0m-24-10h0m13 3h0m44-8h0m-155 28h0m-11-25h0m73 29h0m18-20h0m-18 18h0m-78-4h0m21-40h0m34 28h0m39 9h0m25-19h0m-35-5h0m-10 50h0m28-45h0m4 19h0m-43-19h0m9-6h0m-19 22h0m-58-3h0m94-18h0m18 13h0m-94-35h0m22 18h0m44 5h0m69 14h0m-100 1h0m169-24h0m-63 36h0m-83 5h0m-25-41h0m-21 5h0m101 27h0m-19-16h0m-37-1h0m129-6h0m-124 21h0" stroke="#0000fa" stroke-width="6.85" stroke-linecap="round" fill="none"/>
<path d="M1406 286h0m73-5h0m-51-3h0m-60-4h0m68 23h0m-17-24h0m-23 14h0m-23 6h0m81-15h0m16 18h0m-2-31h0m50 31h0m-74-10h0m7 6h0m-55-13h0m61 11h0m74 5h0m-104-4h0m-17 10h0m-22 4h0m68-35h0m-111 20h0m107-15h0m-18-2h0m28 26h0m-52-20h0m31 4h0m65-7h0m-84-4h0m-24-2h0m-18 14h0m54-8h0m-31-17h0m114 19h0m-15 13h0m-69 5h0m1-10h0m8 12h0m15-31h0m-64 42h0m-66-25h0m106-1h0m45 15h0m-63 12h0m-35-27h0m39-46h0m24 50h0m-8 3h0m-15-5h0m-18-17h0m45-7h0m4 25h0m-70 15h0m44-24h0m50-19h0m-8 32h0m46-12h0m-53 1h0m11 0h0m-29 8h0m-9-6h0m47 0h0m-134 29h0m90-42h0m84 17h0m-42-12h0m18-1h0m13 20h0m-33-6h0m-31-18h0m38 3h0m-22 17h0m63-1h0m-60 8h0m-60-27h0m-22 32h0m84-13h0m-86 0h0m48-18h0m-44 34h0m88-15h0m-49-28h0m-98 19h0m100 3h0m-9 6h0m-77-3h0m110-2h0m-28-6h0m-8-8h0m84 11h0m-9-23h0m-88 10h0m40 34h0m-74-6h0m58-51h0m-20 20h0m69 11h0m-54 11h0m2 1h0m98-5h0m-37 27h0m-94-40h0m58 10h0m26-5h0m-95 42h0m-14-62h0m95 25h0m-51 3h0m-30-22h0m-6 22h0m31 16h0m66 1h0m-81-15h0m25-17h0m-46 10h0m137 25h0m-4-3h0m-81-29h0m37 3h0m-36 6h0m39 10h0m-62-4h0m54-5h0m-22-11h0m-10 13h0m50-10h0m-53 15h0m23-6h0m-1-14h0m-48 15h0m-34-4h0m117 11h0m-19 14h0m-3-29h0m-15 19h0m58-15h0m-81 12h0m72-3h0m-55-23h0m-21 3h0m-28 15h0m8-39h0m48 44h0m-8-7h0m-6-28h0m17 48h0m-40-4h0m60 17h0m-26-26h0m-30-7h0m87 15h0m-46-20h0m-22-18h0m-1 18h0m-28 16h0m28-14h0m-19 2h0m-36-24h0m49 43h0m53-28h0m28 26h0m-142-6h0m56-12h0m-49 3h0m80-2h0m-45-14h0m98 22h0m-53 5h0m-43-12h0m62-8h0m-72-2h0m-9 16h0m-25-6h0m0 1h0m20 22h0m17-93h0m27 54h0m10 37h0m-83 15h0m56-41h0m81-2h0m-57 43h0m-63-25h0m48-16h0m-73 6h0m81-2h0m66-6h0m-44 16h0m-5-1h0m-65-32h0m-26 18h0m93 27h0m26-35h0m-39 18h0m-27 4h0m27-9h0m13 24h0m-37-12h0m96-26h0m-77 15h0m4-15h0m2 20h0m-57-4h0m68-39h0m-52 49h0m60 0h0m-34-11h0m-10 9h0m-60-6h0m-2-14h0m162 13h0m-54 1h0m-72-6h0m35 22h0m14-12h0" stroke="#000060" stroke-width="7.75" stroke-linecap="round" fill="none"/>
<path d="M1406 286h0m73-5h0m-51-3h0m-60-4h0m68 23h0m-17-24h0m-23 14h0m-23 6h0m81-15h0m16 18h0m-2-31h0m50 31h0m-74-10h0m7 6h0m-55-13h0m61 11h0m74 5h0m-104-4h0m-17 10h0m-22 4h0m68-35h0m-111 20h0m107-15h0m-18-2h0m28 26h0m-52-20h0m31 4h0m65-7h0m-84-4h0m-24-2h0m-18 14h0m54-8h0m-31-17h0m114 19h0m-15 13h0m-69 5h0m1-10h0m8 12h0m15-31h0m-64 42h0m-66-25h0m106-1h0m45 15h0m-63 12h0m-35-27h0m39-46h0m24 50h0m-8 3h0m-15-5h0m-18-17h0m45-7h0m4 25h0m-70 15h0m44-24h0m50-19h0m-8 32h0m46-12h0m-53 1h0m11 0h0m-29 8h0m-9-6h0m47 0h0m-134 29h0m90-42h0m84 17h0m-42-12h0m18-1h0m13 20h0m-33-6h0m-31-18h0m38 3h0m-22 17h0m63-1h0m-60 8h0m-60-27h0m-22 32h0m84-13h0m-86 0h0m48-18h0m-44 34h0m88-15h0m-49-28h0m-98 19h0m100 3h0m-9 6h0m-77-3h0m110-2h0m-28-6h0m-8-8h0m84 11h0m-9-23h0m-88 10h0m40 34h0m-74-6h0m58-51h0m-20 20h0m69 11h0m-54 11h0m2 1h0m98-5h0m-37 27h0m-94-40h0m58 10h0m26-5h0m-95 42h0m-14-62h0m95 25h0m-51 3h0m-30-22h0m-6 22h0m31 16h0m66 1h0m-81-15h0m25-17h0m-46 10h0m137 25h0m-4-3h0m-81-29h0m37 3h0m-36 6h0m39 10h0m-62-4h0m54-5h0m-22-11h0m-10 13h0m50-10h0m-53 15h0m23-6h0m-1-14h0m-48 15h0m-34-4h0m117 11h0m-19 14h0m-3-29h0m-15 19h0m58-15h0m-81 12h0m72-3h0m-55-23h0m-21 3h0m-28 15h0m8-39h0m48 44h0m-8-7h0m-6-28h0m17 48h0m-40-4h0m60 17h0m-26-26h0m-30-7h0m87 15h0m-46-20h0m-22-18h0m-1 18h0m-28 16h0m28-14h0m-19 2h0m-36-24h0m49 43h0m53-28h0m28 26h0m-142-6h0m56-12h0m-49 3h0m80-2h0m-45-14h0m98 22h0m-53 5h0m-43-12h0m62-8h0m-72-2h0m-9 16h0m-25-6h0m0 1h0m20 22h0m17-93h0m27 54h0m10 37h0m-83 15h0m56-41h0m81-2h0m-57 43h0m-63-25h0m48-16h0m-73 6h0m81-2h0m66-6h0m-44 16h0m-5-1h0m-65-32h0m-26 18h0m93 27h0m26-35h0m-39 18h0m-27 4h0m27-9h0m13 24h0m-37-12h0m96-26h0m-77 15h0m4-15h0m2 20h0m-57-4h0m68-39h0m-52 49h0m60 0h0m-34-11h0m-10 9h0m-60-6h0m-2-14h0m162 13h0m-54 1h0m-72-6h0m35 22h0m14-12h0" stroke="#0000fa" stroke-width="6.85" stroke-linecap="round" fill="none"/>
<path d="M1390 263h0m55 6h0m-42 21h0m-18-11h0m40-8h0m106 8h0m-130-17h0m99 13h0m-117 11h0m57-7h0m19-6h0m-71 31h0m43-18h0m38 10h0m-70 2h0m24-34h0m-8 15h0m-74-9h0m41 19h0m46-27h0m73 43h0m15-26h0m-95 16h0m55-30h0m-27 36h0m-47-21h0m50-7h0m29 47h0m-60-23h0m22 2h0m1-12h0m-58 6h0m4 13h0m48-32h0m32 28h0m-38-24h0m-5-18h0m-48 32h0m11-38h0m20 18h0m28 28h0m4-40h0m73 49h0m-165-52h0m77 16h0m-18 23h0m11-26h0m-63 17h0m104-4h0m-29-5h0m46 2h0m-99 3h0m58-11h0m-17 18h0m28-2h0m-34-7h0m-69-24h0m48 34h0m57 7h0m-64-36h0m34 28h0m-25 2h0m35-8h0m-7-2h0m-58 18h0m83-22h0m-85 13h0m79-13h0m-66 9h0m56-14h0m29 34h0m8-31h0m-22-7h0m-21 16h0m-22 27h0m11-27h0m14-9h0m-30 3h0m-21-10h0m57 10h0m-24-16h0m72 25h0m-34-1h0m2 2h0m19-17h0m-9 23h0m-35 14h0m-40-49h0m72-31h0m44 61h0m-70 11h0m70-29h0m-94 15h0m-69-1h0m74 7h0m72-36h0m-197 45h0m186-25h0m-75 5h0m51-12h0m24-4h0m-127 46h0m99-14h0m16-5h0m-24-9h0m-25-1h0m-120-38h0m184 31h0m-88-9h0m55-10h0m-38 15h0m58-18h0m-78 8h0m19 21h0m44-4h0m-18 8h0m-101-7h0m95 3h0m23-14h0m28 11h0m17-2h0m-80-5h0m95-11h0m-164-8h0m99 18h0m-106 22h0m56-17h0m14 2h0m17-16h0m20 27h0m27 13h0m14-8h0m-48-2h0m52-43h0m-66 43h0m-60-12h0m53 4h0m57-19h0m-46 41h0m38-13h0m-105-6h0m102-6h0m-79 10h0m37-16h0m-8 41h0m38-39h0m5-9h0m-21-17h0m-46 36h0m-48 5h0m63 2h0m53 2h0m-77-19h0m116 9h0m-26-14h0m-107-2h0m28-18h0m107-8h0m-107 28h0m16 27h0m113-21h0m-110-48h0m62 64h0m-55 0h0m-52-2h0m94-31h0m-16 21h0m-46 0h0m63-1h0m-95 10h0m59 0h0m-13-27h0m-35 23h0m117 0h0m-5 1h0m-82-4h0m7-9h0m-27-8h0m8 15h0m53-25h0m43 28h0m-28 20h0m33-16h0m-152-15h0m107 9h0m-9-6h0m42 11h0m-77-21h0m1-7h0m54 28h0m-18-1h0m-8-78h0m37 23h0m-29 68h0m-56-6h0m87 19h0m-47-44h0m-59-48h0m43 76h0m27-18h0m12-13h0m-31 11h0m-46-5h0m82-4h0m-54 8h0m29 12h0m-38-11h0m-65-36h0m79 29h0m73 28h0m8-35h0m-37 20h0m-26-21h0m-1 29h0m40 7h0" stroke="#000060" stroke-width="7.75" stroke-linecap="round" fill="none"/>
<path d="M1390 263h0m55 6h0m-42 21h0m-18-11h0m40-8h0m106 8h0m-130-17h0m99 13h0m-117 11h0m57-7h0m19-6h0m-71 31h0m43-18h0m38 10h0m-70 2h0m24-34h0m-8 15h0m-74-9h0m41 19h0m46-27h0m73 43h0m15-26h0m-95 16h0m55-30h0m-27 36h0m-47-21h0m50-7h0m29 47h0m-60-23h0m22 2h0m1-12h0m-58 6h0m4 13h0m48-32h0m32 28h0m-38-24h0m-5-18h0m-48 32h0m11-38h0m20 18h0m28 28h0m4-40h0m73 49h0m-165-52h0m77 16h0m-18 23h0m11-26h0m-63 17h0m104-4h0m-29-5h0m46 2h0m-99 3h0m58-11h0m-17 18h0m28-2h0m-34-7h0m-69-24h0m48 34h0m57 7h0m-64-36h0m34 28h0m-25 2h0m35-8h0m-7-2h0m-58 18h0m83-22h0m-85 13h0m79-13h0m-66 9h0m56-14h0m29 34h0m8-31h0m-22-7h0m-21 16h0m-22 27h0m11-27h0m14-9h0m-30 3h0m-21-10h0m57 10h0m-24-16h0m72 25h0m-34-1h0m2 2h0m19-17h0m-9 23h0m-35 14h0m-40-49h0m72-31h0m44 61h0m-70 11h0m70-29h0m-94 15h0m-69-1h0m74 7h0m72-36h0m-197 45h0m186-25h0m-75 5h0m51-12h0m24-4h0m-127 46h0m99-14h0m16-5h0m-24-9h0m-25-1h0m-120-38h0m184 31h0m-88-9h0m55-10h0m-38 15h0m58-18h0m-78 8h0m19 21h0m44-4h0m-18 8h0m-101-7h0m95 3h0m23-14h0m28 11h0m17-2h0m-80-5h0m95-11h0m-164-8h0m99 18h0m-106 22h0m56-17h0m14 2h0m17-16h0m20 27h0m27 13h0m14-8h0m-48-2h0m52-43h0m-66 43h0m-60-12h0m53 4h0m57-19h0m-46 41h0m38-13h0m-105-6h0m102-6h0m-79 10h0m37-16h0m-8 41h0m38-39h0m5-9h0m-21-17h0m-46 36h0m-48 5h0m63 2h0m53 2h0m-77-19h0m116 9h0m-26-14h0m-107-2h0m28-18h0m107-8h0m-107 28h0m16 27h0m113-21h0m-110-48h0m62 64h0m-55 0h0m-52-2h0m94-31h0m-16 21h0m-46 0h0m63-1h0m-95 10h0m59 0h0m-13-27h0m-35 23h0m117 0h0m-5 1h0m-82-4h0m7-9h0m-27-8h0m8 15h0m53-25h0m43 28h0m-28 20h0m33-16h0m-152-15h0m107 9h0m-9-6h0m42 11h0m-77-21h0m1-7h0m54 28h0m-18-1h0m-8-78h0m37 23h0m-29 68h0m-56-6h0m87 19h0m-47-44h0m-59-48h0m43 76h0m27-18h0m12-13h0m-31 11h0m-46-5h0m82-4h0m-54 8h0m29 12h0m-38-11h0m-65-36h0m79 29h0m73 28h0m8-35h0m-37 20h0m-26-21h0m-1 29h0m40 7h0" stroke="#0000fa" stroke-width="6.85" stroke-linecap="round" fill="none"/>
<path d="M1445 314h0m-16-49h0m27 22h0m-63 9h0m35-17h0m10 7h0m-25 0h0m-17-10h0m53-4h0m34 19h0m0-41h0m-187 43h0m77-3h0m39-11h0m33-13h0m-20 32h0m48-18h0m-66 19h0m33-8h0m15-26h0m-116 22h0m154 12h0m-54-17h0m-38-10h0m-27 18h0m54 7h0m-23-20h0m-40 7h0m149 7h0m-120-11h0m36 9h0m-32-19h0m-46 15h0m120 7h0m-65-26h0m6 15h0m-8 2h0m38 9h0m-13 7h0m-36 7h0m11-21h0m81-3h0m-40 7h0m-16 0h0m-1-5h0m29 7h0m-3-15h0m16 11h0m-44-9h0m28-1h0m-43-13h0m37 13h0m-13-7h0m2 6h0m-26 22h0m-30-8h0m-7-5h0m44 4h0m13-8h0m-55-21h0m122 8h0m-56-4h0m-2 27h0m-56-34h0m81 45h0m-80-36h0m46 25h0m7-29h0m-5 16h0m12 10h0m-19-19h0m-65 8h0m30 25h0m32-8h0m12-22h0m78 21h0m-73-8h0m-53 16h0m5-63h0m38 65h0m-87-65h0m23 60h0m46-24h0m20 10h0m33-11h0m-50-15h0m64-20h0m-90 48h0m130-16h0m-107 28h0m6 9h0m19-23h0m9 4h0m12-32h0m-7 29h0m4 23h0m-18-29h0m7 33h0m-60-36h0m50 15h0m69-11h0m-104 22h0m-32-25h0m114 13h0m-7-15h0m-48 16h0m56-35h0m-48 20h0m-67-13h0m184 15h0m-96-13h0m-34 16h0m-46 35h0m89-45h0m-83 27h0m-19-29h0m29 22h0m-49-15h0m79 9h0m71-2h0m-93 5h0m0-33h0m69 9h0m49 12h0m-77 26h0m35-2h0m-56-35h0m-28 24h0m61-5h0m44 41h0m-4-29h0m-90-9h0m54-13h0m19 4h0m-27 23h0m-21-36h0m71 15h0m-87-17h0m32 28h0m-69-5h0m5 9h0m71 1h0m4-6h0m-54 4h0m35-22h0m59 3h0m-125 12h0m97 12h0m38-22h0m-30 14h0m-56-23h0m34-7h0m-78 34h0m33-58h0m-69 54h0m117 15h0m-7-30h0m-37 11h0m25 18h0m43-21h0m-84 8h0m63-23h0m-7 12h0m35 4h0m-106 13h0m81-30h0m-62-13h0m100 11h0m-47 15h0m20 32h0m-93-51h0m16 17h0m-35 5h0m129-18h0m-88 6h0m-20 33h0m94-16h0m-57 12h0m30 7h0m16-50h0m-20 14h0m12-13h0m-96-3h0m-6 25h0m80-2h0m-6-4h0m82 6h0m-107-5h0m59 30h0m-119-22h0m99-8h0m-26 6h0m-39 7h0m82 10h0m26 3h0m-69-9h0m46-9h0m-53-3h0m-11-14h0m24-8h0m-42 9h0m43 19h0m0 48h0m-27-54h0m-13 20h0m35-2h0m29-2h0m64-5h0m-143-25h0m66 14h0m10-4h0m9 8h0m-47 11h0m-16-17h0m62 15h0" stroke="#000060" stroke-width="7.75" stroke-linecap="round" fill="none"/>
<path d="M1445 314h0m-16-49h0m27 22h0m-63 9h0m35-17h0m10 7h0m-25 0h0m-17-10h0m53-4h0m34 19h0m0-41h0m-187 43h0m77-3h0m39-11h0m33-13h0m-20 32h0m48-18h0m-66 19h0m33-8h0m15-26h0m-116 22h0m154 12h0m-54-17h0m-38-10h0m-27 18h0m54 7h0m-23-20h0m-40 7h0m149 7h0m-120-11h0m36 9h0m-32-19h0m-46 15h0m120 7h0m-65-26h0m6 15h0m-8 2h0m38 9h0m-13 7h0m-36 7h0m11-21h0m81-3h0m-40 7h0m-16 0h0m-1-5h0m29 7h0m-3-15h0m16 11h0m-44-9h0m28-1h0m-43-13h0m37 13h0m-13-7h0m2 6h0m-26 22h0m-30-8h0m-7-5h0m44 4h0m13-8h0m-55-21h0m122 8h0m-56-4h0m-2 27h0m-56-34h0m81 45h0m-80-36h0m46 25h0m7-29h0m-5 16h0m12 10h0m-19-19h0m-65 8h0m30 25h0m32-8h0m12-22h0m78 21h0m-73-8h0m-53 16h0m5-63h0m38 65h0m-87-65h0m23 60h0m46-24h0m20 10h0m33-11h0m-50-15h0m64-20h0m-90 48h0m130-16h0m-107 28h0m6 9h0m19-23h0m9 4h0m12-32h0m-7 29h0m4 23h0m-18-29h0m7 33h0m-60-36h0m50 15h0m69-11h0m-104 22h0m-32-25h0m114 13h0m-7-15h0m-48 16h0m56-35h0m-48 20h0m-67-13h0m184 15h0m-96-13h0m-34 16h0m-46 35h0m89-45h0m-83 27h0m-19-29h0m29 22h0m-49-15h0m79 9h0m71-2h0m-93 5h0m0-33h0m69 9h0m49 12h0m-77 26h0m35-2h0m-56-35h0m-28 24h0m61-5h0m44 41h0m-4-29h0m-90-9h0m54-13h0m19 4h0m-27 23h0m-21-36h0m71 15h0m-87-17h0m32 28h0m-69-5h0m5 9h0m71 1h0m4-6h0m-54 4h0m35-22h0m59 3h0m-125 12h0m97 12h0m38-22h0m-30 14h0m-56-23h0m34-7h0m-78 34h0m33-58h0m-69 54h0m117 15h0m-7-30h0m-37 11h0m25 18h0m43-21h0m-84 8h0m63-23h0m-7 12h0m35 4h0m-106 13h0m81-30h0m-62-13h0m100 11h0m-47 15h0m20 32h0m-93-51h0m16 17h0m-35 5h0m129-18h0m-88 6h0m-20 33h0m94-16h0m-57 12h0m30 7h0m16-50h0m-20 14h0m12-13h0m-96-3h0m-6 25h0m80-2h0m-6-4h0m82 6h0m-107-5h0m59 30h0m-119-22h0m99-8h0m-26 6h0m-39 7h0m82 10h0m26 3h0m-69-9h0m46-9h0m-53-3h0m-11-14h0m24-8h0m-42 9h0m43 19h0m0 48h0m-27-54h0m-13 20h0m35-2h0m29-2h0m64-5h0m-143-25h0m66 14h0m10-4h0m9 8h0m-47 11h0m-16-17h0m62 15h0" stroke="#0000fa" stroke-width="6.85" stroke-linecap="round" fill="none"/>
<path d="M1406 291h0m27-19h0m27 16h0m-22-22h0m67 11h0m-84 17h0m13-24h0m-73 5h0m59 0h0m15 2h0m4-16h0m-19 19h0m45-2h0m-7 14h0m27-4h0m-80-24h0m1 3h0m144 23h0m-99-21h0m-173 28h0m193 2h0m-90-16h0m-19 10h0m29 4h0m56 6h0m-92-47h0m58 36h0m-24-32h0m138 46h0m-85-22h0m-2 15h0m-11-6h0m-22 3h0m-2-12h0m75-12h0m-33 34h0m32-21h0m-99 3h0m68-18h0m-36 8h0m-3-7h0m76 27h0m-56-2h0m21-12h0m-93 6h0m15-31h0m129 32h0m-64-14h0m-43-7h0m43-6h0m-88-3h0m34 29h0m32-25h0m-19 23h0m12-8h0m61 24h0m-117-52h0m95 38h0m22 19h0m-56-5h0m22-20h0m-6-18h0m-19 15h0m41 11h0m-20-23h0m-27 30h0m88-10h0m-136-18h0m67 39h0m39-7h0m-72-47h0m-22 18h0m139 19h0m7-18h0m-40-3h0m-38 4h0m-47-1h0m79 1h0m-8 4h0m-15 29h0m-38-20h0m0-15h0m1 10h0m80 4h0m-101-24h0m63 4h0m-21-6h0m55 2h0m-20-9h0m-93 45h0m29-22h0m-41-9h0m94 12h0m-39-31h0m66-2h0m-56 47h0m-5-10h0m29-4h0m59-30h0m-117 2h0m0 30h0m78-47h0m-47 52h0m18-18h0m-61 23h0m12 14h0m29-31h0m23-2h0m-60 28h0m68-1h0m85-9h0m-63-49h0m-20 58h0m-12-24h0m-10-13h0m20 9h0m-5 4h0m-30 25h0m-48 7h0m26-34h0m11 8h0m68-6h0m-54 5h0m-24 0h0m70-24h0m-8 39h0m-82-32h0m-4 8h0m85 16h0m-3-16h0m-14 18h0m-63 7h0m57 12h0m-13-19h0m-77-9h0m28 9h0m118-27h0m47 35h0m-134 26h0m18-39h0m60-45h0m-10 36h0m-17-15h0m36-1h0m-23 30h0m-41-12h0m3 8h0m58 20h0m-84-4h0m-28-23h0m-30 17h0m97 2h0m22 0h0m-82-1h0m23-13h0m11 0h0m67-18h0m-101 22h0m4-10h0m18 1h0m19-34h0m65 28h0m-50 13h0m-55 1h0m-15-18h0m123 30h0m-53-5h0m-17-7h0m-59 15h0m111-61h0m52 54h0m-141-19h0m24 13h0m81-3h0m-26 23h0m-61-20h0m31-2h0m-33-66h0m-7 60h0m-37 23h0m135-37h0m40-20h0m-73 54h0m-45-18h0m4 4h0m-13-5h0m6 27h0m37-28h0m-81-6h0m43 10h0m60-1h0m-70-6h0m22-17h0m7 16h0m64-2h0m-32 15h0m-1 4h0m-10-15h0m9 19h0m29-30h0m-38 6h0m19-3h0m-72 0h0m54 10h0m20-9h0m-92 3h0m44 6h0m82-42h0m-76 70h0m-2-21h0m1-1h0m42-9h0m-31-53h0m14 40h0m-22 19h0" stroke="#000060" stroke-width="7.75" stroke-linecap="round" fill="none"/>
<path d="M1406 291h0m27-19h0m27 16h0m-22-22h0m67 11h0m-84 17h0m13-24h0m-73 5h0m59 0h0m15 2h0m4-16h0m-19 19h0m45-2h0m-7 14h0m27-4h0m-80-24h0m1 3h0m144 23h0m-99-21h0m-173 28h0m193 2h0m-90-16h0m-19 10h0m29 4h0m56 6h0m-92-47h0m58 36h0m-24-32h0m138 46h0m-85-22h0m-2 15h0m-11-6h0m-22 3h0m-2-12h0m75-12h0m-33 34h0m32-21h0m-99 3h0m68-18h0m-36 8h0m-3-7h0m76 27h0m-56-2h0m21-12h0m-93 6h0m15-31h0m129 32h0m-64-14h0m-43-7h0m43-6h0m-88-3h0m34 29h0m32-25h0m-19 23h0m12-8h0m61 24h0m-117-52h0m95 38h0m22 19h0m-56-5h0m22-20h0m-6-18h0m-19 15h0m41 11h0m-20-23h0m-27 30h0m88-10h0m-136-18h0m67 39h0m39-7h0m-72-47h0m-22 18h0m139 19h0m7-18h0m-40-3h0m-38 4h0m-47-1h0m79 1h0m-8 4h0m-15 29h0m-38-20h0m0-15h0m1 10h0m80 4h0m-101-24h0m63 4h0m-21-6h0m55 2h0m-20-9h0m-93 45h0m29-22h0m-41-9h0m94 12h0m-39-31h0m66-2h0m-56 47h0m-5-10h0m29-4h0m59-30h0m-117 2h0m0 30h0m78-47h0m-47 52h0m18-18h0m-61 23h0m12 14h0m29-31h0m23-2h0m-60 28h0m68-1h0m85-9h0m-63-49h0m-20 58h0m-12-24h0m-10-13h0m20 9h0m-5 4h0m-30 25h0m-48 7h0m26-34h0m11 8h0m68-6h0m-54 5h0m-24 0h0m70-24h0m-8 39h0m-82-32h0m-4 8h0m85 16h0m-3-16h0m-14 18h0m-63 7h0m57 12h0m-13-19h0m-77-9h0m28 9h0m118-27h0m47 35h0m-134 26h0m18-39h0m60-45h0m-10 36h0m-17-15h0m36-1h0m-23 30h0m-41-12h0m3 8h0m58 20h0m-84-4h0m-28-23h0m-30 17h0m97 2h0m22 0h0m-82-1h0m23-13h0m11 0h0m67-18h0m-101 22h0m4-10h0m18 1h0m19-34h0m65 28h0m-50 13h0m-55 1h0m-15-18h0m123 30h0m-53-5h0m-17-7h0m-59 15h0m111-61h0m52 54h0m-141-19h0m24 13h0m81-3h0m-26 23h0m-61-20h0m31-2h0m-33-66h0m-7 60h0m-37 23h0m135-37h0m40-20h0m-73 54h0m-45-18h0m4 4h0m-13-5h0m6 27h0m37-28h0m-81-6h0m43 10h0m60-1h0m-70-6h0m22-17h0m7 16h0m64-2h0m-32 15h0m-1 4h0m-10-15h0m9 19h0m29-30h0m-38 6h0m19-3h0m-72 0h0m54 10h0m20-9h0m-92 3h0m44 6h0m82-42h0m-76 70h0m-2-21h0m1-1h0m42-9h0m-31-53h0m14 40h0m-22 19h0" stroke="#0000fa" stroke-width="6.85" stroke-linecap="round" fill="none"/>
<path d="M1401 274h0m-32 17h0m133-1h0m-140-8h0m100-14h0m-24 44h0m43 4h0m-52-27h0m-58-16h0m137 24h0m-78-18h0m3-12h0m14 24h0m-34-12h0m-24 7h0m83 13h0m-11-24h0m-68-3h0m53 16h0m-2-18h0m39-10h0m-17 14h0m-106 10h0m-13 25h0m98-49h0m-15 10h0m-17 29h0m-1-33h0m-27 9h0m13 10h0m26-20h0m33 20h0m32 21h0m-83-23h0m32 2h0m25-15h0m-70 29h0m-2-8h0m99 20h0m-59-9h0m-6-13h0m18-7h0m-59 4h0m39-6h0m68 27h0m-68-8h0m2-5h0m36-15h0m10-15h0m-60 26h0m14-4h0m65 2h0m-78-16h0m30-5h0m9 23h0m-21-3h0m-44 0h0m-21-11h0m29-33h0m39 46h0m-1 4h0m-17-1h0m47-8h0m-46-23h0m-29-2h0m0 4h0m62 35h0m-36-17h0m61 4h0m-31 22h0m-28-33h0m6 29h0m-67-23h0m62 11h0m5-19h0m3 4h0m-4 20h0m9-3h0m23-18h0m18 0h0m22-15h0m-65 31h0m48-24h0m-55 23h0m52-23h0m-25 4h0m0 9h0m-48 30h0m37-28h0m-23-8h0m9 8h0m0-15h0m-30 4h0m19 2h0m-19-33h0m62 44h0m-106-22h0m110 25h0m-120-9h0m69-20h0m-21 29h0m66-8h0m-11-16h0m-24 21h0m35-18h0m-9-4h0m-124-19h0m178 44h0m-100 0h0m16-14h0m-21 23h0m42-27h0m-75 32h0m44-14h0m81-16h0m-67 23h0m12 12h0m32-23h0m-25-2h0m7-21h0m-29 21h0m62 12h0m-33 4h0m-42-12h0m76-14h0m3 16h0m-65-15h0m44-4h0m-84 10h0m102-13h0m-15-14h0m-10 46h0m-52-28h0m44 7h0m-122 10h0m184 34h0m-92-43h0m6-2h0m88 34h0m-11-33h0m-94-9h0m17 6h0m34-19h0m-92 56h0m32-57h0m3 24h0m-4 15h0m-9-22h0m14-21h0m-19 29h0m11 6h0m81 16h0m-29-19h0m-38-5h0m-50-1h0m76 19h0m-7-15h0m-6-9h0m-6 32h0m23-20h0m92-41h0m-138 28h0m48 36h0m14 9h0m-8-41h0m-25 25h0m43-19h0m-14 19h0m-54-10h0m71-31h0m49 13h0m-151 7h0m22 35h0m41-21h0m-32-18h0m2-24h0m-51 38h0m128-6h0m-63-17h0m76 19h0m-72 20h0m-24-2h0m178-1h0m-144-3h0m27-9h0m-28 16h0m-18-38h0m27-14h0m-38 15h0m-11 18h0m57-63h0m-6 44h0m0 18h0m-70-23h0m-15 17h0m36 20h0m70 17h0m15-41h0m14 9h0m-113-21h0m108 31h0m-158-7h0m88-7h0m63 0h0m-16 11h0m-70-18h0m66 5h0m1 40h0m-20-36h0m7-6h0m-21 18h0m62 0h0m-5-35h0m-68 43h0m-11-20h0" stroke="#000060" stroke-width="7.75" stroke-linecap="round" fill="none"/>
<path d="M1401 274h0m-32 17h0m133-1h0m-140-8h0m100-14h0m-24 44h0m43 4h0m-52-27h0m-58-16h0m137 24h0m-78-18h0m3-12h0m14 24h0m-34-12h0m-24 7h0m83 13h0m-11-24h0m-68-3h0m53 16h0m-2-18h0m39-10h0m-17 14h0m-106 10h0m-13 25h0m98-49h0m-15 10h0m-17 29h0m-1-33h0m-27 9h0m13 10h0m26-20h0m33 20h0m32 21h0m-83-23h0m32 2h0m25-15h0m-70 29h0m-2-8h0m99 20h0m-59-9h0m-6-13h0m18-7h0m-59 4h0m39-6h0m68 27h0m-68-8h0m2-5h0m36-15h0m10-15h0m-60 26h0m14-4h0m65 2h0m-78-16h0m30-5h0m9 23h0m-21-3h0m-44 0h0m-21-11h0m29-33h0m39 46h0m-1 4h0m-17-1h0m47-8h0m-46-23h0m-29-2h0m0 4h0m62 35h0m-36-17h0m61 4h0m-31 22h0m-28-33h0m6 29h0m-67-23h0m62 11h0m5-19h0m3 4h0m-4 20h0m9-3h0m23-18h0m18 0h0m22-15h0m-65 31h0m48-24h0m-55 23h0m52-23h0m-25 4h0m0 9h0m-48 30h0m37-28h0m-23-8h0m9 8h0m0-15h0m-30 4h0m19 2h0m-19-33h0m62 44h0m-106-22h0m110 25h0m-120-9h0m69-20h0m-21 29h0m66-8h0m-11-16h0m-24 21h0m35-18h0m-9-4h0m-124-19h0m178 44h0m-100 0h0m16-14h0m-21 23h0m42-27h0m-75 32h0m44-14h0m81-16h0m-67 23h0m12 12h0m32-23h0m-25-2h0m7-21h0m-29 21h0m62 12h0m-33 4h0m-42-12h0m76-14h0m3 16h0m-65-15h0m44-4h0m-84 10h0m102-13h0m-15-14h0m-10 46h0m-52-28h0m44 7h0m-122 10h0m184 34h0m-92-43h0m6-2h0m88 34h0m-11-33h0m-94-9h0m17 6h0m34-19h0m-92 56h0m32-57h0m3 24h0m-4 15h0m-9-22h0m14-21h0m-19 29h0m11 6h0m81 16h0m-29-19h0m-38-5h0m-50-1h0m76 19h0m-7-15h0m-6-9h0m-6 32h0m23-20h0m92-41h0m-138 28h0m48 36h0m14 9h0m-8-41h0m-25 25h0m43-19h0m-14 19h0m-54-10h0m71-31h0m49 13h0m-151 7h0m22 35h0m41-21h0m-32-18h0m2-24h0m-51 38h0m128-6h0m-63-17h0m76 19h0m-72 20h0m-24-2h0m178-1h0m-144-3h0m27-9h0m-28 16h0m-18-38h0m27-14h0m-38 15h0m-11 18h0m57-63h0m-6 44h0m0 18h0m-70-23h0m-15 17h0m36 20h0m70 17h0m15-41h0m14 9h0m-113-21h0m108 31h0m-158-7h0m88-7h0m63 0h0m-16 11h0m-70-18h0m66 5h0m1 40h0m-20-36h0m7-6h0m-21 18h0m62 0h0m-5-35h0m-68 43h0m-11-20h0" stroke="#0000fa" stroke-width="6.85" stroke-linecap="round" fill="none"/>
<path d="M1342 265h0m28 22h0m48-7h0m37-8h0m48 4h0m-55 23h0m-36-21h0m19 1h0m-28 20h0m106-48h0m-88 46h0m23 13h0m18-44h0m-95 26h0m-2-10h0m16-6h0m16 27h0m46-11h0m-13-38h0m16 35h0m-100-48h0m144 49h0m-132 3h0m92-17h0m-77 16h0m36-25h0m-78 5h0m127-7h0m39 23h0m-59 25h0m-1-25h0m11-6h0m-44-12h0m46 7h0m25 18h0m-73 1h0m65-2h0m-58 20h0m27-38h0m-40 3h0m80-57h0m-40 57h0m-16 19h0m-33-38h0m-13-19h0m88 34h0m-35 7h0m-42-7h0m70 19h0m-3-32h0m20 15h0m-13-43h0m-4 24h0m-66 35h0m78-10h0m-33-10h0m-11 14h0m103 12h0m-114-11h0m82-8h0m3-16h0m-81 25h0m-14 3h0m14-29h0m81 12h0m32 20h0m-25-19h0m-114 16h0m-10 6h0m126-28h0m-107 4h0m77-4h0m-32 13h0m26-25h0m41 33h0m-121-2h0m133 15h0m-24-58h0m-76 20h0m-56 18h0m116 12h0m-64-24h0m73 22h0m-51-35h0m-71 16h0m68 24h0m64-20h0m-40-14h0m-118 4h0m64 18h0m-48-7h0m101-21h0m-44 40h0m20-23h0m-22 0h0m43 23h0m-80-27h0m39 8h0m-71 15h0m127-35h0m-94 19h0m74 26h0m-37-25h0m32-2h0m-63-30h0m20 38h0m65-2h0m-66-11h0m98 3h0m-89-2h0m89-9h0m-98 25h0m58-2h0m-39-17h0m-128 19h0m165 6h0m-78 22h0m74-35h0m-16-5h0m-68 8h0m-11-4h0m99-11h0m-6 9h0m-14-12h0m13-11h0m-7 25h0m25 13h0m-41-10h0m-25-25h0m9 27h0m-15-2h0m17-16h0m-19 11h0m6 17h0m-34-44h0m65 5h0m-31 39h0m-15-5h0m142-27h0m-91 2h0m-38 20h0m6 7h0m-47-12h0m92 26h0m4-35h0m-10-19h0m-31 19h0m-66 24h0m116-8h0m-6-4h0m18 3h0m-2-15h0m-40 28h0m-13-33h0m-25-8h0m-24 21h0m117 10h0m-89-15h0m-15 24h0m35-16h0m-26 7h0m39-19h0m21-1h0m-84 32h0m-12-18h0m113-10h0m-18 11h0m-16 10h0m-20-17h0m-66 4h0m125-5h0m-69-1h0m-90 5h0m89 3h0m-30-4h0m86 15h0m-38-45h0m-34 48h0m-35-45h0m97 17h0m-33 5h0m-121 14h0m149-2h0m-41-16h0m-70 0h0m178 11h0m-82 23h0m-18-64h0m55 53h0m-51-27h0m105 36h0m-69-22h0m-41 20h0m52-12h0m-29-12h0m-37 10h0m43 1h0m-41-25h0m72 12h0m-69 16h0m-36-13h0m80 6h0m-17 9h0m-44-15h0m-82-4h0m70 15h0m22-8h0m25-5h0m12 3h0m-18 0h0m11 13h0m10-7h0m-73 7h0m42 0h0m-10-13h0" stroke="#000060" stroke-width="7.75" stroke-linecap="round" fill="none"/>
<path d="M1342 265h0m28 22h0m48-7h0m37-8h0m48 4h0m-55 23h0m-36-21h0m19 1h0m-28 20h0m106-48h0m-88 46h0m23 13h0m18-44h0m-95 26h0m-2-10h0m16-6h0m16 27h0m46-11h0m-13-38h0m16 35h0m-100-48h0m144 49h0m-132 3h0m92-17h0m-77 16h0m36-25h0m-78 5h0m127-7h0m39 23h0m-59 25h0m-1-25h0m11-6h0m-44-12h0m46 7h0m25 18h0m-73 1h0m65-2h0m-58 20h0m27-38h0m-40 3h0m80-57h0m-40 57h0m-16 19h0m-33-38h0m-13-19h0m88 34h0m-35 7h0m-42-7h0m70 19h0m-3-32h0m20 15h0m-13-43h0m-4 24h0m-66 35h0m78-10h0m-33-10h0m-11 14h0m103 12h0m-114-11h0m82-8h0m3-16h0m-81 25h0m-14 3h0m14-29h0m81 12h0m32 20h0m-25-19h0m-114 16h0m-10 6h0m126-28h0m-107 4h0m77-4h0m-32 13h0m26-25h0m41 33h0m-121-2h0m133 15h0m-24-58h0m-76 20h0m-56 18h0m116 12h0m-64-24h0m73 22h0m-51-35h0m-71 16h0m68 24h0m64-20h0m-40-14h0m-118 4h0m64 18h0m-48-7h0m101-21h0m-44 40h0m20-23h0m-22 0h0m43 23h0m-80-27h0m39 8h0m-71 15h0m127-35h0m-94 19h0m74 26h0m-37-25h0m32-2h0m-63-30h0m20 38h0m65-2h0m-66-11h0m98 3h0m-89-2h0m89-9h0m-98 25h0m58-2h0m-39-17h0m-128 19h0m165 6h0m-78 22h0m74-35h0m-16-5h0m-68 8h0m-11-4h0m99-11h0m-6 9h0m-14-12h0m13-11h0m-7 25h0m25 13h0m-41-10h0m-25-25h0m9 27h0m-15-2h0m17-16h0m-19 11h0m6 17h0m-34-44h0m65 5h0m-31 39h0m-15-5h0m142-27h0m-91 2h0m-38 20h0m6 7h0m-47-12h0m92 26h0m4-35h0m-10-19h0m-31 19h0m-66 24h0m116-8h0m-6-4h0m18 3h0m-2-15h0m-40 28h0m-13-33h0m-25-8h0m-24 21h0m117 10h0m-89-15h0m-15 24h0m35-16h0m-26 7h0m39-19h0m21-1h0m-84 32h0m-12-18h0m113-10h0m-18 11h0m-16 10h0m-20-17h0m-66 4h0m125-5h0m-69-1h0m-90 5h0m89 3h0m-30-4h0m86 15h0m-38-45h0m-34 48h0m-35-45h0m97 17h0m-33 5h0m-121 14h0m149-2h0m-41-16h0m-70 0h0m178 11h0m-82 23h0m-18-64h0m55 53h0m-51-27h0m105 36h0m-69-22h0m-41 20h0m52-12h0m-29-12h0m-37 10h0m43 1h0m-41-25h0m72 12h0m-69 16h0m-36-13h0m80 6h0m-17 9h0m-44-15h0m-82-4h0m70 15h0m22-8h0m25-5h0m12 3h0m-18 0h0m11 13h0m10-7h0m-73 7h0m42 0h0m-10-13h0" stroke="#0000fa" stroke-width="6.85" stroke-linecap="round" fill="none"/>
<path d="M1416 283h0m-45 25h0m89-17h0m-96 15h0m38-53h0m59 38h0m-73-13h0m84 7h0m-66-7h0m96 5h0m-120-13h0m72 30h0m-66-54h0m28 38h0m38-9h0m17-1h0m-76 12h0m51-42h0m-6 43h0m-22-10h0m33-8h0m-38 17h0m84 0h0m1-14h0m20 5h0m-40-4h0m14 3h0m-50 26h0m-50-9h0m15-21h0m63 8h0m-38 17h0m29-39h0m-20 32h0m51-5h0m-61 7h0m51 8h0m-22-6h0m-23 1h0m-69-29h0m87 22h0m-53-9h0m-8 30h0m109-24h0m-158 7h0m47 10h0m73-56h0m-50 47h0m64-1h0m-28-18h0m-173 4h0m205-31h0m-81 30h0m51 22h0m-6-21h0m-6 3h0m86 1h0m-66 8h0m56-14h0m-42-1h0m-6 33h0m35-28h0m-51 14h0m-18-2h0m-4-2h0m22 1h0m15-9h0m-121 21h0m55-38h0m26-7h0m-43 5h0m18 8h0m45 21h0m-54 11h0m124-23h0m-159-22h0m107 45h0m-115-18h0m53-20h0m69-7h0m-14 50h0m-20-30h0m-15 0h0m-28 11h0m20-22h0m55 13h0m-51 1h0m-18 11h0m-16-18h0m14-7h0m-46 21h0m81-7h0m45 20h0m26-17h0m-109-17h0m45 6h0m26 9h0m-90-1h0m37-5h0m72 3h0m-76 6h0m-44 7h0m87-53h0m26 41h0m-10 15h0m-86-12h0m58-4h0m9 11h0m23 16h0m-51-13h0m50-11h0m-123-36h0m151 38h0m-68 20h0m52-13h0m10-9h0m-31 10h0m-41-29h0m2 11h0m27 16h0m29 7h0m-88-19h0m-30 33h0m130-24h0m-48 21h0m-45-11h0m-35 13h0m34-40h0m29 0h0m51 28h0m-19-18h0m-28 7h0m-43 26h0m50-34h0m-63-15h0m5 36h0m68-6h0m-54-6h0m58-25h0m-85-24h0m22 44h0m-11 4h0m148 0h0m-56 5h0m-67-50h0m32 44h0m-28-8h0m43 12h0m-23-10h0m-67-7h0m41 13h0m7-4h0m49-25h0m-77 14h0m38 22h0m-35-7h0m57-38h0m21 42h0m-11-15h0m15-11h0m28 20h0m-53 0h0m-89-20h0m128 13h0m-74 9h0m-44 19h0m69-3h0m55-51h0m-10 22h0m-111-18h0m94 45h0m-13-12h0m54-6h0m-40-9h0m20 6h0m44 14h0m-119-18h0m77 2h0m-49 20h0m52-7h0m-192-12h0m211 0h0m-109 17h0m86-8h0m-6-2h0m-67 25h0m46-10h0m-81-53h0m82-2h0m-20 39h0m-158 4h0m195-15h0m-2 16h0m-97-14h0m9-9h0m-5 19h0m68-42h0m-12 37h0m14 9h0m-65-12h0m36 2h0m81-1h0m-84 31h0m-8-28h0m-7 14h0m-18-20h0m-53-4h0m61-9h0m47 54h0m-67-41h0m1 2h0m-38-16h0m67 38h0m90-30h0m-83 9h0" stroke="#000060" stroke-width="7.75" stroke-linecap="round" fill="none"/>
<path d="M1416 283h0m-45 25h0m89-17h0m-96 15h0m38-53h0m59 38h0m-73-13h0m84 7h0m-66-7h0m96 5h0m-120-13h0m72 30h0m-66-54h0m28 38h0m38-9h0m17-1h0m-76 12h0m51-42h0m-6 43h0m-22-10h0m33-8h0m-38 17h0m84 0h0m1-14h0m20 5h0m-40-4h0m14 3h0m-50 26h0m-50-9h0m15-21h0m63 8h0m-38 17h0m29-39h0m-20 32h0m51-5h0m-61 7h0m51 8h0m-22-6h0m-23 1h0m-69-29h0m87 22h0m-53-9h0m-8 30h0m109-24h0m-158 7h0m47 10h0m73-56h0m-50 47h0m64-1h0m-28-18h0m-173 4h0m205-31h0m-81 30h0m51 22h0m-6-21h0m-6 3h0m86 1h0m-66 8h0m56-14h0m-42-1h0m-6 33h0m35-28h0m-51 14h0m-18-2h0m-4-2h0m22 1h0m15-9h0m-121 21h0m55-38h0m26-7h0m-43 5h0m18 8h0m45 21h0m-54 11h0m124-23h0m-159-22h0m107 45h0m-115-18h0m53-20h0m69-7h0m-14 50h0m-20-30h0m-15 0h0m-28 11h0m20-22h0m55 13h0m-51 1h0m-18 11h0m-16-18h0m14-7h0m-46 21h0m81-7h0m45 20h0m26-17h0m-109-17h0m45 6h0m26 9h0m-90-1h0m37-5h0m72 3h0m-76 6h0m-44 7h0m87-53h0m26 41h0m-10 15h0m-86-12h0m58-4h0m9 11h0m23 16h0m-51-13h0m50-11h0m-123-36h0m151 38h0m-68 20h0m52-13h0m10-9h0m-31 10h0m-41-29h0m2 11h0m27 16h0m29 7h0m-88-19h0m-30 33h0m130-24h0m-48 21h0m-45-11h0m-35 13h0m34-40h0m29 0h0m51 28h0m-19-18h0m-28 7h0m-43 26h0m50-34h0m-63-15h0m5 36h0m68-6h0m-54-6h0m58-25h0m-85-24h0m22 44h0m-11 4h0m148 0h0m-56 5h0m-67-50h0m32 44h0m-28-8h0m43 12h0m-23-10h0m-67-7h0m41 13h0m7-4h0m49-25h0m-77 14h0m38 22h0m-35-7h0m57-38h0m21 42h0m-11-15h0m15-11h0m28 20h0m-53 0h0m-89-20h0m128 13h0m-74 9h0m-44 19h0m69-3h0m55-51h0m-10 22h0m-111-18h0m94 45h0m-13-12h0m54-6h0m-40-9h0m20 6h0m44 14h0m-119-18h0m77 2h0m-49 20h0m52-7h0m-192-12h0m211 0h0m-109 17h0m86-8h0m-6-2h0m-67 25h0m46-10h0m-81-53h0m82-2h0m-20 39h0m-158 4h0m195-15h0m-2 16h0m-97-14h0m9-9h0m-5 19h0m68-42h0m-12 37h0m14 9h0m-65-12h0m36 2h0m81-1h0m-84 31h0m-8-28h0m-7 14h0m-18-20h0m-53-4h0m61-9h0m47 54h0m-67-41h0m1 2h0m-38-16h0m67 38h0m90-30h0m-83 9h0" stroke="#0000fa" stroke-width="6.85" stroke-linecap="round" fill="none"/>
<path d="M1478 285h0m-94 21h0m97-32h0m-15 0h0m-66-18h0m-35 17h0m31 7h0m-24-18h0m98 25h0m-53-3h0m-23-16h0m33 29h0m10-5h0m-54-16h0m4 21h0m-23-27h0m53-5h0m16 19h0m-21-22h0m-32 22h0m-12 1h0m55-6h0m26 17h0m-42-8h0m16-3h0m-59 3h0m111 5h0m-96-6h0m144-8h0m-117 2h0m136-26h0m-19 20h0m-111 10h0m-99 14h0m128 2h0m-21-17h0m69-14h0m38-3h0m-81-3h0m-7 24h0m-14-17h0m85 0h0m-46 7h0m-15 12h0m15-23h0m22 26h0m-5 17h0m-113-37h0m-22-10h0m123 27h0m-22-8h0m-93 11h0m92-12h0m-63-7h0m86-3h0m2 6h0m-28-16h0m103 52h0m-128-18h0m13-3h0m-8 1h0m55 13h0m-2-54h0m-70 39h0m7-39h0m26 20h0m-58 46h0m10-39h0m70-2h0m-21-8h0m35 7h0m-85 1h0m-12 21h0m61-16h0m-56-1h0m39-8h0m10 1h0m13-20h0m-102 42h0m-7 10h0m68-67h0m105 37h0m-85-4h0m55 12h0m-55-2h0m5-19h0m12-4h0m-106 43h0m59-45h0m84 45h0m-46-8h0m-7-27h0m-7 12h0m-7 2h0m-69 4h0m64 14h0m80 1h0m-37-33h0m28 22h0m-58-7h0m-71 4h0m109 15h0m17-13h0m-92-3h0m30-17h0m77-3h0m66 31h0m-163 0h0m86-43h0m-70 49h0m46-16h0m-68-8h0m73-7h0m-47 9h0m79-9h0m-65 35h0m-3-15h0m47-1h0m-48-15h0m67 30h0m-89-18h0m-28 18h0m-43-5h0m136-33h0m-125 15h0m51-8h0m-30 18h0m30 3h0m-29-2h0m70-21h0m-99 27h0m40-21h0m21 20h0m32-2h0m3-32h0m38 13h0m4 2h0m-53 19h0m17-15h0m-57-25h0m10 30h0m90-10h0m-68 15h0m117-26h0m-82 1h0m-77-24h0m27 61h0m33-16h0m-57 17h0m-55-57h0m86 49h0m71-26h0m-24 8h0m13 8h0m-12-15h0m-3-21h0m33 37h0m-85-24h0m12 13h0m-34 16h0m-2-5h0m71-15h0m53-2h0m-69 0h0m-33 7h0m61 18h0m13-29h0m-24 34h0m-27-28h0m25-2h0m-32-15h0m-56 18h0m63 22h0m-10-15h0m29-8h0m31-3h0m-2 22h0m-27-31h0m-38 25h0m35-15h0m20-7h0m-12 6h0m10 12h0m28-10h0m-5 12h0m-28 2h0m-3-10h0m-18 5h0m32-19h0m-77 21h0m46 17h0m12-35h0m58 20h0m-133-15h0m93 39h0m22-22h0m-52-22h0m-87 26h0m87-3h0m17-16h0m-67 21h0m6-23h0m78 7h0m16 1h0m-92 16h0m-4-21h0m108 5h0m-125 2h0m88 3h0m-16 0h0m50-16h0m-113 12h0m56 2h0m41-18h0m-2 7h0" stroke="#000060" stroke-width="7.75" stroke-linecap="round" fill="none"/>
<path d="M1478 285h0m-94 21h0m97-32h0m-15 0h0m-66-18h0m-35 17h0m31 7h0m-24-18h0m98 25h0m-53-3h0m-23-16h0m33 29h0m10-5h0m-54-16h0m4 21h0m-23-27h0m53-5h0m16 19h0m-21-22h0m-32 22h0m-12 1h0m55-6h0m26 17h0m-42-8h0m16-3h0m-59 3h0m111 5h0m-96-6h0m144-8h0m-117 2h0m136-26h0m-19 20h0m-111 10h0m-99 14h0m128 2h0m-21-17h0m69-14h0m38-3h0m-81-3h0m-7 24h0m-14-17h0m85 0h0m-46 7h0m-15 12h0m15-23h0m22 26h0m-5 17h0m-113-37h0m-22-10h0m123 27h0m-22-8h0m-93 11h0m92-12h0m-63-7h0m86-3h0m2 6h0m-28-16h0m103 52h0m-128-18h0m13-3h0m-8 1h0m55 13h0m-2-54h0m-70 39h0m7-39h0m26 20h0m-58 46h0m10-39h0m70-2h0m-21-8h0m35 7h0m-85 1h0m-12 21h0m61-16h0m-56-1h0m39-8h0m10 1h0m13-20h0m-102 42h0m-7 10h0m68-67h0m105 37h0m-85-4h0m55 12h0m-55-2h0m5-19h0m12-4h0m-106 43h0m59-45h0m84 45h0m-46-8h0m-7-27h0m-7 12h0m-7 2h0m-69 4h0m64 14h0m80 1h0m-37-33h0m28 22h0m-58-7h0m-71 4h0m109 15h0m17-13h0m-92-3h0m30-17h0m77-3h0m66 31h0m-163 0h0m86-43h0m-70 49h0m46-16h0m-68-8h0m73-7h0m-47 9h0m79-9h0m-65 35h0m-3-15h0m47-1h0m-48-15h0m67 30h0m-89-18h0m-28 18h0m-43-5h0m136-33h0m-125 15h0m51-8h0m-30 18h0m30 3h0m-29-2h0m70-21h0m-99 27h0m40-21h0m21 20h0m32-2h0m3-32h0m38 13h0m4 2h0m-53 19h0m17-15h0m-57-25h0m10 30h0m90-10h0m-68 15h0m117-26h0m-82 1h0m-77-24h0m27 61h0m33-16h0m-57 17h0m-55-57h0m86 49h0m71-26h0m-24 8h0m13 8h0m-12-15h0m-3-21h0m33 37h0m-85-24h0m12 13h0m-34 16h0m-2-5h0m71-15h0m53-2h0m-69 0h0m-33 7h0m61 18h0m13-29h0m-24 34h0m-27-28h0m25-2h0m-32-15h0m-56 18h0m63 22h0m-10-15h0m29-8h0m31-3h0m-2 22h0m-27-31h0m-38 25h0m35-15h0m20-7h0m-12 6h0m10 12h0m28-10h0m-5 12h0m-28 2h0m-3-10h0m-18 5h0m32-19h0m-77 21h0m46 17h0m12-35h0m58 20h0m-133-15h0m93 39h0m22-22h0m-52-22h0m-87 26h0m87-3h0m17-16h0m-67 21h0m6-23h0m78 7h0m16 1h0m-92 16h0m-4-21h0m108 5h0m-125 2h0m88 3h0m-16 0h0m50-16h0m-113 12h0m56 2h0m41-18h0m-2 7h0" stroke="#0000fa" stroke-width="6.85" stroke-linecap="round" fill="none"/>
<path d="M1413 269h0m-25-8h0m86 26h0m-69-5h0m71 5h0m21 38h0m-23-64h0m-89 25h0m23 3h0m59-14h0m-56-15h0m11 28h0m-16 3h0m-14-36h0m61 13h0m11 28h0m-12-36h0m-87-27h0m74 66h0m16-40h0m48 16h0m-89-6h0m43-4h0m-1 16h0m-36-9h0m40 3h0m-6-2h0m-30 3h0m-26-8h0m12 34h0m-34-50h0m40 22h0m13 14h0m56-39h0m-66 36h0m65-1h0m-100-19h0m15 35h0m58 2h0m1-28h0m-82 40h0m69-42h0m63 31h0m-47-18h0m-34 12h0m72-16h0m-123-12h0m96 33h0m-51-8h0m44-28h0m-48 55h0m2-33h0m-28 2h0m46-1h0m-6-14h0m21 25h0m-39-25h0m55 17h0m-25-13h0m-1 14h0m27-30h0m40 9h0m-117 6h0m14-13h0m36 14h0m85-3h0m-116 13h0m25-3h0m15-6h0m-13 10h0m-59 6h0m68-42h0m5 43h0m-44-13h0m56 25h0m-52-43h0m-1 15h0m122-16h0m-73 17h0m1 10h0m-20-22h0m-25-3h0m15 18h0m-28 8h0m38-36h0m-60 8h0m-19 20h0m70 5h0m-49 18h0m170-41h0m-89 21h0m-22 11h0m40-7h0m-24-17h0m-55 16h0m108-8h0m-135-24h0m27-16h0m1 27h0m47 13h0m-19-6h0m4 16h0m-71 15h0m96-31h0m-31-7h0m-20 9h0m19-1h0m-5-3h0m-28 11h0m32-20h0m-5-3h0m24 12h0m51-14h0m-31 45h0m32-47h0m-61 7h0m34 22h0m-59-27h0m-20 15h0m117 27h0m-15-20h0m-77-5h0m57 11h0m21-26h0m-14 38h0m-27 20h0m34-43h0m-95 10h0m86 16h0m-98-75h0m48 79h0m51-17h0m2-15h0m-121 6h0m114 5h0m-36 20h0m62-7h0m-186-29h0m100 48h0m51-33h0m-40-27h0m24-11h0m0 43h0m13-13h0m-71-11h0m31 13h0m17-12h0m-17-2h0m4-6h0m14 10h0m-42-16h0m42 37h0m-41-10h0m48 29h0m-7-24h0m-5-2h0m4-6h0m-32-2h0m78 10h0m43 28h0m-28-48h0m-123 4h0m18 22h0m49 7h0m29-14h0m-87-8h0m-1-5h0m36 27h0m57 0h0m-100-16h0m135-22h0m-79 21h0m20 17h0m-42-15h0m75-26h0m-75-3h0m36 54h0m11-15h0m-56-20h0m23 10h0m-36-3h0m100 7h0m-135-46h0m23 44h0m34-11h0m-3 12h0m2-12h0m2-12h0m48-11h0m10 32h0m-39-2h0m30 19h0m-11-12h0m-65-19h0m-25 32h0m64 6h0m-54-25h0m60 16h0m12-12h0m-92-9h0m74-6h0m-79 18h0m72 7h0m17-5h0m19-29h0m-88 7h0m94 1h0m-115-22h0m32 40h0m61 13h0m54-11h0m-24 21h0m-98-40h0m120-2h0m18 16h0" stroke="#000060" stroke-width="7.75" stroke-linecap="round" fill="none"/>
<path d="M1413 269h0m-25-8h0m86 26h0m-69-5h0m71 5h0m21 38h0m-23-64h0m-89 25h0m23 3h0m59-14h0m-56-15h0m11 28h0m-16 3h0m-14-36h0m61 13h0m11 28h0m-12-36h0m-87-27h0m74 66h0m16-40h0m48 16h0m-89-6h0m43-4h0m-1 16h0m-36-9h0m40 3h0m-6-2h0m-30 3h0m-26-8h0m12 34h0m-34-50h0m40 22h0m13 14h0m56-39h0m-66 36h0m65-1h0m-100-19h0m15 35h0m58 2h0m1-28h0m-82 40h0m69-42h0m63 31h0m-47-18h0m-34 12h0m72-16h0m-123-12h0m96 33h0m-51-8h0m44-28h0m-48 55h0m2-33h0m-28 2h0m46-1h0m-6-14h0m21 25h0m-39-25h0m55 17h0m-25-13h0m-1 14h0m27-30h0m40 9h0m-117 6h0m14-13h0m36 14h0m85-3h0m-116 13h0m25-3h0m15-6h0m-13 10h0m-59 6h0m68-42h0m5 43h0m-44-13h0m56 25h0m-52-43h0m-1 15h0m122-16h0m-73 17h0m1 10h0m-20-22h0m-25-3h0m15 18h0m-28 8h0m38-36h0m-60 8h0m-19 20h0m70 5h0m-49 18h0m170-41h0m-89 21h0m-22 11h0m40-7h0m-24-17h0m-55 16h0m108-8h0m-135-24h0m27-16h0m1 27h0m47 13h0m-19-6h0m4 16h0m-71 15h0m96-31h0m-31-7h0m-20 9h0m19-1h0m-5-3h0m-28 11h0m32-20h0m-5-3h0m24 12h0m51-14h0m-31 45h0m32-47h0m-61 7h0m34 22h0m-59-27h0m-20 15h0m117 27h0m-15-20h0m-77-5h0m57 11h0m21-26h0m-14 38h0m-27 20h0m34-43h0m-95 10h0m86 16h0m-98-75h0m48 79h0m51-17h0m2-15h0m-121 6h0m114 5h0m-36 20h0m62-7h0m-186-29h0m100 48h0m51-33h0m-40-27h0m24-11h0m0 43h0m13-13h0m-71-11h0m31 13h0m17-12h0m-17-2h0m4-6h0m14 10h0m-42-16h0m42 37h0m-41-10h0m48 29h0m-7-24h0m-5-2h0m4-6h0m-32-2h0m78 10h0m43 28h0m-28-48h0m-123 4h0m18 22h0m49 7h0m29-14h0m-87-8h0m-1-5h0m36 27h0m57 0h0m-100-16h0m135-22h0m-79 21h0m20 17h0m-42-15h0m75-26h0m-75-3h0m36 54h0m11-15h0m-56-20h0m23 10h0m-36-3h0m100 7h0m-135-46h0m23 44h0m34-11h0m-3 12h0m2-12h0m2-12h0m48-11h0m10 32h0m-39-2h0m30 19h0m-11-12h0m-65-19h0m-25 32h0m64 6h0m-54-25h0m60 16h0m12-12h0m-92-9h0m74-6h0m-79 18h0m72 7h0m17-5h0m19-29h0m-88 7h0m94 1h0m-115-22h0m32 40h0m61 13h0m54-11h0m-24 21h0m-98-40h0m120-2h0m18 16h0" stroke="#0000fa" stroke-width="6.85" stroke-linecap="round" fill="none"/>
<path d="M1424 268h0m-34 3h0m109 5h0m-80 11h0m-27-5h0m68-13h0m6 20h0m-93-38h0m120 19h0m-89 17h0m-85-7h0m187-1h0m-40 1h0m-65 18h0m3-15h0m-67-19h0m61 23h0m21-3h0m-39 6h0m-3 18h0m-28-23h0m65-5h0m54 15h0m-55-16h0m24 1h0m-27 9h0m18-3h0m-66-7h0m-15 10h0m63-39h0m-35 23h0m133 7h0m-164-16h0m237 18h0m-187 5h0m46-2h0m-22-10h0m-9 15h0m133-13h0m-109-2h0m26 17h0m28 3h0m21-7h0m-58-24h0m-50 8h0m27 20h0m27 2h0m-17-32h0m-4 8h0m-45-8h0m28 33h0m34-24h0m-34 12h0m-37-10h0m-8-17h0m44 31h0m-13 8h0m29-16h0m61 6h0m-149 19h0m96 9h0m-72-27h0m43 5h0m90-6h0m-163-16h0m91-2h0m-25 33h0m-28 8h0m-12-26h0m144-8h0m-46 3h0m-51 10h0m107-5h0m-57-5h0m-44-9h0m-13 7h0m-52 15h0m30-17h0m22 0h0m86 9h0m-65-9h0m36 24h0m-11-30h0m2 9h0m24 21h0m-43-15h0m43 6h0m-24-2h0m-51-3h0m40-3h0m-7 12h0m-113-28h0m78 20h0m-48 19h0m47-20h0m23 17h0m-13-1h0m-6-22h0m20 10h0m103-19h0m-144 12h0m42 20h0m73-62h0m-64 35h0m-11-8h0m35 13h0m-27-16h0m111 37h0m-71-53h0m-40 46h0m12-18h0m-15 7h0m-47-2h0m46 14h0m25 3h0m-16-8h0m-9-14h0m-27 11h0m55-6h0m-11 35h0m-64-34h0m69-2h0m11 3h0m-59 34h0m36-13h0m66-7h0m-145-8h0m144-16h0m-115 35h0m56-5h0m-60-15h0m111-24h0m-68 6h0m-23 17h0m-3 1h0m-37-8h0m80 2h0m24 0h0m-26 15h0m-27-10h0m7-9h0m11-7h0m-19 18h0m55 7h0m-71-8h0m33-21h0m20 32h0m12-14h0m1-25h0m-96 50h0m58-21h0m37 16h0m-1-19h0m26 0h0m-133 7h0m61 29h0m48-22h0m-101-14h0m19-10h0m45 35h0m-33-18h0m103 3h0m-64-38h0m-18 21h0m-53 19h0m96-15h0m-6-7h0m-66-9h0m51 11h0m13 39h0m12-27h0m5-11h0m-23-9h0m-76 10h0m58 0h0m0 12h0m17-10h0m-49-13h0m186 8h0m-77 15h0m-56-18h0m-32 14h0m32-32h0m6 28h0m10 0h0m-42-15h0m-19 12h0m49-12h0m-8 38h0m55-34h0m-59 29h0m35-32h0m-59 1h0m109 21h0m-98 6h0m-18-16h0m102 18h0m-30-9h0m-49 22h0m73-28h0m-77 39h0m-32-48h0m56-15h0m-41 8h0m-40 5h0m77-3h0m40 24h0m-105-5h0m30-10h0m45 2h0m-2-2h0m-48-1h0m-29-20h0m17 31h0m74-5h0" stroke="#000060" stroke-width="7.75" stroke-linecap="round" fill="none"/>
<path d="M1424 268h0m-34 3h0m109 5h0m-80 11h0m-27-5h0m68-13h0m6 20h0m-93-38h0m120 19h0m-89 17h0m-85-7h0m187-1h0m-40 1h0m-65 18h0m3-15h0m-67-19h0m61 23h0m21-3h0m-39 6h0m-3 18h0m-28-23h0m65-5h0m54 15h0m-55-16h0m24 1h0m-27 9h0m18-3h0m-66-7h0m-15 10h0m63-39h0m-35 23h0m133 7h0m-164-16h0m237 18h0m-187 5h0m46-2h0m-22-10h0m-9 15h0m133-13h0m-109-2h0m26 17h0m28 3h0m21-7h0m-58-24h0m-50 8h0m27 20h0m27 2h0m-17-32h0m-4 8h0m-45-8h0m28 33h0m34-24h0m-34 12h0m-37-10h0m-8-17h0m44 31h0m-13 8h0m29-16h0m61 6h0m-149 19h0m96 9h0m-72-27h0m43 5h0m90-6h0m-163-16h0m91-2h0m-25 33h0m-28 8h0m-12-26h0m144-8h0m-46 3h0m-51 10h0m107-5h0m-57-5h0m-44-9h0m-13 7h0m-52 15h0m30-17h0m22 0h0m86 9h0m-65-9h0m36 24h0m-11-30h0m2 9h0m24 21h0m-43-15h0m43 6h0m-24-2h0m-51-3h0m40-3h0m-7 12h0m-113-28h0m78 20h0m-48 19h0m47-20h0m23 17h0m-13-1h0m-6-22h0m20 10h0m103-19h0m-144 12h0m42 20h0m73-62h0m-64 35h0m-11-8h0m35 13h0m-27-16h0m111 37h0m-71-53h0m-40 46h0m12-18h0m-15 7h0m-47-2h0m46 14h0m25 3h0m-16-8h0m-9-14h0m-27 11h0m55-6h0m-11 35h0m-64-34h0m69-2h0m11 3h0m-59 34h0m36-13h0m66-7h0m-145-8h0m144-16h0m-115 35h0m56-5h0m-60-15h0m111-24h0m-68 6h0m-23 17h0m-3 1h0m-37-8h0m80 2h0m24 0h0m-26 15h0m-27-10h0m7-9h0m11-7h0m-19 18h0m55 7h0m-71-8h0m33-21h0m20 32h0m12-14h0m1-25h0m-96 50h0m58-21h0m37 16h0m-1-19h0m26 0h0m-133 7h0m61 29h0m48-22h0m-101-14h0m19-10h0m45 35h0m-33-18h0m103 3h0m-64-38h0m-18 21h0m-53 19h0m96-15h0m-6-7h0m-66-9h0m51 11h0m13 39h0m12-27h0m5-11h0m-23-9h0m-76 10h0m58 0h0m0 12h0m17-10h0m-49-13h0m186 8h0m-77 15h0m-56-18h0m-32 14h0m32-32h0m6 28h0m10 0h0m-42-15h0m-19 12h0m49-12h0m-8 38h0m55-34h0m-59 29h0m35-32h0m-59 1h0m109 21h0m-98 6h0m-18-16h0m102 18h0m-30-9h0m-49 22h0m73-28h0m-77 39h0m-32-48h0m56-15h0m-41 8h0m-40 5h0m77-3h0m40 24h0m-105-5h0m30-10h0m45 2h0m-2-2h0m-48-1h0m-29-20h0m17 31h0m74-5h0" stroke="#0000fa" stroke-width="6.85" stroke-linecap="round" fill="none"/>
<path d="M1459 269h0m41 20h0m-132-23h0m47 30h0m-10 0h0m-7-33h0m-1 28h0m111-47h0m-63 36h0m10 8h0m-17-15h0m-64 28h0m60-48h0m17 13h0m-94 13h0m100-11h0m-1 25h0m-55-22h0m91-1h0m-17 20h0m-125-24h0m38 5h0m53 1h0m46-34h0m-89 1h0m30 27h0m-56 37h0m16-14h0m61-11h0m32 15h0m-9-15h0m-41 14h0m20-23h0m-39 34h0m-17-23h0m10 10h0m-1-2h0m-3-7h0m-8 6h0m6-9h0m-14-36h0m-53 41h0m170-9h0m-46 7h0m-117 6h0m87 10h0m-45 2h0m54-2h0m58-8h0m-121-4h0m7 19h0m-38-32h0m142 16h0m-53 9h0m-5 0h0m-54-20h0m9 5h0m5-31h0m83 16h0m-12-1h0m-55 16h0m60-6h0m28 5h0m-42 13h0m37 13h0m-25-5h0m4-8h0m-100-8h0m37-19h0m-27 4h0m70 46h0m-22-50h0m71-3h0m-110 29h0m25-24h0m74 17h0m-80-7h0m-7 8h0m-6-41h0m69 31h0m-73 13h0m95 0h0m-51-5h0m-14-4h0m61 12h0m52 6h0m-67-8h0m-58-13h0m-51 0h0m59 16h0m67-17h0m-49 4h0m-30 17h0m38-26h0m18 11h0m11 6h0m-32 11h0m9 0h0m7-24h0m-52 8h0m16-3h0m45 0h0m-104-22h0m47 23h0m-48-18h0m87 27h0m34-11h0m-54 0h0m-29-13h0m127-13h0m-87 37h0m-13-41h0m-26 27h0m37 5h0m-22-14h0m-24 35h0m87-48h0m-8 39h0m-35-14h0m59 9h0m-25-79h0m-16 64h0m-37 25h0m26-17h0m-18-26h0m84 5h0m-86 11h0m15 23h0m-30-11h0m4 2h0m12-30h0m-26 29h0m134 20h0m3-21h0m-100-25h0m-89 39h0m78-3h0m-68-21h0m137-54h0m-89 53h0m42 19h0m8-2h0m-25-20h0m17-17h0m-18 32h0m47 11h0m-59-12h0m94-8h0m-54-15h0m13 7h0m-36 11h0m-21-10h0m19-17h0m38 29h0m28 12h0m-55-18h0m-32 22h0m91 6h0m-99-18h0m-15 20h0m111-22h0m3 13h0m-107 15h0m59-12h0m-51-8h0m57-16h0m-7 2h0m36 0h0m-88 10h0m0-12h0m98 19h0m-182 1h0m141 5h0m-74-7h0m69-22h0m-66-9h0m130 27h0m-66-5h0m-35-14h0m-27 34h0m99-26h0m-58-25h0m-5 30h0m5-29h0m-34 2h0m84 33h0m53-19h0m24 15h0m-84 16h0m-49-22h0m101 11h0m-104-7h0m19 1h0m24-17h0m-62-12h0m123 44h0m-53-2h0m-21-22h0m31 13h0m-27-28h0m20 38h0m-77-10h0m-16-2h0m76 5h0m-9-29h0m46 10h0m-131 10h0m133-1h0m-91-12h0m3 12h0m106 19h0m-124-16h0m27 9h0m-31-19h0m57-3h0" stroke="#000060" stroke-width="7.75" stroke-linecap="round" fill="none"/>
<path d="M1459 269h0m41 20h0m-132-23h0m47 30h0m-10 0h0m-7-33h0m-1 28h0m111-47h0m-63 36h0m10 8h0m-17-15h0m-64 28h0m60-48h0m17 13h0m-94 13h0m100-11h0m-1 25h0m-55-22h0m91-1h0m-17 20h0m-125-24h0m38 5h0m53 1h0m46-34h0m-89 1h0m30 27h0m-56 37h0m16-14h0m61-11h0m32 15h0m-9-15h0m-41 14h0m20-23h0m-39 34h0m-17-23h0m10 10h0m-1-2h0m-3-7h0m-8 6h0m6-9h0m-14-36h0m-53 41h0m170-9h0m-46 7h0m-117 6h0m87 10h0m-45 2h0m54-2h0m58-8h0m-121-4h0m7 19h0m-38-32h0m142 16h0m-53 9h0m-5 0h0m-54-20h0m9 5h0m5-31h0m83 16h0m-12-1h0m-55 16h0m60-6h0m28 5h0m-42 13h0m37 13h0m-25-5h0m4-8h0m-100-8h0m37-19h0m-27 4h0m70 46h0m-22-50h0m71-3h0m-110 29h0m25-24h0m74 17h0m-80-7h0m-7 8h0m-6-41h0m69 31h0m-73 13h0m95 0h0m-51-5h0m-14-4h0m61 12h0m52 6h0m-67-8h0m-58-13h0m-51 0h0m59 16h0m67-17h0m-49 4h0m-30 17h0m38-26h0m18 11h0m11 6h0m-32 11h0m9 0h0m7-24h0m-52 8h0m16-3h0m45 0h0m-104-22h0m47 23h0m-48-18h0m87 27h0m34-11h0m-54 0h0m-29-13h0m127-13h0m-87 37h0m-13-41h0m-26 27h0m37 5h0m-22-14h0m-24 35h0m87-48h0m-8 39h0m-35-14h0m59 9h0m-25-79h0m-16 64h0m-37 25h0m26-17h0m-18-26h0m84 5h0m-86 11h0m15 23h0m-30-11h0m4 2h0m12-30h0m-26 29h0m134 20h0m3-21h0m-100-25h0m-89 39h0m78-3h0m-68-21h0m137-54h0m-89 53h0m42 19h0m8-2h0m-25-20h0m17-17h0m-18 32h0m47 11h0m-59-12h0m94-8h0m-54-15h0m13 7h0m-36 11h0m-21-10h0m19-17h0m38 29h0m28 12h0m-55-18h0m-32 22h0m91 6h0m-99-18h0m-15 20h0m111-22h0m3 13h0m-107 15h0m59-12h0m-51-8h0m57-16h0m-7 2h0m36 0h0m-88 10h0m0-12h0m98 19h0m-182 1h0m141 5h0m-74-7h0m69-22h0m-66-9h0m130 27h0m-66-5h0m-35-14h0m-27 34h0m99-26h0m-58-25h0m-5 30h0m5-29h0m-34 2h0m84 33h0m53-19h0m24 15h0m-84 16h0m-49-22h0m101 11h0m-104-7h0m19 1h0m24-17h0m-62-12h0m123 44h0m-53-2h0m-21-22h0m31 13h0m-27-28h0m20 38h0m-77-10h0m-16-2h0m76 5h0m-9-29h0m46 10h0m-131 10h0m133-1h0m-91-12h0m3 12h0m106 19h0m-124-16h0m27 9h0m-31-19h0m57-3h0" stroke="#0000fa" stroke-width="6.85" stroke-linecap="round" fill="none"/>
<path d="M1483 264h0m-52-10h0m23 22h0m-21 13h0m-53-12h0m113-26h0m-64 16h0m66 10h0m-121 6h0m74 7h0m-6-2h0m-57-17h0m72-34h0m-28 60h0m-31 6h0m9 22h0m17-31h0m-22-32h0m69 47h0m-43-24h0m78-41h0m0 65h0m-78-38h0m-17 18h0m6-26h0m133 12h0m-141 7h0m42-29h0m-23 24h0m-97 23h0m46-8h0m108-33h0m-12 19h0m-141 8h0m87 5h0m-29-10h0m-2 4h0m109-2h0m-42 0h0m30-1h0m-56-5h0m-17-15h0m45-1h0m-78 18h0m23 15h0m35-11h0m-9 2h0m-21-25h0m44 27h0m71 23h0m-68-4h0m21-28h0m35-6h0m-123-3h0m-5 14h0m25 5h0m32 16h0m-31-19h0m45-16h0m-47 27h0m75 5h0m-33-31h0m-32 18h0m-20-35h0m-7 8h0m0 30h0m100 0h0m-5-44h0m-42 44h0m-32-36h0m-37 20h0m-21 7h0m105 12h0m-12-5h0m47-5h0m-94-13h0m58 5h0m-40-15h0m-23 15h0m-15-24h0m48 30h0m5-19h0m-47 13h0m42 13h0m-53 7h0m35-49h0m60 31h0m-38 6h0m-50 2h0m-45-2h0m43 8h0m-26 8h0m94-21h0m-106-12h0m52 5h0m46-2h0m72 28h0m-14-34h0m-20 13h0m-80-9h0m-2 6h0m61 21h0m-74-10h0m116-16h0m-58 2h0m-44-12h0m-9 4h0m74 12h0m19 5h0m-60 7h0m27-6h0m-58 12h0m60 16h0m0-23h0m-10-6h0m-5-13h0m-10 0h0m-27 22h0m59 0h0m-27 1h0m24-28h0m-30 22h0m25-8h0m1 19h0m7 15h0m-36-22h0m-18-15h0m0 15h0m-44 8h0m74-5h0m11-33h0m-42 26h0m62-9h0m-18 8h0m-27 7h0m-30-6h0m54 2h0m49 5h0m-49-2h0m5-32h0m-32 8h0m55 14h0m-19 7h0m-1-19h0m-10 24h0m50 3h0m-27-32h0m-27 47h0m-8-65h0m-10 36h0m93-18h0m-103 22h0m16 1h0m96 6h0m-76 2h0m-1-8h0m-60-3h0m54 27h0m-6-19h0m-63-15h0m40 5h0m-10-16h0m-14 23h0m48-10h0m68 20h0m-31-16h0m-80 12h0m98-16h0m-58-16h0m14 47h0m-91-18h0m127 7h0m-79-21h0m-44-29h0m164 20h0m-121 7h0m-13 27h0m-25-91h0m111 74h0m-45-21h0m78 2h0m-99 19h0m36-2h0m27-14h0m-96 9h0m28 31h0m171-34h0m-158 26h0m-29-28h0m30 1h0m44-5h0m-72 11h0m52 3h0m-37 5h0m100 9h0m-43-14h0m-85-13h0m72 15h0m-14 16h0m-3-24h0m-62 2h0m-4-12h0m106 8h0m-63 2h0m-46-14h0m92 7h0m-23 12h0m-14 2h0m-33-18h0m94 8h0m-15 25h0m-32 10h0m-4-13h0m43-2h0" stroke="#000060" stroke-width="7.75" stroke-linecap="round" fill="none"/>
<path d="M1483 264h0m-52-10h0m23 22h0m-21 13h0m-53-12h0m113-26h0m-64 16h0m66 10h0m-121 6h0m74 7h0m-6-2h0m-57-17h0m72-34h0m-28 60h0m-31 6h0m9 22h0m17-31h0m-22-32h0m69 47h0m-43-24h0m78-41h0m0 65h0m-78-38h0m-17 18h0m6-26h0m133 12h0m-141 7h0m42-29h0m-23 24h0m-97 23h0m46-8h0m108-33h0m-12 19h0m-141 8h0m87 5h0m-29-10h0m-2 4h0m109-2h0m-42 0h0m30-1h0m-56-5h0m-17-15h0m45-1h0m-78 18h0m23 15h0m35-11h0m-9 2h0m-21-25h0m44 27h0m71 23h0m-68-4h0m21-28h0m35-6h0m-123-3h0m-5 14h0m25 5h0m32 16h0m-31-19h0m45-16h0m-47 27h0m75 5h0m-33-31h0m-32 18h0m-20-35h0m-7 8h0m0 30h0m100 0h0m-5-44h0m-42 44h0m-32-36h0m-37 20h0m-21 7h0m105 12h0m-12-5h0m47-5h0m-94-13h0m58 5h0m-40-15h0m-23 15h0m-15-24h0m48 30h0m5-19h0m-47 13h0m42 13h0m-53 7h0m35-49h0m60 31h0m-38 6h0m-50 2h0m-45-2h0m43 8h0m-26 8h0m94-21h0m-106-12h0m52 5h0m46-2h0m72 28h0m-14-34h0m-20 13h0m-80-9h0m-2 6h0m61 21h0m-74-10h0m116-16h0m-58 2h0m-44-12h0m-9 4h0m74 12h0m19 5h0m-60 7h0m27-6h0m-58 12h0m60 16h0m0-23h0m-10-6h0m-5-13h0m-10 0h0m-27 22h0m59 0h0m-27 1h0m24-28h0m-30 22h0m25-8h0m1 19h0m7 15h0m-36-22h0m-18-15h0m0 15h0m-44 8h0m74-5h0m11-33h0m-42 26h0m62-9h0m-18 8h0m-27 7h0m-30-6h0m54 2h0m49 5h0m-49-2h0m5-32h0m-32 8h0m55 14h0m-19 7h0m-1-19h0m-10 24h0m50 3h0m-27-32h0m-27 47h0m-8-65h0m-10 36h0m93-18h0m-103 22h0m16 1h0m96 6h0m-76 2h0m-1-8h0m-60-3h0m54 27h0m-6-19h0m-63-15h0m40 5h0m-10-16h0m-14 23h0m48-10h0m68 20h0m-31-16h0m-80 12h0m98-16h0m-58-16h0m14 47h0m-91-18h0m127 7h0m-79-21h0m-44-29h0m164 20h0m-121 7h0m-13 27h0m-25-91h0m111 74h0m-45-21h0m78 2h0m-99 19h0m36-2h0m27-14h0m-96 9h0m28 31h0m171-34h0m-158 26h0m-29-28h0m30 1h0m44-5h0m-72 11h0m52 3h0m-37 5h0m100 9h0m-43-14h0m-85-13h0m72 15h0m-14 16h0m-3-24h0m-62 2h0m-4-12h0m106 8h0m-63 2h0m-46-14h0m92 7h0m-23 12h0m-14 2h0m-33-18h0m94 8h0m-15 25h0m-32 10h0m-4-13h0m43-2h0" stroke="#0000fa" stroke-width="6.85" stroke-linecap="round" fill="none"/>
<path d="M1580 103h0m-5 12h0m-3 2h0m-11 3h0m-9 9h0m-10-5h0m0 9h0m-9-5h0m2 1h0m-7-6h0m-7 2h0m2 7h0m11 6h0m-18 1h0m-7-19h0m-4 15h0m-6-1h0m5 9h0m-12-7h0m6 8h0m-3 6h0m-8-4h0m-8 0h0m-4 3h0m19 8h0m4 2h0m10 2h0m-2 5h0m13-8h0m18 6h0m-3 12h0m-44-1h0m-14-14h0m-15 4h0m-3-42h0" stroke="#500000" stroke-width="7.55" stroke-linecap="round" fill="none"/>
<path d="M1580 103h0m-5 12h0m-3 2h0m-11 3h0m-9 9h0m-10-5h0m0 9h0m-9-5h0m2 1h0m-7-6h0m-7 2h0m2 7h0m11 6h0m-18 1h0m-7-19h0m-4 15h0m-6-1h0m5 9h0m-12-7h0m6 8h0m-3 6h0m-8-4h0m-8 0h0m-4 3h0m19 8h0m4 2h0m10 2h0m-2 5h0m13-8h0m18 6h0m-3 12h0m-44-1h0m-14-14h0m-15 4h0m-3-42h0" stroke="#fa0000" stroke-width="6.65" stroke-linecap="round" fill="none"/>
<path d="M1438 128h0m13 16h0m13-1h0m2-10h0m6-1h0m4-4h0m-32 29h0m-24-7h0m-2 4h0m13 15h0m14-1h0m2 2h0m-31 0h0m0 6h0m-56 2h0m46 6h0m-36 10h0m42-3h0m8-4h0m-1 3h0m17-8h0m6 6h0m11-9h0m1 1h0m-1 7h0m-7-11h0m22 10h0m10 5h0m12 0h0m-97 4h0m7 3h0m5 3h0m-18 1h0m31-3h0m6 6h0" stroke="#500000" stroke-width="7.55" stroke-linecap="round" fill="none"/>
<path d="M1438 128h0m13 16h0m13-1h0m2-10h0m6-1h0m4-4h0m-32 29h0m-24-7h0m-2 4h0m13 15h0m14-1h0m2 2h0m-31 0h0m0 6h0m-56 2h0m46 6h0m-36 10h0m42-3h0m8-4h0m-1 3h0m17-8h0m6 6h0m11-9h0m1 1h0m-1 7h0m-7-11h0m22 10h0m10 5h0m12 0h0m-97 4h0m7 3h0m5 3h0m-18 1h0m31-3h0m6 6h0" stroke="#fa0000" stroke-width="6.65" stroke-linecap="round" fill="none"/>
<path d="M1431 198h0m4 4h0m9-4h0m6-1h0m7-2h0m-8 12h0m14-4h0m-27 6h0m21 2h0m21-7h0m2 1h0m25-1h0m77 1h0m-181 4h0m-6 6h0m8-2h0m-9 6h0m-27 2h0m71-5h0m34-4h0m-4 4h0m7 5h0m19-3h0m-1 8h0m36-3h0m-143 1h0m30-2h0m40-1h0m4 3h0m3 5h0m13 2h0m18 0h0m10 2h0m17 4h0m-38 1h0" stroke="#500000" stroke-width="7.55" stroke-linecap="round" fill="none"/>
<path d="M1431 198h0m4 4h0m9-4h0m6-1h0m7-2h0m-8 12h0m14-4h0m-27 6h0m21 2h0m21-7h0m2 1h0m25-1h0m77 1h0m-181 4h0m-6 6h0m8-2h0m-9 6h0m-27 2h0m71-5h0m34-4h0m-4 4h0m7 5h0m19-3h0m-1 8h0m36-3h0m-143 1h0m30-2h0m40-1h0m4 3h0m3 5h0m13 2h0m18 0h0m10 2h0m17 4h0m-38 1h0" stroke="#fa0000" stroke-width="6.65" stroke-linecap="round" fill="none"/>
<path d="M1488 239h0m-115-4h0m6 2h0m13-5h0m13-1h0m3 5h0m3 6h0m7-1h0m12-5h0m9-4h0m7-4h0m4 6h0m3 5h0m-6 0h0m3 4h0m7 2h0m9-6h0m3 5h0m3-7h0m-28 8h0m-14 3h0m39 1h0m-4 7h0m7 5h0m-18-1h0m6 3h0m-17 7h0m21 0h0m23-14h0m11 2h0m-185-6h0m112 39h0m24-6h0m52 3h0m16 0h0" stroke="#500000" stroke-width="7.55" stroke-linecap="round" fill="none"/>
<path d="M1488 239h0m-115-4h0m6 2h0m13-5h0m13-1h0m3 5h0m3 6h0m7-1h0m12-5h0m9-4h0m7-4h0m4 6h0m3 5h0m-6 0h0m3 4h0m7 2h0m9-6h0m3 5h0m3-7h0m-28 8h0m-14 3h0m39 1h0m-4 7h0m7 5h0m-18-1h0m6 3h0m-17 7h0m21 0h0m23-14h0m11 2h0m-185-6h0m112 39h0m24-6h0m52 3h0m16 0h0" stroke="#fa0000" stroke-width="6.65" stroke-linecap="round" fill="none"/>
<circle cx="1205.7" cy="94.5" r="3.8" fill="#f00000" stroke="#600000" stroke-width="0.4"/>
<line x1="1507.8" y1="145.6" x2="1554.2" y2="152.8" stroke="#000" stroke-width="1.2"/>
<line x1="1173.30" y1="71.50" x2="1173.30" y2="386.30" stroke="#000" stroke-width="3.3"/>
<line x1="1171.70" y1="384.70" x2="1642.00" y2="384.70" stroke="#000" stroke-width="3.3"/>
<line x1="1164.30" y1="73.10" x2="1173.30" y2="73.10" stroke="#000" stroke-width="3"/>
<text transform="translate(1135.35,81.20) scale(0.9400,1)" font-size="26" font-weight="bold" fill="#000">10</text>
<line x1="1164.30" y1="176.95" x2="1173.30" y2="176.95" stroke="#000" stroke-width="3"/>
<text transform="translate(1148.55,185.05) scale(0.9400,1)" font-size="26" font-weight="bold" fill="#000">5</text>
<line x1="1164.30" y1="280.80" x2="1173.30" y2="280.80" stroke="#000" stroke-width="3"/>
<text transform="translate(1149.04,288.90) scale(0.9400,1)" font-size="26" font-weight="bold" fill="#000">0</text>
<line x1="1164.30" y1="384.65" x2="1173.30" y2="384.65" stroke="#000" stroke-width="3"/>
<text transform="translate(1140.48,392.75) scale(0.9400,1)" font-size="26" font-weight="bold" fill="#000">-5</text>
<line x1="1173.30" y1="384.70" x2="1173.30" y2="393.50" stroke="#000" stroke-width="3"/>
<text transform="translate(1162.42,420.60) scale(0.9400,1)" font-size="26" font-weight="bold" fill="#000">-2</text>
<line x1="1290.10" y1="384.70" x2="1290.10" y2="393.50" stroke="#000" stroke-width="3"/>
<text transform="translate(1283.38,420.60) scale(0.9400,1)" font-size="26" font-weight="bold" fill="#000">0</text>
<line x1="1406.90" y1="384.70" x2="1406.90" y2="393.50" stroke="#000" stroke-width="3"/>
<text transform="translate(1400.18,420.60) scale(0.9400,1)" font-size="26" font-weight="bold" fill="#000">2</text>
<line x1="1523.70" y1="384.70" x2="1523.70" y2="393.50" stroke="#000" stroke-width="3"/>
<text transform="translate(1516.73,420.60) scale(0.9400,1)" font-size="26" font-weight="bold" fill="#000">4</text>
<line x1="1640.50" y1="384.70" x2="1640.50" y2="393.50" stroke="#000" stroke-width="3"/>
<text transform="translate(1633.66,420.60) scale(0.9400,1)" font-size="26" font-weight="bold" fill="#000">6</text>
<text transform="translate(1302.47,450.10) scale(0.9512,1)" font-size="27.5" font-weight="bold" fill="#000">log10(baseMean)</text>
<text transform="translate(1097.90,355.07) rotate(-90) scale(0.9359,1)" font-size="25.5" font-weight="bold" fill="#000">log2(foldchange) of</text>
<text transform="translate(1124.90,385.92) rotate(-90) scale(0.9308,1)" font-size="25.5" font-weight="bold" fill="#000">unsorted cells (trt./untrt.)</text>
<text transform="translate(1225.37,102.40) scale(1.0184,1)" font-size="21.5" fill="#000">prophage genes</text>
<text transform="translate(1563.79,156.60) scale(1.0735,1)" font-size="16.6" fill="#000">cg1974</text>
<text transform="translate(1552.63,176.70) scale(1.0707,1)" font-size="16.6" fill="#000">(put. lysin)</text>
<rect x="795.40" y="543.20" width="26.40" height="313.50" fill="#b4b4b4"/>
<path d="M542.5 694.7h3.0V770.2h-3.0zM545.5 703.1h3.0V748.0h-3.0zM548.5 677.7h1.0V756.2h-1.0zM549.5 699.9h2.0V743.2h-2.0zM551.5 697.7h2.0V754.6h-2.0zM553.5 700.5h3.0V784.6h-3.0zM556.5 694.1h3.0V757.6h-3.0zM559.5 693.4h2.0V753.8h-2.0zM561.5 702.9h2.0V762.7h-2.0zM563.5 693.1h3.0V787.3h-3.0zM566.5 682.2h3.0V739.4h-3.0zM569.5 695.4h3.0V761.5h-3.0zM572.5 703.1h3.0V767.2h-3.0zM575.5 701.1h2.0V775.0h-2.0zM577.5 650.9h3.0V773.2h-3.0zM580.5 700.7h2.0V770.8h-2.0zM582.5 698.2h2.0V746.8h-2.0zM584.5 691.2h3.0V752.8h-3.0zM587.5 698.3h2.0V766.7h-2.0zM589.5 695.0h4.0V763.4h-4.0zM593.5 703.4h1.0V766.7h-1.0zM594.5 698.6h3.0V765.3h-3.0zM597.5 664.1h3.0V781.1h-3.0zM600.5 703.3h2.0V747.1h-2.0zM602.5 695.6h3.0V775.0h-3.0zM605.5 701.5h3.0V790.2h-3.0zM608.5 716.0h3.0V748.7h-3.0zM611.5 686.4h4.0V758.5h-4.0zM615.5 684.0h4.0V775.7h-4.0zM619.5 694.7h3.0V764.1h-3.0zM622.5 684.6h1.0V763.6h-1.0zM623.5 703.2h4.0V757.3h-4.0zM627.5 715.7h4.0V762.2h-4.0zM631.5 678.6h1.0V766.4h-1.0zM632.5 702.4h3.0V756.8h-3.0zM635.5 699.4h3.0V772.5h-3.0zM638.5 667.4h4.0V767.3h-4.0zM642.5 681.9h3.0V764.3h-3.0zM645.5 698.2h3.0V747.3h-3.0zM648.5 662.5h4.0V746.4h-4.0zM652.5 701.5h3.0V754.9h-3.0zM655.5 703.5h3.0V748.3h-3.0zM658.5 666.6h2.0V751.4h-2.0zM660.5 701.7h2.0V767.6h-2.0zM662.5 696.8h3.0V751.4h-3.0zM665.5 691.4h2.0V790.4h-2.0zM667.5 693.2h3.0V760.5h-3.0zM670.5 682.3h3.0V759.6h-3.0zM673.5 701.4h2.0V746.1h-2.0zM675.5 692.9h3.0V750.5h-3.0zM678.5 700.9h1.0V771.5h-1.0zM679.5 699.6h1.0V763.3h-1.0zM680.5 704.5h2.0V766.1h-2.0zM682.5 681.6h2.0V751.7h-2.0zM684.5 699.5h2.0V752.7h-2.0zM686.5 702.9h3.0V773.0h-3.0zM689.5 686.5h3.0V746.0h-3.0zM692.5 700.6h4.0V762.6h-4.0zM696.5 695.0h2.0V755.6h-2.0zM698.5 694.8h3.0V735.3h-3.0zM701.5 695.4h2.0V745.8h-2.0zM703.5 670.2h3.0V748.2h-3.0zM706.5 677.5h3.0V751.1h-3.0zM709.5 696.3h1.0V756.1h-1.0zM710.5 676.4h3.0V754.9h-3.0zM713.5 699.3h3.0V760.1h-3.0zM716.5 694.0h1.0V775.7h-1.0zM717.5 673.4h2.0V744.9h-2.0zM719.5 691.6h3.0V753.8h-3.0zM722.5 701.3h2.0V757.6h-2.0zM724.5 697.7h2.0V771.7h-2.0zM726.5 661.6h1.0V789.4h-1.0zM727.5 693.1h3.0V753.6h-3.0zM730.5 694.2h2.0V756.4h-2.0zM732.5 692.8h2.0V750.1h-2.0zM734.5 657.8h4.0V755.1h-4.0zM738.5 698.4h3.0V780.2h-3.0zM741.5 699.8h2.0V753.5h-2.0zM743.5 696.7h4.0V760.0h-4.0zM747.5 683.0h3.0V781.3h-3.0zM750.5 688.9h2.0V795.5h-2.0zM752.5 689.4h3.0V745.8h-3.0zM755.5 697.7h3.0V746.3h-3.0zM758.5 670.1h3.0V750.2h-3.0zM761.5 682.1h3.0V755.7h-3.0zM764.5 683.0h2.0V743.7h-2.0zM766.5 684.0h3.0V762.4h-3.0zM769.5 693.3h3.0V744.1h-3.0zM772.5 688.7h3.0V741.1h-3.0zM775.5 694.5h2.0V751.5h-2.0zM777.5 684.9h1.0V749.4h-1.0zM778.5 682.9h3.0V746.3h-3.0zM781.5 684.5h3.0V801.5h-3.0zM784.5 685.1h3.0V750.0h-3.0zM787.5 701.9h3.0V761.2h-3.0zM790.5 687.3h2.0V771.8h-2.0zM792.5 695.1h2.0V742.1h-2.0zM794.5 575.3h2.0V720.9h-2.0zM796.5 550.1h1.0V699.4h-1.0zM797.5 553.1h1.0V699.4h-1.0zM798.5 585.4h2.0V697.4h-2.0zM800.5 580.1h3.0V723.3h-3.0zM803.5 583.3h2.0V723.4h-2.0zM805.5 578.9h1.0V693.6h-1.0zM806.5 583.2h1.0V692.5h-1.0zM807.5 582.6h3.0V692.9h-3.0zM810.5 595.9h3.0V711.9h-3.0zM813.5 571.6h3.0V699.2h-3.0zM816.5 609.9h3.0V701.3h-3.0zM819.5 594.4h2.0V748.9h-2.0zM821.5 651.8h3.0V737.7h-3.0zM824.5 656.2h1.0V734.5h-1.0zM825.5 653.9h1.0V732.5h-1.0zM826.5 670.3h3.0V730.0h-3.0zM829.5 671.0h4.0V735.4h-4.0zM833.5 661.8h2.0V736.9h-2.0zM835.5 674.9h1.0V735.7h-1.0zM836.5 668.6h3.0V740.6h-3.0zM839.5 675.2h3.0V737.2h-3.0zM842.5 697.1h3.0V752.2h-3.0zM845.5 678.0h1.0V736.5h-1.0zM846.5 677.7h3.0V745.6h-3.0zM849.5 685.9h1.0V753.5h-1.0zM850.5 683.1h2.0V754.8h-2.0zM852.5 690.3h3.0V754.8h-3.0zM855.5 691.6h1.0V757.0h-1.0zM856.5 687.0h2.0V777.4h-2.0zM858.5 660.6h2.0V762.0h-2.0zM860.5 694.8h2.0V755.4h-2.0zM862.5 687.0h2.0V764.6h-2.0zM864.5 695.6h2.0V749.4h-2.0zM866.5 681.2h2.0V749.9h-2.0zM868.5 699.8h2.0V753.4h-2.0zM870.5 695.4h1.0V750.6h-1.0zM871.5 653.1h4.0V773.3h-4.0zM875.5 706.1h2.0V758.7h-2.0zM877.5 704.8h3.0V784.3h-3.0zM880.5 699.1h3.0V762.8h-3.0zM883.5 696.9h1.0V797.8h-1.0zM884.5 687.8h2.0V777.8h-2.0zM886.5 701.3h4.0V800.9h-4.0zM890.5 698.3h3.0V796.4h-3.0zM893.5 697.5h4.0V752.1h-4.0zM897.5 690.3h2.0V758.1h-2.0zM899.5 705.8h2.0V737.8h-2.0zM901.5 674.1h1.0V753.4h-1.0zM902.5 691.0h1.0V754.9h-1.0zM903.5 717.1h2.0V769.7h-2.0zM905.5 696.8h1.0V781.3h-1.0zM906.5 706.4h3.0V764.1h-3.0zM909.5 692.1h3.0V753.8h-3.0zM912.5 706.2h4.0V757.5h-4.0zM916.5 702.7h3.0V779.5h-3.0zM919.5 670.9h3.0V762.4h-3.0zM922.5 707.4h2.0V780.3h-2.0zM924.5 684.2h3.0V783.2h-3.0zM927.5 688.7h3.0V773.6h-3.0zM930.5 701.8h2.0V755.3h-2.0zM932.5 694.5h3.0V753.3h-3.0zM935.5 699.2h3.0V758.3h-3.0zM938.5 705.6h2.0V757.1h-2.0zM940.5 688.9h4.0V772.7h-4.0zM944.5 707.7h2.0V769.5h-2.0zM946.5 695.6h3.0V784.4h-3.0zM949.5 689.8h2.0V772.8h-2.0zM951.5 704.6h3.0V789.4h-3.0zM954.5 717.4h3.0V771.8h-3.0zM957.5 697.3h3.0V783.0h-3.0zM960.5 696.9h3.0V760.5h-3.0zM963.5 706.3h3.0V765.3h-3.0zM966.5 692.3h3.0V796.6h-3.0zM969.5 698.3h4.0V803.3h-4.0zM973.5 674.1h2.0V755.2h-2.0zM975.5 708.3h4.0V755.3h-4.0zM979.5 655.7h2.0V752.4h-2.0zM981.5 704.1h2.0V756.4h-2.0zM983.5 683.3h4.0V801.3h-4.0zM987.5 696.8h3.0V785.1h-3.0zM990.5 695.8h3.0V791.3h-3.0zM993.5 656.0h3.0V784.3h-3.0zM996.5 698.0h4.0V777.4h-4.0zM1000.5 688.4h3.0V775.0h-3.0zM1003.5 697.8h2.0V781.9h-2.0zM1005.5 707.4h2.2V767.7h-2.2zM633.6 723.2h2.2V843.5h-2.2zM644.1 723.2h2.2V813.7h-2.2zM955.5 745.5h1.6V851.3h-1.6zM964.4 745.5h2.2V822.6h-2.2zM985.8 745.5h2.4V803.4h-2.4zM659.4 656.4h1.2V723.2h-1.2zM718.4 654.1h1.2V723.2h-1.2zM789.4 656.4h1.2V723.2h-1.2z" fill="#000"/>
<path d="M546.8 748.0V753.5M549.4 677.7V674.1M550.5 699.9V694.4M553.5 784.6V788.2M558.7 757.6V778.7M565.6 787.3V800.8M576.4 701.1V698.8M582.9 698.2V687.9M589.2 766.7V795.4M601.9 703.3V700.4M622.7 684.6V673.7M632.0 678.6V668.6M653.0 754.9V770.9M662.1 767.6V773.1M663.3 751.4V762.5M670.5 693.2V680.2M671.0 759.6V775.3M676.1 750.5V778.7M679.6 699.6V691.0M682.8 751.7V755.4M690.3 746.0V752.5M702.5 745.8V748.5M709.9 696.3V693.8M721.7 691.6V675.9M722.5 701.3V696.6M725.2 697.7V692.5M731.0 756.4V760.1M732.5 750.1V779.0M737.7 657.8V663.2M759.7 750.2V771.3M763.1 755.7V766.0M764.6 683.0V678.5M778.6 682.9V660.5M806.1 578.9V660.1M806.6 692.5V694.9M827.0 730.0V741.4M834.4 736.9V742.1M839.5 740.6V756.6M846.0 736.5V753.2M854.1 690.3V684.8M856.8 687.0V658.1M866.3 749.4V754.4M870.5 753.4V760.3M870.7 695.4V691.5M877.3 758.7V764.0M878.0 784.3V797.3M884.0 696.9V693.9M891.9 796.4V792.7M899.4 758.1V787.1M903.4 754.9V773.4M906.5 706.4V699.5M929.1 688.7V682.3M933.8 753.3V782.3M948.8 695.6V683.9M958.4 697.3V673.9M975.4 755.2V772.5M983.7 801.3V788.7M988.1 785.1V797.4M992.7 695.8V692.7M1005.9 707.4V697.0" stroke="#111" stroke-width="0.9" fill="none"/>
<path d="M658.3 703.5V730.0M701.7 695.4V718.8M717.4 694.0V722.9M781.8 684.5V727.9M845.8 678.0V722.0M847.0 677.7V703.6M853.1 690.3V724.1M901.4 705.8V725.1" stroke="#fff" stroke-width="0.9" fill="none"/>
<path d="M543.0 700.9h485.46" stroke="#f2f2f2" stroke-width="3.0" stroke-linecap="round" stroke-dasharray="0 9.33" fill="none"/>
<path d="M543.0 745.5h485.46" stroke="#f2f2f2" stroke-width="3.0" stroke-linecap="round" stroke-dasharray="0 9.33" fill="none"/>
<path d="M1011.5 723.2h9.63" stroke="#000" stroke-width="3.4" stroke-linecap="round" stroke-dasharray="0 9.33" fill="none"/>
<line x1="542.00" y1="543.20" x2="542.00" y2="858.30" stroke="#000" stroke-width="3.3"/>
<line x1="540.40" y1="856.70" x2="1033.00" y2="856.70" stroke="#000" stroke-width="3.3"/>
<line x1="533.00" y1="589.52" x2="542.00" y2="589.52" stroke="#000" stroke-width="3"/>
<text transform="translate(517.29,597.62) scale(0.9400,1)" font-size="26" font-weight="bold" fill="#000">6</text>
<line x1="533.00" y1="656.36" x2="542.00" y2="656.36" stroke="#000" stroke-width="3"/>
<text transform="translate(517.29,664.46) scale(0.9400,1)" font-size="26" font-weight="bold" fill="#000">3</text>
<line x1="533.00" y1="723.20" x2="542.00" y2="723.20" stroke="#000" stroke-width="3"/>
<text transform="translate(517.54,731.30) scale(0.9400,1)" font-size="26" font-weight="bold" fill="#000">0</text>
<line x1="533.00" y1="790.04" x2="542.00" y2="790.04" stroke="#000" stroke-width="3"/>
<text transform="translate(509.23,798.14) scale(0.9400,1)" font-size="26" font-weight="bold" fill="#000">-3</text>
<line x1="533.00" y1="856.88" x2="542.00" y2="856.88" stroke="#000" stroke-width="3"/>
<text transform="translate(509.23,864.98) scale(0.9400,1)" font-size="26" font-weight="bold" fill="#000">-6</text>
<line x1="541.80" y1="856.70" x2="541.80" y2="865.50" stroke="#000" stroke-width="3"/>
<text transform="translate(535.08,891.80) scale(0.9400,1)" font-size="26" font-weight="bold" fill="#000">0</text>
<line x1="690.30" y1="856.70" x2="690.30" y2="865.50" stroke="#000" stroke-width="3"/>
<text transform="translate(662.93,891.80) scale(0.9400,1)" font-size="26" font-weight="bold" fill="#000">1000</text>
<line x1="838.80" y1="856.70" x2="838.80" y2="865.50" stroke="#000" stroke-width="3"/>
<text transform="translate(811.79,891.80) scale(0.9400,1)" font-size="26" font-weight="bold" fill="#000">2000</text>
<line x1="987.30" y1="856.70" x2="987.30" y2="865.50" stroke="#000" stroke-width="3"/>
<text transform="translate(960.42,891.80) scale(0.9400,1)" font-size="26" font-weight="bold" fill="#000">3000</text>
<text transform="translate(662.70,921.80) scale(0.9435,1)" font-size="27.5" font-weight="bold" fill="#000"><tspan font-style="italic">C. glutamicum</tspan> (orfs)</text>
<text transform="translate(462.80,858.46) rotate(-90) scale(0.9315,1)" font-size="25.5" font-weight="bold" fill="#000">log2(foldchange) of RNAlater</text>
<text transform="translate(489.70,824.35) rotate(-90) scale(0.9339,1)" font-size="25.5" font-weight="bold" fill="#000">sorted cells (pos./neg.)</text>
<path d="M1192.0 700.7h446.70" stroke="#000" stroke-width="4.0" stroke-linecap="round" stroke-dasharray="0 9.3" fill="none"/>
<path d="M1192.0 745.1h446.70" stroke="#000" stroke-width="4.0" stroke-linecap="round" stroke-dasharray="0 9.3" fill="none"/>
<path d="M1429 749h0m0-9h0m27 3h0m-43 17h0m83-28h0m-39-1h0m-44 26h0m-20-47h0m112-7h0m-126-17h0m74-2h0m-83 37h0m77 10h0m15 6h0m-113-30h0m49 23h0m52 24h0m-6-54h0m48 37h0m-52 10h0m25-47h0m-79 27h0m47 32h0m10-46h0m-85-12h0m101 39h0m-15-28h0m-1 48h0m24-11h0m9-45h0m-36-4h0m0 52h0m-59-18h0m56-20h0m-30-2h0m13 13h0m25-4h0m-26-33h0m18 36h0m44 3h0m-53-2h0m-65 13h0m42-21h0m37-4h0m10 13h0m-33 28h0m55-44h0m16 21h0m-67 8h0m36-16h0m-14 36h0m36-31h0m-82 37h0m49-4h0m-8-43h0m24 10h0m-9 18h0m-98-22h0m87-2h0m-69-8h0m71 12h0m-9 8h0m-24-13h0m33-11h0m38 0h0m-62 14h0m23 8h0m16-3h0m-17-3h0m11-17h0m-78 6h0m47-34h0m16 59h0m-61-14h0m11-26h0m119 53h0m-27-45h0m-41 20h0m-30 15h0m70-18h0m12 1h0m-23-3h0m-25 1h0m-27 2h0m51 27h0m-80-26h0m56 1h0m92-17h0m-105 5h0m0 53h0m-50-44h0m34-19h0m102 49h0m-81 68h0m36-119h0m8-40h0m-30 39h0m3 37h0m-40-8h0m-32-23h0m75-5h0m-4-1h0m-48 38h0m78-29h0m-89 23h0m31-4h0m96-55h0m-144 61h0m17-31h0m49 47h0m51-40h0m-29-13h0m-8 35h0m-13 15h0m-48 7h0m31 9h0m21-28h0m64-10h0m-90 1h0m-66 0h0m90-48h0m48 21h0m-44 24h0m-94-40h0m111 41h0m-36 12h0m1 16h0m-8 1h0m-13-39h0m15-3h0m37 22h0m58-19h0m-35 1h0m-50 2h0m-64-3h0m112 28h0m-71-61h0m-86 14h0m62-3h0m27 52h0m86-44h0m-62 27h0m-13-36h0m16 36h0m-63 9h0m33-19h0m-29 23h0m2-36h0m44 29h0m40-20h0m-72 26h0m-30 38h0m126-45h0m-37-2h0m-23-41h0m-19 19h0m35 9h0m-66-3h0m-19-3h0m22-5h0m57 69h0m-81-56h0m68 15h0m58-2h0m-80-8h0m134 4h0m-79-4h0m36 7h0m-144-49h0m87 13h0m-8 22h0m-12 18h0m41-36h0m-64 13h0m4-17h0m-26 24h0m58 31h0m-19-34h0m65 18h0m-128-3h0m73-23h0m34 31h0m-35-2h0m90-32h0m-15 38h0m-57-8h0m52-12h0m-106 0h0m28 5h0m40-1h0m-4 5h0m5-53h0m-54 43h0m8 5h0m-1-6h0m-10-19h0m48 37h0m-40-17h0m30 23h0m-57-22h0m12 48h0m15-46h0m-25 0h0m80 15h0m36-49h0m-106-5h0m-14 45h0m55-5h0m17 10h0m-84-39h0m99 44h0m-57-10h0m10-2h0m-101 42h0m187-26h0m-141-21h0" stroke="#000060" stroke-width="7.75" stroke-linecap="round" fill="none"/>
<path d="M1429 749h0m0-9h0m27 3h0m-43 17h0m83-28h0m-39-1h0m-44 26h0m-20-47h0m112-7h0m-126-17h0m74-2h0m-83 37h0m77 10h0m15 6h0m-113-30h0m49 23h0m52 24h0m-6-54h0m48 37h0m-52 10h0m25-47h0m-79 27h0m47 32h0m10-46h0m-85-12h0m101 39h0m-15-28h0m-1 48h0m24-11h0m9-45h0m-36-4h0m0 52h0m-59-18h0m56-20h0m-30-2h0m13 13h0m25-4h0m-26-33h0m18 36h0m44 3h0m-53-2h0m-65 13h0m42-21h0m37-4h0m10 13h0m-33 28h0m55-44h0m16 21h0m-67 8h0m36-16h0m-14 36h0m36-31h0m-82 37h0m49-4h0m-8-43h0m24 10h0m-9 18h0m-98-22h0m87-2h0m-69-8h0m71 12h0m-9 8h0m-24-13h0m33-11h0m38 0h0m-62 14h0m23 8h0m16-3h0m-17-3h0m11-17h0m-78 6h0m47-34h0m16 59h0m-61-14h0m11-26h0m119 53h0m-27-45h0m-41 20h0m-30 15h0m70-18h0m12 1h0m-23-3h0m-25 1h0m-27 2h0m51 27h0m-80-26h0m56 1h0m92-17h0m-105 5h0m0 53h0m-50-44h0m34-19h0m102 49h0m-81 68h0m36-119h0m8-40h0m-30 39h0m3 37h0m-40-8h0m-32-23h0m75-5h0m-4-1h0m-48 38h0m78-29h0m-89 23h0m31-4h0m96-55h0m-144 61h0m17-31h0m49 47h0m51-40h0m-29-13h0m-8 35h0m-13 15h0m-48 7h0m31 9h0m21-28h0m64-10h0m-90 1h0m-66 0h0m90-48h0m48 21h0m-44 24h0m-94-40h0m111 41h0m-36 12h0m1 16h0m-8 1h0m-13-39h0m15-3h0m37 22h0m58-19h0m-35 1h0m-50 2h0m-64-3h0m112 28h0m-71-61h0m-86 14h0m62-3h0m27 52h0m86-44h0m-62 27h0m-13-36h0m16 36h0m-63 9h0m33-19h0m-29 23h0m2-36h0m44 29h0m40-20h0m-72 26h0m-30 38h0m126-45h0m-37-2h0m-23-41h0m-19 19h0m35 9h0m-66-3h0m-19-3h0m22-5h0m57 69h0m-81-56h0m68 15h0m58-2h0m-80-8h0m134 4h0m-79-4h0m36 7h0m-144-49h0m87 13h0m-8 22h0m-12 18h0m41-36h0m-64 13h0m4-17h0m-26 24h0m58 31h0m-19-34h0m65 18h0m-128-3h0m73-23h0m34 31h0m-35-2h0m90-32h0m-15 38h0m-57-8h0m52-12h0m-106 0h0m28 5h0m40-1h0m-4 5h0m5-53h0m-54 43h0m8 5h0m-1-6h0m-10-19h0m48 37h0m-40-17h0m30 23h0m-57-22h0m12 48h0m15-46h0m-25 0h0m80 15h0m36-49h0m-106-5h0m-14 45h0m55-5h0m17 10h0m-84-39h0m99 44h0m-57-10h0m10-2h0m-101 42h0m187-26h0m-141-21h0" stroke="#0000fa" stroke-width="6.85" stroke-linecap="round" fill="none"/>
<path d="M1463 702h0m-80-13h0m27 64h0m30-33h0m46-13h0m1 5h0m-39 24h0m-30-19h0m4-14h0m18 60h0m41-84h0m-54 55h0m-1-7h0m41 26h0m-42-46h0m12 40h0m2-23h0m38 33h0m-66 2h0m3-46h0m-33-30h0m62 33h0m-27-16h0m16 44h0m19-10h0m72 5h0m-69-46h0m-87 14h0m-95-16h0m202 15h0m-52 29h0m5-9h0m45-5h0m-63 63h0m88-54h0m6-7h0m-28 10h0m55 6h0m-65-6h0m4-8h0m-60-25h0m-8 33h0m6-24h0m-36-31h0m34 50h0m8-13h0m9 49h0m-18-45h0m-13 27h0m82-21h0m-65 25h0m94 3h0m-69-19h0m-14 2h0m94 18h0m-44-43h0m-33 27h0m-37-22h0m14 3h0m-1 4h0m19-8h0m-62 17h0m73-63h0m-9 75h0m-28-32h0m81 57h0m-3-50h0m-76 21h0m-15 3h0m-5 1h0m77-67h0m-26 60h0m-12-10h0m-2 30h0m-7-38h0m77-3h0m-98 21h0m-17 25h0m121-48h0m-90-4h0m-1 7h0m60 33h0m-93-33h0m-31 14h0m56-34h0m81 28h0m-87 26h0m3-28h0m-39-7h0m62-3h0m-68 44h0m100-56h0m94 82h0m-39-58h0m-26 52h0m-109-56h0m40 16h0m13-17h0m-56 27h0m45-17h0m4 22h0m-58-44h0m32-4h0m8-4h0m47 20h0m5 35h0m26-9h0m9 26h0m-42-12h0m-8 16h0m-14-36h0m-4 7h0m5-55h0m20-2h0m-53 23h0m58 17h0m47 1h0m-49-52h0m-1 51h0m-18 11h0m-125-34h0m62 10h0m126-16h0m-94 33h0m80-5h0m-70-32h0m-19 3h0m26 51h0m88-57h0m-26 18h0m-113-13h0m70 30h0m4-2h0m50 13h0m-40 10h0m-97-27h0m95-3h0m-23-26h0m60 24h0m69 35h0m-171-66h0m22 24h0m22-10h0m-12 31h0m-59 16h0m87-35h0m-53 5h0m62 15h0m10-9h0m72 56h0m-87-29h0m36-12h0m-41 8h0m-49-60h0m-9 33h0m23 20h0m28-8h0m50 3h0m12-16h0m-27 7h0m-74 33h0m41-26h0m-15-19h0m82 50h0m-60-41h0m-58-2h0m154-1h0m-100 9h0m8-12h0m-88 46h0m55-64h0m29 23h0m71 3h0m-124-2h0m27 23h0m46 4h0m-50-17h0m-5 23h0m11-45h0m-39 38h0m58-24h0m-11 10h0m11-17h0m41-14h0m-145 63h0m94-53h0m18 11h0m-43-6h0m-18-37h0m9 71h0m-22-15h0m36-19h0m-4-31h0m76 8h0m29 8h0m11 23h0m-36-24h0m-2 3h0m-1 57h0m-59-32h0m-85 3h0m67 61h0m52-3h0m-84-91h0m80 14h0m31 28h0m-119-1h0m73 53h0m16-82h0m-18-8h0m-37 38h0m11-24h0m32 20h0m0 23h0m-22-85h0m23 41h0" stroke="#000060" stroke-width="7.75" stroke-linecap="round" fill="none"/>
<path d="M1463 702h0m-80-13h0m27 64h0m30-33h0m46-13h0m1 5h0m-39 24h0m-30-19h0m4-14h0m18 60h0m41-84h0m-54 55h0m-1-7h0m41 26h0m-42-46h0m12 40h0m2-23h0m38 33h0m-66 2h0m3-46h0m-33-30h0m62 33h0m-27-16h0m16 44h0m19-10h0m72 5h0m-69-46h0m-87 14h0m-95-16h0m202 15h0m-52 29h0m5-9h0m45-5h0m-63 63h0m88-54h0m6-7h0m-28 10h0m55 6h0m-65-6h0m4-8h0m-60-25h0m-8 33h0m6-24h0m-36-31h0m34 50h0m8-13h0m9 49h0m-18-45h0m-13 27h0m82-21h0m-65 25h0m94 3h0m-69-19h0m-14 2h0m94 18h0m-44-43h0m-33 27h0m-37-22h0m14 3h0m-1 4h0m19-8h0m-62 17h0m73-63h0m-9 75h0m-28-32h0m81 57h0m-3-50h0m-76 21h0m-15 3h0m-5 1h0m77-67h0m-26 60h0m-12-10h0m-2 30h0m-7-38h0m77-3h0m-98 21h0m-17 25h0m121-48h0m-90-4h0m-1 7h0m60 33h0m-93-33h0m-31 14h0m56-34h0m81 28h0m-87 26h0m3-28h0m-39-7h0m62-3h0m-68 44h0m100-56h0m94 82h0m-39-58h0m-26 52h0m-109-56h0m40 16h0m13-17h0m-56 27h0m45-17h0m4 22h0m-58-44h0m32-4h0m8-4h0m47 20h0m5 35h0m26-9h0m9 26h0m-42-12h0m-8 16h0m-14-36h0m-4 7h0m5-55h0m20-2h0m-53 23h0m58 17h0m47 1h0m-49-52h0m-1 51h0m-18 11h0m-125-34h0m62 10h0m126-16h0m-94 33h0m80-5h0m-70-32h0m-19 3h0m26 51h0m88-57h0m-26 18h0m-113-13h0m70 30h0m4-2h0m50 13h0m-40 10h0m-97-27h0m95-3h0m-23-26h0m60 24h0m69 35h0m-171-66h0m22 24h0m22-10h0m-12 31h0m-59 16h0m87-35h0m-53 5h0m62 15h0m10-9h0m72 56h0m-87-29h0m36-12h0m-41 8h0m-49-60h0m-9 33h0m23 20h0m28-8h0m50 3h0m12-16h0m-27 7h0m-74 33h0m41-26h0m-15-19h0m82 50h0m-60-41h0m-58-2h0m154-1h0m-100 9h0m8-12h0m-88 46h0m55-64h0m29 23h0m71 3h0m-124-2h0m27 23h0m46 4h0m-50-17h0m-5 23h0m11-45h0m-39 38h0m58-24h0m-11 10h0m11-17h0m41-14h0m-145 63h0m94-53h0m18 11h0m-43-6h0m-18-37h0m9 71h0m-22-15h0m36-19h0m-4-31h0m76 8h0m29 8h0m11 23h0m-36-24h0m-2 3h0m-1 57h0m-59-32h0m-85 3h0m67 61h0m52-3h0m-84-91h0m80 14h0m31 28h0m-119-1h0m73 53h0m16-82h0m-18-8h0m-37 38h0m11-24h0m32 20h0m0 23h0m-22-85h0m23 41h0" stroke="#0000fa" stroke-width="6.85" stroke-linecap="round" fill="none"/>
<path d="M1412 738h0m17-10h0m26-5h0m-44-6h0m81 10h0m-89-22h0m26-4h0m-83 42h0m106-14h0m14-33h0m-115 16h0m79 8h0m-63 23h0m41 3h0m-11-34h0m95 21h0m-91 6h0m-9-18h0m96-11h0m-106 58h0m55-9h0m-11-40h0m17-19h0m11 13h0m-8 39h0m7-43h0m8-8h0m-73 71h0m27-23h0m-19-47h0m49 8h0m-35 23h0m91-46h0m0 93h0m-39-40h0m-6-32h0m-14 23h0m-54-36h0m64 18h0m-43 9h0m41 2h0m-73-51h0m62 39h0m-8-10h0m-55 12h0m91-18h0m-46-14h0m40 26h0m-50 20h0m-35-12h0m121 27h0m-43-1h0m18 24h0m12-46h0m-30-2h0m-27 5h0m-10-3h0m83 58h0m-59-44h0m-20 51h0m9-39h0m9-19h0m14 26h0m29-11h0m-35-34h0m-91-19h0m74 28h0m-66 7h0m-40 27h0m110-68h0m-46 19h0m39 53h0m55-12h0m-15-23h0m-74 5h0m54 9h0m89-61h0m-68 55h0m-4 0h0m-26 36h0m39-37h0m-44-7h0m19 61h0m2-41h0m-9-23h0m-59-5h0m113-3h0m-74 30h0m40-23h0m-27 30h0m-5-24h0m50-19h0m-86 19h0m60-3h0m-51 2h0m4 25h0m50 15h0m-2-41h0m-96 41h0m109-26h0m-1 15h0m-97-25h0m20-40h0m56 57h0m-58-7h0m-31 1h0m104 27h0m-55 4h0m86-30h0m12 21h0m-60-17h0m-24-21h0m12 14h0m23-5h0m-66 5h0m50 15h0m13-21h0m-22-34h0m-23 24h0m-2-8h0m57-6h0m-43-23h0m-61 83h0m44-58h0m92 44h0m-53-38h0m-18 9h0m-16-34h0m92-2h0m-58 52h0m-19 12h0m32 15h0m-55-22h0m-32 36h0m26-52h0m37-25h0m47-5h0m-71 33h0m72-30h0m18-14h0m6 42h0m-61-26h0m83 28h0m-5-45h0m-168 63h0m154 32h0m-76-42h0m55-12h0m1 15h0m-37-12h0m22 28h0m-49 78h0m18-80h0m-2-5h0m-32-25h0m-9-24h0m3 4h0m9 27h0m-3-1h0m-14 9h0m47 13h0m-18-17h0m-3 23h0m-19-35h0m62-36h0m-73 43h0m24 17h0m23-55h0m-11 48h0m53-7h0m-114 15h0m45 0h0m42-44h0m-14-17h0m-46 18h0m89-5h0m-111 36h0m101-21h0m22-24h0m19 24h0m-115 37h0m38-5h0m-19-38h0m-14 29h0m68 19h0m-92-39h0m69-10h0m-110 23h0m80 4h0m5-12h0m45 19h0m-35-49h0m8 33h0m-73-21h0m75 1h0m22 20h0m0-24h0m-30 75h0m-42-69h0m15 37h0m-6-20h0m-53 5h0m71-44h0m-64 31h0m49 17h0m31 19h0m-28-19h0m59 31h0m21-43h0m25-24h0m-146 66h0m63-62h0m0 12h0m-10 39h0m-15-40h0m-20-6h0" stroke="#000060" stroke-width="7.75" stroke-linecap="round" fill="none"/>
<path d="M1412 738h0m17-10h0m26-5h0m-44-6h0m81 10h0m-89-22h0m26-4h0m-83 42h0m106-14h0m14-33h0m-115 16h0m79 8h0m-63 23h0m41 3h0m-11-34h0m95 21h0m-91 6h0m-9-18h0m96-11h0m-106 58h0m55-9h0m-11-40h0m17-19h0m11 13h0m-8 39h0m7-43h0m8-8h0m-73 71h0m27-23h0m-19-47h0m49 8h0m-35 23h0m91-46h0m0 93h0m-39-40h0m-6-32h0m-14 23h0m-54-36h0m64 18h0m-43 9h0m41 2h0m-73-51h0m62 39h0m-8-10h0m-55 12h0m91-18h0m-46-14h0m40 26h0m-50 20h0m-35-12h0m121 27h0m-43-1h0m18 24h0m12-46h0m-30-2h0m-27 5h0m-10-3h0m83 58h0m-59-44h0m-20 51h0m9-39h0m9-19h0m14 26h0m29-11h0m-35-34h0m-91-19h0m74 28h0m-66 7h0m-40 27h0m110-68h0m-46 19h0m39 53h0m55-12h0m-15-23h0m-74 5h0m54 9h0m89-61h0m-68 55h0m-4 0h0m-26 36h0m39-37h0m-44-7h0m19 61h0m2-41h0m-9-23h0m-59-5h0m113-3h0m-74 30h0m40-23h0m-27 30h0m-5-24h0m50-19h0m-86 19h0m60-3h0m-51 2h0m4 25h0m50 15h0m-2-41h0m-96 41h0m109-26h0m-1 15h0m-97-25h0m20-40h0m56 57h0m-58-7h0m-31 1h0m104 27h0m-55 4h0m86-30h0m12 21h0m-60-17h0m-24-21h0m12 14h0m23-5h0m-66 5h0m50 15h0m13-21h0m-22-34h0m-23 24h0m-2-8h0m57-6h0m-43-23h0m-61 83h0m44-58h0m92 44h0m-53-38h0m-18 9h0m-16-34h0m92-2h0m-58 52h0m-19 12h0m32 15h0m-55-22h0m-32 36h0m26-52h0m37-25h0m47-5h0m-71 33h0m72-30h0m18-14h0m6 42h0m-61-26h0m83 28h0m-5-45h0m-168 63h0m154 32h0m-76-42h0m55-12h0m1 15h0m-37-12h0m22 28h0m-49 78h0m18-80h0m-2-5h0m-32-25h0m-9-24h0m3 4h0m9 27h0m-3-1h0m-14 9h0m47 13h0m-18-17h0m-3 23h0m-19-35h0m62-36h0m-73 43h0m24 17h0m23-55h0m-11 48h0m53-7h0m-114 15h0m45 0h0m42-44h0m-14-17h0m-46 18h0m89-5h0m-111 36h0m101-21h0m22-24h0m19 24h0m-115 37h0m38-5h0m-19-38h0m-14 29h0m68 19h0m-92-39h0m69-10h0m-110 23h0m80 4h0m5-12h0m45 19h0m-35-49h0m8 33h0m-73-21h0m75 1h0m22 20h0m0-24h0m-30 75h0m-42-69h0m15 37h0m-6-20h0m-53 5h0m71-44h0m-64 31h0m49 17h0m31 19h0m-28-19h0m59 31h0m21-43h0m25-24h0m-146 66h0m63-62h0m0 12h0m-10 39h0m-15-40h0m-20-6h0" stroke="#0000fa" stroke-width="6.85" stroke-linecap="round" fill="none"/>
<path d="M1430 703h0m-3 59h0m-46-61h0m35 31h0m42-10h0m-50 7h0m-22 28h0m41-83h0m36 73h0m-24-35h0m-43 4h0m0 33h0m35-15h0m41-12h0m102-3h0m-98-24h0m-64 11h0m56 30h0m-50 9h0m3-39h0m-38 6h0m77 70h0m5-52h0m-106-19h0m51-17h0m57 37h0m-48-18h0m5-19h0m47 55h0m-97 27h0m-2-33h0m86 42h0m-28-81h0m19 12h0m-104 35h0m45-12h0m-3-25h0m104 62h0m-7-58h0m-103 22h0m62-5h0m5 7h0m-50-32h0m22-25h0m-4 67h0m67-36h0m-64-18h0m-16-13h0m7 34h0m-1 17h0m28-29h0m-31 14h0m86 9h0m-43-26h0m-88 50h0m86-27h0m-15 2h0m5 8h0m-41-6h0m52-11h0m47 14h0m-112-44h0m13 20h0m0-7h0m152 37h0m-178-12h0m34-21h0m-1 26h0m66-31h0m-48 53h0m43 8h0m-8-33h0m-37 13h0m69 33h0m-72-56h0m-34 21h0m41 1h0m-40-1h0m46-24h0m-18 23h0m-38-48h0m116 51h0m-13 0h0m-62-7h0m-7-26h0m-7 26h0m63 10h0m-17-46h0m54 40h0m-84 6h0m15-32h0m-42-11h0m38 28h0m52 62h0m-65-65h0m66-26h0m-89 46h0m49-44h0m51 25h0m-50-19h0m78-3h0m-106 28h0m19-24h0m32 11h0m-56 17h0m-34-28h0m20 35h0m16-20h0m-3-10h0m-4-4h0m41-49h0m-55 57h0m44-4h0m-8-22h0m-42 31h0m-3 19h0m70-7h0m-55 7h0m16-20h0m-12 20h0m79-23h0m10-10h0m-81 7h0m35 22h0m12-18h0m-10 7h0m26-7h0m-44-28h0m21 15h0m5 43h0m7-96h0m-17 52h0m5 18h0m-5-5h0m-64 10h0m44-11h0m-7 26h0m84-54h0m-110 31h0m54-13h0m21 3h0m-25-13h0m-19 4h0m-18 37h0m-2-12h0m25-17h0m46 46h0m-4-37h0m-53 0h0m21 20h0m68-13h0m-94 4h0m35 3h0m-22-14h0m83 34h0m-40-26h0m-67 5h0m106-13h0m-68 62h0m-15-76h0m59 33h0m-78 13h0m-21-20h0m26 17h0m79 14h0m17-47h0m-118 29h0m6-47h0m124 22h0m-143-18h0m65 32h0m-41-37h0m6 7h0m-67-2h0m66 31h0m29-19h0m46 10h0m19 28h0m23-1h0m-72-56h0m-117 20h0m112 2h0m-40 19h0m0-17h0m10 10h0m-5 20h0m40-42h0m-124 30h0m112-15h0m-31 41h0m27-99h0m-52 55h0m33-7h0m29 17h0m64 6h0m-41-16h0m-77 9h0m22-10h0m67 39h0m-63-9h0m38-11h0m-18 32h0m-26-39h0m67-41h0m-46 4h0m-13 10h0m-31 15h0m4 0h0m63 20h0m-73 15h0m114 20h0m-18-55h0m16 47h0m-73-58h0m46-7h0m-25 12h0" stroke="#000060" stroke-width="7.75" stroke-linecap="round" fill="none"/>
<path d="M1430 703h0m-3 59h0m-46-61h0m35 31h0m42-10h0m-50 7h0m-22 28h0m41-83h0m36 73h0m-24-35h0m-43 4h0m0 33h0m35-15h0m41-12h0m102-3h0m-98-24h0m-64 11h0m56 30h0m-50 9h0m3-39h0m-38 6h0m77 70h0m5-52h0m-106-19h0m51-17h0m57 37h0m-48-18h0m5-19h0m47 55h0m-97 27h0m-2-33h0m86 42h0m-28-81h0m19 12h0m-104 35h0m45-12h0m-3-25h0m104 62h0m-7-58h0m-103 22h0m62-5h0m5 7h0m-50-32h0m22-25h0m-4 67h0m67-36h0m-64-18h0m-16-13h0m7 34h0m-1 17h0m28-29h0m-31 14h0m86 9h0m-43-26h0m-88 50h0m86-27h0m-15 2h0m5 8h0m-41-6h0m52-11h0m47 14h0m-112-44h0m13 20h0m0-7h0m152 37h0m-178-12h0m34-21h0m-1 26h0m66-31h0m-48 53h0m43 8h0m-8-33h0m-37 13h0m69 33h0m-72-56h0m-34 21h0m41 1h0m-40-1h0m46-24h0m-18 23h0m-38-48h0m116 51h0m-13 0h0m-62-7h0m-7-26h0m-7 26h0m63 10h0m-17-46h0m54 40h0m-84 6h0m15-32h0m-42-11h0m38 28h0m52 62h0m-65-65h0m66-26h0m-89 46h0m49-44h0m51 25h0m-50-19h0m78-3h0m-106 28h0m19-24h0m32 11h0m-56 17h0m-34-28h0m20 35h0m16-20h0m-3-10h0m-4-4h0m41-49h0m-55 57h0m44-4h0m-8-22h0m-42 31h0m-3 19h0m70-7h0m-55 7h0m16-20h0m-12 20h0m79-23h0m10-10h0m-81 7h0m35 22h0m12-18h0m-10 7h0m26-7h0m-44-28h0m21 15h0m5 43h0m7-96h0m-17 52h0m5 18h0m-5-5h0m-64 10h0m44-11h0m-7 26h0m84-54h0m-110 31h0m54-13h0m21 3h0m-25-13h0m-19 4h0m-18 37h0m-2-12h0m25-17h0m46 46h0m-4-37h0m-53 0h0m21 20h0m68-13h0m-94 4h0m35 3h0m-22-14h0m83 34h0m-40-26h0m-67 5h0m106-13h0m-68 62h0m-15-76h0m59 33h0m-78 13h0m-21-20h0m26 17h0m79 14h0m17-47h0m-118 29h0m6-47h0m124 22h0m-143-18h0m65 32h0m-41-37h0m6 7h0m-67-2h0m66 31h0m29-19h0m46 10h0m19 28h0m23-1h0m-72-56h0m-117 20h0m112 2h0m-40 19h0m0-17h0m10 10h0m-5 20h0m40-42h0m-124 30h0m112-15h0m-31 41h0m27-99h0m-52 55h0m33-7h0m29 17h0m64 6h0m-41-16h0m-77 9h0m22-10h0m67 39h0m-63-9h0m38-11h0m-18 32h0m-26-39h0m67-41h0m-46 4h0m-13 10h0m-31 15h0m4 0h0m63 20h0m-73 15h0m114 20h0m-18-55h0m16 47h0m-73-58h0m46-7h0m-25 12h0" stroke="#0000fa" stroke-width="6.85" stroke-linecap="round" fill="none"/>
<path d="M1332 766h0m52-27h0m112 19h0m-68-74h0m5 29h0m12 17h0m-62-41h0m94 20h0m-17 18h0m-89-17h0m94 24h0m25-49h0m-127 44h0m13-16h0m15 35h0m103-32h0m-27 5h0m-2-19h0m-63 40h0m-19-6h0m88-22h0m-65 49h0m48-37h0m-37 15h0m10-25h0m-10-20h0m-27-10h0m102-14h0m-52 49h0m-20 9h0m45-4h0m-19-26h0m9 55h0m-74-10h0m78 20h0m-37-43h0m54 3h0m-43 9h0m21-34h0m-20 31h0m15 7h0m85-27h0m-114 12h0m-17 23h0m37-36h0m6-36h0m14 56h0m-89-35h0m83 39h0m-94-27h0m56 6h0m35 14h0m-51 11h0m9 12h0m13-30h0m-83 12h0m91-2h0m-41-1h0m37-8h0m11-32h0m-65 15h0m63 24h0m54 34h0m-79-24h0m-17 26h0m44-76h0m51 56h0m-89-21h0m64-2h0m12 14h0m-23-6h0m-72 5h0m56-31h0m-100 21h0m144 20h0m-78-7h0m5-25h0m-19-15h0m17 9h0m-26 3h0m44-17h0m-39 48h0m100 13h0m-85-19h0m110 10h0m-154-28h0m95-12h0m-19 85h0m-18-3h0m72-41h0m-91-51h0m-4 34h0m41 17h0m-40 11h0m-78 3h0m56-20h0m19-9h0m48 20h0m51-31h0m-66-9h0m62-10h0m-63 23h0m43-18h0m-82-31h0m73 64h0m9-19h0m-28-10h0m-8-2h0m44 48h0m-29 5h0m-80-65h0m82 55h0m-24-40h0m41 42h0m49-13h0m-68-13h0m31 21h0m-66-14h0m-13-9h0m76 7h0m17-68h0m-30 61h0m-25 1h0m-70 17h0m130-45h0m-21 64h0m-82-27h0m75 42h0m-28-37h0m23-32h0m-57 22h0m22 52h0m-13-40h0m35-21h0m-80 34h0m-6-41h0m49-11h0m50 19h0m-72 76h0m98-65h0m-92-27h0m68 22h0m-42 20h0m-29-87h0m92 97h0m-9-24h0m22 15h0m-57 1h0m-33-25h0m35-12h0m-52 5h0m94 17h0m-64 11h0m30-32h0m-42 5h0m-8 16h0m31 12h0m-77-3h0m65-23h0m-28 15h0m54 21h0m-31-22h0m49-17h0m-55 64h0m35-65h0m-4 17h0m14 0h0m-58-9h0m63-6h0m-28 4h0m70-9h0m-31 11h0m-60-1h0m-8 3h0m101 27h0m-80-51h0m-36 13h0m14 14h0m77-46h0m26 30h0m-103 16h0m155-22h0m-115 29h0m34-7h0m-52-16h0m-10 18h0m18-13h0m11 9h0m-17-11h0m-13 3h0m-64 3h0m77-20h0m10 1h0m8-8h0m-32 32h0m18-9h0m-17-51h0m12 60h0m81 25h0m-78-53h0m39-10h0m70 38h0m-176-27h0m161-9h0m-151 75h0m105-35h0m-85 8h0m37-55h0m14 47h0m8-6h0m64-33h0m-57 57h0m54-12h0m-25 0h0m-35-37h0m-15-7h0" stroke="#000060" stroke-width="7.75" stroke-linecap="round" fill="none"/>
<path d="M1332 766h0m52-27h0m112 19h0m-68-74h0m5 29h0m12 17h0m-62-41h0m94 20h0m-17 18h0m-89-17h0m94 24h0m25-49h0m-127 44h0m13-16h0m15 35h0m103-32h0m-27 5h0m-2-19h0m-63 40h0m-19-6h0m88-22h0m-65 49h0m48-37h0m-37 15h0m10-25h0m-10-20h0m-27-10h0m102-14h0m-52 49h0m-20 9h0m45-4h0m-19-26h0m9 55h0m-74-10h0m78 20h0m-37-43h0m54 3h0m-43 9h0m21-34h0m-20 31h0m15 7h0m85-27h0m-114 12h0m-17 23h0m37-36h0m6-36h0m14 56h0m-89-35h0m83 39h0m-94-27h0m56 6h0m35 14h0m-51 11h0m9 12h0m13-30h0m-83 12h0m91-2h0m-41-1h0m37-8h0m11-32h0m-65 15h0m63 24h0m54 34h0m-79-24h0m-17 26h0m44-76h0m51 56h0m-89-21h0m64-2h0m12 14h0m-23-6h0m-72 5h0m56-31h0m-100 21h0m144 20h0m-78-7h0m5-25h0m-19-15h0m17 9h0m-26 3h0m44-17h0m-39 48h0m100 13h0m-85-19h0m110 10h0m-154-28h0m95-12h0m-19 85h0m-18-3h0m72-41h0m-91-51h0m-4 34h0m41 17h0m-40 11h0m-78 3h0m56-20h0m19-9h0m48 20h0m51-31h0m-66-9h0m62-10h0m-63 23h0m43-18h0m-82-31h0m73 64h0m9-19h0m-28-10h0m-8-2h0m44 48h0m-29 5h0m-80-65h0m82 55h0m-24-40h0m41 42h0m49-13h0m-68-13h0m31 21h0m-66-14h0m-13-9h0m76 7h0m17-68h0m-30 61h0m-25 1h0m-70 17h0m130-45h0m-21 64h0m-82-27h0m75 42h0m-28-37h0m23-32h0m-57 22h0m22 52h0m-13-40h0m35-21h0m-80 34h0m-6-41h0m49-11h0m50 19h0m-72 76h0m98-65h0m-92-27h0m68 22h0m-42 20h0m-29-87h0m92 97h0m-9-24h0m22 15h0m-57 1h0m-33-25h0m35-12h0m-52 5h0m94 17h0m-64 11h0m30-32h0m-42 5h0m-8 16h0m31 12h0m-77-3h0m65-23h0m-28 15h0m54 21h0m-31-22h0m49-17h0m-55 64h0m35-65h0m-4 17h0m14 0h0m-58-9h0m63-6h0m-28 4h0m70-9h0m-31 11h0m-60-1h0m-8 3h0m101 27h0m-80-51h0m-36 13h0m14 14h0m77-46h0m26 30h0m-103 16h0m155-22h0m-115 29h0m34-7h0m-52-16h0m-10 18h0m18-13h0m11 9h0m-17-11h0m-13 3h0m-64 3h0m77-20h0m10 1h0m8-8h0m-32 32h0m18-9h0m-17-51h0m12 60h0m81 25h0m-78-53h0m39-10h0m70 38h0m-176-27h0m161-9h0m-151 75h0m105-35h0m-85 8h0m37-55h0m14 47h0m8-6h0m64-33h0m-57 57h0m54-12h0m-25 0h0m-35-37h0m-15-7h0" stroke="#0000fa" stroke-width="6.85" stroke-linecap="round" fill="none"/>
<path d="M1460 765h0m90-12h0m-133-14h0m35-8h0m-29 25h0m26-29h0m-50-8h0m-10 20h0m98-30h0m-101 46h0m49-39h0m-92 18h0m103-64h0m41 72h0m-52 27h0m12-71h0m-50 61h0m-1-17h0m-4-1h0m15-29h0m36 14h0m-41-22h0m32 19h0m-60-28h0m85 15h0m-87 40h0m-6 18h0m158-67h0m-108 36h0m58-44h0m-75 5h0m2 65h0m57-43h0m-103 46h0m59-70h0m25 31h0m-5-24h0m-48 37h0m86-19h0m-12-9h0m-2 16h0m29-71h0m-101 59h0m66 14h0m0 1h0m5 17h0m4-19h0m-37-37h0m-34 20h0m32-13h0m-16 15h0m65 22h0m-115 8h0m57 6h0m39-27h0m-15 7h0m7-31h0m-42 19h0m33-1h0m89 3h0m-121 1h0m-15 26h0m21 0h0m91-2h0m19-28h0m-62 13h0m18-33h0m-83 39h0m62 23h0m-35-31h0m58-15h0m-89 10h0m16 24h0m54-26h0m10 17h0m2-22h0m-46-1h0m-21 24h0m77-31h0m-25 37h0m-64-70h0m29 82h0m50 3h0m72-9h0m-147-27h0m43-4h0m-5-24h0m-72 50h0m111 21h0m-43-25h0m-4 20h0m55-16h0m-7 6h0m-68 6h0m23-25h0m-13-4h0m-7-2h0m6-11h0m92 24h0m-133-47h0m32 64h0m-2-48h0m61 7h0m-37 10h0m24-10h0m-75 23h0m-34-57h0m18 46h0m18-7h0m37 6h0m72 10h0m-53-47h0m23 45h0m-20 15h0m53-14h0m16 19h0m-17-9h0m-83 2h0m66-10h0m15 5h0m-69 16h0m18-3h0m52-14h0m-42-4h0m35 11h0m-34-7h0m35-7h0m-38-36h0m-34 59h0m46-44h0m-24 52h0m58-30h0m-37-4h0m-12-27h0m-91 30h0m64 7h0m-11-16h0m12 1h0m-24 20h0m8-18h0m29 26h0m-6-24h0m76 4h0m-72-29h0m50 9h0m-60-9h0m29 14h0m-14 5h0m47 6h0m-41 12h0m10-41h0m-97 33h0m88-44h0m-15 15h0m-18 56h0m38-79h0m-24 57h0m85-41h0m-82 1h0m34 39h0m-18 9h0m51-30h0m-7 41h0m-55-77h0m61 78h0m-100-32h0m40 3h0m-23-49h0m90 69h0m-60-11h0m-49-32h0m68 38h0m-93-6h0m111-35h0m7 18h0m-46 21h0m-74-7h0m112-8h0m-106 0h0m96-13h0m62 27h0m-38 5h0m-16-41h0m22 7h0m-30-11h0m-41 14h0m100 8h0m-61 25h0m-14-14h0m-1-48h0m50 37h0m-24-10h0m23 3h0m-101-14h0m34 55h0m34-26h0m-63-32h0m33 1h0m69 58h0m-52-59h0m-43 29h0m52-34h0m-72 11h0m70-17h0m-47 21h0m-19 104h0m58-120h0m-55 54h0m113-16h0m-54-7h0m-23 22h0m57-29h0m-10 22h0m-33-62h0m5 2h0m-5 56h0" stroke="#000060" stroke-width="7.75" stroke-linecap="round" fill="none"/>
<path d="M1460 765h0m90-12h0m-133-14h0m35-8h0m-29 25h0m26-29h0m-50-8h0m-10 20h0m98-30h0m-101 46h0m49-39h0m-92 18h0m103-64h0m41 72h0m-52 27h0m12-71h0m-50 61h0m-1-17h0m-4-1h0m15-29h0m36 14h0m-41-22h0m32 19h0m-60-28h0m85 15h0m-87 40h0m-6 18h0m158-67h0m-108 36h0m58-44h0m-75 5h0m2 65h0m57-43h0m-103 46h0m59-70h0m25 31h0m-5-24h0m-48 37h0m86-19h0m-12-9h0m-2 16h0m29-71h0m-101 59h0m66 14h0m0 1h0m5 17h0m4-19h0m-37-37h0m-34 20h0m32-13h0m-16 15h0m65 22h0m-115 8h0m57 6h0m39-27h0m-15 7h0m7-31h0m-42 19h0m33-1h0m89 3h0m-121 1h0m-15 26h0m21 0h0m91-2h0m19-28h0m-62 13h0m18-33h0m-83 39h0m62 23h0m-35-31h0m58-15h0m-89 10h0m16 24h0m54-26h0m10 17h0m2-22h0m-46-1h0m-21 24h0m77-31h0m-25 37h0m-64-70h0m29 82h0m50 3h0m72-9h0m-147-27h0m43-4h0m-5-24h0m-72 50h0m111 21h0m-43-25h0m-4 20h0m55-16h0m-7 6h0m-68 6h0m23-25h0m-13-4h0m-7-2h0m6-11h0m92 24h0m-133-47h0m32 64h0m-2-48h0m61 7h0m-37 10h0m24-10h0m-75 23h0m-34-57h0m18 46h0m18-7h0m37 6h0m72 10h0m-53-47h0m23 45h0m-20 15h0m53-14h0m16 19h0m-17-9h0m-83 2h0m66-10h0m15 5h0m-69 16h0m18-3h0m52-14h0m-42-4h0m35 11h0m-34-7h0m35-7h0m-38-36h0m-34 59h0m46-44h0m-24 52h0m58-30h0m-37-4h0m-12-27h0m-91 30h0m64 7h0m-11-16h0m12 1h0m-24 20h0m8-18h0m29 26h0m-6-24h0m76 4h0m-72-29h0m50 9h0m-60-9h0m29 14h0m-14 5h0m47 6h0m-41 12h0m10-41h0m-97 33h0m88-44h0m-15 15h0m-18 56h0m38-79h0m-24 57h0m85-41h0m-82 1h0m34 39h0m-18 9h0m51-30h0m-7 41h0m-55-77h0m61 78h0m-100-32h0m40 3h0m-23-49h0m90 69h0m-60-11h0m-49-32h0m68 38h0m-93-6h0m111-35h0m7 18h0m-46 21h0m-74-7h0m112-8h0m-106 0h0m96-13h0m62 27h0m-38 5h0m-16-41h0m22 7h0m-30-11h0m-41 14h0m100 8h0m-61 25h0m-14-14h0m-1-48h0m50 37h0m-24-10h0m23 3h0m-101-14h0m34 55h0m34-26h0m-63-32h0m33 1h0m69 58h0m-52-59h0m-43 29h0m52-34h0m-72 11h0m70-17h0m-47 21h0m-19 104h0m58-120h0m-55 54h0m113-16h0m-54-7h0m-23 22h0m57-29h0m-10 22h0m-33-62h0m5 2h0m-5 56h0" stroke="#0000fa" stroke-width="6.85" stroke-linecap="round" fill="none"/>
<path d="M1385 796h0m4-16h0m-15-39h0m98-25h0m-62 30h0m2-11h0m-20 0h0m113 4h0m-30 14h0m-61-37h0m40 57h0m-51-69h0m17 18h0m9 13h0m35 8h0m-95-18h0m50 4h0m19 2h0m-36 2h0m24-2h0m84-27h0m-143 38h0m16-18h0m42 34h0m51-45h0m-11 18h0m31-37h0m-120-9h0m92 38h0m-37 2h0m87 25h0m-68-16h0m-13-4h0m-67 9h0m107-22h0m-63 47h0m43 3h0m-49-35h0m105 6h0m32-6h0m-46 32h0m-88-38h0m-21 8h0m-15 5h0m9-13h0m88-1h0m-1-35h0m10 80h0m-80-47h0m18-4h0m23-4h0m126 15h0m-151 13h0m70-4h0m-40-21h0m-26 26h0m0-21h0m35-7h0m-23 5h0m24 45h0m-50-22h0m17-13h0m-4-11h0m40 20h0m-40 8h0m64-14h0m-83-6h0m108-2h0m-123 27h0m39-11h0m-33-3h0m37 13h0m104-3h0m-138-32h0m-34 15h0m89-33h0m4 27h0m-82 47h0m0-58h0m103-1h0m-1 26h0m-38-10h0m-29 42h0m-60-57h0m101 7h0m10-14h0m-34 39h0m93-51h0m-152-11h0m37 8h0m48 27h0m-86-8h0m69 1h0m-7-2h0m-65 22h0m25-20h0m99 45h0m-81-37h0m46 30h0m-33-20h0m-59 28h0m85-58h0m-56 41h0m20-8h0m-20-22h0m12 29h0m129-72h0m-138 33h0m25 37h0m-6-7h0m24 41h0m-29-51h0m-11-25h0m21 10h0m9 21h0m32 23h0m7-27h0m2 14h0m2-2h0m-69 20h0m-6-22h0m36 15h0m-60-11h0m52 22h0m11-3h0m-28-37h0m0 7h0m113-7h0m-3-3h0m-79 27h0m68 6h0m-63-24h0m-59 30h0m-50 37h0m99-73h0m26 19h0m53 7h0m-93 18h0m41-27h0m-76-4h0m101-15h0m-47 21h0m-46 17h0m28 19h0m-12-80h0m58-1h0m-54 105h0m-4-46h0m75-35h0m-11 7h0m-63-26h0m33 29h0m11 8h0m-25-26h0m108 38h0m-79-28h0m20 10h0m-80 3h0m27-7h0m-43 3h0m92-46h0m-12 45h0m-122-15h0m99 33h0m30-18h0m-67-26h0m2 11h0m68 5h0m48-15h0m-89 1h0m6 12h0m-10 17h0m1 12h0m15 6h0m18-25h0m-24 20h0m7-40h0m-14 23h0m1 59h0m51-98h0m-59 24h0m55-3h0m-94 3h0m61 2h0m5-23h0m103 13h0m-118 46h0m-11-73h0m46 48h0m-139-23h0m40 74h0m9-52h0m99-9h0m-62-7h0m-16 22h0m84 12h0m-25-77h0m-67 77h0m53-18h0m12 24h0m-64 28h0m-32-54h0m75 4h0m72-25h0m-42 23h0m12 7h0m-35 2h0m18-5h0m-81 2h0m35 2h0m17-7h0m37-13h0m39 33h0m-145-51h0m115 35h0m-12 9h0" stroke="#000060" stroke-width="7.75" stroke-linecap="round" fill="none"/>
<path d="M1385 796h0m4-16h0m-15-39h0m98-25h0m-62 30h0m2-11h0m-20 0h0m113 4h0m-30 14h0m-61-37h0m40 57h0m-51-69h0m17 18h0m9 13h0m35 8h0m-95-18h0m50 4h0m19 2h0m-36 2h0m24-2h0m84-27h0m-143 38h0m16-18h0m42 34h0m51-45h0m-11 18h0m31-37h0m-120-9h0m92 38h0m-37 2h0m87 25h0m-68-16h0m-13-4h0m-67 9h0m107-22h0m-63 47h0m43 3h0m-49-35h0m105 6h0m32-6h0m-46 32h0m-88-38h0m-21 8h0m-15 5h0m9-13h0m88-1h0m-1-35h0m10 80h0m-80-47h0m18-4h0m23-4h0m126 15h0m-151 13h0m70-4h0m-40-21h0m-26 26h0m0-21h0m35-7h0m-23 5h0m24 45h0m-50-22h0m17-13h0m-4-11h0m40 20h0m-40 8h0m64-14h0m-83-6h0m108-2h0m-123 27h0m39-11h0m-33-3h0m37 13h0m104-3h0m-138-32h0m-34 15h0m89-33h0m4 27h0m-82 47h0m0-58h0m103-1h0m-1 26h0m-38-10h0m-29 42h0m-60-57h0m101 7h0m10-14h0m-34 39h0m93-51h0m-152-11h0m37 8h0m48 27h0m-86-8h0m69 1h0m-7-2h0m-65 22h0m25-20h0m99 45h0m-81-37h0m46 30h0m-33-20h0m-59 28h0m85-58h0m-56 41h0m20-8h0m-20-22h0m12 29h0m129-72h0m-138 33h0m25 37h0m-6-7h0m24 41h0m-29-51h0m-11-25h0m21 10h0m9 21h0m32 23h0m7-27h0m2 14h0m2-2h0m-69 20h0m-6-22h0m36 15h0m-60-11h0m52 22h0m11-3h0m-28-37h0m0 7h0m113-7h0m-3-3h0m-79 27h0m68 6h0m-63-24h0m-59 30h0m-50 37h0m99-73h0m26 19h0m53 7h0m-93 18h0m41-27h0m-76-4h0m101-15h0m-47 21h0m-46 17h0m28 19h0m-12-80h0m58-1h0m-54 105h0m-4-46h0m75-35h0m-11 7h0m-63-26h0m33 29h0m11 8h0m-25-26h0m108 38h0m-79-28h0m20 10h0m-80 3h0m27-7h0m-43 3h0m92-46h0m-12 45h0m-122-15h0m99 33h0m30-18h0m-67-26h0m2 11h0m68 5h0m48-15h0m-89 1h0m6 12h0m-10 17h0m1 12h0m15 6h0m18-25h0m-24 20h0m7-40h0m-14 23h0m1 59h0m51-98h0m-59 24h0m55-3h0m-94 3h0m61 2h0m5-23h0m103 13h0m-118 46h0m-11-73h0m46 48h0m-139-23h0m40 74h0m9-52h0m99-9h0m-62-7h0m-16 22h0m84 12h0m-25-77h0m-67 77h0m53-18h0m12 24h0m-64 28h0m-32-54h0m75 4h0m72-25h0m-42 23h0m12 7h0m-35 2h0m18-5h0m-81 2h0m35 2h0m17-7h0m37-13h0m39 33h0m-145-51h0m115 35h0m-12 9h0" stroke="#0000fa" stroke-width="6.85" stroke-linecap="round" fill="none"/>
<path d="M1352 727h0m31-15h0m144 41h0m-87 14h0m10-19h0m27-21h0m-115-18h0m46 8h0m1 4h0m22 18h0m45-36h0m-38 21h0m59 21h0m-74-14h0m53-5h0m-133 9h0m-3-25h0m44 34h0m81-40h0m-38 14h0m-58 33h0m31-32h0m63-55h0m-11 60h0m-50 27h0m42-35h0m-35 0h0m85 45h0m-76-100h0m100 68h0m-32-7h0m-2-38h0m-16 49h0m-18 24h0m-7-30h0m-28 19h0m-17 23h0m47-50h0m-19-11h0m35-2h0m24 3h0m-42 40h0m-25-36h0m-54 5h0m87 18h0m-57-33h0m139-8h0m-90 23h0m91-6h0m-55 28h0m-75-17h0m29 16h0m-55-18h0m0 4h0m84 29h0m-64-31h0m36-2h0m-54 75h0m130-64h0m-61-41h0m48 18h0m-48 34h0m-56 2h0m56 49h0m8-79h0m37 12h0m-97 52h0m24-61h0m49-3h0m-38 1h0m-13 39h0m-22-20h0m-4-19h0m22-41h0m117 58h0m-97 44h0m22-45h0m-17 4h0m31-51h0m-69 57h0m41-37h0m-37 18h0m-22 4h0m24-32h0m-34 28h0m121-14h0m-104 0h0m58 39h0m-55-22h0m77 6h0m-23-28h0m117 7h0m-99 15h0m12 7h0m-67-40h0m-12 52h0m-18-46h0m52 21h0m45 29h0m-40-20h0m-8-18h0m-32 35h0m15-21h0m-16-51h0m129-11h0m-91 77h0m16 27h0m-87-45h0m78 12h0m-85-24h0m51 11h0m37-4h0m-33-6h0m-13 8h0m-42-26h0m128-27h0m-4 71h0m-30 19h0m-43-15h0m17 17h0m-51-34h0m101-7h0m-42 20h0m34 10h0m-86 7h0m87 9h0m-13 6h0m-22-11h0m-36 27h0m66-74h0m-41-4h0m-39 38h0m67-24h0m-48-16h0m9-10h0m56 35h0m-36-6h0m52-28h0m-45 44h0m24-39h0m-58 35h0m-22 6h0m14-36h0m83 22h0m-82-49h0m40 75h0m-24 0h0m59-34h0m-44-22h0m28 6h0m-16 26h0m24-34h0m-104 8h0m-1 16h0m54-1h0m13 11h0m-23 6h0m73 6h0m4 11h0m-18-49h0m0 49h0m-60-3h0m-35-37h0m39 21h0m-11 20h0m36-18h0m-33-29h0m102 25h0m-1-15h0m-32 65h0m-20-55h0m-31 16h0m29-59h0m-51 52h0m67-23h0m-95 20h0m33-32h0m55 5h0m46 28h0m-98-18h0m21-28h0m-35 12h0m24 38h0m86-62h0m-71 42h0m-4 9h0m36-35h0m-64 27h0m84 18h0m-10-8h0m-41 15h0m-68-75h0m42 67h0m-4-1h0m9-34h0m26 24h0m23-7h0m-36 24h0m-17-52h0m46 25h0m40 28h0m-61-10h0m3-14h0m31 43h0m-27-56h0m-43 73h0m42-53h0m-59-18h0m58-10h0m-44 23h0m131-2h0m-89 8h0m-14 7h0m-44-20h0m62 27h0m52 2h0" stroke="#000060" stroke-width="7.75" stroke-linecap="round" fill="none"/>
<path d="M1352 727h0m31-15h0m144 41h0m-87 14h0m10-19h0m27-21h0m-115-18h0m46 8h0m1 4h0m22 18h0m45-36h0m-38 21h0m59 21h0m-74-14h0m53-5h0m-133 9h0m-3-25h0m44 34h0m81-40h0m-38 14h0m-58 33h0m31-32h0m63-55h0m-11 60h0m-50 27h0m42-35h0m-35 0h0m85 45h0m-76-100h0m100 68h0m-32-7h0m-2-38h0m-16 49h0m-18 24h0m-7-30h0m-28 19h0m-17 23h0m47-50h0m-19-11h0m35-2h0m24 3h0m-42 40h0m-25-36h0m-54 5h0m87 18h0m-57-33h0m139-8h0m-90 23h0m91-6h0m-55 28h0m-75-17h0m29 16h0m-55-18h0m0 4h0m84 29h0m-64-31h0m36-2h0m-54 75h0m130-64h0m-61-41h0m48 18h0m-48 34h0m-56 2h0m56 49h0m8-79h0m37 12h0m-97 52h0m24-61h0m49-3h0m-38 1h0m-13 39h0m-22-20h0m-4-19h0m22-41h0m117 58h0m-97 44h0m22-45h0m-17 4h0m31-51h0m-69 57h0m41-37h0m-37 18h0m-22 4h0m24-32h0m-34 28h0m121-14h0m-104 0h0m58 39h0m-55-22h0m77 6h0m-23-28h0m117 7h0m-99 15h0m12 7h0m-67-40h0m-12 52h0m-18-46h0m52 21h0m45 29h0m-40-20h0m-8-18h0m-32 35h0m15-21h0m-16-51h0m129-11h0m-91 77h0m16 27h0m-87-45h0m78 12h0m-85-24h0m51 11h0m37-4h0m-33-6h0m-13 8h0m-42-26h0m128-27h0m-4 71h0m-30 19h0m-43-15h0m17 17h0m-51-34h0m101-7h0m-42 20h0m34 10h0m-86 7h0m87 9h0m-13 6h0m-22-11h0m-36 27h0m66-74h0m-41-4h0m-39 38h0m67-24h0m-48-16h0m9-10h0m56 35h0m-36-6h0m52-28h0m-45 44h0m24-39h0m-58 35h0m-22 6h0m14-36h0m83 22h0m-82-49h0m40 75h0m-24 0h0m59-34h0m-44-22h0m28 6h0m-16 26h0m24-34h0m-104 8h0m-1 16h0m54-1h0m13 11h0m-23 6h0m73 6h0m4 11h0m-18-49h0m0 49h0m-60-3h0m-35-37h0m39 21h0m-11 20h0m36-18h0m-33-29h0m102 25h0m-1-15h0m-32 65h0m-20-55h0m-31 16h0m29-59h0m-51 52h0m67-23h0m-95 20h0m33-32h0m55 5h0m46 28h0m-98-18h0m21-28h0m-35 12h0m24 38h0m86-62h0m-71 42h0m-4 9h0m36-35h0m-64 27h0m84 18h0m-10-8h0m-41 15h0m-68-75h0m42 67h0m-4-1h0m9-34h0m26 24h0m23-7h0m-36 24h0m-17-52h0m46 25h0m40 28h0m-61-10h0m3-14h0m31 43h0m-27-56h0m-43 73h0m42-53h0m-59-18h0m58-10h0m-44 23h0m131-2h0m-89 8h0m-14 7h0m-44-20h0m62 27h0m52 2h0" stroke="#0000fa" stroke-width="6.85" stroke-linecap="round" fill="none"/>
<path d="M1431 712h0m-5 4h0m16-16h0m27 54h0m10-8h0m-47-26h0m5-5h0m-42 30h0m5-33h0m84 74h0m-18-71h0m-34 34h0m-31-13h0m-4-16h0m97-3h0m-118 1h0m34 12h0m-30 3h0m23 10h0m53 34h0m-104-3h0m25-48h0m77 5h0m28 20h0m14-56h0m-88 44h0m38-16h0m-38 22h0m13-33h0m-23 16h0m53-7h0m7 5h0m4-24h0m-53 27h0m-7-2h0m18 10h0m1 15h0m1-43h0m49 8h0m-20 53h0m3-38h0m25 15h0m-6-25h0m8 40h0m44-66h0m-93 13h0m-43 50h0m103-27h0m-82-23h0m6 82h0m99-70h0m-143 34h0m114 3h0m-53-70h0m1 83h0m-86-38h0m50 18h0m81-63h0m-62 33h0m4 8h0m5-19h0m-42 57h0m47-72h0m10 24h0m-16-10h0m132 47h0m-138-75h0m63 61h0m-69-28h0m-67 10h0m10-16h0m56 23h0m31-18h0m-85 21h0m147 10h0m-37 1h0m-22-7h0m-45 20h0m68-40h0m-120-12h0m85 37h0m-22 3h0m23-5h0m-22 11h0m-12-50h0m11 13h0m-39 68h0m89-48h0m-52-75h0m36 80h0m27-32h0m26 43h0m-83-25h0m-42-12h0m-27 47h0m29-14h0m82-36h0m-53-15h0m37 34h0m50-3h0m-29-3h0m-36 9h0m6 2h0m-4-55h0m-42 57h0m5-36h0m50 25h0m25-1h0m0-17h0m-55-3h0m40 18h0m-28-23h0m48 14h0m-19-27h0m-74 36h0m96 4h0m-4 6h0m-104-22h0m-45 38h0m16-2h0m102-2h0m22-8h0m-38-16h0m6 13h0m22 29h0m-46-10h0m19-29h0m67 64h0m-144-60h0m37 21h0m36-52h0m28 12h0m-90 34h0m34-37h0m-20 26h0m57-34h0m-18 31h0m53-27h0m-45 37h0m-31 28h0m30 2h0m-77 18h0m61-27h0m-8 1h0m149-65h0m-105 24h0m-26 2h0m30-24h0m-29-9h0m47 49h0m-2-21h0m8 54h0m-61-30h0m31-14h0m38-16h0m22-50h0m-87 82h0m-5-25h0m4 6h0m-73 1h0m101 5h0m-23-9h0m-40 0h0m-5-18h0m-18 17h0m6-24h0m76 30h0m53 12h0m-1-36h0m-47 11h0m14 3h0m-35 43h0m26-24h0m-42-9h0m96 10h0m-73-7h0m-30 4h0m24-13h0m-12 18h0m-33 11h0m42-36h0m66-15h0m-81 60h0m106-19h0m-52-49h0m23 18h0m-98 9h0m51 61h0m-80-69h0m100 55h0m46-55h0m-88 4h0m34-32h0m71 124h0m-125-92h0m88 1h0m-69 19h0m-15 5h0m123-10h0m-49-2h0m-75 24h0m64-34h0m-24 17h0m-25-13h0m108-19h0m-82 44h0m21-15h0m66-21h0m-151 2h0m79 22h0m-68-20h0m49 67h0m61-28h0m-72-33h0m73 3h0m45-63h0" stroke="#000060" stroke-width="7.75" stroke-linecap="round" fill="none"/>
<path d="M1431 712h0m-5 4h0m16-16h0m27 54h0m10-8h0m-47-26h0m5-5h0m-42 30h0m5-33h0m84 74h0m-18-71h0m-34 34h0m-31-13h0m-4-16h0m97-3h0m-118 1h0m34 12h0m-30 3h0m23 10h0m53 34h0m-104-3h0m25-48h0m77 5h0m28 20h0m14-56h0m-88 44h0m38-16h0m-38 22h0m13-33h0m-23 16h0m53-7h0m7 5h0m4-24h0m-53 27h0m-7-2h0m18 10h0m1 15h0m1-43h0m49 8h0m-20 53h0m3-38h0m25 15h0m-6-25h0m8 40h0m44-66h0m-93 13h0m-43 50h0m103-27h0m-82-23h0m6 82h0m99-70h0m-143 34h0m114 3h0m-53-70h0m1 83h0m-86-38h0m50 18h0m81-63h0m-62 33h0m4 8h0m5-19h0m-42 57h0m47-72h0m10 24h0m-16-10h0m132 47h0m-138-75h0m63 61h0m-69-28h0m-67 10h0m10-16h0m56 23h0m31-18h0m-85 21h0m147 10h0m-37 1h0m-22-7h0m-45 20h0m68-40h0m-120-12h0m85 37h0m-22 3h0m23-5h0m-22 11h0m-12-50h0m11 13h0m-39 68h0m89-48h0m-52-75h0m36 80h0m27-32h0m26 43h0m-83-25h0m-42-12h0m-27 47h0m29-14h0m82-36h0m-53-15h0m37 34h0m50-3h0m-29-3h0m-36 9h0m6 2h0m-4-55h0m-42 57h0m5-36h0m50 25h0m25-1h0m0-17h0m-55-3h0m40 18h0m-28-23h0m48 14h0m-19-27h0m-74 36h0m96 4h0m-4 6h0m-104-22h0m-45 38h0m16-2h0m102-2h0m22-8h0m-38-16h0m6 13h0m22 29h0m-46-10h0m19-29h0m67 64h0m-144-60h0m37 21h0m36-52h0m28 12h0m-90 34h0m34-37h0m-20 26h0m57-34h0m-18 31h0m53-27h0m-45 37h0m-31 28h0m30 2h0m-77 18h0m61-27h0m-8 1h0m149-65h0m-105 24h0m-26 2h0m30-24h0m-29-9h0m47 49h0m-2-21h0m8 54h0m-61-30h0m31-14h0m38-16h0m22-50h0m-87 82h0m-5-25h0m4 6h0m-73 1h0m101 5h0m-23-9h0m-40 0h0m-5-18h0m-18 17h0m6-24h0m76 30h0m53 12h0m-1-36h0m-47 11h0m14 3h0m-35 43h0m26-24h0m-42-9h0m96 10h0m-73-7h0m-30 4h0m24-13h0m-12 18h0m-33 11h0m42-36h0m66-15h0m-81 60h0m106-19h0m-52-49h0m23 18h0m-98 9h0m51 61h0m-80-69h0m100 55h0m46-55h0m-88 4h0m34-32h0m71 124h0m-125-92h0m88 1h0m-69 19h0m-15 5h0m123-10h0m-49-2h0m-75 24h0m64-34h0m-24 17h0m-25-13h0m108-19h0m-82 44h0m21-15h0m66-21h0m-151 2h0m79 22h0m-68-20h0m49 67h0m61-28h0m-72-33h0m73 3h0m45-63h0" stroke="#0000fa" stroke-width="6.85" stroke-linecap="round" fill="none"/>
<path d="M1426 737h0m-3-24h0m-78-1h0m53-22h0m-8 49h0m2 10h0m28-23h0m5 20h0m33-9h0m-7-10h0m-15-20h0m-30 136h0m9-82h0m13-54h0m84 25h0m-126-2h0m40 22h0m-57-36h0m-37 23h0m94-28h0m53-16h0m-85 69h0m95-26h0m-52-8h0m-37 6h0m62 6h0m41-31h0m-70-15h0m19-2h0m-6 19h0m-108-4h0m145 39h0m-51 9h0m6-20h0m-38-19h0m9 34h0m63 9h0m-71-45h0m85-10h0m-24 31h0m-76-35h0m36 53h0m-9-14h0m63-31h0m-5 41h0m19-15h0m-93 3h0m42 42h0m-61-21h0m25-39h0m58-19h0m-65 18h0m-24 31h0m81-48h0m-58 46h0m14-26h0m5-7h0m51-48h0m-27 41h0m-62-32h0m98 46h0m-75 4h0m52 10h0m1-5h0m-18 6h0m57 5h0m-78 30h0m16 0h0m-83-55h0m57 38h0m44-44h0m-57 21h0m47-4h0m-36 24h0m69-40h0m-86 18h0m39-10h0m-1 18h0m33 42h0m-10-28h0m-8-39h0m24 18h0m-34-22h0m25 6h0m-16-3h0m-11-5h0m28 46h0m27-37h0m-80-14h0m3 30h0m13 5h0m62-19h0m-56 6h0m-56 0h0m68 0h0m-48-7h0m-19 1h0m92 13h0m-86-36h0m66 55h0m-60-32h0m0-30h0m16 51h0m75 29h0m-85-81h0m70 37h0m-7 3h0m-57 9h0m54-32h0m-71 35h0m88 39h0m18-57h0m7 21h0m-36-13h0m-73 11h0m78-2h0m6-32h0m-63 7h0m52-8h0m-1 28h0m-111-31h0m177 31h0m-25-24h0m-70 10h0m13-44h0m80 89h0m-79-42h0m56 6h0m-22-26h0m-109-13h0m125 48h0m12-36h0m-68-18h0m-25 58h0m48-5h0m-40-45h0m23 33h0m-48 9h0m45 2h0m13 2h0m23 20h0m35 34h0m-63-53h0m4 11h0m-4-40h0m-39 47h0m26-46h0m16 34h0m-3-3h0m8 7h0m-37-41h0m39 36h0m21 10h0m2-40h0m-79 19h0m87-24h0m-87 9h0m-23 65h0m31-87h0m19 80h0m62-49h0m-22-27h0m10 51h0m-15-9h0m25-6h0m-51-14h0m-41 31h0m46-18h0m-60-6h0m49-13h0m38 2h0m-46 26h0m25-59h0m64 42h0m-106-5h0m106 28h0m-114 15h0m6 18h0m72-21h0m-45-17h0m5-7h0m62-75h0m-34 39h0m0-1h0m-50 23h0m-18 6h0m59-21h0m5-5h0m8 35h0m-7 4h0m-7-19h0m-15 7h0m-50-13h0m-68-30h0m139 23h0m7 34h0m-69-39h0m-32 23h0m78-21h0m-81 20h0m113 15h0m-8-42h0m34 45h0m-59-48h0m-27 51h0m-15 9h0m60 14h0m-8-15h0m-4-56h0m25 24h0m-65-2h0m-28 1h0m67 3h0m-5-3h0m-14 39h0m-21-17h0" stroke="#000060" stroke-width="7.75" stroke-linecap="round" fill="none"/>
<path d="M1426 737h0m-3-24h0m-78-1h0m53-22h0m-8 49h0m2 10h0m28-23h0m5 20h0m33-9h0m-7-10h0m-15-20h0m-30 136h0m9-82h0m13-54h0m84 25h0m-126-2h0m40 22h0m-57-36h0m-37 23h0m94-28h0m53-16h0m-85 69h0m95-26h0m-52-8h0m-37 6h0m62 6h0m41-31h0m-70-15h0m19-2h0m-6 19h0m-108-4h0m145 39h0m-51 9h0m6-20h0m-38-19h0m9 34h0m63 9h0m-71-45h0m85-10h0m-24 31h0m-76-35h0m36 53h0m-9-14h0m63-31h0m-5 41h0m19-15h0m-93 3h0m42 42h0m-61-21h0m25-39h0m58-19h0m-65 18h0m-24 31h0m81-48h0m-58 46h0m14-26h0m5-7h0m51-48h0m-27 41h0m-62-32h0m98 46h0m-75 4h0m52 10h0m1-5h0m-18 6h0m57 5h0m-78 30h0m16 0h0m-83-55h0m57 38h0m44-44h0m-57 21h0m47-4h0m-36 24h0m69-40h0m-86 18h0m39-10h0m-1 18h0m33 42h0m-10-28h0m-8-39h0m24 18h0m-34-22h0m25 6h0m-16-3h0m-11-5h0m28 46h0m27-37h0m-80-14h0m3 30h0m13 5h0m62-19h0m-56 6h0m-56 0h0m68 0h0m-48-7h0m-19 1h0m92 13h0m-86-36h0m66 55h0m-60-32h0m0-30h0m16 51h0m75 29h0m-85-81h0m70 37h0m-7 3h0m-57 9h0m54-32h0m-71 35h0m88 39h0m18-57h0m7 21h0m-36-13h0m-73 11h0m78-2h0m6-32h0m-63 7h0m52-8h0m-1 28h0m-111-31h0m177 31h0m-25-24h0m-70 10h0m13-44h0m80 89h0m-79-42h0m56 6h0m-22-26h0m-109-13h0m125 48h0m12-36h0m-68-18h0m-25 58h0m48-5h0m-40-45h0m23 33h0m-48 9h0m45 2h0m13 2h0m23 20h0m35 34h0m-63-53h0m4 11h0m-4-40h0m-39 47h0m26-46h0m16 34h0m-3-3h0m8 7h0m-37-41h0m39 36h0m21 10h0m2-40h0m-79 19h0m87-24h0m-87 9h0m-23 65h0m31-87h0m19 80h0m62-49h0m-22-27h0m10 51h0m-15-9h0m25-6h0m-51-14h0m-41 31h0m46-18h0m-60-6h0m49-13h0m38 2h0m-46 26h0m25-59h0m64 42h0m-106-5h0m106 28h0m-114 15h0m6 18h0m72-21h0m-45-17h0m5-7h0m62-75h0m-34 39h0m0-1h0m-50 23h0m-18 6h0m59-21h0m5-5h0m8 35h0m-7 4h0m-7-19h0m-15 7h0m-50-13h0m-68-30h0m139 23h0m7 34h0m-69-39h0m-32 23h0m78-21h0m-81 20h0m113 15h0m-8-42h0m34 45h0m-59-48h0m-27 51h0m-15 9h0m60 14h0m-8-15h0m-4-56h0m25 24h0m-65-2h0m-28 1h0m67 3h0m-5-3h0m-14 39h0m-21-17h0" stroke="#0000fa" stroke-width="6.85" stroke-linecap="round" fill="none"/>
<path d="M1429 754h0m29-23h0m-44 4h0m-9 10h0m37-42h0m40 52h0m-50-39h0m-96 32h0m28-50h0m94 20h0m-28-42h0m40 93h0m-54-41h0m88 18h0m-64-24h0m23 20h0m-32-19h0m8 19h0m-18-17h0m-26-14h0m65 15h0m-26-3h0m41 10h0m-8-15h0m-93-2h0m28-6h0m20 52h0m-35-11h0m63-2h0m-24-28h0m8-13h0m9 20h0m33 1h0m-111 6h0m3-20h0m96-9h0m8 11h0m-30-18h0m54-3h0m-79 46h0m75 1h0m-67-66h0m28 42h0m55-11h0m-62 23h0m111 31h0m-145 20h0m46-69h0m-79 47h0m44-55h0m52 5h0m9 36h0m8-72h0m-90 60h0m-21-35h0m52-16h0m-72 2h0m115 74h0m-14-32h0m-34-17h0m-17 17h0m131 10h0m-99-4h0m-2-4h0m9 7h0m-56-8h0m-5 13h0m82 41h0m-5-86h0m-19 61h0m24-1h0m-6-24h0m-42 6h0m-32-13h0m24 4h0m-45 10h0m70-40h0m13 56h0m21-48h0m-99 68h0m26-85h0m-14 41h0m45-17h0m32-20h0m23 6h0m-93 18h0m56 29h0m-75-15h0m102 0h0m-42-9h0m20-29h0m86 85h0m-81-36h0m-36-35h0m-43-2h0m42-22h0m-4-23h0m-12 40h0m32 33h0m54-25h0m-69 52h0m-67-15h0m126-20h0m-83-41h0m94 33h0m-56 48h0m-4-22h0m34-11h0m-11 24h0m3-77h0m-91 71h0m62-3h0m32-7h0m26 3h0m-64-4h0m5-5h0m-34 10h0m45-17h0m-24-68h0m-27 79h0m3-31h0m28 49h0m-22-9h0m-1-89h0m-4 68h0m68 9h0m-71-26h0m38 6h0m22 17h0m-67-10h0m33 9h0m-33 4h0m169 11h0m-141-29h0m-6 0h0m-13-29h0m60-2h0m-56 34h0m16 27h0m47 9h0m-74-19h0m-7-48h0m59 39h0m-46 6h0m3 4h0m105 14h0m-113 19h0m66-57h0m23 35h0m-2-6h0m-57-23h0m-94 58h0m150-50h0m-43 3h0m3-32h0m-26 6h0m26 25h0m3 1h0m22 8h0m-101-28h0m183 24h0m-146-20h0m147 30h0m-61-4h0m-52 11h0m-15-43h0m-76-1h0m81 30h0m19-35h0m-33 9h0m95 28h0m-112-15h0m102-4h0m-17 34h0m-3-41h0m-49 1h0m-24-38h0m-6 9h0m92 77h0m-20-63h0m-16 26h0m-5 17h0m20 5h0m14-36h0m7 22h0m-66-23h0m61 59h0m-98-54h0m54-8h0m-59 9h0m48 21h0m32-40h0m-35 6h0m43-20h0m44 74h0m-90-28h0m-32 36h0m17-58h0m2 39h0m27 11h0m25 15h0m1-2h0m-39-21h0m-66-3h0m113 1h0m29-22h0m33-5h0m-79 6h0m-34-8h0m-8 5h0m18-17h0m14-6h0m-32 32h0m11-10h0m11-13h0m51 0h0" stroke="#000060" stroke-width="7.75" stroke-linecap="round" fill="none"/>
<path d="M1429 754h0m29-23h0m-44 4h0m-9 10h0m37-42h0m40 52h0m-50-39h0m-96 32h0m28-50h0m94 20h0m-28-42h0m40 93h0m-54-41h0m88 18h0m-64-24h0m23 20h0m-32-19h0m8 19h0m-18-17h0m-26-14h0m65 15h0m-26-3h0m41 10h0m-8-15h0m-93-2h0m28-6h0m20 52h0m-35-11h0m63-2h0m-24-28h0m8-13h0m9 20h0m33 1h0m-111 6h0m3-20h0m96-9h0m8 11h0m-30-18h0m54-3h0m-79 46h0m75 1h0m-67-66h0m28 42h0m55-11h0m-62 23h0m111 31h0m-145 20h0m46-69h0m-79 47h0m44-55h0m52 5h0m9 36h0m8-72h0m-90 60h0m-21-35h0m52-16h0m-72 2h0m115 74h0m-14-32h0m-34-17h0m-17 17h0m131 10h0m-99-4h0m-2-4h0m9 7h0m-56-8h0m-5 13h0m82 41h0m-5-86h0m-19 61h0m24-1h0m-6-24h0m-42 6h0m-32-13h0m24 4h0m-45 10h0m70-40h0m13 56h0m21-48h0m-99 68h0m26-85h0m-14 41h0m45-17h0m32-20h0m23 6h0m-93 18h0m56 29h0m-75-15h0m102 0h0m-42-9h0m20-29h0m86 85h0m-81-36h0m-36-35h0m-43-2h0m42-22h0m-4-23h0m-12 40h0m32 33h0m54-25h0m-69 52h0m-67-15h0m126-20h0m-83-41h0m94 33h0m-56 48h0m-4-22h0m34-11h0m-11 24h0m3-77h0m-91 71h0m62-3h0m32-7h0m26 3h0m-64-4h0m5-5h0m-34 10h0m45-17h0m-24-68h0m-27 79h0m3-31h0m28 49h0m-22-9h0m-1-89h0m-4 68h0m68 9h0m-71-26h0m38 6h0m22 17h0m-67-10h0m33 9h0m-33 4h0m169 11h0m-141-29h0m-6 0h0m-13-29h0m60-2h0m-56 34h0m16 27h0m47 9h0m-74-19h0m-7-48h0m59 39h0m-46 6h0m3 4h0m105 14h0m-113 19h0m66-57h0m23 35h0m-2-6h0m-57-23h0m-94 58h0m150-50h0m-43 3h0m3-32h0m-26 6h0m26 25h0m3 1h0m22 8h0m-101-28h0m183 24h0m-146-20h0m147 30h0m-61-4h0m-52 11h0m-15-43h0m-76-1h0m81 30h0m19-35h0m-33 9h0m95 28h0m-112-15h0m102-4h0m-17 34h0m-3-41h0m-49 1h0m-24-38h0m-6 9h0m92 77h0m-20-63h0m-16 26h0m-5 17h0m20 5h0m14-36h0m7 22h0m-66-23h0m61 59h0m-98-54h0m54-8h0m-59 9h0m48 21h0m32-40h0m-35 6h0m43-20h0m44 74h0m-90-28h0m-32 36h0m17-58h0m2 39h0m27 11h0m25 15h0m1-2h0m-39-21h0m-66-3h0m113 1h0m29-22h0m33-5h0m-79 6h0m-34-8h0m-8 5h0m18-17h0m14-6h0m-32 32h0m11-10h0m11-13h0m51 0h0" stroke="#0000fa" stroke-width="6.85" stroke-linecap="round" fill="none"/>
<path d="M1391 745h0m41-52h0m58 17h0m-102-13h0m86 47h0m37-16h0m-118-32h0m-110 7h0m152 20h0m10 38h0m-21-16h0m-23-45h0m91 23h0m-52 8h0m-30 46h0m-17-59h0m101 0h0m-125 4h0m84 1h0m2-12h0m37-44h0m66 59h0m-179-5h0m-2 2h0m15 27h0m121-37h0m-114 27h0m-39-22h0m75-10h0m89 28h0m-53-12h0m-1-67h0m-69 52h0m12 3h0m73 39h0m-37 5h0m-61 0h0m133-11h0m-102 12h0m89-19h0m-134-10h0m14 5h0m32 4h0m31-26h0m-15-44h0m-34 52h0m-34 17h0m50-8h0m-27-11h0m57 3h0m16 45h0m-18-35h0m-57 15h0m24-17h0m-38 11h0m30 6h0m-84-25h0m144-20h0m-46 33h0m37-53h0m19 54h0m-21 5h0m18 4h0m-18-16h0m-35 29h0m-12-45h0m30-2h0m-49 24h0m15 13h0m-58-20h0m66 7h0m-44-19h0m89 1h0m-72-15h0m42-40h0m-4 73h0m0-10h0m10 14h0m-23-12h0m55-16h0m-75 29h0m12-10h0m-70 27h0m65-12h0m36-18h0m39-23h0m-38 34h0m-8-34h0m-67 113h0m90-81h0m44 68h0m34-16h0m-107-77h0m40 11h0m3-19h0m-48 34h0m45 6h0m-33-20h0m-21-7h0m37 19h0m24-33h0m-60 31h0m137-22h0m-181 55h0m67-48h0m11-25h0m52 3h0m-33 82h0m-50-60h0m141 26h0m-141-42h0m3 62h0m69-21h0m-199 2h0m166-41h0m-19 12h0m11 8h0m9 2h0m22 5h0m-60-4h0m21-5h0m105 2h0m-154 20h0m2-6h0m63-22h0m65-7h0m-113 26h0m-16-19h0m93 6h0m-36 11h0m1 11h0m-55-27h0m29 12h0m19-19h0m11-40h0m-29 51h0m49 25h0m3-4h0m-97-26h0m119 23h0m-22-37h0m-61 24h0m38 18h0m-53 35h0m16-70h0m76 71h0m-55-36h0m35-59h0m-47 62h0m46-10h0m-36-1h0m50 27h0m-20-44h0m-3-25h0m5-36h0m-46 49h0m-35 4h0m15 34h0m-29-10h0m63 16h0m-82-11h0m57-22h0m114 17h0m-83-5h0m50-17h0m-119 48h0m-29-36h0m28-6h0m13-2h0m41 12h0m69-2h0m-42 19h0m-4 30h0m-4-11h0m21-31h0m-85-16h0m108 48h0m-96-3h0m46-64h0m34 59h0m-2-37h0m-16 17h0m-57-48h0m99 83h0m-131-35h0m78-29h0m-20-2h0m14 57h0m-35-29h0m-21-67h0m94 79h0m-47-16h0m18 27h0m-37-25h0m56 9h0m-70-37h0m14 63h0m94-23h0m-43-22h0m113 15h0m-176 11h0m53-6h0m-60 8h0m49-3h0m-16-56h0m46 56h0m-39-20h0m8 26h0m-62-43h0m136 12h0m-48-1h0m-50 36h0m79-74h0m5 50h0m-34 24h0m-44 2h0" stroke="#000060" stroke-width="7.75" stroke-linecap="round" fill="none"/>
<path d="M1391 745h0m41-52h0m58 17h0m-102-13h0m86 47h0m37-16h0m-118-32h0m-110 7h0m152 20h0m10 38h0m-21-16h0m-23-45h0m91 23h0m-52 8h0m-30 46h0m-17-59h0m101 0h0m-125 4h0m84 1h0m2-12h0m37-44h0m66 59h0m-179-5h0m-2 2h0m15 27h0m121-37h0m-114 27h0m-39-22h0m75-10h0m89 28h0m-53-12h0m-1-67h0m-69 52h0m12 3h0m73 39h0m-37 5h0m-61 0h0m133-11h0m-102 12h0m89-19h0m-134-10h0m14 5h0m32 4h0m31-26h0m-15-44h0m-34 52h0m-34 17h0m50-8h0m-27-11h0m57 3h0m16 45h0m-18-35h0m-57 15h0m24-17h0m-38 11h0m30 6h0m-84-25h0m144-20h0m-46 33h0m37-53h0m19 54h0m-21 5h0m18 4h0m-18-16h0m-35 29h0m-12-45h0m30-2h0m-49 24h0m15 13h0m-58-20h0m66 7h0m-44-19h0m89 1h0m-72-15h0m42-40h0m-4 73h0m0-10h0m10 14h0m-23-12h0m55-16h0m-75 29h0m12-10h0m-70 27h0m65-12h0m36-18h0m39-23h0m-38 34h0m-8-34h0m-67 113h0m90-81h0m44 68h0m34-16h0m-107-77h0m40 11h0m3-19h0m-48 34h0m45 6h0m-33-20h0m-21-7h0m37 19h0m24-33h0m-60 31h0m137-22h0m-181 55h0m67-48h0m11-25h0m52 3h0m-33 82h0m-50-60h0m141 26h0m-141-42h0m3 62h0m69-21h0m-199 2h0m166-41h0m-19 12h0m11 8h0m9 2h0m22 5h0m-60-4h0m21-5h0m105 2h0m-154 20h0m2-6h0m63-22h0m65-7h0m-113 26h0m-16-19h0m93 6h0m-36 11h0m1 11h0m-55-27h0m29 12h0m19-19h0m11-40h0m-29 51h0m49 25h0m3-4h0m-97-26h0m119 23h0m-22-37h0m-61 24h0m38 18h0m-53 35h0m16-70h0m76 71h0m-55-36h0m35-59h0m-47 62h0m46-10h0m-36-1h0m50 27h0m-20-44h0m-3-25h0m5-36h0m-46 49h0m-35 4h0m15 34h0m-29-10h0m63 16h0m-82-11h0m57-22h0m114 17h0m-83-5h0m50-17h0m-119 48h0m-29-36h0m28-6h0m13-2h0m41 12h0m69-2h0m-42 19h0m-4 30h0m-4-11h0m21-31h0m-85-16h0m108 48h0m-96-3h0m46-64h0m34 59h0m-2-37h0m-16 17h0m-57-48h0m99 83h0m-131-35h0m78-29h0m-20-2h0m14 57h0m-35-29h0m-21-67h0m94 79h0m-47-16h0m18 27h0m-37-25h0m56 9h0m-70-37h0m14 63h0m94-23h0m-43-22h0m113 15h0m-176 11h0m53-6h0m-60 8h0m49-3h0m-16-56h0m46 56h0m-39-20h0m8 26h0m-62-43h0m136 12h0m-48-1h0m-50 36h0m79-74h0m5 50h0m-34 24h0m-44 2h0" stroke="#0000fa" stroke-width="6.85" stroke-linecap="round" fill="none"/>
<path d="M1393 710h0m-17 12h0m56 2h0m60-53h0m-56 80h0m68-66h0m-165 3h0m119 61h0m-21 0h0m-14-45h0m-30 46h0m73 50h0m4-64h0m-48 15h0m28-19h0m-3-33h0m-1 65h0m43-76h0m-109 54h0m74 17h0m-43-37h0m31-6h0m-2 33h0m36-15h0m-98-15h0m2 24h0m93-14h0m-8-7h0m-84-10h0m-4 31h0m112-25h0m-62 4h0m52 13h0m12 12h0m5-11h0m-54-31h0m-13 37h0m15 0h0m9-20h0m19 15h0m-47 32h0m22-45h0m21-5h0m-60 5h0m-1-14h0m9 37h0m124-19h0m-105 0h0m16-14h0m-4 50h0m-21-40h0m3 0h0m11 23h0m-10-13h0m52-24h0m-83-3h0m29 28h0m-44-37h0m87 20h0m-20 33h0m29-45h0m-118 28h0m45-23h0m61 2h0m12-3h0m-102 3h0m91 32h0m-59-6h0m31-30h0m16-22h0m-20 33h0m-30-36h0m-4 69h0m-41-22h0m80 10h0m21-3h0m-88 5h0m-50-29h0m173 27h0m-18-5h0m47 35h0m-127-36h0m91-65h0m-122 52h0m107-33h0m7 75h0m-26-40h0m-42-4h0m-30 16h0m10 1h0m27-19h0m96-2h0m-157 63h0m87-50h0m8 14h0m-73-11h0m-37 2h0m15 29h0m48-53h0m19 24h0m3 2h0m-10-25h0m22 4h0m-22 17h0m38 11h0m-83-22h0m61 12h0m36 24h0m-89-21h0m-1-19h0m88 29h0m-71-15h0m56-48h0m-31 61h0m-16 11h0m61-28h0m-110-15h0m88 8h0m12-29h0m-89 43h0m61-21h0m31 31h0m-33-23h0m8 20h0m-17-41h0m-94 8h0m145 17h0m-36 10h0m-74 33h0m122-36h0m-45-25h0m50-8h0m-110 37h0m25 11h0m-10-10h0m56-24h0m-65 34h0m52-38h0m1-17h0m-46 62h0m32-9h0m16-50h0m42 11h0m9 22h0m-58 7h0m-6 5h0m-13 12h0m31-12h0m-39-5h0m10-4h0m-52-3h0m124-9h0m-52-17h0m0 55h0m20-7h0m-18-63h0m-64 13h0m73 36h0m-25 7h0m-9 40h0m-10-30h0m50-48h0m-78 43h0m94-48h0m11 59h0m-32-20h0m-60-11h0m14-1h0m121 8h0m-115-52h0m24 53h0m15-9h0m-41-32h0m45 21h0m10 1h0m-51-26h0m27 30h0m6-2h0m-30-14h0m30 15h0m-5 9h0m-64-9h0m120-10h0m-80 21h0m7-17h0m-50 23h0m-10-53h0m91 14h0m-21 11h0m21 12h0m-25 11h0m-38-40h0m29 16h0m28 35h0m46 4h0m-87 14h0m45-27h0m21 16h0m-28-54h0m1 10h0m-21 30h0m62 22h0m-70-4h0m8-25h0m-93 67h0m94-56h0m14-58h0m-14 47h0m-11-12h0m15 23h0m27 9h0m-8-70h0m-11 34h0m20 21h0m-79-16h0m57 33h0" stroke="#000060" stroke-width="7.75" stroke-linecap="round" fill="none"/>
<path d="M1393 710h0m-17 12h0m56 2h0m60-53h0m-56 80h0m68-66h0m-165 3h0m119 61h0m-21 0h0m-14-45h0m-30 46h0m73 50h0m4-64h0m-48 15h0m28-19h0m-3-33h0m-1 65h0m43-76h0m-109 54h0m74 17h0m-43-37h0m31-6h0m-2 33h0m36-15h0m-98-15h0m2 24h0m93-14h0m-8-7h0m-84-10h0m-4 31h0m112-25h0m-62 4h0m52 13h0m12 12h0m5-11h0m-54-31h0m-13 37h0m15 0h0m9-20h0m19 15h0m-47 32h0m22-45h0m21-5h0m-60 5h0m-1-14h0m9 37h0m124-19h0m-105 0h0m16-14h0m-4 50h0m-21-40h0m3 0h0m11 23h0m-10-13h0m52-24h0m-83-3h0m29 28h0m-44-37h0m87 20h0m-20 33h0m29-45h0m-118 28h0m45-23h0m61 2h0m12-3h0m-102 3h0m91 32h0m-59-6h0m31-30h0m16-22h0m-20 33h0m-30-36h0m-4 69h0m-41-22h0m80 10h0m21-3h0m-88 5h0m-50-29h0m173 27h0m-18-5h0m47 35h0m-127-36h0m91-65h0m-122 52h0m107-33h0m7 75h0m-26-40h0m-42-4h0m-30 16h0m10 1h0m27-19h0m96-2h0m-157 63h0m87-50h0m8 14h0m-73-11h0m-37 2h0m15 29h0m48-53h0m19 24h0m3 2h0m-10-25h0m22 4h0m-22 17h0m38 11h0m-83-22h0m61 12h0m36 24h0m-89-21h0m-1-19h0m88 29h0m-71-15h0m56-48h0m-31 61h0m-16 11h0m61-28h0m-110-15h0m88 8h0m12-29h0m-89 43h0m61-21h0m31 31h0m-33-23h0m8 20h0m-17-41h0m-94 8h0m145 17h0m-36 10h0m-74 33h0m122-36h0m-45-25h0m50-8h0m-110 37h0m25 11h0m-10-10h0m56-24h0m-65 34h0m52-38h0m1-17h0m-46 62h0m32-9h0m16-50h0m42 11h0m9 22h0m-58 7h0m-6 5h0m-13 12h0m31-12h0m-39-5h0m10-4h0m-52-3h0m124-9h0m-52-17h0m0 55h0m20-7h0m-18-63h0m-64 13h0m73 36h0m-25 7h0m-9 40h0m-10-30h0m50-48h0m-78 43h0m94-48h0m11 59h0m-32-20h0m-60-11h0m14-1h0m121 8h0m-115-52h0m24 53h0m15-9h0m-41-32h0m45 21h0m10 1h0m-51-26h0m27 30h0m6-2h0m-30-14h0m30 15h0m-5 9h0m-64-9h0m120-10h0m-80 21h0m7-17h0m-50 23h0m-10-53h0m91 14h0m-21 11h0m21 12h0m-25 11h0m-38-40h0m29 16h0m28 35h0m46 4h0m-87 14h0m45-27h0m21 16h0m-28-54h0m1 10h0m-21 30h0m62 22h0m-70-4h0m8-25h0m-93 67h0m94-56h0m14-58h0m-14 47h0m-11-12h0m15 23h0m27 9h0m-8-70h0m-11 34h0m20 21h0m-79-16h0m57 33h0" stroke="#0000fa" stroke-width="6.85" stroke-linecap="round" fill="none"/>
<path d="M1378 708h0m111 11h0m-75 19h0m21-4h0m67 5h0m-44-38h0m-51 37h0m54 0h0m-25-30h0m-12 21h0m4 34h0m52-66h0m-20 13h0m-40 1h0m65 15h0m-33 42h0m-82-42h0m54 10h0m14-13h0m-20-13h0m-12 67h0m12-39h0m2-21h0m-82-10h0m160 48h0m-103-34h0m73 13h0m-55 3h0m40-17h0m7 16h0m-9 7h0m40-11h0m-40-19h0m-25 17h0m3-11h0m9-11h0m-102-6h0m57 53h0m55 11h0m-14-61h0m-9 49h0m68-50h0m-21 46h0m-108-31h0m98-1h0m-6 15h0m-45 12h0m69-20h0m-71-8h0m34-2h0m-75 5h0m114-27h0m-9 5h0m-52 42h0m-110-10h0m52 12h0m43-69h0m43 102h0m-25-52h0m53 3h0m-54 16h0m-85-49h0m151 39h0m8-25h0m-143 34h0m42-22h0m4 7h0m22-7h0m9 9h0m-58-10h0m77-1h0m-40-5h0m14 47h0m-10-35h0m63-48h0m-99 32h0m-8-31h0m100 58h0m-48-35h0m48 9h0m-43 8h0m-24 32h0m-2-89h0m62 43h0m-37 24h0m-8 14h0m-22 7h0m9-65h0m38 28h0m-19 31h0m-9-18h0m47 19h0m-67-32h0m-17 11h0m-1-29h0m52 15h0m-33-19h0m24 59h0m34-14h0m-37-12h0m15 7h0m10-13h0m-21 12h0m-22-36h0m65-3h0m-29 32h0m9 13h0m29 3h0m-56-21h0m29 37h0m-23-26h0m66-45h0m-23 81h0m-34-31h0m-27-12h0m15 22h0m49-30h0m-92 24h0m39-36h0m-62 50h0m62-2h0m-5-6h0m7-15h0m33-6h0m49 41h0m-47 8h0m37-36h0m-39-48h0m-11 39h0m-60-41h0m75 51h0m-24-23h0m-3-55h0m-53 146h0m72-102h0m-29 81h0m-42 8h0m-3-22h0m26-64h0m26 19h0m26-1h0m-48-42h0m19 36h0m18-4h0m-12 24h0m-89 0h0m84-24h0m-77 35h0m76 12h0m-77-28h0m152-17h0m-91 24h0m19-20h0m-31-16h0m78 14h0m-47 32h0m-45 8h0m-10-29h0m46 15h0m26 2h0m68 35h0m-46-76h0m-31 34h0m30 8h0m-82-33h0m-32 24h0m40-30h0m109 23h0m-13-7h0m-82 35h0m9-31h0m8 3h0m-40-19h0m17-6h0m-41 47h0m44-47h0m100-24h0m-116 50h0m38-28h0m43 25h0m-80-26h0m104 16h0m-56 20h0m-38 17h0m61-14h0m12-3h0m-27-15h0m-44 32h0m40-22h0m19 13h0m-46-40h0m-8 21h0m100-9h0m-78 4h0m-26 3h0m19 2h0m-45-20h0m48-4h0m-4 4h0m-31 39h0m17-53h0m88 34h0m-7-24h0m-126 35h0m104-49h0m29 72h0m-56-44h0m23 11h0m35 22h0m-24-59h0m-104 54h0m-61-75h0m103 43h0" stroke="#000060" stroke-width="7.75" stroke-linecap="round" fill="none"/>
<path d="M1378 708h0m111 11h0m-75 19h0m21-4h0m67 5h0m-44-38h0m-51 37h0m54 0h0m-25-30h0m-12 21h0m4 34h0m52-66h0m-20 13h0m-40 1h0m65 15h0m-33 42h0m-82-42h0m54 10h0m14-13h0m-20-13h0m-12 67h0m12-39h0m2-21h0m-82-10h0m160 48h0m-103-34h0m73 13h0m-55 3h0m40-17h0m7 16h0m-9 7h0m40-11h0m-40-19h0m-25 17h0m3-11h0m9-11h0m-102-6h0m57 53h0m55 11h0m-14-61h0m-9 49h0m68-50h0m-21 46h0m-108-31h0m98-1h0m-6 15h0m-45 12h0m69-20h0m-71-8h0m34-2h0m-75 5h0m114-27h0m-9 5h0m-52 42h0m-110-10h0m52 12h0m43-69h0m43 102h0m-25-52h0m53 3h0m-54 16h0m-85-49h0m151 39h0m8-25h0m-143 34h0m42-22h0m4 7h0m22-7h0m9 9h0m-58-10h0m77-1h0m-40-5h0m14 47h0m-10-35h0m63-48h0m-99 32h0m-8-31h0m100 58h0m-48-35h0m48 9h0m-43 8h0m-24 32h0m-2-89h0m62 43h0m-37 24h0m-8 14h0m-22 7h0m9-65h0m38 28h0m-19 31h0m-9-18h0m47 19h0m-67-32h0m-17 11h0m-1-29h0m52 15h0m-33-19h0m24 59h0m34-14h0m-37-12h0m15 7h0m10-13h0m-21 12h0m-22-36h0m65-3h0m-29 32h0m9 13h0m29 3h0m-56-21h0m29 37h0m-23-26h0m66-45h0m-23 81h0m-34-31h0m-27-12h0m15 22h0m49-30h0m-92 24h0m39-36h0m-62 50h0m62-2h0m-5-6h0m7-15h0m33-6h0m49 41h0m-47 8h0m37-36h0m-39-48h0m-11 39h0m-60-41h0m75 51h0m-24-23h0m-3-55h0m-53 146h0m72-102h0m-29 81h0m-42 8h0m-3-22h0m26-64h0m26 19h0m26-1h0m-48-42h0m19 36h0m18-4h0m-12 24h0m-89 0h0m84-24h0m-77 35h0m76 12h0m-77-28h0m152-17h0m-91 24h0m19-20h0m-31-16h0m78 14h0m-47 32h0m-45 8h0m-10-29h0m46 15h0m26 2h0m68 35h0m-46-76h0m-31 34h0m30 8h0m-82-33h0m-32 24h0m40-30h0m109 23h0m-13-7h0m-82 35h0m9-31h0m8 3h0m-40-19h0m17-6h0m-41 47h0m44-47h0m100-24h0m-116 50h0m38-28h0m43 25h0m-80-26h0m104 16h0m-56 20h0m-38 17h0m61-14h0m12-3h0m-27-15h0m-44 32h0m40-22h0m19 13h0m-46-40h0m-8 21h0m100-9h0m-78 4h0m-26 3h0m19 2h0m-45-20h0m48-4h0m-4 4h0m-31 39h0m17-53h0m88 34h0m-7-24h0m-126 35h0m104-49h0m29 72h0m-56-44h0m23 11h0m35 22h0m-24-59h0m-104 54h0m-61-75h0m103 43h0" stroke="#0000fa" stroke-width="6.85" stroke-linecap="round" fill="none"/>
<path d="M1522 569h0m-4 11h0m12-3h0m12-2h0m17 7h0m-70-3h0m-25 14h0m-59 2h0m83-5h0m3 7h0m4 6h0m8-8h0m7 3h0m0 3h0m-40 6h0m18 2h0m5 2h0m-6 3h0m16-2h0m3 1h0m26-6h0m11-2h0m-18 13h0m-36 3h0m-42-7h0m-25 6h0m6 5h0m11-2h0m5 0h0m121 8h0m-99-7h0m7 3h0m4-2h0m-13 4h0m6 3h0" stroke="#500000" stroke-width="7.55" stroke-linecap="round" fill="none"/>
<path d="M1522 569h0m-4 11h0m12-3h0m12-2h0m17 7h0m-70-3h0m-25 14h0m-59 2h0m83-5h0m3 7h0m4 6h0m8-8h0m7 3h0m0 3h0m-40 6h0m18 2h0m5 2h0m-6 3h0m16-2h0m3 1h0m26-6h0m11-2h0m-18 13h0m-36 3h0m-42-7h0m-25 6h0m6 5h0m11-2h0m5 0h0m121 8h0m-99-7h0m7 3h0m4-2h0m-13 4h0m6 3h0" stroke="#fa0000" stroke-width="6.65" stroke-linecap="round" fill="none"/>
<path d="M1452 633h0m9 0h0m11 3h0m8-3h0m2 0h0m9 3h0m9-1h0m-62-3h0m-16 6h0m4 2h0m5-2h0m-24 4h0m107-1h0m-11 2h0m-8 2h0m-3 2h0m-6 0h0m-5-1h0m-3 4h0m-8-4h0m-8 5h0m-6 4h0m-9-8h0m0 6h0m-8 2h0m-5-2h0m-6 0h0m-7-2h0m4 4h0m-24-4h0m10 1h0m-1 6h0m11 3h0m11-4h0m11 1h0" stroke="#500000" stroke-width="7.55" stroke-linecap="round" fill="none"/>
<path d="M1452 633h0m9 0h0m11 3h0m8-3h0m2 0h0m9 3h0m9-1h0m-62-3h0m-16 6h0m4 2h0m5-2h0m-24 4h0m107-1h0m-11 2h0m-8 2h0m-3 2h0m-6 0h0m-5-1h0m-3 4h0m-8-4h0m-8 5h0m-6 4h0m-9-8h0m0 6h0m-8 2h0m-5-2h0m-6 0h0m-7-2h0m4 4h0m-24-4h0m10 1h0m-1 6h0m11 3h0m11-4h0m11 1h0" stroke="#fa0000" stroke-width="6.65" stroke-linecap="round" fill="none"/>
<path d="M1451 658h0m3-1h0m5-1h0m7-1h0m6 0h0m5 1h0m4-1h0m7 0h0m4-2h0m6 2h0m-4 4h0m23 0h0m-33 2h0m-11 1h0m-4 2h0m-7 0h0m-6 3h0m-6 2h0m-7-5h0m-17 4h0m-6-4h0m-9 4h0m-29-3h0m-10 3h0m-5 8h0m26-3h0m10 0h0m4 4h0m6 0h0m5-4h0m7 0h0m3 5h0m6 3h0m6 0h0m6-1h0" stroke="#500000" stroke-width="7.55" stroke-linecap="round" fill="none"/>
<path d="M1451 658h0m3-1h0m5-1h0m7-1h0m6 0h0m5 1h0m4-1h0m7 0h0m4-2h0m6 2h0m-4 4h0m23 0h0m-33 2h0m-11 1h0m-4 2h0m-7 0h0m-6 3h0m-6 2h0m-7-5h0m-17 4h0m-6-4h0m-9 4h0m-29-3h0m-10 3h0m-5 8h0m26-3h0m10 0h0m4 4h0m6 0h0m5-4h0m7 0h0m3 5h0m6 3h0m6 0h0m6-1h0" stroke="#fa0000" stroke-width="6.65" stroke-linecap="round" fill="none"/>
<path d="M1450 677h0m6-4h0m3 4h0m7 0h0m7-4h0m6 4h0m-6 3h0m-4 1h0m-13 0h0m-9 7h0m3 2h0m-11-4h0m0 8h0m-8 2h0m-5 2h0m-1-10h0m-5-5h0m-9-2h0m-7 5h0m-10-1h0m-9 8h0m24 7h0m38-3h0m4 5h0m29-9h0m28-27h0m-5 5h0m22-2h0m-8 8h0m-54 34h0m-46 13h0m-42-40h0" stroke="#500000" stroke-width="7.55" stroke-linecap="round" fill="none"/>
<path d="M1450 677h0m6-4h0m3 4h0m7 0h0m7-4h0m6 4h0m-6 3h0m-4 1h0m-13 0h0m-9 7h0m3 2h0m-11-4h0m0 8h0m-8 2h0m-5 2h0m-1-10h0m-5-5h0m-9-2h0m-7 5h0m-10-1h0m-9 8h0m24 7h0m38-3h0m4 5h0m29-9h0m28-27h0m-5 5h0m22-2h0m-8 8h0m-54 34h0m-46 13h0m-42-40h0" stroke="#fa0000" stroke-width="6.65" stroke-linecap="round" fill="none"/>
<circle cx="1205.6" cy="557.4" r="3.8" fill="#f00000" stroke="#600000" stroke-width="0.4"/>
<line x1="1479.8" y1="561.7" x2="1516.1" y2="579.6" stroke="#000" stroke-width="1.2"/>
<line x1="1174.40" y1="542.90" x2="1174.40" y2="858.00" stroke="#000" stroke-width="3.3"/>
<line x1="1172.80" y1="856.40" x2="1642.00" y2="856.40" stroke="#000" stroke-width="3.3"/>
<line x1="1165.40" y1="589.70" x2="1174.40" y2="589.70" stroke="#000" stroke-width="3"/>
<text transform="translate(1149.99,597.80) scale(0.9400,1)" font-size="26" font-weight="bold" fill="#000">6</text>
<line x1="1165.40" y1="656.30" x2="1174.40" y2="656.30" stroke="#000" stroke-width="3"/>
<text transform="translate(1149.99,664.40) scale(0.9400,1)" font-size="26" font-weight="bold" fill="#000">3</text>
<line x1="1165.40" y1="722.90" x2="1174.40" y2="722.90" stroke="#000" stroke-width="3"/>
<text transform="translate(1150.24,731.00) scale(0.9400,1)" font-size="26" font-weight="bold" fill="#000">0</text>
<line x1="1165.40" y1="789.50" x2="1174.40" y2="789.50" stroke="#000" stroke-width="3"/>
<text transform="translate(1141.93,797.60) scale(0.9400,1)" font-size="26" font-weight="bold" fill="#000">-3</text>
<line x1="1165.40" y1="856.10" x2="1174.40" y2="856.10" stroke="#000" stroke-width="3"/>
<text transform="translate(1141.93,864.20) scale(0.9400,1)" font-size="26" font-weight="bold" fill="#000">-6</text>
<line x1="1174.40" y1="856.40" x2="1174.40" y2="865.20" stroke="#000" stroke-width="3"/>
<text transform="translate(1163.52,891.70) scale(0.9400,1)" font-size="26" font-weight="bold" fill="#000">-2</text>
<line x1="1291.00" y1="856.40" x2="1291.00" y2="865.20" stroke="#000" stroke-width="3"/>
<text transform="translate(1284.28,891.70) scale(0.9400,1)" font-size="26" font-weight="bold" fill="#000">0</text>
<line x1="1407.60" y1="856.40" x2="1407.60" y2="865.20" stroke="#000" stroke-width="3"/>
<text transform="translate(1400.88,891.70) scale(0.9400,1)" font-size="26" font-weight="bold" fill="#000">2</text>
<line x1="1524.20" y1="856.40" x2="1524.20" y2="865.20" stroke="#000" stroke-width="3"/>
<text transform="translate(1517.23,891.70) scale(0.9400,1)" font-size="26" font-weight="bold" fill="#000">4</text>
<line x1="1640.80" y1="856.40" x2="1640.80" y2="865.20" stroke="#000" stroke-width="3"/>
<text transform="translate(1633.96,891.70) scale(0.9400,1)" font-size="26" font-weight="bold" fill="#000">6</text>
<text transform="translate(1303.47,921.10) scale(0.9512,1)" font-size="27.5" font-weight="bold" fill="#000">log10(baseMean)</text>
<text transform="translate(1104.60,884.46) rotate(-90) scale(0.9315,1)" font-size="25.5" font-weight="bold" fill="#000">log2(foldchange) of RNAlater</text>
<text transform="translate(1130.80,850.55) rotate(-90) scale(0.9343,1)" font-size="25.5" font-weight="bold" fill="#000">sorted cells (pos./neg.)</text>
<text transform="translate(1225.37,565.70) scale(1.0184,1)" font-size="21.5" fill="#000">prophage genes</text>
<text transform="translate(1446.10,556.80) scale(1.0570,1)" font-size="16.6" fill="#000">cg1974 (put. lysin)</text>
<path d="M94.0 1121.5h470.10" stroke="#000" stroke-width="3.2" stroke-linecap="round" stroke-dasharray="0 8.7" fill="none"/>
<path d="M94.0 1165.9h470.10" stroke="#000" stroke-width="3.2" stroke-linecap="round" stroke-dasharray="0 8.7" fill="none"/>
<path d="M215.2 966.0v304.80" stroke="#000" stroke-width="3.2" stroke-linecap="round" stroke-dasharray="0 8.7" fill="none"/>
<path d="M277.6 966.0v304.80" stroke="#000" stroke-width="3.2" stroke-linecap="round" stroke-dasharray="0 8.7" fill="none"/>
<path d="M270 1176h0m-11-14h0m-34-20h0m2 4h0m-6 19h0m21-27h0m2 13h0m-31-28h0m-9 41h0m26-33h0m0 40h0m-7-61h0m33 60h0m-3-34h0m-4 9h0m-16 24h0m13-27h0m15 20h0m-39 23h0m-28-63h0m81 25h0m-75 2h0m9-2h0m0 9h0m14 0h0m19 5h0m30 32h0m-57-45h0m11 6h0m29 10h0m-9-14h0m25-3h0m-42-24h0m-16 13h0m52 7h0m-67 6h0m8-12h0m67-17h0m-65 27h0m75 19h0m7-32h0m-86-8h0m47 38h0m6-20h0m-41 16h0m28-21h0m-22 4h0m35 25h0m29 4h0m-8 44h0m-79-61h0m2 23h0m79-15h0m-26-60h0m-9 46h0m-13 17h0m-1-15h0m-1-23h0m-20 1h0m94 1h0m-53 33h0m-9-58h0m-2 40h0m-81-3h0m82 2h0m-29 13h0m-17-49h0m29 5h0m25 24h0m-11 14h0m38-6h0m-39 19h0m60-37h0m-63 21h0m29-6h0m-22-6h0m13 15h0m-38-6h0m19 24h0m26-6h0m7-9h0m-47-22h0m-13 0h0m10-23h0m-32 30h0m66 10h0m-36 3h0m-12-22h0m40 38h0m-18-43h0m8 14h0m3-33h0m2 48h0m10-8h0m-63-5h0m54-32h0m49 6h0m-24 57h0m-33-30h0m15-25h0m4 15h0m-15 7h0m8-28h0m-38 41h0m2-17h0m50-2h0m-37-16h0m46 29h0m-6-3h0m-30-34h0m3 41h0m34 39h0m-26-15h0m2-1h0m12-28h0m-72 26h0m43-30h0m-14 48h0m-2-57h0m52 19h0m-79-12h0m74 18h0m42-6h0m-90-16h0m17-26h0m53 17h0m-34 2h0m-12 72h0m29-48h0m-8 32h0m-60-48h0m58-4h0m-25 32h0m3-4h0m12-13h0m-12 3h0m42-6h0m-88-9h0m66 11h0m5-18h0m-32 4h0m34 8h0m-24 10h0m-2-9h0m11-6h0m-26 9h0m25 9h0m-20-18h0m4-6h0m-4 29h0m-27-1h0m33-32h0m8 12h0m7 21h0m20 10h0m21-35h0m-44 2h0m-24 22h0m0-32h0m6 42h0m-29-17h0m42 5h0m-5-15h0m-3 0h0m12 11h0m17-11h0m-57 24h0m32-21h0m22 18h0m-35-41h0m-1 17h0m-4-5h0m71 40h0m-43-14h0m-19-4h0m34-22h0m-12 1h0m-2 23h0m-25 7h0m-21-43h0m74-1h0m30 15h0m-30 40h0m17-37h0m-29-5h0m-8 25h0m-31 2h0m76-18h0m-53-19h0m-52 20h0m62 14h0m-16-10h0m2 11h0m-5-18h0m1-15h0m27 31h0m-44-27h0m39 32h0m-10-7h0m0 14h0m-63-23h0m4-7h0m61 10h0m-7-8h0m-13 22h0m19-4h0m-17-18h0m31-6h0m-8-14h0m-28 31h0m11-3h0m-13 9h0m-17 9h0m32 6h0m1-53h0m28 35h0m4-19h0m-75 41h0m64-33h0m28-10h0m-101 21h0m89-31h0m-61 37h0m49-20h0m0-9h0m-12 49h0m-17-57h0m28 11h0m-42 49h0m74-36h0m-72 42h0m-22-46h0m-5-12h0m72 11h0m-31 35h0m31-33h0m-31 2h0m-15-6h0m27 42h0m21 5h0m-29-49h0m34 5h0m-42-7h0m-48 15h0m30-27h0m-3 54h0m18 3h0m41-18h0m-11-17h0m-36 8h0m2-21h0m15 48h0m-19-53h0m-9 7h0m22 29h0m9-7h0m47-7h0m-14 6h0m1-8h0m-39-11h0m5 30h0m25-52h0m-49 42h0m5 4h0m18-23h0m29-9h0m-9 75h0m-44-69h0m-11 36h0m23-21h0m79-3h0m-76-45h0m-1 34h0m0 29h0m0-26h0m40 11h0m-33-18h0m15 34h0m14-63h0m-32 50h0m-1-28h0m16 72h0m-36-89h0m15 50h0m-4-14h0m3-6h0m-6-19h0m2 43h0m22 16h0m26-54h0m40 11h0m-54 2h0m-8 12h0m-44 3h0m38-7h0m-58 7h0m82-2h0m-53-5h0m19-4h0m-29-2h0m28 26h0m26-36h0m-20 13h0m8-15h0m-25 21h0m-37-17h0m35 37h0m40-17h0m-52-12h0m58 43h0m-36-89h0m18 55h0m17-4h0m-23-22h0m-1 16h0m-27 5h0m9 28h0m-1-23h0m6-8h0m-18 7h0m19-9h0m9-6h0m2 8h0m2 6h0m-2 17h0m-35-30h0m11 21h0m56 8h0m-63-34h0m99 28h0m-98-5h0m-20-6h0m46 36h0m-18-49h0m65 25h0m-56-60h0m12 50h0m-5-2h0m39-3h0m-43 4h0m30-1h0m-17 18h0m-16 4h0m12-22h0m-27 18h0m29-18h0m-35 11h0m47-17h0m-11 7h0m-5 27h0m-27-27h0m32 18h0m8-6h0m-41 0h0m21-22h0m45 4h0m-44 12h0m7-2h0m-7 3h0m-10 30h0m-7-14h0m25-27h0m-6 28h0m-17-34h0m-1-35h0m22 60h0m-9-7h0m-42-21h0m59 4h0m-11 31h0m-23-33h0m-13-10h0m6 33h0m49 6h0m5-17h0m-31 21h0m-24-38h0m17 5h0m10 43h0m0 6h0m10-26h0m21-10h0m-28-8h0m-14 14h0m26 11h0m-43-26h0m32 12h0m3-1h0m-21-47h0m-13 24h0m35 19h0m14-36h0m-6 10h0m-17 30h0m-6 26h0m-17-25h0m9-13h0m37-14h0m-18 29h0m-12-1h0m0-3h0m17 5h0m7 61h0m-1-46h0m-4-34h0m-2 34h0m17-21h0m-26-25h0m-21 53h0m35 0h0m-19-35h0m8 45h0m23-80h0m-13 96h0m12-48h0m4 25h0m-14-27h0m-27-17h0m75-10h0m-28 37h0m-1-19h0m-61 28h0m19-34h0m-21 17h0m38-18h0m-51 16h0m46-1h0m26 20h0m-5-21h0m-43 10h0m-13-3h0m50-9h0m2-22h0m14 7h0m-49 19h0m41 16h0m-23 48h0m28-77h0m-29 13h0m-22 11h0m38-34h0m-5-10h0m-11 46h0m-9-31h0m9 56h0m-35-50h0m45 13h0m25-25h0m-60 22h0m-12-47h0m-3 39h0m6 12h0m21 9h0m3-20h0m13 1h0m-20 0h0m15 1h0m-14-7h0m-3 32h0m10-16h0m7-31h0m28 26h0m-64-40h0m19 38h0m36 12h0m17-30h0m-59 19h0m14 21h0m9-15h0m11-15h0m-15 3h0m7-19h0m20 27h0m-17 17h0m7-29h0m0 55h0m-17-59h0m-64 13h0m61-24h0m22 35h0m20-21h0m-24 20h0m-8 10h0m-5-22h0m-4-32h0m-6 49h0m-31-10h0m64 1h0m-85-8h0m90-10h0m-40 36h0m-25 18h0m49-36h0m-21 5h0m11-11h0m2-7h0m47-2h0m-77 12h0m16 1h0m15 14h0m39-54h0m-34-3h0m19 29h0m-21 5h0m-5 6h0m-19 8h0m20 11h0m17 28h0m14-39h0m-7-11h0m-50 32h0m28-55h0m44 24h0m-80 28h0m65 13h0m-30-33h0m31-6h0m-62 22h0m24-23h0m5 5h0m-36-8h0m39 27h0m0-13h0m-6 16h0m4-15h0m-10-3h0m28 41h0m-11-34h0m-22-33h0m-23 12h0m36 10h0m-26-50h0m52 72h0m-21-35h0m50 5h0m-61-22h0m-9 16h0m22 22h0m-16 3h0m-30-19h0m28 18h0m-14-24h0m-18 22h0m53 14h0m-17-19h0m-21-23h0m43 13h0m-5-1h0m-30-19h0m27 50h0m15-23h0m-45-29h0m11 2h0m77 23h0m-82-24h0m12 18h0m3 48h0m-16-36h0m33 13h0m-33-19h0m-29 19h0m48-3h0m-7-7h0m4-26h0m28 22h0m-19-23h0m-8 19h0m39-11h0m-23 21h0m55-24h0m-77-8h0m5 8h0m14-7h0m6-9h0m-8 25h0m-7-10h0m-1 26h0m-2 20h0m-47-40h0m37 21h0m-16 0h0m54-58h0m-78 71h0m85 8h0m-4-37h0m-37 22h0m-23-14h0m74 16h0m-46-33h0m46 1h0m-66-16h0m29 27h0m-12-5h0m7 18h0m-5 25h0m-8-34h0m41-39h0m-17 38h0m-40-9h0m91 56h0m-79-36h0m38-37h0m-12 12h0m-8 14h0m8 3h0m11-22h0m26 22h0m-40 2h0m-52-18h0m39 16h0m-6-12h0m8 48h0m35-52h0m-12 8h0m-37 3h0m58 36h0m-7-34h0m-14-13h0m4 22h0m-26-11h0m-1 4h0m-5-2h0m8-11h0m-5 20h0m22 18h0m-32-51h0m33 33h0m-17-2h0m47 1h0m-42-2h0m-12-17h0m5-14h0m-4 26h0m-27 3h0m24 4h0m1-11h0m26-2h0m-33-10h0m-3 21h0m35-8h0m9 29h0m-32-42h0m25 3h0m-22 16h0m-14-29h0m30 43h0m11-19h0m15-21h0m31 37h0m-99 30h0m75-48h0m-79-30h0m11 39h0m24-27h0m5 12h0m-14 54h0m15-60h0m-37-4h0m28 33h0m11-9h0m1 20h0m-45-45h0m56 8h0m-9 28h0m26 24h0m-56-58h0m58-13h0m-67 41h0m9 12h0m-10-60h0m15 17h0m15 14h0m11-40h0m-18 37h0m-22-30h0m65 38h0m-54-17h0m10 18h0m32-16h0m-56 40h0m80 3h0m-67-42h0m-8 31h0m13 0h0m16-25h0m35-7h0m-83 28h0m-3 7h0m50-24h0m6-5h0m-37 13h0m68-36h0m-54 3h0m19 35h0m9 9h0m-22-19h0m6-7h0m-14 33h0m28-24h0m-15-3h0m-43 30h0m46-15h0m-8 17h0m26-51h0m-21-7h0m19 36h0m-26 2h0m36-20h0m-28 14h0m-7-22h0m11 57h0m57-51h0m-72 23h0m31 18h0m-46-14h0m31-3h0m-6-18h0m14-11h0m-29 9h0m13 17h0m14-32h0m-26 41h0m4-9h0m20-29h0m-2 25h0m-43 2h0m44 4h0m5-13h0m-81 2h0m41-52h0m51 70h0m-60-51h0m8 67h0m4-35h0m46 3h0m-38-3h0m18 41h0m-16-44h0m43 31h0m-55-40h0m33-2h0m-26 15h0m21 24h0m1-49h0m-9 24h0m0-5h0m52-10h0m-85-10h0m47 14h0m8 6h0m-6 2h0m-18 35h0m6-48h0m5-13h0m-2 54h0m-6-12h0m11-11h0m-26-24h0m22 29h0m-6-3h0m-36-9h0m65 24h0m-26-28h0m3-4h0m1 38h0m10-7h0m-28-4h0m29-11h0m18-18h0m-21 21h0m-27-3h0m8 6h0m5 20h0m-13-35h0m13 14h0m6-1h0m37 33h0m-32-36h0m-11 38h0m8-67h0m-17 26h0m-7 6h0m15 54h0m-27-45h0m28-11h0m17 6h0m-50-16h0m79-13h0m-50 41h0m11-23h0m-17 5h0m13-11h0m20-18h0m-19 53h0m-56-18h0m-9 6h0m65-34h0m4 0h0m-2 17h0m-23 10h0m-1-23h0m33 21h0m-41 14h0m27-32h0m11 15h0m14 10h0m-62-24h0m16 30h0m40-30h0m40 23h0m-49-15h0m32 22h0m15-14h0m-55-58h0m-16 34h0m1-31h0m43 77h0m-45-37h0m50-7h0m-25-37h0m7 39h0m-17-6h0m10 12h0m11-2h0m-26 63h0m-40-40h0m24-45h0m-5 23h0m36-8h0m13 20h0m-12 9h0m-29-53h0m6 51h0m21-27h0m-13 17h0m12 20h0m21 5h0m-48-27h0m36 27h0m-36-35h0m8-21h0m13 36h0m-25 20h0m33 40h0m7-49h0m-25 1h0m-19-14h0m16 17h0m42-15h0m5-7h0m-41 22h0m-7 6h0m42-16h0m-5-24h0m-24 5h0m-1 20h0m44-20h0m-60 62h0m22-59h0m32 8h0m-23-7h0m7 3h0m-24 5h0m22-5h0m3-30h0m3 34h0m-25 26h0m-9-22h0m37-26h0m-29 49h0m-18-13h0m33-44h0m-42 16h0m-9 29h0m26-10h0m12 39h0m-30-63h0m27 47h0m-35-18h0m33-23h0m4 25h0m40-15h0m1 3h0m-30 4h0m-13-22h0m5-10h0m-26 39h0m24-12h0m8-14h0m-68-4h0m25 30h0m19 28h0m27-2h0m-47-25h0m27-20h0m6 39h0m6-17h0m-9-25h0m5-27h0m46 63h0m-67-45h0m39 62h0m-38-12h0m30-18h0m9 9h0m-33-45h0m-19 20h0m-5 9h0m15-6h0m11-11h0m6 10h0m33 5h0m-19-21h0m5 26h0m-9-20h0m22 7h0m-14 1h0m4-7h0m-14 34h0m-10-16h0m-16 5h0m45-38h0m-28 42h0m71-43h0m-88-10h0m6 38h0m25 2h0m16-10h0m-40-6h0m16 13h0m16-12h0m17 34h0m-46-25h0m-17 4h0m80-1h0m-45 31h0m5-22h0m2 9h0m-11 6h0m20-24h0m-17 20h0m-11-31h0m32 16h0m8-42h0m-20 37h0m-4-1h0m-19 10h0m18-2h0m-14-24h0m82 33h0m-74-33h0m-18 10h0m1 24h0m28 16h0m-39-32h0m48-5h0m-8-7h0m-58-22h0m41 32h0m2-2h0m34 21h0m-41-3h0m26-18h0m-21-3h0m-56-12h0m106 34h0m-47-15h0m-5-28h0m14 26h0m20 4h0m-26-8h0m17-2h0m-3-17h0m-16-2h0m32 36h0m-6-5h0m40-8h0m-7 14h0m-95-14h0m1 11h0m50-12h0m47 11h0m-21-19h0m-1-16h0m-40 8h0m11 13h0m-14 20h0m33-21h0m2 4h0m-34-10h0m19-7h0m-18 54h0m28-42h0m3-38h0m-32 35h0m22-11h0m2 10h0m-3 27h0m-57 1h0m59-18h0m9-6h0m-83 42h0m56-45h0m-25 19h0m-1-17h0m46 16h0m-5-3h0m18-8h0m-53 1h0m15-21h0m12 35h0m-16-33h0m26 16h0m-51-13h0m15 20h0m70 2h0m-40 9h0m-8 0h0m-28-15h0m6 14h0m18-17h0m76 20h0m-94 11h0m34-42h0m-5 13h0m-15-14h0m4 56h0m1-30h0m44-9h0m-20-7h0m-50 73h0m35-66h0m-36-1h0m70-16h0m-28 39h0m-24-23h0m18-13h0m-9 10h0m27 16h0m-37-25h0m1 37h0m-7-33h0m18 27h0m13-28h0m-18-17h0m-23 24h0m43 1h0m-88 4h0m79-1h0m-35-29h0m45 51h0m-29-21h0m18-5h0m-13 13h0m-30-18h0m58 32h0m10-10h0m-4-31h0m-35 20h0m18 7h0m-25-27h0m-1 22h0m19 22h0m-29-36h0m29 16h0m47-20h0m-49-6h0m8 14h0m-11 5h0m20 17h0m-14-17h0m5-4h0m44 0h0m-30 30h0m-14-32h0m13 2h0m-67-3h0m26 0h0m33 24h0m-12-7h0m19-5h0m8-20h0m-31 7h0m-8 18h0m33-32h0m-68 59h0m42-21h0m37-22h0m-13 32h0m-48-11h0m-34-13h0m65 7h0m-6 3h0m18-22h0m-35 25h0m-16 15h0m51-32h0m-41 29h0m33-34h0m-21 42h0m-35-48h0m49-4h0m25 14h0m-40-1h0m23 9h0m-32 36h0m21-29h0m-17-30h0m63 48h0m-38-10h0m-40-14h0m51 30h0m-66-5h0m68-6h0m-26-29h0m17-19h0m41 34h0m-51-20h0m-21 22h0m55-26h0m-25-5h0m-26 23h0m-4 6h0m38 5h0m-14-57h0m18 50h0m14-2h0m-87-18h0m36 2h0m4-3h0m31 7h0m-17 14h0m-1-8h0m17-28h0m-10-3h0m-30 74h0m3-64h0m30 13h0m10 5h0m-35 0h0m13-10h0m-2 15h0m-12-2h0m32 6h0m-25-2h0m17-17h0m41 11h0m-35 3h0m-11-10h0m-26 9h0m34-30h0m59 23h0m-21 14h0m-25 2h0m2-5h0m-51 31h0m25-36h0m-31 2h0m49 4h0m-9 27h0m-76-49h0m26 21h0m-16-5h0m20-29h0m43 34h0m2 20h0m-28-12h0m21-20h0m-37 30h0m47-23h0m2 11h0m-13-48h0m11 61h0m-3-62h0m0 28h0m-9 54h0m18-41h0m60 13h0m-63-17h0m-15 31h0m-71-43h0m26 5h0m10 18h0m36-16h0m33 7h0m-25 45h0m-17-34h0m32-4h0m-17 1h0m-4 36h0m-23-59h0m31 11h0m-18-12h0m-10 33h0m-14-14h0m39-11h0m-1-9h0m10 41h0m20-24h0m-32-39h0m-22 49h0m-5 0h0m30 10h0m33-20h0m-41 15h0m50 14h0m-54 6h0m1-28h0m9 19h0m9-60h0m-25 43h0m3 18h0m46-30h0m-43 26h0m12 15h0m-15 11h0m-27-80h0m66 33h0m-25-16h0m21 3h0m-29 6h0m10-3h0m10 22h0m-39-19h0m27 20h0m11-60h0m-18 13h0m13 32h0m-38-23h0m38 43h0m5-16h0m-22-24h0m3 20h0m13-5h0m-29-16h0m4 25h0m35 17h0m-16-31h0m-20 3h0m19 2h0m11 7h0m13 31h0m-30-5h0m3-11h0m-63-12h0m64-2h0m51-11h0m-76-18h0m-5 27h0m-4 27h0m14-62h0m4 36h0m82 3h0m-58-4h0m-21 25h0m8-18h0m-12 1h0m-3-11h0m33 14h0m-16 15h0m-22-52h0m0 74h0m47-39h0m-17-13h0m3 17h0m1-23h0m-6 20h0m11-9h0m-14-14h0m-26-23h0m29 56h0m-20-19h0m35 4h0m4 42h0m-45-52h0m-8-4h0m20 25h0m39-20h0m-21-13h0m53 33h0m-74-7h0m0-13h0m13 0h0m-15 29h0m-24-32h0m53-11h0m-23 20h0m-17-5h0m12-1h0m-13 18h0m59-21h0m-46 24h0m-21-20h0m-5-10h0m46 32h0m-23 6h0m31-48h0m9-1h0m-18 33h0m-36 1h0m65-33h0m-38 85h0m15-60h0m-9-44h0m20 31h0m-26 31h0m7-19h0m-24-11h0m23-38h0m-41 72h0m77-31h0m-23 0h0m5 5h0m-27 29h0m-70-12h0m64-12h0m66-24h0m-33 13h0m-33 20h0m4-21h0m-6-3h0m20 54h0m2-23h0m-3-19h0m11 17h0m32-7h0m-71-9h0m8-22h0m73 3h0m-46 60h0m-39-60h0m40 20h0m24-10h0m-19 8h0m-48 43h0m-30-89h0m60 41h0m-16 23h0m-7-24h0m19 2h0m11 11h0m11 0h0m8 17h0m-2-9h0m-33-10h0m30 14h0m-25-15h0m38-2h0m-94-1h0m30 13h0m-2-20h0m52 2h0m-64 11h0m68-2h0m-23-2h0m35-35h0m-53 29h0m54-4h0m-39 8h0m48-2h0m-78 9h0m35 19h0m-24-26h0m28-17h0m35-5h0m29 16h0m-57 10h0m-44 1h0m10-17h0m11 37h0m5-30h0m33 3h0m-62 4h0m47-8h0m-21-18h0m-2 26h0m29-12h0m-20-4h0m-12 1h0m41-3h0m-26 42h0m47-47h0m-76 16h0m45 4h0m-33-7h0m34-11h0m-61-5h0m24 17h0m53 14h0m-60-7h0m13-6h0m-43 43h0m32-12h0m26-29h0m24 1h0m-15 14h0m-5-52h0m38 34h0m-53 39h0m-18-49h0m29 2h0m3 21h0m30-19h0m-39 48h0m5-16h0m-63-25h0m33-5h0m21 19h0m30-18h0m-25 1h0m-6-3h0m-1-7h0m17 20h0m32-13h0m-35-13h0m-23 31h0m30-9h0m-64 5h0m54-6h0m-4-12h0m24 17h0m-51-42h0m-24 39h0m27 11h0m-13-22h0m32-1h0m18 44h0m-22-79h0m11 70h0m8-28h0m15 8h0m-40 62h0m-14-86h0m86 20h0m-26 25h0m-17-32h0m-10 30h0m-29-17h0m-9-8h0m18-24h0m11 32h0m-1-1h0m33-4h0m-46-17h0m0 10h0m38 10h0m8-13h0m-57 43h0m19-27h0m12-14h0m-29 5h0m7 1h0m5 5h0m17-13h0m-11 45h0m48-14h0m-44-10h0m-20-27h0m15 20h0m-31 18h0m50-18h0m3-1h0m9-14h0m-63 1h0m20-14h0m19 14h0m-5-3h0m-7-24h0m21 6h0m12 63h0m-13-31h0m-9 16h0m46-22h0m-38-31h0m17 59h0m-30-23h0m6 23h0m8-20h0m15-1h0m-44-17h0m42 23h0m1-13h0m-61-41h0m41 26h0m-11 17h0m-44 4h0m84 20h0m-72-12h0m31 1h0m45-29h0m-48 11h0m-10-12h0m51 18h0m-13-42h0m33 55h0m-9 19h0m-54-13h0m18 11h0m10 5h0m-6-14h0m-19-8h0m17-35h0m6 51h0m-4 2h0m-11-27h0m13 15h0m12-22h0m26-4h0m-8 23h0m-68 15h0m34-10h0m-26-19h0m4-29h0m36 23h0m-31-4h0m24-8h0m-9 13h0m11 7h0m10 22h0m-17-26h0m14 52h0m7-53h0m-62 10h0m2-12h0m68-28h0m-43 47h0m-36-7h0m63-2h0m-11-11h0m-16 47h0m-32-54h0m4-5h0m51 29h0m-20 22h0m7 7h0m-13 13h0m21-31h0m12-2h0m-1 14h0m-1-16h0m-7-2h0m31 34h0m-59-69h0m43 56h0m-79-43h0m55 31h0m7-66h0m-14 88h0m5-17h0m45-34h0m-91 17h0m44-2h0m25-28h0m-11 6h0m-49 8h0m65-14h0m-49 31h0m29 1h0m2-16h0m-10 43h0m25-31h0m-23-15h0m-13-29h0m25 27h0m-22 10h0m8 42h0m0-35h0m2-11h0m13-23h0m6 9h0m-39 19h0m26-12h0m-42 27h0m39-34h0m16 5h0m-9-9h0m38 28h0m-109-17h0m79-14h0m-14 17h0m-10-40h0m-19 53h0m16-16h0m20 14h0m-19-3h0m6-54h0m-10 34h0m17 44h0m-22-28h0m48-16h0m-1 35h0m-55 28h0m33-46h0m4-8h0m-34-7h0m28 19h0m-16-2h0m-1 5h0m17-11h0m-15 12h0m-15-9h0m5-7h0m23 21h0m31 13h0m-38-20h0m-4-14h0m0 20h0m-34 6h0m-12-19h0m49 16h0m12 16h0m-15-33h0m10 3h0m-16-42h0m-8 20h0m-5-15h0m-13 89h0m46-61h0m-24-7h0m13 38h0m2-19h0m-2 3h0m18 8h0m-18-1h0m-33-48h0m34 5h0m37 52h0m26-48h0m-37 57h0m-44-22h0m7 56h0m40-83h0m15 20h0m-49-1h0m3-27h0m-1 58h0m-48-40h0m53 4h0m32 4h0m-31 26h0m2-26h0m30-15h0m-27 9h0m20-39h0m-16 47h0m-21 31h0m3-45h0m16-3h0m4 43h0m-4-80h0m-32 49h0m39 7h0m-4-15h0m-58 9h0m22 18h0m-25 17h0m61-29h0m-34-3h0m27 24h0m2 12h0m-2-36h0m-13 4h0m-7-28h0m48 32h0m-55-21h0m11 18h0m17-11h0m-41 11h0m55 5h0m5-39h0m-37-3h0m19 10h0m19 26h0m-26 14h0m59-61h0m-63 74h0m0-31h0m-64 11h0m63-15h0m3 33h0m-11-24h0m-12 14h0m45-32h0m4 19h0m-23-16h0m19-2h0m-41 7h0m-26 0h0m40-34h0m12 31h0m-23 41h0m38-21h0m-25 8h0m14-11h0m-17-9h0m10-10h0m-6 26h0m-3-27h0m-6 22h0m9 24h0m39-51h0m-55-1h0m9-19h0m10 83h0m3-34h0m32-50h0m-28 100h0m-1-72h0m-3 7h0m5-19h0m-37-3h0m13 26h0m-10-9h0m-8 18h0m64 20h0m-3-39h0m-17 45h0m-21-39h0m-7 15h0m-1-22h0m36-38h0m-83 43h0m41-14h0m25 13h0m28 7h0m-35 12h0m46 5h0m-74-34h0m59 5h0m-38 9h0m38-17h0m-25 14h0m17 1h0m-1 13h0m-13 41h0m-12-44h0m50-11h0m-36 5h0m21 24h0m-12-16h0m-5-14h0m-32 12h0m24-1h0m25-15h0m-30-15h0m0 48h0m36-9h0m-58-13h0m27 41h0m27-60h0m-3 6h0m-11-2h0m-22 10h0m-4-10h0m-4 17h0m36-12h0m-15 16h0m7-5h0m32-5h0m-38-9h0m-35-3h0m41 15h0m0-1h0m-15-23h0m17 24h0m15 6h0m32-17h0m-63 43h0m-17-17h0m37 13h0m-26-28h0m24 0h0m1 2h0m-35-28h0m19 13h0m0-8h0m6 12h0m2 21h0m-11-24h0m11 25h0m-30-10h0m24-10h0m-1-18h0m-17 24h0m8-26h0m78 19h0m-53 61h0m-20-48h0m0 1h0m-39 16h0m65-25h0m-20-32h0m15 23h0m4 21h0m-49 3h0m15-10h0m-12 20h0m58-31h0m-34 0h0m-12 5h0m19-12h0m-6 3h0m18 27h0m-32-22h0m10 5h0m-21 22h0m-9-48h0m87 51h0m-68-30h0m50 14h0m-18-5h0m10 9h0m-19-14h0m7 31h0m18-31h0m-60-3h0m24-13h0m-41 1h0m37 10h0m-23-7h0m45-6h0m1-1h0m24 43h0m-86-27h0m76 5h0m-79 14h0m10 16h0m22-33h0m3 48h0m43-43h0m-10 12h0m-15-45h0m-20 17h0m13 8h0m29 0h0m19 6h0m-59 3h0m-10-16h0m52 8h0m-21 2h0m29 16h0m-33-10h0m-5 22h0m5-25h0m-6 7h0m26-15h0m-19-2h0m-12 6h0m16 53h0m-12-73h0m38 18h0m-23-6h0m38-11h0m-49 28h0m-70-24h0m56 6h0m28 27h0m-31 21h0m90-48h0m-48 12h0m-12 34h0m-65-66h0m58 63h0m-4-46h0m1 20h0m-17-19h0m11 8h0m35 11h0m-31 0h0m-10-34h0m33 75h0m-9-43h0m-19 34h0m-8-42h0m20 22h0m-44-18h0m50-4h0m11 48h0m-32-50h0m-22-8h0m42-5h0m6 35h0m2-22h0m-22 2h0m-15 9h0m3-4h0m40-19h0m-71 49h0m39 5h0m-7-2h0m28 15h0m-72-70h0m45 35h0m-11-16h0m-32 11h0m43-2h0m32-10h0m-9-9h0m-9 22h0m-12-23h0m31 3h0m-46-14h0m2 37h0m38-10h0m11 7h0m13 15h0m-51-60h0m22 76h0m-20-54h0m-12 15h0m12-6h0m-7 22h0m26-18h0m11 2h0m36 14h0m-69-8h0m-31-7h0m35 19h0m-27-39h0m41 20h0m9-9h0m-4-27h0m-18 37h0m-19-9h0m14 4h0m31 34h0m-15-46h0m2 31h0m-19-24h0m18-18h0m19 47h0m-18 12h0m-40 15h0m36-33h0m-23-43h0m8 36h0m7 34h0m0-22h0m12-22h0m-15-4h0m-30 15h0m36 31h0m25-36h0m30 0h0m-9-2h0m-20 35h0m-18-34h0m-15 4h0m1-24h0m26 33h0m-3-17h0m24 12h0m-30 33h0m36-23h0m-82-13h0m33-14h0m17-23h0m11 65h0m-30-64h0m31 69h0m-30-30h0m-21-16h0m11-15h0m5 26h0m10-5h0m-9 7h0m37-20h0m6 14h0m-42 46h0m-29-5h0m-7 16h0m3-67h0m39 15h0m-16 12h0m-19-14h0m52-14h0m-51 29h0m23-4h0m33-20h0m-16 20h0m-4-14h0m8-8h0m-10 46h0m12-71h0m-36 24h0m26 33h0m1-17h0m-3-17h0m16-5h0m36 4h0m-48-23h0m2 14h0m8 51h0m12-48h0m0 12h0m-3 38h0m-25-42h0m19 3h0m-23 10h0m-7-35h0m10 46h0m27-38h0m-16 7h0m7 13h0m-56 29h0m112-23h0m-46-16h0m8-31h0m7 33h0m-23 7h0m4 19h0m-24-9h0m-11-52h0m27 57h0m-13 12h0m-33-33h0m23 4h0m-20 11h0m57 2h0m13 10h0m-16-23h0m29 9h0m-38-25h0m3 14h0m2 1h0m-80 4h0m48 1h0m37 1h0m-12 30h0m-32-56h0m31 5h0m-23 30h0m7-2h0m74-35h0m-87 30h0m29-20h0m32 2h0m-37 0h0m10 31h0m-37-9h0m-1 38h0m44-41h0m-8-25h0m-40 52h0m-29-21h0m62-19h0m20 37h0m-84-25h0m93-26h0m-24 27h0m-14-6h0m17-6h0m-6 14h0m14-22h0m-22 41h0m-12-13h0m1 7h0m53-25h0m-55 13h0m2-1h0m48-10h0m-17-7h0m-14 16h0m-10 8h0m24-24h0m-20 12h0m10 2h0m-10-5h0m10-1h0m41-5h0m-39 54h0m1-21h0m-7-56h0m13 48h0m2-9h0m52-32h0m-120-10h0m91 35h0m-54 2h0m11-11h0m0 12h0m0-15h0m22-13h0m6 51h0m-54-14h0m13-10h0m13-2h0m-37 6h0m60-39h0m-25 43h0m-25 14h0m14-24h0m-60 16h0m63-11h0m20-23h0m-31 18h0m36-16h0m-59 5h0m26-20h0m9 32h0m-5 8h0m27 4h0m-48-4h0m73-40h0m-41 51h0m24-11h0m-29-6h0m30-18h0m-23-10h0m22 37h0m-26-9h0m-5-8h0m34 13h0m-17-13h0m10 3h0m-59-20h0m63 15h0m6-11h0m-31 22h0m1-1h0m35-10h0m-57 8h0m58 7h0m-17 25h0m-21-30h0m-45-14h0m76 53h0m27-46h0m-55-9h0m20 4h0m-34 3h0m21-4h0m-21 9h0m37 5h0m-12 13h0m32-18h0m-41 54h0m-7-63h0m7-2h0m65 5h0m-47 12h0m-51 30h0m30-9h0m4 14h0m17-29h0m-42-11h0m19 4h0m-3-9h0m29-18h0m-48 27h0m9 0h0m26-1h0m47-23h0m-84 26h0m69 8h0m-77-13h0m32-35h0m-11 12h0m10 31h0m16-15h0m-54-36h0m39 7h0m22 42h0m-7-21h0m7 26h0m-39-1h0m17-15h0m35-5h0m-66-5h0m34 30h0m-51-9h0m67-7h0m-24 19h0m27-15h0m-54-36h0m37 28h0m-31-35h0m1 25h0m50 25h0m-33-27h0m13 18h0m47-13h0m-62 46h0m38-41h0m34-16h0m-42 43h0m-60-18h0m35-5h0m5 7h0m20-26h0m-48 47h0m38-7h0m-35-33h0m-33 8h0m49 0h0m41-16h0m-19 42h0m-10-25h0m3-4h0m-20 27h0m3-29h0m51 5h0m-29 6h0m49 10h0m-49 0h0m13-51h0m0 57h0m-44-13h0m61-2h0m-31-15h0m18 13h0m-10-17h0m-49 49h0m63-49h0m3 25h0m-33-5h0m19-37h0m-14 24h0m31 11h0m-56-2h0m65 46h0m-34-64h0m-14-5h0m-11 17h0m0 16h0m48-7h0m-27-44h0m-36 62h0m24-23h0m76-5h0m-51 5h0m-23 61h0m-24-32h0m17-26h0m31 2h0m-5 14h0m-21-8h0m0-24h0m45 46h0m-88-36h0m30-23h0m-8 38h0m11 10h0m54-40h0m-15 36h0m-35-26h0m40 32h0m0-22h0m-30-31h0m-15 19h0m4-21h0m-6 33h0m-8 17h0m36-18h0m-5-12h0m-14 21h0m40-46h0m-99 28h0m9-39h0m56 71h0m20-35h0m-34 7h0m28 25h0m-9-17h0m-17-5h0m16-5h0m-29-4h0m22 10h0m-8 13h0m38-22h0m-19-4h0m2 26h0m4-16h0m-6 2h0m24 49h0m-14-49h0m-7 2h0m12-8h0m25 15h0m-50 16h0m2-12h0m1 35h0m6-42h0m23-52h0m-7 30h0m-41 23h0m65-8h0m-52-12h0m1 1h0m-24-31h0m2 47h0m53-3h0m7-10h0m-42 22h0m-15 32h0m31-43h0m-34-6h0m72 39h0m-25 5h0m-7-21h0m19 36h0m-33-61h0m-24-11h0m37 34h0m-7-8h0m-32-2h0m53-1h0m-1 2h0m5-27h0m-46 50h0m43-40h0m-11 3h0m54 14h0m-43-13h0m56 27h0m-80-7h0m5 24h0m14-24h0m-19 23h0m-33-16h0m61 7h0m-28-23h0m27 0h0m-56-17h0m-2 24h0m41-19h0m26 8h0m-61-34h0m-2 83h0m21-33h0m-31 10h0m23-34h0m-4-20h0m29 20h0m1 27h0m-10-23h0m-33 13h0m73 14h0m-4-10h0m-20-37h0m-42 30h0m16-40h0m21 7h0m10 27h0m-4-33h0m8 26h0m-13 8h0m0-25h0m-18 18h0m12-46h0m71 44h0m-94 7h0m5 2h0m56-32h0m-43 41h0m-2-11h0m-55 10h0m107-14h0m-23 31h0m-51-25h0m47 14h0m-25-18h0m20-32h0m-31 69h0m4-65h0m15 56h0m0-19h0m-26-18h0m3 24h0m22-23h0m-7 46h0m-4-49h0m-28 10h0m97 42h0m-64-52h0m-4 41h0m-4-11h0m5-15h0m-1 2h0m9-32h0m-40 24h0m70 18h0m-40-6h0m15-16h0m19 0h0m-5 0h0m-15 24h0m-32-39h0m-4 36h0m29-26h0m13 20h0m-36-1h0m76-1h0m-69-27h0m23 21h0m7 20h0m-7-27h0m-6 2h0m26-6h0m-22 25h0m-8 32h0m-36-62h0m95 16h0m-66 26h0m-32-44h0m58 36h0m20-30h0m-7 3h0m25-29h0m-63 29h0m22 7h0m-37 16h0m15-7h0m40 22h0m-46 3h0m32-20h0m-27 7h0m-14-33h0m43 52h0m-49-28h0m26 0h0m21 23h0m-38-33h0m36 16h0m7-19h0m-14 25h0m9-61h0m-10 23h0m0 44h0m-7-29h0m-46-4h0m84 4h0m-47-7h0m27 22h0m14-15h0m-35-2h0m-16 7h0m38 18h0m-20-13h0m36-7h0m-13-22h0m-13 17h0m13-10h0m-1 7h0m-52 33h0m51-5h0m-53-7h0m6 13h0m6-57h0m34 30h0m-11-23h0m-42 51h0m21-14h0m40-30h0m12 33h0m-29-26h0m5 51h0m13-52h0m-61 17h0m63 14h0m-49-23h0m61-4h0m-48 5h0m-17-20h0m61 1h0m4 27h0m-58 25h0m43-5h0m-10-8h0m-57-19h0m38 6h0m-31 54h0m1-74h0m22-6h0m-24 33h0m-14-46h0m64 42h0m0-1h0m-31-13h0m11 27h0m-7 0h0m18-40h0m14 46h0m-52-29h0m50 12h0m-5-15h0m33 18h0m-33-9h0m-13 15h0m-11-26h0m-12-17h0m55 48h0m28-16h0m-51-20h0m-25-10h0m63 8h0m-35 15h0m-36 18h0m51-15h0m-22-2h0m2 55h0m3-80h0m9 46h0m-12-6h0m9-20h0m12-2h0m-32 3h0m-2-32h0m-26 47h0m20 1h0m-29-22h0m70-11h0m-18 41h0m32-15h0m-42 25h0m5-45h0m59-4h0m-104 25h0m73-21h0m-42 27h0m12 14h0m-30 8h0m73-16h0m-71-7h0m50 15h0m-64-15h0m97-9h0m-96-6h0m72 25h0m-29-14h0m28 2h0m-21-13h0m-33 15h0m63-16h0m-4 12h0m-7 0h0m-4 34h0m-24 1h0m-18-36h0m4-14h0m29 6h0m-22-7h0m33 8h0m-17 6h0m21-19h0m-8-9h0m-15 30h0m10 6h0m-51-14h0m37-5h0m-23-1h0m7 25h0m-23-17h0m56-13h0m-14-18h0m-33 25h0m18 35h0m20-28h0m19 13h0m-47-42h0m89 53h0m-119-24h0m49 13h0m11-12h0m-31-5h0m-9 8h0m23-36h0m1 68h0m-12-18h0m-18-38h0m29 19h0m-46-19h0m64 64h0m-28-21h0m30 1h0m-44-39h0m-8 9h0m41 11h0m43 7h0m-42-17h0m-25 12h0m11-13h0m-20 4h0m16-1h0m45 15h0m-44-2h0m22 22h0m-13-6h0m46 12h0m-41 1h0m-29-34h0m36-11h0m-9 6h0m6-15h0m12 23h0m-26-4h0m-16-1h0m17-4h0m7-3h0m-22-12h0m49 6h0m10 0h0m-57 31h0m17-6h0m7-27h0m-35 21h0m31-24h0m0 11h0m-37 3h0m49-33h0m-49 72h0m50-31h0m16 2h0m-22-20h0m-10 36h0m10-31h0m-1 26h0m54-12h0m-79 18h0m53-8h0m-74-29h0m23 13h0m27-19h0m11 2h0m-54 17h0m-9-9h0m40 26h0m15-29h0m-29 38h0m23-16h0m-4-16h0m-12 21h0m-16 24h0m-20-45h0m44 22h0m-14-33h0m20-2h0m-10-20h0m-34 41h0m49-8h0m0-8h0m-17-25h0m55 58h0m17-11h0m-28 6h0m-58-36h0m53 7h0m-46 24h0m7-6h0m26-48h0m-16 48h0m-13 9h0m-17-18h0m41-3h0m25-12h0m17 27h0m-15 3h0m-80 32h0m12-11h0m38-41h0m-3-21h0m-23 36h0m1 4h0m3 4h0m-3 1h0m-10 32h0m23-41h0m-12-29h0m15 22h0m15 57h0m-5-95h0m29 70h0m-74-35h0m55-4h0m-12 34h0m-10-25h0m44-21h0m-19 21h0m-14 9h0m-20 2h0m38-16h0m-17 8h0m-27-31h0m60 16h0m-37 0h0m31 25h0m-65-18h0m2 39h0m24-21h0m18 1h0m-20-30h0m-23 15h0m33 26h0m-1-16h0m-18-23h0m27 26h0m-84-12h0m58-3h0m-4 10h0m45-11h0m10 25h0m-35-20h0m8 21h0m-47-50h0m16-23h0m53 62h0m-32 8h0m51-20h0m-20 6h0m-44-1h0m11-9h0m-4-4h0m4-41h0m5 51h0m5-14h0m7-2h0m-12 19h0m-9-1h0m-26 25h0m60-58h0m-21 18h0m-4-9h0m-34 64h0m5-49h0m13 15h0m-9-42h0m32 29h0m-2-15h0m19 8h0m-29-12h0m16 20h0m-16 1h0m-11-10h0m43 16h0m-34 37h0m-19-77h0m-5 30h0m42 14h0m36 5h0m-49-37h0m-14 32h0m42-24h0m-46-10h0m63 0h0m-67 34h0m-11-5h0m9 19h0m15-43h0m43 20h0m-33 4h0m-8 4h0m-4-6h0m-11-5h0m20-27h0m5 25h0m-18 41h0m-1-33h0m43 34h0m-37-8h0m-11-24h0m36-11h0m-13 18h0m11-17h0m-22 3h0m5 14h0m6-39h0m-42 41h0m7-29h0m39 4h0m-31-7h0m24 7h0m34 22h0m-17 13h0m-8-4h0m-25-22h0m12 9h0m-15-15h0m3-26h0m39 42h0m-26 56h0m0-70h0m-9 14h0m7-13h0m-13 23h0m1-13h0m41-61h0m27 36h0m-43 25h0m-1 15h0m-35-32h0m37 28h0m6-41h0m-12 50h0m-18-23h0m-25-17h0m6-15h0m35 26h0m3-2h0m-17 5h0m27-2h0m-19 17h0m-14-13h0m-15 44h0m16-56h0m30 59h0m-30-42h0m23-3h0m0-36h0m12 1h0m20 46h0m-39-55h0m39 4h0m-22 35h0m-19 1h0m17 44h0m-17-35h0m-12-29h0m19 39h0m-17 3h0m9-28h0m63-23h0m-82 29h0m-18 14h0m58-16h0m10-14h0m-21-4h0m-27 14h0m70 0h0m-75 32h0m45 0h0m-26-21h0m-25 11h0m44-58h0m19 56h0m-37-26h0m-28-9h0m-1 28h0m36-9h0m17 6h0m-44 4h0m9 4h0m0 15h0m36-13h0m-1-1h0m-20-5h0m20-40h0m-40 63h0m58-7h0m5 3h0m-35-42h0m-13 20h0m-8-23h0m19 30h0m-6-16h0m29-31h0m-25 49h0m-7-36h0m45-7h0m-35 27h0m33-11h0m-102 17h0m40 5h0m36-21h0m-68 23h0m48 30h0m21-41h0m-14-10h0m6 0h0m-11 24h0m21-14h0m-41 24h0m-1 1h0m35-67h0m-9 42h0m-8-21h0m11 35h0m-10-19h0m-4 3h0m72 4h0m-72-22h0m3 34h0m31-17h0m-13-14h0m10 54h0m8-45h0m-19-23h0m38 31h0m-33 30h0m12 10h0m-63-14h0m41-20h0m-60-2h0m40 5h0m9 6h0m-11-19h0m34-20h0m-17 38h0m25 23h0m-54-33h0m41 27h0m21-28h0m-9-11h0m6-12h0m-2 0h0m10 3h0m-9-3h0m19 18h0m-16-15h0m6-2h0m-23 18h0m19-20h0m-6-3h0m-1 11h0m3-12h0m-3 26h0m7-8h0m-22-13h0m26-19h0m-17 9h0m-15 61h0m44-73h0m1 16h0m-28 5h0m4 2h0m-5 32h0m8-35h0m10 12h0m-12 16h0m-14-25h0m55 19h0m-47-12h0m0 12h0m-5-13h0m-6-6h0m17-16h0m-9 2h0m4 31h0m13-38h0m-4 26h0m-15 18h0m0-38h0m14 20h0m-6-21h0m-12 23h0m11 16h0m-7-17h0m-25 23h0m63-21h0m-25 16h0m-12-28h0m9 12h0m13 1h0m-29-3h0m45 3h0m-28-19h0m-2 1h0m3 3h0m-22-8h0m26 8h0m6 11h0m-41 5h0m52 37h0m-23-7h0m-9-40h0m21-12h0m15 29h0m-30-6h0m-4-8h0m13 0h0m-3-12h0m-19 38h0m24-32h0m-32 8h0m13 26h0m16-9h0m6-6h0m-19 16h0m1-35h0m-16 15h0m6-11h0m26 0h0m-11 13h0m6 2h0m20-26h0m-30-2h0m20 7h0m-19-7h0m6 28h0m4-12h0m6 6h0m-7 24h0m-8 5h0m6-30h0m20-18h0m-27 25h0m7 26h0m28-28h0m-40 0h0m1-3h0m13-22h0m3 41h0m-8-24h0m7-4h0m-29-1h0m6-4h0m19 23h0m15-10h0m-2-7h0m-20 8h0m0-7h0m-20-17h0m45 7h0m-26 11h0m24-6h0m-8-10h0m-5 24h0m10-8h0m-21 29h0m12-26h0m10-3h0m-5 1h0m-11 20h0m-5-16h0m-8 8h0m4 1h0m6-54h0m-3-2h0m14 26h0m-33 22h0m6-1h0m19 2h0m-27-6h0m16 2h0m42-6h0m-20 2h0m-14 17h0m12-25h0m14 2h0m-36 22h0m4-6h0m15 14h0m-25-25h0m3 9h0m24-12h0m20-8h0m-61 7h0m38 16h0m-6-10h0m20 18h0m-34-8h0m21-36h0m-6 47h0m8-12h0m5-4h0m-18-4h0m19-25h0m-31 21h0m4 9h0m14 5h0m5 8h0m-6-28h0m2 20h0m-9-15h0m6-1h0m19 6h0m-59-15h0m36-27h0m1 34h0m5 11h0m-7 3h0m13-29h0m-23 15h0m9-4h0m-18 44h0m1-22h0m30-17h0m-15 30h0m33-44h0m-14 36h0m-19-29h0m7 6h0m18-5h0m-7 44h0m-10-10h0m23-36h0m-20 8h0m4 5h0m14-21h0m-2 32h0m-2 7h0m-15-21h0m-12 3h0m5 17h0m17-22h0m3 6h0m-21-12h0m19 19h0m-10-12h0m5 16h0m-1-18h0m-20 8h0m16 8h0m-9-2h0m-9 8h0m17-13h0m-29 2h0m46-30h0m-44 40h0m39-10h0m-8-2h0m-27 8h0m17 3h0m26 2h0m-42-42h0m18 21h0m8 6h0m-14-17h0m-7 8h0m12 5h0m37 24h0m-25-17h0m-14-2h0m-3-3h0m43 34h0m-34-53h0m-10 27h0m1-28h0m11-6h0m18 40h0m-28 3h0m10 6h0m-38-4h0m27-13h0m-1-6h0m23-9h0m-9 1h0m-22-25h0m20 32h0m21-9h0m-28 29h0m18-17h0m-24 14h0m27-19h0m-38 29h0m0-17h0m22-17h0m-2 24h0m0 1h0m-13 20h0m19-30h0m4 19h0m-6-32h0m-6 31h0m21-16h0m-34 5h0m16-23h0m2 31h0m-2-20h0m19 5h0m-23-5h0m17 0h0m11 2h0m-22 1h0m-4 22h0m-10-15h0m12-33h0m-3 43h0m3 1h0m-3-19h0m-28 11h0m28-12h0m21 23h0m5-12h0m-24-6h0m8 1h0m-3-14h0m24 36h0m-35-39h0m24 2h0m-21 1h0m30-5h0m-32 1h0m-47 7h0m35 26h0m29-28h0m-24 24h0m-2-7h0m10-9h0m11-2h0m-4-7h0m-15 17h0m19 1h0m-1-13h0m-21-8h0m38 2h0m-30-7h0m25 18h0m-6 5h0m-30-27h0m55 28h0m-33-54h0m24 18h0m0-1h0m-19-2h0m-26-6h0m13-9h0m-51 17h0m27-9h0m52-9h0m-6 26h0m-41-21h0m13-3h0m36 27h0m-26-29h0m3 27h0m7-28h0m-45 25h0m-12-24h0m16 20h0m37 6h0m-2-19h0m-15 3h0m-22-8h0m37 4h0m-3 2h0m-5 10h0m13-4h0m-53-14h0m24 3h0m-38 15h0m33-8h0m21 6h0m8 11h0m17-3h0m-57-18h0m30 12h0m4-4h0m-8 14h0m10-1h0m-58-27h0m52 11h0m-10 17h0m-3-21h0m-34-4h0m30-2h0m-3 13h0m5-10h0m-14 16h0m-16-18h0m64 20h0m-81 31h0m-30 0h0m13 11h0m5-16h0m8 8h0m-16 10h0m-4-34h0m16 35h0m-2 0h0m8-9h0m-22-3h0m18 32h0m-19-33h0m-7 13h0m16-26h0m-18 22h0m25-15h0m6 14h0m-20-10h0m9 30h0m3-26h0m5-15h0m-12 24h0m10-21h0m8 43h0m-11-39h0m-19 21h0m12-19h0m6-2h0m-5 13h0m334-145h0m-18-7h0m-8 2h0m-11 2h0m-23 0h0m7 12h0m23-3h0m2 5h0m-17 4h0m8 4h0m16 7h0m-49-12h0m5 7h0m5 6h0m6 4h0m3-6h0m4 4h0m-36 2h0m14 1h0m32 5h0m5 2h0m3 4h0m-18 1h0m-13-1h0m-3 3h0m-3 4h0m-4 1h0m23 0h0m-13 6h0m-23-6h0m2-10h0m-51-12h0m17 16h0m6 7h0m5 7h0m3 1h0m-9 5h0m18-5h0m4 3h0m-9 8h0m9-2h0m27 2h0m-82-20h0m0 6h0m-11-7h0m22 15h0m4 2h0m5 2h0m-8 4h0m-9 0h0m14 6h0m-25-8h0m0 6h0m-3 5h0m15 4h0m2 0h0m23-3h0m15 3h0m-12 10h0m1 3h0m10 1h0m0 12h0m23-9h0m-51 4h0m-10 4h0m-7 3h0m25 1h0m-30-24h0m4 9h0m-14-11h0m3 13h0m-10-11h0m2 15h0m0 3h0m-12-8h0m3-6h0m2-22h0m-3-6h0m-4 18h0m-2 4h0m-4 7h0m-9-44h0m2 13h0m0 9h0m-3 6h0m-3-8h0m-5-3h0m-3 6h0m-2 4h0m-7-26h0m1 14h0m1 17h0m-5 5h0m-2-15h0m20 17h0m4 6h0m7 2h0m3 2h0m-17-4h0m-4 4h0m1 7h0m-7 0h0m-5 3h0m15 2h0m2 6h0m15-1h0m2-7h0m-7-5h0m12 39h0m30-3h0m-81-81h0m-19 12h0m46 52h0m-2 16h0m7-2h0m-117 42h0m15 7h0m2 7h0m10 5h0m14 5h0m8-1h0m5-4h0m9 6h0m5-1h0m10 0h0m7 4h0m10-14h0m7-14h0m10 14h0m7 11h0m-22 10h0m15 4h0m-58-6h0m-2 2h0m16 3h0m-2 2h0m8 2h0m-37 4h0m4-1h0m6 6h0m7 7h0m-32-8h0m2 3h0m22 27h0m33-32h0m0 5h0" stroke="#000" stroke-width="3.90" stroke-linecap="round" fill="none"/>
<line x1="90.70" y1="963.90" x2="90.70" y2="1278.50" stroke="#000" stroke-width="3.3"/>
<line x1="89.10" y1="1276.90" x2="558.50" y2="1276.90" stroke="#000" stroke-width="3.3"/>
<line x1="81.70" y1="1010.50" x2="90.70" y2="1010.50" stroke="#000" stroke-width="3"/>
<text transform="translate(66.49,1018.60) scale(0.9400,1)" font-size="26" font-weight="bold" fill="#000">6</text>
<line x1="81.70" y1="1077.10" x2="90.70" y2="1077.10" stroke="#000" stroke-width="3"/>
<text transform="translate(66.49,1085.20) scale(0.9400,1)" font-size="26" font-weight="bold" fill="#000">3</text>
<line x1="81.70" y1="1143.70" x2="90.70" y2="1143.70" stroke="#000" stroke-width="3"/>
<text transform="translate(66.74,1151.80) scale(0.9400,1)" font-size="26" font-weight="bold" fill="#000">0</text>
<line x1="81.70" y1="1210.30" x2="90.70" y2="1210.30" stroke="#000" stroke-width="3"/>
<text transform="translate(58.43,1218.40) scale(0.9400,1)" font-size="26" font-weight="bold" fill="#000">-3</text>
<line x1="81.70" y1="1276.90" x2="90.70" y2="1276.90" stroke="#000" stroke-width="3"/>
<text transform="translate(58.43,1285.00) scale(0.9400,1)" font-size="26" font-weight="bold" fill="#000">-6</text>
<line x1="90.40" y1="1276.90" x2="90.40" y2="1285.70" stroke="#000" stroke-width="3"/>
<text transform="translate(79.40,1314.50) scale(0.9400,1)" font-size="26" font-weight="bold" fill="#000">-5</text>
<line x1="246.40" y1="1276.90" x2="246.40" y2="1285.70" stroke="#000" stroke-width="3"/>
<text transform="translate(239.68,1314.50) scale(0.9400,1)" font-size="26" font-weight="bold" fill="#000">0</text>
<line x1="402.40" y1="1276.90" x2="402.40" y2="1285.70" stroke="#000" stroke-width="3"/>
<text transform="translate(395.56,1314.50) scale(0.9400,1)" font-size="26" font-weight="bold" fill="#000">5</text>
<line x1="558.40" y1="1276.90" x2="558.40" y2="1285.70" stroke="#000" stroke-width="3"/>
<text transform="translate(544.59,1314.50) scale(0.9400,1)" font-size="26" font-weight="bold" fill="#000">10</text>
<text transform="translate(305.33,997.00) scale(0.9408,1)" font-size="23.5" fill="#000">R²=0.57</text>
<text transform="translate(204.25,1343.60) scale(0.9253,1)" font-size="25.5" font-weight="bold" fill="#000">log2(foldchange) of</text>
<text transform="translate(173.58,1369.50) scale(0.9291,1)" font-size="25.5" font-weight="bold" fill="#000">unsorted cells (trt./untrt.)</text>
<text transform="translate(19.30,1303.06) rotate(-90) scale(0.9323,1)" font-size="25.5" font-weight="bold" fill="#000">log2(foldchange) of RNAlater</text>
<text transform="translate(46.00,1268.45) rotate(-90) scale(0.9321,1)" font-size="25.5" font-weight="bold" fill="#000">sorted cells (pos./neg.)</text>
</svg></body></html>
